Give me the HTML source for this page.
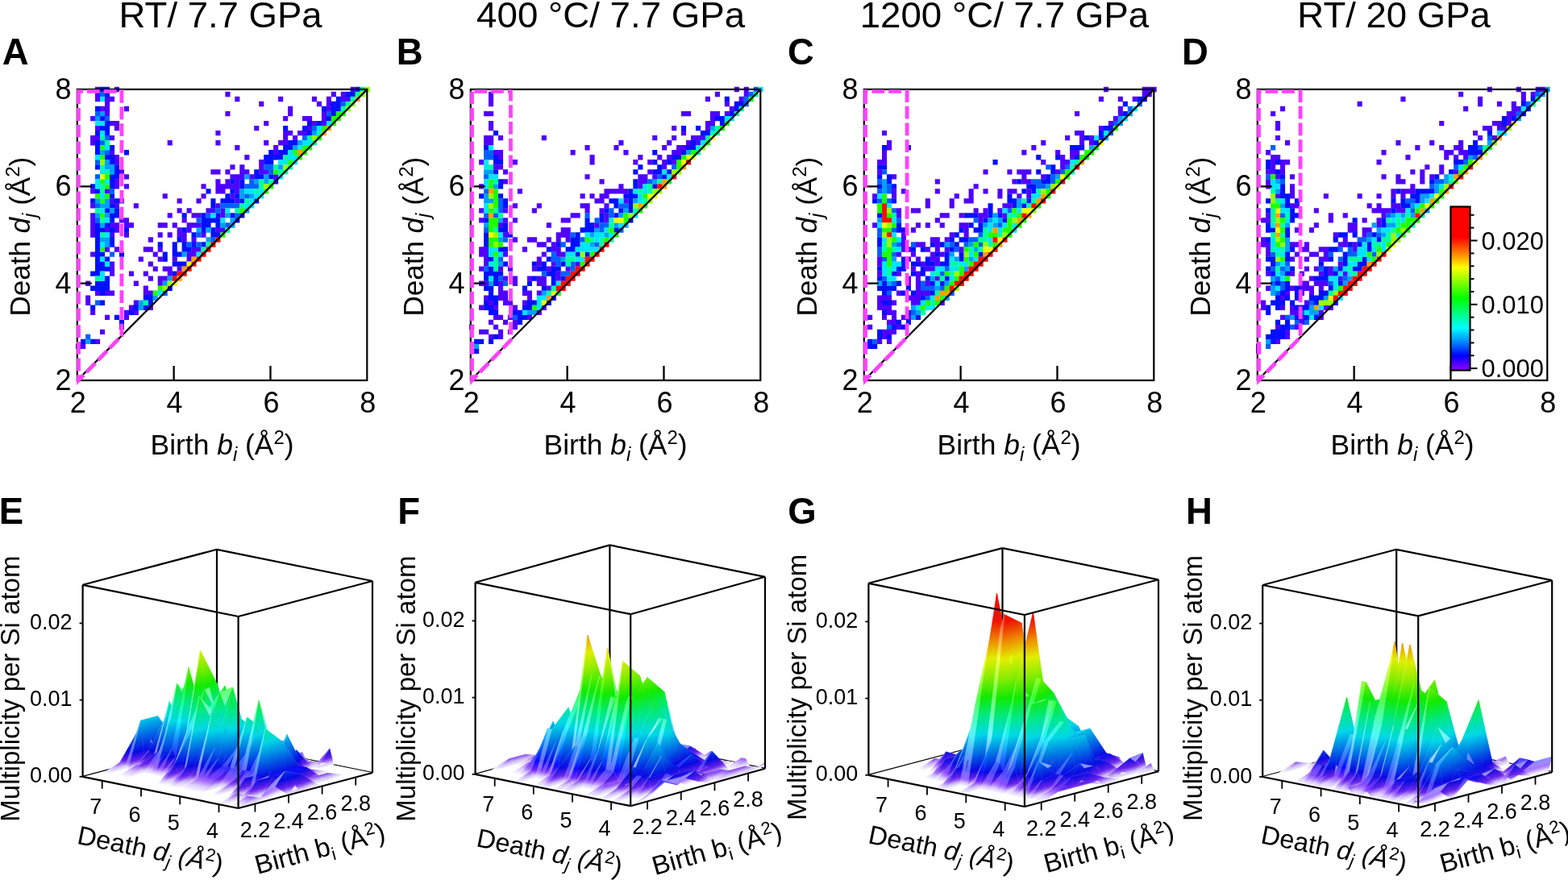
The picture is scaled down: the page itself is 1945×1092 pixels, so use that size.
<!DOCTYPE html>
<html><head><meta charset="utf-8"><style>
html,body{margin:0;padding:0;background:#fff;overflow:hidden}
svg{display:block;font-family:'Liberation Sans', Arial, Helvetica, sans-serif;}
.srf path{stroke-width:.8;stroke-linejoin:round}
.srf path[style]{fill:var(--g);stroke:var(--g)}
.k0{fill:#0a0aff;stroke:#0a0aff}.k1{fill:#a6b9ff;stroke:#a6b9ff}.k2{fill:#8afdda;stroke:#8afdda}.k3{fill:#8b47ff;stroke:#8b47ff}.k4{fill:#0082ff;stroke:#0082ff}.k5{fill:#0721e3;stroke:#0721e3}.k6{fill:#0541ff;stroke:#0541ff}.k7{fill:#10ff1e;stroke:#10ff1e}.k8{fill:#93f8ff;stroke:#93f8ff}.k9{fill:#00d6ff;stroke:#00d6ff}.k10{fill:#b6ff71;stroke:#b6ff71}
</style></head><body>
<svg width="1945" height="1092" viewBox="0 0 1945 1092">
<rect width="100%" height="100%" fill="#fff"/>
<defs><linearGradient id="L0" gradientUnits="userSpaceOnUse"><stop offset="0.000" stop-color="#f9f9f9"/><stop offset="0.008" stop-color="#e3d9f6"/><stop offset="0.016" stop-color="#cdbaf3"/><stop offset="0.028" stop-color="#945fef"/><stop offset="0.040" stop-color="#6522ea"/><stop offset="0.060" stop-color="#3515e3"/><stop offset="0.080" stop-color="#0909e2"/><stop offset="0.120" stop-color="#043ae3"/><stop offset="0.160" stop-color="#006be4"/><stop offset="0.200" stop-color="#009ae5"/><stop offset="0.252" stop-color="#00d8e6"/><stop offset="0.300" stop-color="#00e1b3"/><stop offset="0.340" stop-color="#00e888"/><stop offset="0.392" stop-color="#09e942"/><stop offset="0.440" stop-color="#12ea00"/><stop offset="0.492" stop-color="#51eb00"/><stop offset="0.540" stop-color="#8bec00"/><stop offset="0.588" stop-color="#b7ed00"/><stop offset="0.632" stop-color="#e0ee00"/><stop offset="0.680" stop-color="#e8b900"/><stop offset="0.720" stop-color="#ee8c00"/><stop offset="0.772" stop-color="#ee4d00"/><stop offset="0.820" stop-color="#ee1300"/><stop offset="1.000" stop-color="#ee0a00"/></linearGradient><linearGradient id="L1" gradientUnits="userSpaceOnUse"><stop offset="0.000" stop-color="#ffffff"/><stop offset="0.008" stop-color="#ebe1ff"/><stop offset="0.016" stop-color="#d7c3ff"/><stop offset="0.028" stop-color="#9e66ff"/><stop offset="0.040" stop-color="#6e25ff"/><stop offset="0.060" stop-color="#3c18ff"/><stop offset="0.080" stop-color="#0a0aff"/><stop offset="0.120" stop-color="#0541ff"/><stop offset="0.160" stop-color="#0078ff"/><stop offset="0.200" stop-color="#00acff"/><stop offset="0.252" stop-color="#00f0ff"/><stop offset="0.300" stop-color="#00f8c6"/><stop offset="0.340" stop-color="#00ff96"/><stop offset="0.392" stop-color="#0aff48"/><stop offset="0.440" stop-color="#14ff00"/><stop offset="0.492" stop-color="#58ff00"/><stop offset="0.540" stop-color="#96ff00"/><stop offset="0.588" stop-color="#c5ff00"/><stop offset="0.632" stop-color="#f0ff00"/><stop offset="0.680" stop-color="#f8c600"/><stop offset="0.720" stop-color="#ff9600"/><stop offset="0.772" stop-color="#ff5200"/><stop offset="0.820" stop-color="#ff1400"/><stop offset="1.000" stop-color="#ff0b00"/></linearGradient><linearGradient id="L2" gradientUnits="userSpaceOnUse"><stop offset="0.000" stop-color="#ffffff"/><stop offset="0.008" stop-color="#ece2ff"/><stop offset="0.016" stop-color="#d9c6ff"/><stop offset="0.028" stop-color="#a470ff"/><stop offset="0.040" stop-color="#7a37ff"/><stop offset="0.060" stop-color="#5131ff"/><stop offset="0.080" stop-color="#2626ff"/><stop offset="0.120" stop-color="#2056ff"/><stop offset="0.160" stop-color="#1b86ff"/><stop offset="0.200" stop-color="#1ab5ff"/><stop offset="0.252" stop-color="#19f1ff"/><stop offset="0.300" stop-color="#18f9cb"/><stop offset="0.340" stop-color="#17ffa0"/><stop offset="0.392" stop-color="#20ff58"/><stop offset="0.440" stop-color="#27ff15"/><stop offset="0.492" stop-color="#65ff14"/><stop offset="0.540" stop-color="#9eff13"/><stop offset="0.588" stop-color="#c9ff12"/><stop offset="0.632" stop-color="#f1ff11"/><stop offset="0.680" stop-color="#f9ca11"/><stop offset="0.720" stop-color="#ff9d11"/><stop offset="0.772" stop-color="#ff5e11"/><stop offset="0.820" stop-color="#ff2411"/><stop offset="1.000" stop-color="#ff1b11"/></linearGradient><linearGradient id="L3" gradientUnits="userSpaceOnUse"><stop offset="0.000" stop-color="#ffffff"/><stop offset="0.008" stop-color="#ece3ff"/><stop offset="0.016" stop-color="#dbc9ff"/><stop offset="0.028" stop-color="#ab7bff"/><stop offset="0.040" stop-color="#874aff"/><stop offset="0.060" stop-color="#684cff"/><stop offset="0.080" stop-color="#4444ff"/><stop offset="0.120" stop-color="#3e6cff"/><stop offset="0.160" stop-color="#3996ff"/><stop offset="0.200" stop-color="#37beff"/><stop offset="0.252" stop-color="#34f3ff"/><stop offset="0.300" stop-color="#32fad1"/><stop offset="0.340" stop-color="#31ffaa"/><stop offset="0.392" stop-color="#37ff69"/><stop offset="0.440" stop-color="#3dff2c"/><stop offset="0.492" stop-color="#73ff2a"/><stop offset="0.540" stop-color="#a6ff28"/><stop offset="0.588" stop-color="#cdff25"/><stop offset="0.632" stop-color="#f2ff23"/><stop offset="0.680" stop-color="#f9ce23"/><stop offset="0.720" stop-color="#ffa423"/><stop offset="0.772" stop-color="#ff6a23"/><stop offset="0.820" stop-color="#ff3423"/><stop offset="1.000" stop-color="#ff2c23"/></linearGradient><linearGradient id="L4" gradientUnits="userSpaceOnUse"><stop offset="0.000" stop-color="#ffffff"/><stop offset="0.008" stop-color="#ede5ff"/><stop offset="0.016" stop-color="#ddccff"/><stop offset="0.028" stop-color="#b387ff"/><stop offset="0.040" stop-color="#9561ff"/><stop offset="0.060" stop-color="#836cff"/><stop offset="0.080" stop-color="#6666ff"/><stop offset="0.120" stop-color="#6187ff"/><stop offset="0.160" stop-color="#5ba8ff"/><stop offset="0.200" stop-color="#58c9ff"/><stop offset="0.252" stop-color="#54f5ff"/><stop offset="0.300" stop-color="#50fad8"/><stop offset="0.340" stop-color="#4effb6"/><stop offset="0.392" stop-color="#51ff7d"/><stop offset="0.440" stop-color="#55ff46"/><stop offset="0.492" stop-color="#83ff43"/><stop offset="0.540" stop-color="#b0ff3f"/><stop offset="0.588" stop-color="#d3ff3c"/><stop offset="0.632" stop-color="#f3ff39"/><stop offset="0.680" stop-color="#fad238"/><stop offset="0.720" stop-color="#ffad38"/><stop offset="0.772" stop-color="#ff7838"/><stop offset="0.820" stop-color="#ff4838"/><stop offset="1.000" stop-color="#ff4038"/></linearGradient><linearGradient id="L5" gradientUnits="userSpaceOnUse"><stop offset="0.000" stop-color="#ffffff"/><stop offset="0.008" stop-color="#eee6ff"/><stop offset="0.016" stop-color="#e0d0ff"/><stop offset="0.028" stop-color="#bb93ff"/><stop offset="0.040" stop-color="#a477ff"/><stop offset="0.060" stop-color="#9e8bff"/><stop offset="0.080" stop-color="#8989ff"/><stop offset="0.120" stop-color="#83a1ff"/><stop offset="0.160" stop-color="#7cbaff"/><stop offset="0.200" stop-color="#79d3ff"/><stop offset="0.252" stop-color="#73f7ff"/><stop offset="0.300" stop-color="#6ffbdf"/><stop offset="0.340" stop-color="#6bffc2"/><stop offset="0.392" stop-color="#6cff91"/><stop offset="0.440" stop-color="#6dff61"/><stop offset="0.492" stop-color="#94ff5c"/><stop offset="0.540" stop-color="#baff57"/><stop offset="0.588" stop-color="#d8ff52"/><stop offset="0.632" stop-color="#f5ff4e"/><stop offset="0.680" stop-color="#fad74d"/><stop offset="0.720" stop-color="#ffb64d"/><stop offset="0.772" stop-color="#ff874d"/><stop offset="0.820" stop-color="#ff5b4d"/><stop offset="1.000" stop-color="#ff544d"/></linearGradient><linearGradient id="L6" gradientUnits="userSpaceOnUse"><stop offset="0.000" stop-color="#ffffff"/><stop offset="0.008" stop-color="#efe7ff"/><stop offset="0.016" stop-color="#e2d4ff"/><stop offset="0.028" stop-color="#c3a0ff"/><stop offset="0.040" stop-color="#b38dff"/><stop offset="0.060" stop-color="#b8abff"/><stop offset="0.080" stop-color="#acacff"/><stop offset="0.120" stop-color="#a5bbff"/><stop offset="0.160" stop-color="#9eccff"/><stop offset="0.200" stop-color="#99deff"/><stop offset="0.252" stop-color="#93f9ff"/><stop offset="0.300" stop-color="#8dfce5"/><stop offset="0.340" stop-color="#88ffce"/><stop offset="0.392" stop-color="#86ffa5"/><stop offset="0.440" stop-color="#86ff7b"/><stop offset="0.492" stop-color="#a4ff75"/><stop offset="0.540" stop-color="#c4ff6f"/><stop offset="0.588" stop-color="#ddff69"/><stop offset="0.632" stop-color="#f6ff63"/><stop offset="0.680" stop-color="#fbdc62"/><stop offset="0.720" stop-color="#ffbe62"/><stop offset="0.772" stop-color="#ff9562"/><stop offset="0.820" stop-color="#ff6e62"/><stop offset="1.000" stop-color="#ff6962"/></linearGradient><linearGradient id="q0" href="#L0" x1="540.5" y1="1840.1" x2="514.8" y2="1966.7"/><linearGradient id="q1" href="#L0" x1="550.1" y1="1842.1" x2="524.4" y2="1968.6"/><linearGradient id="q2" href="#L4" x1="524" y1="1848" x2="441" y2="1535"/><linearGradient id="q3" href="#L0" x1="533.3" y1="1838.7" x2="507.6" y2="1965.2"/><linearGradient id="q4" href="#L0" x1="545" y1="1854" x2="315" y2="1288"/><linearGradient id="q5" href="#L4" x1="500" y1="1854" x2="418" y2="1541"/><linearGradient id="q6" href="#L2" x1="504" y1="1872" x2="715" y2="831"/><linearGradient id="q7" href="#L4" x1="482" y1="1859" x2="400" y2="1546"/><linearGradient id="q8" href="#L0" x1="608" y1="1853.8" x2="582.3" y2="1980.4"/><linearGradient id="q9" href="#L0" x1="520" y1="1863" x2="367" y2="1286"/><linearGradient id="qa" href="#L0" x1="494" y1="1865" x2="342" y2="1288"/><linearGradient id="qb" href="#L0" x1="617.7" y1="1855.8" x2="592" y2="1982.4"/><linearGradient id="qc" href="#L0" x1="527.8" y1="1857" x2="502.1" y2="1983.6"/><linearGradient id="qd" href="#L2" x1="499" y1="1870" x2="710" y2="830"/><linearGradient id="qe" href="#L4" x1="592" y1="1862" x2="509" y2="1548"/><linearGradient id="qf" href="#L0" x1="625.9" y1="1857.4" x2="671.3" y2="1633.8"/><linearGradient id="qg" href="#L0" x1="445" y1="1860" x2="506" y2="1558"/><linearGradient id="qh" href="#L4" x1="511" y1="1865" x2="429" y2="1552"/><linearGradient id="qi" href="#L0" x1="600.9" y1="1852.4" x2="575.2" y2="1978.9"/><linearGradient id="qj" href="#L4" x1="639" y1="1862" x2="586" y2="1498"/><linearGradient id="qk" href="#L0" x1="545.7" y1="1860.6" x2="591.1" y2="1636.9"/><linearGradient id="ql" href="#L4" x1="459" y1="1864" x2="407" y2="1500"/><linearGradient id="qm" href="#L0" x1="523" y1="1869" x2="293" y2="1303"/><linearGradient id="qn" href="#L4" x1="613" y1="1864" x2="536" y2="1484"/><linearGradient id="qo" href="#L5" x1="435" y1="1866" x2="342" y2="1459"/><linearGradient id="qp" href="#L0" x1="661" y1="1867" x2="257" y2="1423"/><linearGradient id="qq" href="#L0" x1="556.8" y1="1862.9" x2="531.1" y2="1989.4"/><linearGradient id="qr" href="#L0" x1="482" y1="1869" x2="78" y2="1425"/><linearGradient id="qs" href="#L5" x1="533" y1="1868" x2="429" y2="1476"/><linearGradient id="qt" href="#L0" x1="617.2" y1="1855.7" x2="662.6" y2="1632"/><linearGradient id="qu" href="#L0" x1="467" y1="1860" x2="61" y2="1556"/><linearGradient id="qv" href="#L0" x1="656.3" y1="1863.6" x2="630.6" y2="1990.2"/><linearGradient id="qw" href="#L4" x1="568" y1="1867" x2="516" y2="1503"/><linearGradient id="qx" href="#L0" x1="475.1" y1="1865.7" x2="520.5" y2="1642.1"/><linearGradient id="qy" href="#L0" x1="549" y1="1872" x2="281" y2="1393"/><linearGradient id="qz" href="#L0" x1="628.4" y1="1845" x2="642.2" y2="1777"/><linearGradient id="q10" href="#L0" x1="448.7" y1="1847.4" x2="462.5" y2="1779.4"/><linearGradient id="q11" href="#L0" x1="665.9" y1="1865.6" x2="640.2" y2="1992.2"/><linearGradient id="q12" href="#L0" x1="575.2" y1="1853.6" x2="589" y2="1785.6"/><linearGradient id="q13" href="#L3" x1="488" y1="1870" x2="456" y2="1483"/><linearGradient id="q14" href="#L4" x1="552" y1="1871" x2="475" y2="1491"/><linearGradient id="q15" href="#L0" x1="649" y1="1873" x2="381" y2="1394"/><linearGradient id="q16" href="#L0" x1="456.8" y1="1862" x2="502.2" y2="1638.4"/><linearGradient id="q17" href="#L4" x1="590" y1="1868" x2="540" y2="1465"/><linearGradient id="q18" href="#L5" x1="415" y1="1870" x2="294" y2="1490"/><linearGradient id="q19" href="#L0" x1="477" y1="1854" x2="634" y2="1572"/><linearGradient id="q1a" href="#L0" x1="557.8" y1="1850.1" x2="571.7" y2="1782.1"/><linearGradient id="q1b" href="#L0" x1="649.1" y1="1862.2" x2="623.4" y2="1988.7"/><linearGradient id="q1c" href="#L3" x1="472" y1="1872" x2="426" y2="1478"/><linearGradient id="q1d" href="#L0" x1="589.7" y1="1851.9" x2="639.4" y2="1607"/><linearGradient id="q1e" href="#L0" x1="467" y1="1825" x2="111" y2="1730"/><linearGradient id="q1f" href="#L4" x1="511" y1="1874" x2="458" y2="1443"/><linearGradient id="q1g" href="#L5" x1="577" y1="1872" x2="489" y2="1460"/><linearGradient id="q1h" href="#L0" x1="661" y1="1878" x2="431" y2="1312"/><linearGradient id="q1i" href="#L5" x1="494" y1="1873" x2="398" y2="1439"/><linearGradient id="q1j" href="#L0" x1="410" y1="1877" x2="181" y2="1441"/><linearGradient id="q1k" href="#L5" x1="700" y1="1873" x2="596" y2="1481"/><linearGradient id="q1l" href="#L0" x1="537" y1="1880" x2="253" y2="1414"/><linearGradient id="q1m" href="#L0" x1="571.1" y1="1848.1" x2="620.9" y2="1603.2"/><linearGradient id="q1n" href="#L0" x1="535.2" y1="1810.7" x2="279.6" y2="1718.9"/><linearGradient id="q1o" href="#L5" x1="416" y1="1873" x2="295" y2="1464"/><linearGradient id="q1p" href="#L0" x1="710" y1="1880" x2="557" y2="1390"/><linearGradient id="q1q" href="#L0" x1="628" y1="1883" x2="419" y2="1370"/><linearGradient id="q1r" href="#L0" x1="426" y1="1865" x2="494" y2="1531"/><linearGradient id="q1s" href="#L5" x1="531" y1="1875" x2="436" y2="1518"/><linearGradient id="q1t" href="#L0" x1="608" y1="1881" x2="419" y2="1415"/><linearGradient id="q1u" href="#L5" x1="680" y1="1879" x2="577" y2="1486"/><linearGradient id="q1v" href="#L0" x1="528" y1="1877" x2="319" y2="1442"/><linearGradient id="q1w" href="#L0" x1="431" y1="1880" x2="252" y2="1438"/><linearGradient id="q1x" href="#L0" x1="712.7" y1="1875.1" x2="758.1" y2="1651.4"/><linearGradient id="q1y" href="#L0" x1="623.4" y1="1863.4" x2="637.2" y2="1795.4"/><linearGradient id="q1z" href="#L2" x1="445" y1="1876" x2="440" y2="1453"/><linearGradient id="q20" href="#L0" x1="528.8" y1="1858.9" x2="578.5" y2="1614.1"/><linearGradient id="q21" href="#L0" x1="696" y1="1886" x2="555" y2="1354"/><linearGradient id="q22" href="#L0" x1="534" y1="1883" x2="194" y2="1432"/><linearGradient id="q23" href="#L5" x1="432" y1="1879" x2="322" y2="1462"/><linearGradient id="q24" href="#L0" x1="722.4" y1="1877" x2="767.8" y2="1653.4"/><linearGradient id="q25" href="#L0" x1="655" y1="1867" x2="232" y2="1742"/><linearGradient id="q26" href="#L0" x1="390" y1="1887" x2="201" y2="1421"/><linearGradient id="q27" href="#L5" x1="483" y1="1870" x2="327" y2="1487"/><linearGradient id="q28" href="#L5" x1="558" y1="1875" x2="453" y2="1478"/><linearGradient id="q29" href="#L0" x1="606.1" y1="1859.9" x2="619.9" y2="1791.9"/><linearGradient id="q2a" href="#L4" x1="700" y1="1881" x2="623" y2="1502"/><linearGradient id="q2b" href="#L5" x1="529" y1="1879" x2="424" y2="1482"/><linearGradient id="q2c" href="#L4" x1="439" y1="1879" x2="383" y2="1447"/><linearGradient id="q2d" href="#L5" x1="734.3" y1="1883.3" x2="632.4" y2="1632.2"/><linearGradient id="q2e" href="#L5" x1="394" y1="1880" x2="284" y2="1463"/><linearGradient id="q2f" href="#L0" x1="642.2" y1="1880.2" x2="687.6" y2="1656.5"/><linearGradient id="q2g" href="#L0" x1="553" y1="1858" x2="278" y2="1479"/><linearGradient id="q2h" href="#L0" x1="539" y1="1857" x2="607" y2="1523"/><linearGradient id="q2i" href="#L4" x1="621" y1="1880" x2="560" y2="1503"/><linearGradient id="q2j" href="#L0" x1="704.1" y1="1873.3" x2="749.5" y2="1649.7"/><linearGradient id="q2k" href="#L5" x1="366" y1="1865" x2="243" y2="1562"/><linearGradient id="q2l" href="#L0" x1="519.9" y1="1857.1" x2="569.6" y2="1612.3"/><linearGradient id="q2m" href="#L0" x1="470" y1="1883" x2="294" y2="1449"/><linearGradient id="q2n" href="#L0" x1="748" y1="1890" x2="518" y2="1323"/><linearGradient id="q2o" href="#L0" x1="396" y1="1893" x2="285" y2="1415"/><linearGradient id="q2p" href="#L5" x1="658" y1="1885" x2="533" y2="1517"/><linearGradient id="q2q" href="#L0" x1="499" y1="1891" x2="350" y2="1417"/><linearGradient id="q2r" href="#L0" x1="610.8" y1="1795.2" x2="396.9" y2="1745.5"/><linearGradient id="q2s" href="#L0" x1="653" y1="1879" x2="247" y2="1574"/><linearGradient id="q2t" href="#L4" x1="367" y1="1883" x2="304" y2="1470"/><linearGradient id="q2u" href="#L0" x1="721" y1="1889" x2="530" y2="1417"/><linearGradient id="q2v" href="#L5" x1="561" y1="1878" x2="450" y2="1461"/><linearGradient id="q2w" href="#L5" x1="488" y1="1873" x2="345" y2="1465"/><linearGradient id="q2x" href="#L0" x1="752.8" y1="1883.2" x2="727.1" y2="2009.8"/><linearGradient id="q2y" href="#L0" x1="676" y1="1893" x2="468" y2="1379"/><linearGradient id="q2z" href="#L5" x1="413" y1="1881" x2="261" y2="1506"/><linearGradient id="q30" href="#L0" x1="448.3" y1="1845.5" x2="616" y2="1600.4"/><linearGradient id="q31" href="#L0" x1="564" y1="1874" x2="632" y2="1539"/><linearGradient id="q32" href="#L0" x1="646" y1="1892" x2="378" y2="1413"/><linearGradient id="q33" href="#L5" x1="728" y1="1885.9" x2="626.1" y2="1634.8"/><linearGradient id="q34" href="#L0" x1="387" y1="1894" x2="264" y2="1428"/><linearGradient id="q35" href="#L4" x1="565" y1="1880" x2="503" y2="1447"/><linearGradient id="q36" href="#L0" x1="500" y1="1884" x2="340" y2="1445"/><linearGradient id="q37" href="#L6" x1="424.9" y1="1816.5" x2="311.2" y2="1751.1"/><linearGradient id="q38" href="#L4" x1="677" y1="1886" x2="627" y2="1482"/><linearGradient id="q39" href="#L2" x1="497" y1="1888" x2="479" y2="1440"/><linearGradient id="q3a" href="#L0" x1="567" y1="1880" x2="648" y2="1478"/><linearGradient id="q3b" href="#L5" x1="653" y1="1883" x2="530" y2="1579"/><linearGradient id="q3c" href="#L5" x1="384" y1="1886" x2="261" y2="1583"/><linearGradient id="q3d" href="#L0" x1="736" y1="1879.8" x2="710.3" y2="2006.4"/><linearGradient id="q3e" href="#L0" x1="612" y1="1872" x2="383" y2="1492"/><linearGradient id="q3f" href="#L5" x1="491" y1="1886" x2="385" y2="1453"/><linearGradient id="q3g" href="#L0" x1="432" y1="1897" x2="318" y2="1428"/><linearGradient id="q3h" href="#L5" x1="333.2" y1="1858" x2="233.4" y2="1772"/><linearGradient id="q3i" href="#L0" x1="487" y1="1866" x2="555" y2="1532"/><linearGradient id="q3j" href="#L5" x1="601.2" y1="1871.3" x2="483.3" y2="1714.3"/><linearGradient id="q3k" href="#L5" x1="663" y1="1890" x2="576" y2="1478"/><linearGradient id="q3l" href="#L0" x1="748" y1="1896" x2="518" y2="1329"/><linearGradient id="q3m" href="#L0" x1="390" y1="1905" x2="355" y2="1378"/><linearGradient id="q3n" href="#L4" x1="586" y1="1888" x2="502" y2="1448"/><linearGradient id="q3o" href="#L3" x1="484" y1="1889" x2="458" y2="1440"/><linearGradient id="q3p" href="#L5" x1="456" y1="1881" x2="291" y2="1497"/><linearGradient id="q3q" href="#L0" x1="702" y1="1897" x2="510" y2="1425"/><linearGradient id="q3r" href="#L5" x1="544" y1="1880" x2="410" y2="1483"/><linearGradient id="q3s" href="#L0" x1="567.1" y1="1850.2" x2="734.8" y2="1605.1"/><linearGradient id="q3t" href="#L0" x1="686" y1="1897" x2="497" y2="1431"/><linearGradient id="q3u" href="#L5" x1="347" y1="1868" x2="685" y2="1625"/><linearGradient id="q3v" href="#L0" x1="604" y1="1890" x2="440" y2="1463"/><linearGradient id="q3w" href="#L5" x1="297.1" y1="1876" x2="462" y2="1924.6"/><linearGradient id="q3x" href="#L0" x1="561" y1="1869" x2="336" y2="1486"/><linearGradient id="q3y" href="#L0" x1="791.4" y1="1891.1" x2="765.7" y2="2017.6"/><linearGradient id="q3z" href="#L0" x1="456" y1="1900" x2="348" y2="1433"/><linearGradient id="q40" href="#L4" x1="703" y1="1895" x2="620" y2="1582"/><linearGradient id="q41" href="#L0" x1="352" y1="1903" x2="236" y2="1434"/><linearGradient id="q42" href="#L4" x1="545" y1="1884" x2="494" y2="1445"/><linearGradient id="q43" href="#L0" x1="646" y1="1885" x2="275" y2="1566"/><linearGradient id="q44" href="#L2" x1="387" y1="1945" x2="575" y2="1021"/><linearGradient id="q45" href="#L0" x1="316" y1="1909" x2="299" y2="1363"/><linearGradient id="q46" href="#L5" x1="608" y1="1892" x2="484" y2="1464"/><linearGradient id="q47" href="#L0" x1="553" y1="1889" x2="310" y2="1468"/><linearGradient id="q48" href="#L5" x1="805" y1="1896" x2="664" y2="1550"/><linearGradient id="q49" href="#L0" x1="710.3" y1="1881.1" x2="724.1" y2="1813.1"/><linearGradient id="q4a" href="#L5" x1="481" y1="1884" x2="336" y2="1482"/><linearGradient id="q4b" href="#L5" x1="356.6" y1="1896.9" x2="219.2" y2="1651"/><linearGradient id="q4c" href="#L0" x1="594" y1="1889" x2="418" y2="1453"/><linearGradient id="q4d" href="#L4" x1="626" y1="1895" x2="575" y2="1491"/><linearGradient id="q4e" href="#L0" x1="694" y1="1902" x2="426" y2="1422"/><linearGradient id="q4f" href="#L4" x1="775" y1="1899" x2="692" y2="1586"/><linearGradient id="q4g" href="#L4" x1="395" y1="1912" x2="499" y2="1400"/><linearGradient id="q4h" href="#L0" x1="638" y1="1888" x2="443" y2="1479"/><linearGradient id="q4i" href="#L4" x1="316" y1="1911" x2="426" y2="1374"/><linearGradient id="q4j" href="#L5" x1="553" y1="1885" x2="429" y2="1458"/><linearGradient id="q4k" href="#L0" x1="368" y1="1910" x2="227" y2="1377"/><linearGradient id="q4l" href="#L0" x1="814" y1="1902" x2="682" y2="1404"/><linearGradient id="q4m" href="#L0" x1="725" y1="1905" x2="496" y2="1338"/><linearGradient id="q4n" href="#L5" x1="584" y1="1882" x2="451" y2="1477"/><linearGradient id="q4o" href="#L5" x1="646" y1="1890" x2="504" y2="1539"/><linearGradient id="q4p" href="#L5" x1="698" y1="1898" x2="604" y2="1541"/><linearGradient id="q4q" href="#L5" x1="446" y1="1895" x2="312" y2="1498"/><linearGradient id="q4r" href="#L0" x1="786" y1="1903" x2="556" y2="1337"/><linearGradient id="q4s" href="#L0" x1="596" y1="1886" x2="661" y2="1566"/><linearGradient id="q4t" href="#L2" x1="332" y1="1914" x2="544" y2="874"/><linearGradient id="q4u" href="#L0" x1="600" y1="1886" x2="424" y2="1452"/><linearGradient id="q4v" href="#L0" x1="729" y1="1897.8" x2="774.4" y2="1674.2"/><linearGradient id="q4w" href="#L0" x1="485" y1="1910" x2="406" y2="1429"/><linearGradient id="q4x" href="#L5" x1="377" y1="1901" x2="254" y2="1597"/><linearGradient id="q4y" href="#L5" x1="282.1" y1="1908.2" x2="180.2" y2="1657.1"/><linearGradient id="q4z" href="#L0" x1="591" y1="1896" x2="434" y2="1463"/><linearGradient id="q50" href="#L0" x1="667" y1="1904" x2="478" y2="1438"/><linearGradient id="q51" href="#L0" x1="713" y1="1907" x2="505" y2="1394"/><linearGradient id="q52" href="#L3" x1="790" y1="1910" x2="930" y2="1220"/><linearGradient id="q53" href="#L0" x1="451" y1="1914" x2="385" y2="1418"/><linearGradient id="q54" href="#L5" x1="346.7" y1="1895.5" x2="276.8" y2="1818.7"/><linearGradient id="q55" href="#L0" x1="634" y1="1906" x2="445" y2="1440"/><linearGradient id="q56" href="#L0" x1="605" y1="1883" x2="355" y2="1484"/><linearGradient id="q57" href="#L0" x1="478" y1="1915" x2="435" y2="1411"/><linearGradient id="q58" href="#L0" x1="738.7" y1="1899.8" x2="784.1" y2="1676.1"/><linearGradient id="q59" href="#L3" x1="373" y1="1923" x2="513" y2="1232"/><linearGradient id="q5a" href="#L5" x1="591" y1="1896" x2="455" y2="1477"/><linearGradient id="q5b" href="#L0" x1="292" y1="1914" x2="140" y2="1337"/><linearGradient id="q5c" href="#L0" x1="641" y1="1889" x2="709" y2="1555"/><linearGradient id="q5d" href="#L4" x1="716" y1="1904" x2="639" y2="1525"/><linearGradient id="q5e" href="#L2" x1="436" y1="1919" x2="468" y2="1411"/><linearGradient id="q5f" href="#L5" x1="643" y1="1892" x2="501" y2="1540"/><linearGradient id="q5g" href="#L3" x1="487" y1="1969" x2="618" y2="1325"/><linearGradient id="q5h" href="#L6" x1="537" y1="1880" x2="361" y2="1502"/><linearGradient id="q5i" href="#L5" x1="750.6" y1="1906.1" x2="648.7" y2="1655"/><linearGradient id="q5j" href="#L3" x1="383" y1="1925" x2="523" y2="1234"/><linearGradient id="q5k" href="#L0" x1="628" y1="1895" x2="454" y2="1466"/><linearGradient id="q5l" href="#L0" x1="673" y1="1912" x2="465" y2="1398"/><linearGradient id="q5m" href="#L0" x1="720.4" y1="1896.1" x2="765.8" y2="1672.4"/><linearGradient id="q5n" href="#L2" x1="271" y1="1922" x2="483" y2="881"/><linearGradient id="q5o" href="#L0" x1="458" y1="1917" x2="421" y2="1411"/><linearGradient id="q5p" href="#L0" x1="366" y1="1918" x2="285" y2="1349"/><linearGradient id="q5q" href="#L4" x1="643" y1="1901" x2="580" y2="1488"/><linearGradient id="q5r" href="#L0" x1="601" y1="1853" x2="303" y2="1681"/><linearGradient id="q5s" href="#L0" x1="781" y1="1893" x2="357" y2="1768"/><linearGradient id="q5t" href="#L0" x1="526" y1="1915" x2="440" y2="1436"/><linearGradient id="q5u" href="#L6" x1="418" y1="1901" x2="242" y2="1563"/><linearGradient id="q5v" href="#L5" x1="675" y1="1903" x2="552" y2="1600"/><linearGradient id="q5w" href="#L0" x1="738" y1="1911" x2="546" y2="1440"/><linearGradient id="q5x" href="#L6" x1="485" y1="1893" x2="299" y2="1605"/><linearGradient id="q5y" href="#L0" x1="666" y1="1908" x2="487" y2="1466"/><linearGradient id="q5z" href="#L3" x1="369" y1="1922" x2="510" y2="1231"/><linearGradient id="q60" href="#L5" x1="608" y1="1880" x2="453" y2="1498"/><linearGradient id="q61" href="#L0" x1="529" y1="1923" x2="437" y2="1426"/><linearGradient id="q62" href="#L0" x1="419" y1="1919" x2="335" y2="1426"/><linearGradient id="q63" href="#L0" x1="628" y1="1906" x2="385" y2="1485"/><linearGradient id="q64" href="#L5" x1="320.7" y1="1916" x2="218.8" y2="1664.9"/><linearGradient id="q65" href="#L0" x1="706.2" y1="1861" x2="468.9" y2="1843.8"/><linearGradient id="q66" href="#L5" x1="748" y1="1910" x2="630" y2="1509"/><linearGradient id="q67" href="#L6" x1="433.7" y1="1765.8" x2="553.6" y2="1756.8"/><linearGradient id="q68" href="#L3" x1="379" y1="1924" x2="519" y2="1233"/><linearGradient id="q69" href="#L0" x1="606" y1="1904" x2="432" y2="1475"/><linearGradient id="q6a" href="#L0" x1="662" y1="1916" x2="454" y2="1403"/><linearGradient id="q6b" href="#L0" x1="778.7" y1="1907.9" x2="753" y2="2034.5"/><linearGradient id="q6c" href="#L4" x1="483" y1="1932" x2="591" y2="1397"/><linearGradient id="q6d" href="#L0" x1="423" y1="1924" x2="360" y2="1378"/><linearGradient id="q6e" href="#L2" x1="325" y1="1932" x2="536" y2="892"/><linearGradient id="q6f" href="#L3" x1="606" y1="1909" x2="572" y2="1467"/><linearGradient id="q6g" href="#L4" x1="693" y1="1909" x2="643" y2="1505"/><linearGradient id="q6h" href="#L0" x1="759" y1="1914" x2="576" y2="1464"/><linearGradient id="q6i" href="#L3" x1="449" y1="1943" x2="562" y2="1386"/><linearGradient id="q6j" href="#L4" x1="384" y1="1925" x2="493" y2="1387"/><linearGradient id="q6k" href="#L5" x1="676" y1="1910" x2="554" y2="1493"/><linearGradient id="q6l" href="#L5" x1="591" y1="1899" x2="491" y2="1520"/><linearGradient id="q6m" href="#L0" x1="607" y1="1889" x2="333" y2="1509"/><linearGradient id="q6n" href="#L0" x1="788.4" y1="1909.9" x2="762.7" y2="2036.5"/><linearGradient id="q6o" href="#L0" x1="432" y1="1922" x2="301" y2="1424"/><linearGradient id="q6p" href="#L4" x1="623" y1="1904" x2="561" y2="1491"/><linearGradient id="q6q" href="#L0" x1="340" y1="1923" x2="188" y2="1347"/><linearGradient id="q6r" href="#L0" x1="692.8" y1="1892.3" x2="742.6" y2="1647.4"/><linearGradient id="q6s" href="#L4" x1="762" y1="1916" x2="679" y2="1603"/><linearGradient id="q6t" href="#L2" x1="310" y1="1929" x2="521" y2="889"/><linearGradient id="q6u" href="#L0" x1="513" y1="1922" x2="412" y2="1441"/><linearGradient id="q6v" href="#L0" x1="720" y1="1883" x2="382" y2="1657"/><linearGradient id="q6w" href="#L3" x1="397" y1="1928" x2="521" y2="1315"/><linearGradient id="q6x" href="#L4" x1="602" y1="1911" x2="518" y2="1471"/><linearGradient id="q6y" href="#L6" x1="575" y1="1890" x2="404" y2="1530"/><linearGradient id="q6z" href="#L0" x1="798" y1="1911.9" x2="772.3" y2="2038.4"/><linearGradient id="q70" href="#L5" x1="444" y1="1919" x2="296" y2="1552"/><linearGradient id="q71" href="#L0" x1="643" y1="1918" x2="488" y2="1460"/><linearGradient id="q72" href="#L0" x1="714" y1="1920" x2="561" y2="1430"/><linearGradient id="q73" href="#L0" x1="771.6" y1="1906.5" x2="745.9" y2="2033.1"/><linearGradient id="q74" href="#L2" x1="320" y1="1931" x2="531" y2="891"/><linearGradient id="q75" href="#L5" x1="541" y1="1904" x2="396" y2="1496"/><linearGradient id="q76" href="#L3" x1="408" y1="1930" x2="548" y2="1239"/><linearGradient id="q77" href="#L0" x1="674.3" y1="1888.5" x2="724" y2="1643.6"/><linearGradient id="q78" href="#L0" x1="680" y1="1873" x2="388" y2="1557"/><linearGradient id="q79" href="#L0" x1="565" y1="1921" x2="451" y2="1456"/><linearGradient id="q7a" href="#L6" x1="470" y1="1901" x2="283" y2="1632"/><linearGradient id="q7b" href="#L0" x1="641" y1="1925" x2="433" y2="1411"/><linearGradient id="q7c" href="#L5" x1="724" y1="1917" x2="575" y2="1550"/><linearGradient id="q7d" href="#L0" x1="781.2" y1="1908.5" x2="755.5" y2="2035"/><linearGradient id="q7e" href="#L0" x1="555" y1="1915" x2="395" y2="1475"/><linearGradient id="q7f" href="#L0" x1="706" y1="1921" x2="546" y2="1461"/><linearGradient id="q7g" href="#L0" x1="638" y1="1919" x2="484" y2="1461"/><linearGradient id="q7h" href="#L4" x1="563" y1="1911" x2="500" y2="1498"/><linearGradient id="q7i" href="#L3" x1="436" y1="1946" x2="554" y2="1366"/><linearGradient id="q7j" href="#L5" x1="656" y1="1916" x2="560" y2="1482"/><linearGradient id="q7k" href="#L0" x1="738" y1="1923" x2="576" y2="1459"/><linearGradient id="q7l" href="#L0" x1="793" y1="1924" x2="563" y2="1358"/><linearGradient id="q7m" href="#L0" x1="522" y1="1937" x2="518" y2="1419"/><linearGradient id="q7n" href="#L3" x1="426" y1="1934" x2="550" y2="1321"/><linearGradient id="q7o" href="#L0" x1="703" y1="1925" x2="473" y2="1359"/><linearGradient id="q7p" href="#L0" x1="631" y1="1925" x2="442" y2="1459"/><linearGradient id="q7q" href="#L6" x1="604" y1="1896" x2="433" y2="1536"/><linearGradient id="q7r" href="#L0" x1="480" y1="1929" x2="369" y2="1451"/><linearGradient id="q7s" href="#L0" x1="673" y1="1933" x2="538" y2="1422"/><linearGradient id="q7t" href="#L1" x1="736" y1="1920" x2="742" y2="1502"/><linearGradient id="q7u" href="#L5" x1="555" y1="1917" x2="433" y2="1500"/><linearGradient id="q7v" href="#L6" x1="456.1" y1="1893.1" x2="307.3" y2="1771.8"/><linearGradient id="q7w" href="#L5" x1="721" y1="1915" x2="562" y2="1607"/><linearGradient id="q7x" href="#L5" x1="635" y1="1921" x2="530" y2="1489"/><linearGradient id="q7y" href="#L0" x1="836.6" y1="1919.7" x2="810.9" y2="2046.3"/><linearGradient id="q7z" href="#L0" x1="583" y1="1937" x2="525" y2="1437"/><linearGradient id="q80" href="#L5" x1="506" y1="1915" x2="334" y2="1535"/><linearGradient id="q81" href="#L0" x1="650.3" y1="1869.7" x2="683.9" y2="1704.4"/><linearGradient id="q82" href="#L0" x1="745.9" y1="1907.7" x2="759.7" y2="1839.7"/><linearGradient id="q83" href="#L0" x1="577" y1="1927" x2="423" y2="1468"/><linearGradient id="q84" href="#L5" x1="729" y1="1924" x2="638" y2="1494"/><linearGradient id="q85" href="#L0" x1="667" y1="1925" x2="513" y2="1467"/><linearGradient id="q86" href="#L0" x1="454" y1="1938" x2="419" y2="1410"/><linearGradient id="q87" href="#L0" x1="596" y1="1933" x2="495" y2="1452"/><linearGradient id="q88" href="#L0" x1="511" y1="1931" x2="403" y2="1463"/><linearGradient id="q89" href="#L0" x1="725" y1="1882" x2="442" y2="1642"/><linearGradient id="q8a" href="#L2" x1="752" y1="1941" x2="963" y2="900"/><linearGradient id="q8b" href="#L4" x1="820" y1="1927" x2="737" y2="1614"/><linearGradient id="q8c" href="#L0" x1="551" y1="1943" x2="547" y2="1424"/><linearGradient id="q8d" href="#L0" x1="463" y1="1937" x2="381" y2="1369"/><linearGradient id="q8e" href="#L0" x1="752" y1="1924" x2="553" y2="1500"/><linearGradient id="q8f" href="#L5" x1="659" y1="1913" x2="558" y2="1534"/><linearGradient id="q8g" href="#L0" x1="600" y1="1935" x2="470" y2="1443"/><linearGradient id="q8h" href="#L0" x1="503" y1="1941" x2="437" y2="1407"/><linearGradient id="q8i" href="#L0" x1="691" y1="1931" x2="287" y2="1487"/><linearGradient id="q8j" href="#L0" x1="781" y1="1930" x2="377" y2="1486"/><linearGradient id="q8k" href="#L0" x1="831" y1="1932" x2="602" y2="1366"/><linearGradient id="q8l" href="#L0" x1="561" y1="1944" x2="554" y2="1416"/><linearGradient id="q8m" href="#L5" x1="425.4" y1="1875.4" x2="690.2" y2="1762.6"/><linearGradient id="q8n" href="#L0" x1="745" y1="1933" x2="580" y2="1447"/><linearGradient id="q8o" href="#L5" x1="676" y1="1921" x2="577" y2="1490"/><linearGradient id="q8p" href="#L6" x1="533" y1="1917" x2="349" y2="1576"/><linearGradient id="q8q" href="#L5" x1="621" y1="1921" x2="464" y2="1534"/><linearGradient id="q8r" href="#L5" x1="420" y1="1935" x2="280" y2="1589"/><linearGradient id="q8s" href="#L4" x1="691" y1="1930" x2="639" y2="1499"/><linearGradient id="q8t" href="#L0" x1="774.3" y1="1926.5" x2="819.7" y2="1702.8"/><linearGradient id="q8u" href="#L3" x1="554" y1="1958" x2="690" y2="1288"/><linearGradient id="q8v" href="#L0" x1="485" y1="1943" x2="419" y2="1410"/><linearGradient id="q8w" href="#L5" x1="753" y1="1931" x2="635" y2="1554"/><linearGradient id="q8x" href="#L0" x1="691" y1="1925" x2="511" y2="1509"/><linearGradient id="q8y" href="#L0" x1="624" y1="1939" x2="524" y2="1457"/><linearGradient id="q8z" href="#L0" x1="531" y1="1940" x2="442" y2="1456"/><linearGradient id="q90" href="#L0" x1="430" y1="1942" x2="322" y2="1407"/><linearGradient id="q91" href="#L5" x1="715" y1="1923" x2="563" y2="1548"/><linearGradient id="q92" href="#L0" x1="783.9" y1="1928.4" x2="829.3" y2="1704.8"/><linearGradient id="q93" href="#L0" x1="491" y1="1944" x2="445" y2="1386"/><linearGradient id="q94" href="#L0" x1="756" y1="1922.8" x2="801.4" y2="1699.1"/><linearGradient id="q95" href="#L5" x1="678" y1="1933" x2="586" y2="1503"/><linearGradient id="q96" href="#L6" x1="640.2" y1="1893.4" x2="483.1" y2="1705.9"/><linearGradient id="q97" href="#L0" x1="532" y1="1947" x2="466" y2="1413"/><linearGradient id="q98" href="#L0" x1="437" y1="1943" x2="285" y2="1366"/><linearGradient id="q99" href="#L0" x1="721" y1="1938" x2="596" y2="1465"/><linearGradient id="q9a" href="#L4" x1="797" y1="1934" x2="714" y2="1621"/><linearGradient id="q9b" href="#L4" x1="571" y1="1950" x2="680" y2="1415"/><linearGradient id="q9c" href="#L3" x1="405" y1="1949" x2="545" y2="1258"/><linearGradient id="q9d" href="#L0" x1="765.6" y1="1924.7" x2="811" y2="1701.1"/><linearGradient id="q9e" href="#L0" x1="702" y1="1935" x2="522" y2="1493"/><linearGradient id="q9f" href="#L5" x1="469" y1="1938" x2="717" y2="1493"/><linearGradient id="q9g" href="#L6" x1="672" y1="1903" x2="479" y2="1584"/><linearGradient id="q9h" href="#L0" x1="542" y1="1948" x2="452" y2="1399"/><linearGradient id="q9i" href="#L5" x1="449" y1="1940" x2="309" y2="1595"/><linearGradient id="q9j" href="#L0" x1="748" y1="1918" x2="430" y2="1659"/><linearGradient id="q9k" href="#L0" x1="806" y1="1940" x2="654" y2="1363"/><linearGradient id="q9l" href="#L2" x1="416" y1="1951" x2="627" y2="910"/><linearGradient id="q9m" href="#L3" x1="583" y1="1964" x2="719" y2="1294"/><linearGradient id="q9n" href="#L0" x1="788" y1="1940" x2="520" y2="1461"/><linearGradient id="q9o" href="#L3" x1="499" y1="1953" x2="620" y2="1358"/><linearGradient id="q9p" href="#L3" x1="672" y1="1955" x2="790" y2="1375"/><linearGradient id="q9q" href="#L0" x1="658" y1="1940" x2="537" y2="1483"/><linearGradient id="q9r" href="#L2" x1="534" y1="1968" x2="705" y2="1122"/><linearGradient id="q9s" href="#L0" x1="459" y1="1948" x2="351" y2="1412"/><linearGradient id="q9t" href="#L4" x1="730" y1="1938" x2="677" y2="1507"/><linearGradient id="q9u" href="#L3" x1="592" y1="1958" x2="710" y2="1378"/><linearGradient id="q9v" href="#L0" x1="791" y1="1944" x2="638" y2="1368"/><linearGradient id="q9w" href="#L3" x1="509" y1="1958" x2="645" y2="1288"/><linearGradient id="q9x" href="#L5" x1="712" y1="1936" x2="602" y2="1518"/><linearGradient id="q9y" href="#L5" x1="664" y1="1932" x2="512" y2="1557"/><linearGradient id="q9z" href="#L2" x1="543" y1="1970" x2="715" y2="1124"/><linearGradient id="qa0" href="#L0" x1="466" y1="1949" x2="313" y2="1372"/><linearGradient id="qa1" href="#L3" x1="434" y1="1955" x2="574" y2="1264"/><linearGradient id="qa2" href="#L4" x1="597" y1="1953" x2="701" y2="1441"/><linearGradient id="qa3" href="#L2" x1="519" y1="1965" x2="691" y2="1119"/><linearGradient id="qa4" href="#L0" x1="695" y1="1930" x2="772" y2="1553"/><linearGradient id="qa5" href="#L0" x1="670" y1="1947" x2="545" y2="1474"/><linearGradient id="qa6" href="#L3" x1="556" y1="1960" x2="697" y2="1269"/><linearGradient id="qa7" href="#L5" x1="475.1" y1="1947.4" x2="373.2" y2="1696.3"/><linearGradient id="qa8" href="#L2" x1="445" y1="1957" x2="656" y2="916"/><linearGradient id="qa9" href="#L2" x1="529" y1="1967" x2="701" y2="1121"/><linearGradient id="qaa" href="#L0" x1="740" y1="1943" x2="561" y2="1501"/><linearGradient id="qab" href="#L3" x1="566" y1="1962" x2="706" y2="1271"/><linearGradient id="qac" href="#L0" x1="767" y1="1951" x2="558" y2="1437"/><linearGradient id="qad" href="#L2" x1="479" y1="1964" x2="691" y2="923"/><linearGradient id="qae" href="#L3" x1="621" y1="1964" x2="739" y2="1384"/><linearGradient id="qaf" href="#L0" x1="550" y1="1955" x2="468" y2="1386"/><linearGradient id="qag" href="#L5" x1="693" y1="1938" x2="541" y2="1563"/><linearGradient id="qah" href="#L3" x1="576" y1="1964" x2="716" y2="1273"/><linearGradient id="qai" href="#L0" x1="764" y1="1951" x2="612" y2="1374"/><linearGradient id="qaj" href="#L2" x1="489" y1="1966" x2="700" y2="925"/><linearGradient id="qak" href="#L2" x1="464" y1="1961" x2="676" y2="920"/><linearGradient id="qal" href="#L3" x1="553" y1="1959" x2="693" y2="1269"/><linearGradient id="qam" href="#L0" x1="669.6" y1="1892.9" x2="719.4" y2="1648"/><linearGradient id="qan" href="#L2" x1="582" y1="1978" x2="754" y2="1132"/><linearGradient id="qao" href="#L0" x1="771.3" y1="1945.3" x2="816.7" y2="1721.7"/><linearGradient id="qap" href="#L2" x1="498" y1="1968" x2="710" y2="927"/><linearGradient id="qaq" href="#L2" x1="474" y1="1963" x2="685" y2="922"/><linearGradient id="qar" href="#L3" x1="562" y1="1961" x2="703" y2="1271"/><linearGradient id="qas" href="#L0" x1="752" y1="1953" x2="587" y2="1468"/><linearGradient id="qat" href="#L0" x1="709" y1="1955" x2="584" y2="1482"/><linearGradient id="qau" href="#L3" x1="595" y1="1968" x2="735" y2="1277"/><linearGradient id="qav" href="#L2" x1="508" y1="1970" x2="719" y2="929"/><linearGradient id="qaw" href="#L2" x1="484" y1="1965" x2="695" y2="924"/><linearGradient id="qax" href="#L5" x1="695" y1="1941" x2="555" y2="1536"/><linearGradient id="qay" href="#L5" x1="578.3" y1="1942.6" x2="508.4" y2="1865.8"/><linearGradient id="qaz" href="#L5" x1="758" y1="1953" x2="654" y2="1561"/><linearGradient id="qb0" href="#L3" x1="605" y1="1970" x2="745" y2="1279"/><linearGradient id="qb1" href="#L0" x1="524" y1="1961" x2="371" y2="1384"/><linearGradient id="qb2" href="#L2" x1="493" y1="1967" x2="705" y2="926"/><linearGradient id="qb3" href="#L0" x1="705" y1="1953" x2="565" y2="1500"/><linearGradient id="qb4" href="#L0" x1="588" y1="1963" x2="507" y2="1394"/><linearGradient id="qb5" href="#L0" x1="770" y1="1957" x2="579" y2="1485"/><linearGradient id="qb6" href="#L2" x1="701" y1="1983" x2="872" y2="1137"/><linearGradient id="qb7" href="#L3" x1="614" y1="1972" x2="755" y2="1281"/><linearGradient id="qb8" href="#L2" x1="503" y1="1969" x2="714" y2="928"/><linearGradient id="qb9" href="#L3" x1="591" y1="1967" x2="732" y2="1276"/><linearGradient id="qba" href="#L0" x1="725" y1="1962" x2="593" y2="1464"/><linearGradient id="qbb" href="#L0" x1="703" y1="1966" x2="563" y2="1433"/><linearGradient id="qbc" href="#L3" x1="601" y1="1969" x2="741" y2="1278"/><linearGradient id="qbd" href="#L5" x1="737" y1="1958" x2="649" y2="1552"/><linearGradient id="qbe" href="#L6" x1="664" y1="1950" x2="491" y2="1583"/><linearGradient id="qbf" href="#L5" x1="552.3" y1="1963.1" x2="450.4" y2="1711.9"/><linearGradient id="qbg" href="#L0" x1="707" y1="1968" x2="625" y2="1399"/><linearGradient id="qbh" href="#L5" x1="622" y1="1958" x2="482" y2="1613"/><linearGradient id="qbi" href="#L0" x1="744" y1="1966" x2="612" y2="1468"/><linearGradient id="qbj" href="#L0" x1="665" y1="1965" x2="557" y2="1497"/><linearGradient id="qbk" href="#L0" x1="562" y1="1968" x2="410" y2="1392"/><linearGradient id="qbl" href="#L5" x1="718" y1="1963" x2="610" y2="1554"/><linearGradient id="qbm" href="#L0" x1="631" y1="1968" x2="499" y2="1471"/><linearGradient id="qbn" href="#L2" x1="541" y1="1976" x2="753" y2="936"/><linearGradient id="qbo" href="#L0" x1="733" y1="1968" x2="589" y2="1495"/><linearGradient id="qbp" href="#L4" x1="622" y1="1973" x2="727" y2="1458"/><linearGradient id="qbq" href="#L0" x1="674" y1="1972" x2="566" y2="1437"/><linearGradient id="qbr" href="#L5" x1="651" y1="1964" x2="510" y2="1619"/><linearGradient id="qbs" href="#L0" x1="681" y1="1973" x2="529" y2="1396"/><linearGradient id="qbt" href="#L5" x1="594" y1="1970" x2="453" y2="1624"/><linearGradient id="qbu" href="#L0" x1="660" y1="1974" x2="528" y2="1477"/><linearGradient id="qbv" href="#L5" x1="695" y1="1970" x2="546" y2="1603"/><linearGradient id="qbw" href="#L0" x1="603" y1="1976" x2="471" y2="1478"/><linearGradient id="qbx" href="#L2" x1="660" y1="1981" x2="872" y2="940"/><linearGradient id="qby" href="#L0" x1="710" y1="1975" x2="547" y2="1512"/><linearGradient id="qbz" href="#L0" x1="609.3" y1="1970.8" x2="583.6" y2="2097.4"/><linearGradient id="qc0" href="#L3" x1="579" y1="1984" x2="719" y2="1293"/><linearGradient id="qc1" href="#L5" x1="622" y1="1976" x2="482" y2="1630"/><linearGradient id="qc2" href="#L4" x1="593" y1="1978" x2="510" y2="1665"/><linearGradient id="qc3" href="#L5" x1="692" y1="1968" x2="534" y2="1660"/><linearGradient id="qc4" href="#L0" x1="632" y1="1982" x2="500" y2="1484"/><linearGradient id="qc5" href="#L0" x1="604" y1="1983" x2="374" y2="1417"/><linearGradient id="qc6" href="#L0" x1="638.3" y1="1976.7" x2="612.6" y2="2103.2"/><linearGradient id="qc7" href="#L3" x1="608" y1="1990" x2="748" y2="1299"/><linearGradient id="qc8" href="#L0" x1="647.9" y1="1978.6" x2="622.2" y2="2105.2"/><linearGradient id="qc9" href="#L4" x1="622" y1="1984" x2="539" y2="1671"/><linearGradient id="qca" href="#L5" x1="661" y1="1984" x2="521" y2="1638"/><linearGradient id="qcb" href="#L5" x1="568.6" y1="1985.8" x2="466.7" y2="1734.7"/><linearGradient id="qcc" href="#L0" x1="631.1" y1="1975.2" x2="605.4" y2="2101.8"/><linearGradient id="qcd" href="#L0" x1="579" y1="1991" x2="426" y2="1415"/><linearGradient id="qce" href="#L0" x1="643" y1="1991" x2="413" y2="1425"/><linearGradient id="qcf" href="#L2" x1="558" y1="1999" x2="769" y2="958"/><linearGradient id="qcg" href="#L5" x1="597.5" y1="1991.7" x2="495.6" y2="1740.6"/><linearGradient id="qch" href="#L2" x1="602" y1="2008" x2="813" y2="967"/><linearGradient id="qci" href="#L0" x1="617" y1="1999" x2="465" y2="1422"/><linearGradient id="qcj" href="#L2" x1="587" y1="2005" x2="798" y2="964"/><linearGradient id="qck" href="#L2" x1="596" y1="2007" x2="808" y2="966"/><linearGradient id="qcl" href="#L5" x1="1593.1" y1="1849.2" x2="1490.1" y2="1605.7"/><linearGradient id="qcm" href="#L0" x1="1603" y1="1855" x2="1443" y2="1278"/><linearGradient id="qcn" href="#L2" x1="1582" y1="1863" x2="1799" y2="802"/><linearGradient id="qco" href="#L0" x1="1460.8" y1="1858.4" x2="1430.7" y2="2005.3"/><linearGradient id="qcp" href="#L4" x1="1444" y1="1866" x2="1359" y2="1559"/><linearGradient id="qcq" href="#L0" x1="1569.9" y1="1860.6" x2="1539.8" y2="2007.5"/><linearGradient id="qcr" href="#L0" x1="1456" y1="1871" x2="1217" y2="1307"/><linearGradient id="qcs" href="#L0" x1="1489.7" y1="1864.3" x2="1459.6" y2="2011.3"/><linearGradient id="qct" href="#L4" x1="1553" y1="1869" x2="1468" y2="1562"/><linearGradient id="qcu" href="#L5" x1="1679.8" y1="1867" x2="1576.7" y2="1623.5"/><linearGradient id="qcv" href="#L0" x1="1589.1" y1="1864.5" x2="1559.1" y2="2011.5"/><linearGradient id="qcw" href="#L0" x1="1407.9" y1="1867.7" x2="1452" y2="1652.4"/><linearGradient id="qcx" href="#L0" x1="1499.3" y1="1866.3" x2="1469.2" y2="2013.2"/><linearGradient id="qcy" href="#L0" x1="1565" y1="1873" x2="1326" y2="1309"/><linearGradient id="qcz" href="#L4" x1="1473" y1="1872" x2="1388" y2="1565"/><linearGradient id="qd0" href="#L0" x1="1690" y1="1872" x2="1530" y2="1296"/><linearGradient id="qd1" href="#L5" x1="1419.8" y1="1874.2" x2="1316.8" y2="1630.7"/><linearGradient id="qd2" href="#L0" x1="1507.4" y1="1868" x2="1551.5" y2="1652.6"/><linearGradient id="qd3" href="#L4" x1="1573" y1="1873" x2="1487" y2="1566"/><linearGradient id="qd4" href="#L0" x1="1482.5" y1="1862.9" x2="1452.4" y2="2009.8"/><linearGradient id="qd5" href="#L5" x1="1395" y1="1876" x2="1287" y2="1488"/><linearGradient id="qd6" href="#L0" x1="1430" y1="1880" x2="1270" y2="1303"/><linearGradient id="qd7" href="#L0" x1="1518.5" y1="1870.2" x2="1488.5" y2="2017.2"/><linearGradient id="qd8" href="#L0" x1="1584" y1="1877" x2="1345" y2="1313"/><linearGradient id="qd9" href="#L2" x1="1669" y1="1881" x2="1886" y2="820"/><linearGradient id="qda" href="#L4" x1="1494" y1="1874" x2="1414" y2="1499"/><linearGradient id="qdb" href="#L0" x1="1407" y1="1880" x2="1209" y2="1412"/><linearGradient id="qdc" href="#L5" x1="1708.6" y1="1872.9" x2="1605.6" y2="1629.4"/><linearGradient id="qdd" href="#L0" x1="1348.5" y1="1875.7" x2="1318.4" y2="2022.6"/><linearGradient id="qde" href="#L5" x1="1528.9" y1="1876.4" x2="1425.9" y2="1632.9"/><linearGradient id="qdf" href="#L0" x1="1324" y1="1885" x2="1085" y2="1321"/><linearGradient id="qdg" href="#L0" x1="1511" y1="1880" x2="1236" y2="1406"/><linearGradient id="qdh" href="#L2" x1="1409" y1="1888" x2="1626" y2="827"/><linearGradient id="qdi" href="#L0" x1="1719" y1="1878" x2="1558" y2="1302"/><linearGradient id="qdj" href="#L0" x1="1358.1" y1="1877.7" x2="1328" y2="2024.6"/><linearGradient id="qdk" href="#L0" x1="1626.2" y1="1872.1" x2="1670.2" y2="1656.8"/><linearGradient id="qdl" href="#L4" x1="1449" y1="1879" x2="1364" y2="1572"/><linearGradient id="qdm" href="#L0" x1="1539" y1="1882" x2="1379" y2="1305"/><linearGradient id="qdn" href="#L4" x1="1332" y1="1884" x2="1247" y2="1577"/><linearGradient id="qdo" href="#L0" x1="1513" y1="1883" x2="1275" y2="1319"/><linearGradient id="qdp" href="#L0" x1="1635.8" y1="1874.1" x2="1679.8" y2="1658.7"/><linearGradient id="qdq" href="#L5" x1="1371" y1="1883" x2="1228" y2="1543"/><linearGradient id="qdr" href="#L0" x1="1456.7" y1="1864.3" x2="1467.8" y2="1810"/><linearGradient id="qds" href="#L4" x1="1549" y1="1878" x2="1494" y2="1519"/><linearGradient id="qdt" href="#L5" x1="1613" y1="1880" x2="1505" y2="1492"/><linearGradient id="qdu" href="#L2" x1="1698" y1="1887" x2="1915" y2="826"/><linearGradient id="qdv" href="#L0" x1="1341.3" y1="1874.2" x2="1311.3" y2="2021.2"/><linearGradient id="qdw" href="#L2" x1="1518" y1="1890" x2="1735" y2="830"/><linearGradient id="qdx" href="#L4" x1="1431" y1="1884" x2="1346" y2="1577"/><linearGradient id="qdy" href="#L0" x1="1383" y1="1889" x2="1223" y2="1401"/><linearGradient id="qdz" href="#L0" x1="1646.9" y1="1876.4" x2="1616.9" y2="2023.3"/><linearGradient id="qe0" href="#L0" x1="1735.3" y1="1874.3" x2="1779.3" y2="1659"/><linearGradient id="qe1" href="#L5" x1="1473" y1="1879" x2="1375" y2="1527"/><linearGradient id="qe2" href="#L0" x1="1572" y1="1883" x2="1163" y2="1447"/><linearGradient id="qe3" href="#L0" x1="1617.5" y1="1870.3" x2="1661.6" y2="1655"/><linearGradient id="qe4" href="#L0" x1="1353" y1="1890" x2="1114" y2="1327"/><linearGradient id="qe5" href="#L5" x1="1533" y1="1884" x2="1425" y2="1496"/><linearGradient id="qe6" href="#L5" x1="1445" y1="1882" x2="1347" y2="1530"/><linearGradient id="qe7" href="#L5" x1="1747.2" y1="1880.8" x2="1644.1" y2="1637.2"/><linearGradient id="qe8" href="#L0" x1="1387" y1="1883.6" x2="1356.9" y2="2030.5"/><linearGradient id="qe9" href="#L0" x1="1299" y1="1893" x2="1138" y2="1316"/><linearGradient id="qea" href="#L0" x1="1484" y1="1891" x2="1336" y2="1359"/><linearGradient id="qeb" href="#L0" x1="1640" y1="1886" x2="1365" y2="1412"/><linearGradient id="qec" href="#L5" x1="1722" y1="1882" x2="1614" y2="1494"/><linearGradient id="qed" href="#L5" x1="1362.4" y1="1876.3" x2="1296.4" y2="1805.9"/><linearGradient id="qee" href="#L0" x1="1538.9" y1="1861" x2="1550" y2="1806.6"/><linearGradient id="qef" href="#L0" x1="1449.1" y1="1862.7" x2="1460.2" y2="1808.4"/><linearGradient id="qeg" href="#L0" x1="1757" y1="1886" x2="1597" y2="1310"/><linearGradient id="qeh" href="#L0" x1="1390" y1="1884" x2="1467" y2="1511"/><linearGradient id="qei" href="#L0" x1="1666.2" y1="1880.3" x2="1636.1" y2="2027.2"/><linearGradient id="qej" href="#L5" x1="1307.5" y1="1891.5" x2="1204.5" y2="1648"/><linearGradient id="qek" href="#L0" x1="1501" y1="1889" x2="1092" y2="1453"/><linearGradient id="qel" href="#L0" x1="1574.8" y1="1881.7" x2="1618.9" y2="1666.4"/><linearGradient id="qem" href="#L0" x1="1642" y1="1889" x2="1403" y2="1325"/><linearGradient id="qen" href="#L0" x1="1734" y1="1886" x2="1536" y2="1418"/><linearGradient id="qeo" href="#L0" x1="1370.2" y1="1880.2" x2="1340.1" y2="2027.1"/><linearGradient id="qep" href="#L0" x1="1555" y1="1890" x2="1357" y2="1422"/><linearGradient id="qeq" href="#L0" x1="1283" y1="1897" x2="1123" y2="1321"/><linearGradient id="qer" href="#L0" x1="1469" y1="1895" x2="1321" y2="1364"/><linearGradient id="qes" href="#L3" x1="1408" y1="1890" x2="1373" y2="1506"/><linearGradient id="qet" href="#L0" x1="1674.3" y1="1882" x2="1718.4" y2="1666.6"/><linearGradient id="qeu" href="#L2" x1="1311" y1="1908" x2="1528" y2="848"/><linearGradient id="qev" href="#L0" x1="1490" y1="1885" x2="1566" y2="1511"/><linearGradient id="qew" href="#L5" x1="1592" y1="1886" x2="1500" y2="1483"/><linearGradient id="qex" href="#L4" x1="1650" y1="1888" x2="1564" y2="1581"/><linearGradient id="qey" href="#L5" x1="1389" y1="1891" x2="1278" y2="1466"/><linearGradient id="qez" href="#L2" x1="1736" y1="1895" x2="1953" y2="834"/><linearGradient id="qf0" href="#L5" x1="1562" y1="1890" x2="1454" y2="1502"/><linearGradient id="qf1" href="#L5" x1="1474" y1="1888" x2="1376" y2="1536"/><linearGradient id="qf2" href="#L0" x1="1683.9" y1="1883.9" x2="1728" y2="1668.6"/><linearGradient id="qf3" href="#L4" x1="1421" y1="1889" x2="1345" y2="1509"/><linearGradient id="qf4" href="#L0" x1="1327" y1="1899" x2="1167" y2="1322"/><linearGradient id="qf5" href="#L3" x1="1510" y1="1889" x2="1475" y2="1451"/><linearGradient id="qf6" href="#L4" x1="1661" y1="1888" x2="1581" y2="1513"/><linearGradient id="qf7" href="#L0" x1="1420" y1="1884" x2="1156" y2="1519"/><linearGradient id="qf8" href="#L3" x1="1572" y1="1888" x2="1523" y2="1498"/><linearGradient id="qf9" href="#L2" x1="1297" y1="1905" x2="1514" y2="845"/><linearGradient id="qfa" href="#L5" x1="1489" y1="1891" x2="1392" y2="1464"/><linearGradient id="qfb" href="#L3" x1="1418" y1="1910" x2="1560" y2="1212"/><linearGradient id="qfc" href="#L4" x1="1337" y1="1896" x2="1252" y2="1589"/><linearGradient id="qfd" href="#L5" x1="1700" y1="1889" x2="1571" y2="1526"/><linearGradient id="qfe" href="#L0" x1="1509.7" y1="1870.3" x2="1558.3" y2="1633"/><linearGradient id="qff" href="#L0" x1="1627" y1="1893" x2="1336" y2="1433"/><linearGradient id="qfg" href="#L0" x1="1665.7" y1="1880.2" x2="1709.7" y2="1664.8"/><linearGradient id="qfh" href="#L0" x1="1394" y1="1877.7" x2="1442.6" y2="1640.4"/><linearGradient id="qfi" href="#L2" x1="1306" y1="1907" x2="1523" y2="847"/><linearGradient id="qfj" href="#L3" x1="1496" y1="1891" x2="1454" y2="1452"/><linearGradient id="qfk" href="#L0" x1="1720" y1="1892" x2="1485" y2="1453"/><linearGradient id="qfl" href="#L0" x1="1419.7" y1="1841.9" x2="1524.6" y2="1769.9"/><linearGradient id="qfm" href="#L0" x1="1257" y1="1905" x2="1096" y2="1328"/><linearGradient id="qfn" href="#L0" x1="1513" y1="1823.7" x2="1583.2" y2="1795.4"/><linearGradient id="qfo" href="#L0" x1="1596" y1="1873" x2="1754" y2="1598"/><linearGradient id="qfp" href="#L0" x1="1688" y1="1896" x2="1413" y2="1422"/><linearGradient id="qfq" href="#L0" x1="1418" y1="1901" x2="1268" y2="1431"/><linearGradient id="qfr" href="#L4" x1="1319" y1="1901" x2="1234" y2="1594"/><linearGradient id="qfs" href="#L0" x1="1540" y1="1885" x2="1318" y2="1485"/><linearGradient id="qft" href="#L0" x1="1804.2" y1="1888.4" x2="1774.1" y2="2035.3"/><linearGradient id="qfu" href="#L4" x1="1449" y1="1895" x2="1396" y2="1494"/><linearGradient id="qfv" href="#L5" x1="1372" y1="1894" x2="1223" y2="1503"/><linearGradient id="qfw" href="#L2" x1="1537" y1="1895" x2="1520" y2="1449"/><linearGradient id="qfx" href="#L2" x1="1625" y1="1894" x2="1609" y2="1492"/><linearGradient id="qfy" href="#L5" x1="1697" y1="1890" x2="1568" y2="1519"/><linearGradient id="qfz" href="#L2" x1="1236" y1="1913" x2="1453" y2="852"/><linearGradient id="qg0" href="#L5" x1="1435" y1="1896" x2="1305" y2="1475"/><linearGradient id="qg1" href="#L5" x1="1613" y1="1893" x2="1512" y2="1461"/><linearGradient id="qg2" href="#L5" x1="1531" y1="1892" x2="1426" y2="1459"/><linearGradient id="qg3" href="#L5" x1="1475" y1="1893" x2="1360" y2="1479"/><linearGradient id="qg4" href="#L0" x1="1722.5" y1="1891.8" x2="1766.5" y2="1676.5"/><linearGradient id="qg5" href="#L0" x1="1385" y1="1906" x2="1252" y2="1426"/><linearGradient id="qg6" href="#L1" x1="1541" y1="1893" x2="1554" y2="1460"/><linearGradient id="qg7" href="#L5" x1="1640" y1="1892" x2="1514" y2="1595"/><linearGradient id="qg8" href="#L0" x1="1704" y1="1899" x2="1516" y2="1452"/><linearGradient id="qg9" href="#L0" x1="1469" y1="1887" x2="1227" y2="1516"/><linearGradient id="qga" href="#L4" x1="1788" y1="1896" x2="1702" y2="1589"/><linearGradient id="qgb" href="#L5" x1="1342" y1="1901" x2="1244" y2="1549"/><linearGradient id="qgc" href="#L0" x1="1649" y1="1881" x2="1393" y2="1533"/><linearGradient id="qgd" href="#L0" x1="1494" y1="1885" x2="1578" y2="1474"/><linearGradient id="qge" href="#L5" x1="1824.2" y1="1896.5" x2="1721.2" y2="1653"/><linearGradient id="qgf" href="#L0" x1="1733.6" y1="1894.1" x2="1703.5" y2="2041"/><linearGradient id="qgg" href="#L4" x1="1488" y1="1888" x2="1413" y2="1467"/><linearGradient id="qgh" href="#L0" x1="1536" y1="1886" x2="1616" y2="1493"/><linearGradient id="qgi" href="#L5" x1="1709" y1="1900" x2="1601" y2="1512"/><linearGradient id="qgj" href="#L0" x1="1799" y1="1901" x2="1560" y2="1337"/><linearGradient id="qgk" href="#L4" x1="1448" y1="1897" x2="1381" y2="1487"/><linearGradient id="qgl" href="#L0" x1="1631" y1="1901" x2="1444" y2="1460"/><linearGradient id="qgm" href="#L5" x1="1330.1" y1="1835.9" x2="1448.2" y2="1867.5"/><linearGradient id="qgn" href="#L0" x1="1502" y1="1882" x2="1584" y2="1482"/><linearGradient id="qgo" href="#L0" x1="1542" y1="1883" x2="1315" y2="1489"/><linearGradient id="qgp" href="#L0" x1="1413" y1="1898" x2="1161" y2="1520"/><linearGradient id="qgq" href="#L2" x1="1828" y1="1913" x2="2045" y2="853"/><linearGradient id="qgr" href="#L0" x1="1549" y1="1885" x2="1623" y2="1524"/><linearGradient id="qgs" href="#L5" x1="1294.7" y1="1909" x2="1191.7" y2="1665.5"/><linearGradient id="qgt" href="#L0" x1="1680.6" y1="1852.1" x2="1440.4" y2="1833"/><linearGradient id="qgu" href="#L0" x1="1726" y1="1904" x2="1451" y2="1430"/><linearGradient id="qgv" href="#L5" x1="1481" y1="1892" x2="1364" y2="1474"/><linearGradient id="qgw" href="#L0" x1="1511" y1="1881" x2="1591" y2="1488"/><linearGradient id="qgx" href="#L5" x1="1634" y1="1894" x2="1509" y2="1597"/><linearGradient id="qgy" href="#L0" x1="1844" y1="1904" x2="1684" y2="1327"/><linearGradient id="qgz" href="#L0" x1="1751.3" y1="1897.7" x2="1795.4" y2="1682.4"/><linearGradient id="qh0" href="#L4" x1="1517" y1="1898" x2="1439" y2="1450"/><linearGradient id="qh1" href="#L5" x1="1417" y1="1901" x2="1287" y2="1481"/><linearGradient id="qh2" href="#L2" x1="1299" y1="1926" x2="1516" y2="865"/><linearGradient id="qh3" href="#L5" x1="1603" y1="1890" x2="1443" y2="1512"/><linearGradient id="qh4" href="#L5" x1="1672" y1="1899" x2="1581" y2="1491"/><linearGradient id="qh5" href="#L0" x1="1728" y1="1907" x2="1490" y2="1343"/><linearGradient id="qh6" href="#L2" x1="1813" y1="1910" x2="2030" y2="850"/><linearGradient id="qh7" href="#L0" x1="1435.4" y1="1829.1" x2="1489.3" y2="1565.4"/><linearGradient id="qh8" href="#L5" x1="1384" y1="1901" x2="1272" y2="1498"/><linearGradient id="qh9" href="#L5" x1="1651" y1="1899" x2="1536" y2="1486"/><linearGradient id="qha" href="#L0" x1="1632" y1="1836" x2="1333" y2="1617"/><linearGradient id="qhb" href="#L0" x1="1468.1" y1="1815.6" x2="1522.1" y2="1552"/><linearGradient id="qhc" href="#L5" x1="1763.2" y1="1904.2" x2="1660.2" y2="1660.7"/><linearGradient id="qhd" href="#L0" x1="1431" y1="1912" x2="1301" y2="1442"/><linearGradient id="qhe" href="#L0" x1="1651" y1="1885" x2="1424" y2="1491"/><linearGradient id="qhf" href="#L5" x1="1318.1" y1="1906.5" x2="1179.8" y2="1668.2"/><linearGradient id="qhg" href="#L0" x1="1716.8" y1="1841.9" x2="1469.8" y2="1735.2"/><linearGradient id="qhh" href="#L5" x1="1738" y1="1906" x2="1630" y2="1518"/><linearGradient id="qhi" href="#L2" x1="1823" y1="1912" x2="2040" y2="852"/><linearGradient id="qhj" href="#L2" x1="1284" y1="1923" x2="1501" y2="862"/><linearGradient id="qhk" href="#L4" x1="1505" y1="1900" x2="1416" y2="1454"/><linearGradient id="qhl" href="#L0" x1="1694" y1="1873" x2="1357" y2="1652"/><linearGradient id="qhm" href="#L0" x1="1364" y1="1899" x2="1441" y2="1525"/><linearGradient id="qhn" href="#L0" x1="1590" y1="1903" x2="1408" y2="1473"/><linearGradient id="qho" href="#L4" x1="1466" y1="1933" x2="1575" y2="1400"/><linearGradient id="qhp" href="#L0" x1="1773" y1="1910" x2="1613" y2="1333"/><linearGradient id="qhq" href="#L5" x1="1440" y1="1878" x2="1283" y2="1619"/><linearGradient id="qhr" href="#L0" x1="1651" y1="1862" x2="1368" y2="1628"/><linearGradient id="qhs" href="#L5" x1="1325.6" y1="1887.9" x2="1279.1" y2="1853.9"/><linearGradient id="qht" href="#L5" x1="1688" y1="1906" x2="1580" y2="1518"/><linearGradient id="qhu" href="#L0" x1="1750" y1="1910" x2="1552" y2="1442"/><linearGradient id="qhv" href="#L2" x1="1293" y1="1925" x2="1510" y2="864"/><linearGradient id="qhw" href="#L0" x1="1593" y1="1872" x2="1381" y2="1474"/><linearGradient id="qhx" href="#L0" x1="1406" y1="1927" x2="1322" y2="1409"/><linearGradient id="qhy" href="#L5" x1="1681" y1="1901" x2="1571" y2="1471"/><linearGradient id="qhz" href="#L5" x1="1608" y1="1893" x2="1460" y2="1489"/><linearGradient id="qi0" href="#L0" x1="1871.6" y1="1902.2" x2="1841.5" y2="2049.1"/><linearGradient id="qi1" href="#L0" x1="1487.4" y1="1819.6" x2="1541.3" y2="1555.9"/><linearGradient id="qi2" href="#L0" x1="1781.7" y1="1903.9" x2="1751.7" y2="2050.9"/><linearGradient id="qi3" href="#L5" x1="1469" y1="1888" x2="1310" y2="1512"/><linearGradient id="qi4" href="#L3" x1="1322" y1="1931" x2="1448" y2="1313"/><linearGradient id="qi5" href="#L2" x1="1603" y1="1908" x2="1595" y2="1477"/><linearGradient id="qi6" href="#L0" x1="1719.1" y1="1859.9" x2="1478.9" y2="1840.8"/><linearGradient id="qi7" href="#L2" x1="1752" y1="1918" x2="1969" y2="857"/><linearGradient id="qi8" href="#L3" x1="1302" y1="1927" x2="1444" y2="1228"/><linearGradient id="qi9" href="#L0" x1="1537" y1="1906" x2="1397" y2="1460"/><linearGradient id="qia" href="#L0" x1="1418" y1="1927" x2="1270" y2="1396"/><linearGradient id="qib" href="#L0" x1="1697" y1="1902" x2="1506" y2="1497"/><linearGradient id="qic" href="#L0" x1="1549" y1="1883" x2="1627" y2="1503"/><linearGradient id="qid" href="#L0" x1="1596" y1="1910" x2="1403" y2="1455"/><linearGradient id="qie" href="#L3" x1="1391" y1="1949" x2="1505" y2="1390"/><linearGradient id="qif" href="#L5" x1="1882" y1="1908.3" x2="1779" y2="1664.8"/><linearGradient id="qig" href="#L0" x1="1789" y1="1905" x2="1849" y2="1609"/><linearGradient id="qih" href="#L6" x1="1365" y1="1898" x2="1184" y2="1604"/><linearGradient id="qii" href="#L4" x1="1628" y1="1908" x2="1569" y2="1461"/><linearGradient id="qij" href="#L0" x1="1723" y1="1896" x2="1300" y2="1772"/><linearGradient id="qik" href="#L4" x1="1765" y1="1912" x2="1680" y2="1605"/><linearGradient id="qil" href="#L3" x1="1310" y1="1928" x2="1436" y2="1310"/><linearGradient id="qim" href="#L5" x1="1550" y1="1892" x2="1400" y2="1489"/><linearGradient id="qin" href="#L4" x1="1855" y1="1910" x2="1770" y2="1603"/><linearGradient id="qio" href="#L5" x1="1434" y1="1898" x2="1283" y2="1540"/><linearGradient id="qip" href="#L5" x1="1689" y1="1907" x2="1574" y2="1494"/><linearGradient id="qiq" href="#L0" x1="1635.5" y1="1806.3" x2="1437.6" y2="1761.7"/><linearGradient id="qir" href="#L0" x1="1631" y1="1832" x2="1362" y2="1594"/><linearGradient id="qis" href="#L6" x1="1529" y1="1849" x2="1320" y2="1546"/><linearGradient id="qit" href="#L4" x1="1334" y1="1933" x2="1445" y2="1393"/><linearGradient id="qiu" href="#L0" x1="1686.7" y1="1800.8" x2="1446.3" y2="1753.8"/><linearGradient id="qiv" href="#L4" x1="1717" y1="1911" x2="1642" y2="1495"/><linearGradient id="qiw" href="#L5" x1="1779" y1="1912" x2="1682" y2="1508"/><linearGradient id="qix" href="#L5" x1="1316.3" y1="1897.9" x2="1481.1" y2="1946.4"/><linearGradient id="qiy" href="#L0" x1="1866" y1="1915" x2="1628" y2="1351"/><linearGradient id="qiz" href="#L0" x1="1592" y1="1911" x2="1399" y2="1457"/><linearGradient id="qj0" href="#L3" x1="1381" y1="1947" x2="1495" y2="1388"/><linearGradient id="qj1" href="#L0" x1="1715" y1="1907" x2="1471" y2="1511"/><linearGradient id="qj2" href="#L4" x1="1618" y1="1910" x2="1541" y2="1465"/><linearGradient id="qj3" href="#L0" x1="1810.6" y1="1909.9" x2="1780.6" y2="2056.8"/><linearGradient id="qj4" href="#L5" x1="1579" y1="1906" x2="1460" y2="1479"/><linearGradient id="qj5" href="#L0" x1="1482" y1="1927" x2="1415" y2="1444"/><linearGradient id="qj6" href="#L0" x1="1368" y1="1931" x2="1318" y2="1414"/><linearGradient id="qj7" href="#L5" x1="1669" y1="1905" x2="1565" y2="1470"/><linearGradient id="qj8" href="#L0" x1="1726" y1="1919" x2="1567" y2="1431"/><linearGradient id="qj9" href="#L0" x1="1791" y1="1917" x2="1602" y2="1470"/><linearGradient id="qja" href="#L1" x1="1334" y1="1932" x2="1338" y2="1396"/><linearGradient id="qjb" href="#L5" x1="1563" y1="1903" x2="1459" y2="1469"/><linearGradient id="qjc" href="#L3" x1="1698" y1="1913" x2="1656" y2="1503"/><linearGradient id="qjd" href="#L0" x1="1721" y1="1830" x2="1421" y2="1587"/><linearGradient id="qje" href="#L0" x1="1442" y1="1930" x2="1371" y2="1434"/><linearGradient id="qjf" href="#L0" x1="1820.3" y1="1911.8" x2="1790.2" y2="2058.8"/><linearGradient id="qjg" href="#L0" x1="1497" y1="1919" x2="1370" y2="1465"/><linearGradient id="qjh" href="#L0" x1="1376" y1="1933" x2="1322" y2="1401"/><linearGradient id="qji" href="#L0" x1="1676" y1="1914" x2="1529" y2="1472"/><linearGradient id="qjj" href="#L0" x1="1728.9" y1="1913.3" x2="1773" y2="1697.9"/><linearGradient id="qjk" href="#L4" x1="1794" y1="1918" x2="1709" y2="1611"/><linearGradient id="qjl" href="#L4" x1="1335" y1="1933" x2="1446" y2="1393"/><linearGradient id="qjm" href="#L0" x1="1624" y1="1863" x2="1376" y2="1541"/><linearGradient id="qjn" href="#L5" x1="1366" y1="1913" x2="1567" y2="1478"/><linearGradient id="qjo" href="#L0" x1="1719" y1="1920" x2="1553" y2="1464"/><linearGradient id="qjp" href="#L3" x1="1630" y1="1911" x2="1585" y2="1469"/><linearGradient id="qjq" href="#L4" x1="1831" y1="1917" x2="1746" y2="1610"/><linearGradient id="qjr" href="#L0" x1="1634" y1="1918" x2="1442" y2="1463"/><linearGradient id="qjs" href="#L5" x1="1518" y1="1904" x2="1362" y2="1505"/><linearGradient id="qjt" href="#L6" x1="1402" y1="1904" x2="1214" y2="1643"/><linearGradient id="qju" href="#L4" x1="1668" y1="1915" x2="1593" y2="1476"/><linearGradient id="qjv" href="#L3" x1="1741" y1="1918" x2="1707" y2="1534"/><linearGradient id="qjw" href="#L0" x1="1803.5" y1="1908.4" x2="1773.4" y2="2055.3"/><linearGradient id="qjx" href="#L3" x1="1347" y1="1936" x2="1464" y2="1364"/><linearGradient id="qjy" href="#L4" x1="1414" y1="1939" x2="1518" y2="1427"/><linearGradient id="qjz" href="#L4" x1="1716" y1="1920" x2="1636" y2="1545"/><linearGradient id="qk0" href="#L0" x1="1679" y1="1914" x2="1536" y2="1466"/><linearGradient id="qk1" href="#L0" x1="1506" y1="1939" x2="1440" y2="1439"/><linearGradient id="qk2" href="#L5" x1="1618" y1="1907" x2="1519" y2="1474"/><linearGradient id="qk3" href="#L0" x1="1841" y1="1923" x2="1680" y2="1347"/><linearGradient id="qk4" href="#L3" x1="1371" y1="1944" x2="1484" y2="1390"/><linearGradient id="qk5" href="#L0" x1="1714" y1="1908" x2="1470" y2="1512"/><linearGradient id="qk6" href="#L5" x1="1301.2" y1="1930.4" x2="1198.2" y2="1686.9"/><linearGradient id="qk7" href="#L5" x1="1758" y1="1916" x2="1612" y2="1571"/><linearGradient id="qk8" href="#L0" x1="1813.1" y1="1910.4" x2="1783" y2="2057.3"/><linearGradient id="qk9" href="#L3" x1="1358" y1="1938" x2="1485" y2="1320"/><linearGradient id="qka" href="#L5" x1="1473" y1="1911" x2="1369" y2="1537"/><linearGradient id="qkb" href="#L3" x1="1726" y1="1920" x2="1677" y2="1529"/><linearGradient id="qkc" href="#L4" x1="1654" y1="1918" x2="1566" y2="1480"/><linearGradient id="qkd" href="#L0" x1="1640" y1="1934" x2="1506" y2="1449"/><linearGradient id="qke" href="#L6" x1="1575" y1="1850" x2="1363" y2="1575"/><linearGradient id="qkf" href="#L0" x1="1410" y1="1935" x2="1320" y2="1442"/><linearGradient id="qkg" href="#L3" x1="1675" y1="1916" x2="1644" y2="1498"/><linearGradient id="qkh" href="#L0" x1="1766" y1="1926" x2="1620" y2="1454"/><linearGradient id="qki" href="#L0" x1="1311" y1="1936" x2="1151" y2="1359"/><linearGradient id="qkj" href="#L0" x1="1826" y1="1928" x2="1665" y2="1351"/><linearGradient id="qkk" href="#L5" x1="1343" y1="1925" x2="1687" y2="1551"/><linearGradient id="qkl" href="#L5" x1="1597" y1="1911" x2="1499" y2="1479"/><linearGradient id="qkm" href="#L4" x1="1428" y1="1948" x2="1535" y2="1424"/><linearGradient id="qkn" href="#L0" x1="1744" y1="1927" x2="1549" y2="1465"/><linearGradient id="qko" href="#L0" x1="1725" y1="1902" x2="1470" y2="1509"/><linearGradient id="qkp" href="#L5" x1="1657" y1="1876" x2="1507" y2="1523"/><linearGradient id="qkq" href="#L0" x1="1530" y1="1934" x2="1451" y2="1457"/><linearGradient id="qkr" href="#L5" x1="1426.3" y1="1903.7" x2="1287.1" y2="1683.7"/><linearGradient id="qks" href="#L0" x1="1724" y1="1908" x2="1464" y2="1557"/><linearGradient id="qkt" href="#L4" x1="1770" y1="1924" x2="1685" y2="1618"/><linearGradient id="qku" href="#L0" x1="1642" y1="1919" x2="1488" y2="1469"/><linearGradient id="qkv" href="#L1" x1="1382" y1="1942" x2="1386" y2="1406"/><linearGradient id="qkw" href="#L3" x1="1733" y1="1942" x2="1872" y2="1265"/><linearGradient id="qkx" href="#L0" x1="1633" y1="1902" x2="1707" y2="1542"/><linearGradient id="qky" href="#L0" x1="1491" y1="1940" x2="1420" y2="1444"/><linearGradient id="qkz" href="#L2" x1="1290" y1="1944" x2="1507" y2="884"/><linearGradient id="ql0" href="#L0" x1="1640" y1="1927" x2="1513" y2="1470"/><linearGradient id="ql1" href="#L4" x1="1472" y1="1955" x2="1581" y2="1421"/><linearGradient id="ql2" href="#L3" x1="1406" y1="1948" x2="1523" y2="1376"/><linearGradient id="ql3" href="#L5" x1="1695" y1="1924" x2="1597" y2="1572"/><linearGradient id="ql4" href="#L5" x1="1403" y1="1927" x2="1242" y2="1625"/><linearGradient id="ql5" href="#L0" x1="1752.1" y1="1918" x2="1722.1" y2="2065"/><linearGradient id="ql6" href="#L2" x1="1469" y1="1943" x2="1514" y2="1444"/><linearGradient id="ql7" href="#L0" x1="1643" y1="1894" x2="1711" y2="1564"/><linearGradient id="ql8" href="#L5" x1="1655" y1="1906" x2="1496" y2="1530"/><linearGradient id="ql9" href="#L4" x1="1484" y1="1952" x2="1591" y2="1430"/><linearGradient id="qla" href="#L5" x1="1708.9" y1="1915.1" x2="1592.3" y2="1639.5"/><linearGradient id="qlb" href="#L2" x1="1783" y1="1945" x2="2000" y2="884"/><linearGradient id="qlc" href="#L0" x1="1409" y1="1943" x2="1318" y2="1437"/><linearGradient id="qld" href="#L0" x1="1623" y1="1936" x2="1516" y2="1462"/><linearGradient id="qle" href="#L0" x1="1699" y1="1926" x2="1507" y2="1512"/><linearGradient id="qlf" href="#L0" x1="1632" y1="1944" x2="1579" y2="1444"/><linearGradient id="qlg" href="#L6" x1="1605.1" y1="1833.1" x2="1398.5" y2="1641.4"/><linearGradient id="qlh" href="#L3" x1="1419" y1="1954" x2="1533" y2="1400"/><linearGradient id="qli" href="#L0" x1="1721" y1="1936" x2="1554" y2="1457"/><linearGradient id="qlj" href="#L5" x1="1349.3" y1="1940.3" x2="1246.3" y2="1696.8"/><linearGradient id="qlk" href="#L0" x1="1799" y1="1935" x2="1639" y2="1358"/><linearGradient id="qll" href="#L3" x1="1405" y1="1948" x2="1522" y2="1376"/><linearGradient id="qlm" href="#L0" x1="1774" y1="1937" x2="1614" y2="1361"/><linearGradient id="qln" href="#L0" x1="1503" y1="1951" x2="1496" y2="1431"/><linearGradient id="qlo" href="#L3" x1="1587" y1="1998" x2="1726" y2="1321"/><linearGradient id="qlp" href="#L0" x1="1563" y1="1944" x2="1495" y2="1461"/><linearGradient id="qlq" href="#L0" x1="1458" y1="1945" x2="1368" y2="1452"/><linearGradient id="qlr" href="#L2" x1="1713" y1="1950" x2="1930" y2="890"/><linearGradient id="qls" href="#L0" x1="1360" y1="1946" x2="1199" y2="1369"/><linearGradient id="qlt" href="#L5" x1="1391" y1="1935" x2="1735" y2="1561"/><linearGradient id="qlu" href="#L0" x1="1621" y1="1943" x2="1538" y2="1457"/><linearGradient id="qlv" href="#L1" x1="1508" y1="1951" x2="1522" y2="1433"/><linearGradient id="qlw" href="#L2" x1="1778" y1="1943" x2="1995" y2="883"/><linearGradient id="qlx" href="#L2" x1="1673" y1="1982" x2="1865" y2="1042"/><linearGradient id="qly" href="#L4" x1="1611" y1="1956" x2="1721" y2="1419"/><linearGradient id="qlz" href="#L4" x1="1515" y1="1955" x2="1620" y2="1441"/><linearGradient id="qm0" href="#L2" x1="1722" y1="1952" x2="1939" y2="891"/><linearGradient id="qm1" href="#L0" x1="1465" y1="1951" x2="1369" y2="1400"/><linearGradient id="qm2" href="#L5" x1="1371" y1="1943" x2="1228" y2="1603"/><linearGradient id="qm3" href="#L6" x1="1649" y1="1911" x2="1467" y2="1584"/><linearGradient id="qm4" href="#L1" x1="1430" y1="1951" x2="1434" y2="1416"/><linearGradient id="qm5" href="#L4" x1="1494" y1="1949" x2="1595" y2="1456"/><linearGradient id="qm6" href="#L0" x1="1707" y1="1941" x2="1535" y2="1459"/><linearGradient id="qm7" href="#L2" x1="1338" y1="1954" x2="1555" y2="893"/><linearGradient id="qm8" href="#L0" x1="1667" y1="1941" x2="1539" y2="1481"/><linearGradient id="qm9" href="#L0" x1="1577" y1="1946" x2="1489" y2="1466"/><linearGradient id="qma" href="#L0" x1="1736" y1="1921.4" x2="1747.1" y2="1867.1"/><linearGradient id="qmb" href="#L6" x1="1481" y1="1930" x2="1306" y2="1664"/><linearGradient id="qmc" href="#L0" x1="1381" y1="1949" x2="1243" y2="1453"/><linearGradient id="qmd" href="#L5" x1="1431.9" y1="1921.6" x2="1596.6" y2="1970.1"/><linearGradient id="qme" href="#L0" x1="1642" y1="1945" x2="1536" y2="1466"/><linearGradient id="qmf" href="#L4" x1="1510" y1="1954" x2="1615" y2="1440"/><linearGradient id="qmg" href="#L2" x1="1707" y1="1949" x2="1924" y2="888"/><linearGradient id="qmh" href="#L0" x1="1647" y1="1926" x2="1715" y2="1597"/><linearGradient id="qmi" href="#L3" x1="1548" y1="1960" x2="1661" y2="1406"/><linearGradient id="qmj" href="#L0" x1="1761" y1="1942" x2="1352" y2="1506"/><linearGradient id="qmk" href="#L0" x1="1482" y1="1954" x2="1428" y2="1422"/><linearGradient id="qml" href="#L0" x1="1453" y1="1954" x2="1365" y2="1383"/><linearGradient id="qmm" href="#L4" x1="1612" y1="1956" x2="1722" y2="1419"/><linearGradient id="qmn" href="#L1" x1="1538" y1="1955" x2="1549" y2="1442"/><linearGradient id="qmo" href="#L5" x1="1724" y1="1941" x2="1602" y2="1569"/><linearGradient id="qmp" href="#L3" x1="1356" y1="1958" x2="1499" y2="1259"/><linearGradient id="qmq" href="#L0" x1="1660.6" y1="1921.3" x2="1709.2" y2="1684"/><linearGradient id="qmr" href="#L0" x1="1589" y1="1949" x2="1473" y2="1473"/><linearGradient id="qms" href="#L0" x1="1491" y1="1956" x2="1422" y2="1409"/><linearGradient id="qmt" href="#L0" x1="1756.1" y1="1939" x2="1726.1" y2="2085.9"/><linearGradient id="qmu" href="#L5" x1="1397.5" y1="1950.1" x2="1294.5" y2="1706.6"/><linearGradient id="qmv" href="#L3" x1="1453" y1="1957" x2="1570" y2="1386"/><linearGradient id="qmw" href="#L5" x1="1654" y1="1940" x2="1539" y2="1527"/><linearGradient id="qmx" href="#L3" x1="1538" y1="1958" x2="1651" y2="1405"/><linearGradient id="qmy" href="#L0" x1="1728.3" y1="1919.9" x2="1739.5" y2="1865.5"/><linearGradient id="qmz" href="#L0" x1="1686" y1="1949" x2="1488" y2="1481"/><linearGradient id="qn0" href="#L5" x1="1605" y1="1936" x2="1435" y2="1588"/><linearGradient id="qn1" href="#L3" x1="1488" y1="1965" x2="1631" y2="1266"/><linearGradient id="qn2" href="#L0" x1="1408" y1="1956" x2="1247" y2="1379"/><linearGradient id="qn3" href="#L3" x1="1464" y1="1960" x2="1590" y2="1342"/><linearGradient id="qn4" href="#L0" x1="1699" y1="1933" x2="1384" y2="1568"/><linearGradient id="qn5" href="#L3" x1="1548" y1="1960" x2="1661" y2="1406"/><linearGradient id="qn6" href="#L0" x1="1749" y1="1949" x2="1474" y2="1475"/><linearGradient id="qn7" href="#L0" x1="1684" y1="1944.3" x2="1728.1" y2="1729"/><linearGradient id="qn8" href="#L0" x1="1616" y1="1951" x2="1472" y2="1487"/><linearGradient id="qn9" href="#L3" x1="1498" y1="1967" x2="1641" y2="1268"/><linearGradient id="qna" href="#L5" x1="1416.7" y1="1954.1" x2="1313.7" y2="1710.6"/><linearGradient id="qnb" href="#L3" x1="1475" y1="1962" x2="1618" y2="1264"/><linearGradient id="qnc" href="#L0" x1="1680" y1="1951" x2="1484" y2="1489"/><linearGradient id="qnd" href="#L2" x1="1560" y1="1973" x2="1736" y2="1113"/><linearGradient id="qne" href="#L2" x1="1387" y1="1964" x2="1604" y2="903"/><linearGradient id="qnf" href="#L5" x1="1701" y1="1949" x2="1593" y2="1561"/><linearGradient id="qng" href="#L0" x1="1522" y1="1959" x2="1374" y2="1428"/><linearGradient id="qnh" href="#L0" x1="1427" y1="1960" x2="1267" y2="1383"/><linearGradient id="qni" href="#L3" x1="1485" y1="1964" x2="1627" y2="1266"/><linearGradient id="qnj" href="#L0" x1="1665.7" y1="1940.6" x2="1709.8" y2="1725.3"/><linearGradient id="qnk" href="#L6" x1="1601.1" y1="1923.5" x2="1422.6" y2="1703.5"/><linearGradient id="qnl" href="#L2" x1="1693" y1="1980" x2="1869" y2="1120"/><linearGradient id="qnm" href="#L5" x1="1635" y1="1943" x2="1479" y2="1573"/><linearGradient id="qnn" href="#L5" x1="1500.5" y1="1944.8" x2="1434.5" y2="1874.4"/><linearGradient id="qno" href="#L0" x1="1675.4" y1="1942.6" x2="1719.4" y2="1727.2"/><linearGradient id="qnp" href="#L0" x1="1609" y1="1963" x2="1384" y2="1432"/><linearGradient id="qnq" href="#L2" x1="1406" y1="1968" x2="1623" y2="907"/><linearGradient id="qnr" href="#L0" x1="1728" y1="1959" x2="1512" y2="1449"/><linearGradient id="qns" href="#L0" x1="1633" y1="1965" x2="1571" y2="1448"/><linearGradient id="qnt" href="#L2" x1="1530" y1="1973" x2="1747" y2="912"/><linearGradient id="qnu" href="#L0" x1="1697" y1="1962" x2="1549" y2="1430"/><linearGradient id="qnv" href="#L0" x1="1649" y1="1963" x2="1512" y2="1472"/><linearGradient id="qnw" href="#L2" x1="1539" y1="1975" x2="1756" y2="914"/><linearGradient id="qnx" href="#L0" x1="1521" y1="1966" x2="1360" y2="1389"/><linearGradient id="qny" href="#L5" x1="1705" y1="1949" x2="1579" y2="1652"/><linearGradient id="qnz" href="#L0" x1="1612" y1="1968" x2="1572" y2="1439"/><linearGradient id="qo0" href="#L3" x1="1636" y1="1975" x2="1779" y2="1276"/><linearGradient id="qo1" href="#L5" x1="1563" y1="1957" x2="1416" y2="1611"/><linearGradient id="qo2" href="#L2" x1="1525" y1="1972" x2="1742" y2="911"/><linearGradient id="qo3" href="#L5" x1="1625.8" y1="1927.3" x2="1529.3" y2="1846.4"/><linearGradient id="qo4" href="#L2" x1="1642" y1="1989" x2="1818" y2="1130"/><linearGradient id="qo5" href="#L0" x1="1568" y1="1971" x2="1499" y2="1424"/><linearGradient id="qo6" href="#L5" x1="1474.5" y1="1965.9" x2="1371.5" y2="1722.4"/><linearGradient id="qo7" href="#L5" x1="1538.7" y1="1962.9" x2="1435.7" y2="1719.4"/><linearGradient id="qo8" href="#L0" x1="1634" y1="1967" x2="1496" y2="1471"/><linearGradient id="qo9" href="#L0" x1="1677" y1="1969" x2="1461" y2="1459"/><linearGradient id="qoa" href="#L3" x1="1565" y1="1980" x2="1708" y2="1282"/><linearGradient id="qob" href="#L2" x1="1478" y1="1983" x2="1695" y2="922"/><linearGradient id="qoc" href="#L0" x1="1549" y1="1974" x2="1498" y2="1414"/><linearGradient id="qod" href="#L5" x1="1638.5" y1="1952.9" x2="1572.5" y2="1882.5"/><linearGradient id="qoe" href="#L5" x1="1679" y1="1961" x2="1581" y2="1609"/><linearGradient id="qof" href="#L0" x1="1590" y1="1973" x2="1442" y2="1442"/><linearGradient id="qog" href="#L0" x1="1494" y1="1973" x2="1334" y2="1397"/><linearGradient id="qoh" href="#L3" x1="1552" y1="1978" x2="1695" y2="1279"/><linearGradient id="qoi" href="#L5" x1="1654" y1="1959" x2="1528" y2="1662"/><linearGradient id="qoj" href="#L2" x1="1464" y1="1980" x2="1681" y2="919"/><linearGradient id="qok" href="#L5" x1="1597.3" y1="1963.7" x2="1459.1" y2="1725.3"/><linearGradient id="qol" href="#L5" x1="1567.9" y1="1958.6" x2="1501.9" y2="1888.2"/><linearGradient id="qom" href="#L0" x1="1654.6" y1="1945" x2="1665.7" y2="1890.7"/><linearGradient id="qon" href="#L2" x1="1473" y1="1982" x2="1690" y2="921"/><linearGradient id="qoo" href="#L0" x1="1605" y1="1975" x2="1468" y2="1479"/><linearGradient id="qop" href="#L5" x1="1513" y1="1973.8" x2="1410" y2="1730.3"/><linearGradient id="qoq" href="#L0" x1="1578" y1="1978" x2="1418" y2="1401"/><linearGradient id="qor" href="#L5" x1="1612.5" y1="1974" x2="1509.5" y2="1730.5"/><linearGradient id="qos" href="#L0" x1="1523" y1="1979" x2="1363" y2="1403"/><linearGradient id="qot" href="#L3" x1="1581" y1="1984" x2="1724" y2="1285"/><linearGradient id="qou" href="#L5" x1="1626.2" y1="1969.6" x2="1487.9" y2="1731.3"/><linearGradient id="qov" href="#L2" x1="1502" y1="1988" x2="1719" y2="927"/><linearGradient id="qow" href="#L2" x1="1619" y1="2005" x2="1795" y2="1146"/><linearGradient id="qox" href="#L5" x1="1541.9" y1="1979.7" x2="1438.9" y2="1736.2"/><linearGradient id="qoy" href="#L2" x1="1602" y1="1988" x2="1819" y2="927"/><linearGradient id="qoz" href="#L0" x1="1552" y1="1985" x2="1392" y2="1409"/><linearGradient id="qp0" href="#L5" x1="1616" y1="1968.5" x2="1550" y2="1898.1"/><linearGradient id="qp1" href="#L2" x1="1531" y1="1994" x2="1748" y2="933"/><linearGradient id="qp2" href="#L5" x1="1590.1" y1="1989.5" x2="1487.1" y2="1746"/><linearGradient id="qp3" href="#L5" x1="2541" y1="1849" x2="2401" y2="1503"/><linearGradient id="qp4" href="#L0" x1="2551" y1="1855" x2="2420" y2="1358"/><linearGradient id="qp5" href="#L3" x1="2527" y1="1864" x2="2666" y2="1174"/><linearGradient id="qp6" href="#L0" x1="2625" y1="1864.2" x2="2600" y2="1987.4"/><linearGradient id="qp7" href="#L4" x1="2609" y1="1872" x2="2526" y2="1558"/><linearGradient id="qp8" href="#L0" x1="2620" y1="1876" x2="2390" y2="1310"/><linearGradient id="qp9" href="#L5" x1="2584.3" y1="1879.1" x2="2482.6" y2="1627.8"/><linearGradient id="qpa" href="#L0" x1="2403.7" y1="1877.3" x2="2378.7" y2="2000.6"/><linearGradient id="qpb" href="#L0" x1="2595" y1="1885" x2="2443" y2="1308"/><linearGradient id="qpc" href="#L0" x1="2413.3" y1="1879.3" x2="2388.4" y2="2002.5"/><linearGradient id="qpd" href="#L4" x1="2387" y1="1885" x2="2305" y2="1571"/><linearGradient id="qpe" href="#L0" x1="2512.9" y1="1880.1" x2="2488" y2="2003.4"/><linearGradient id="qpf" href="#L2" x1="2574" y1="1892" x2="2784" y2="855"/><linearGradient id="qpg" href="#L0" x1="2396.5" y1="1875.9" x2="2371.6" y2="1999.1"/><linearGradient id="qph" href="#L0" x1="2700.9" y1="1879.5" x2="2746.5" y2="1654.5"/><linearGradient id="qpi" href="#L0" x1="2342.8" y1="1884.3" x2="2317.8" y2="2007.6"/><linearGradient id="qpj" href="#L4" x1="2496" y1="1888" x2="2414" y2="1574"/><linearGradient id="qpk" href="#L0" x1="2408" y1="1892" x2="2179" y2="1325"/><linearGradient id="qpl" href="#L0" x1="2622.2" y1="1882.9" x2="2597.2" y2="2006.2"/><linearGradient id="qpm" href="#L0" x1="2712.1" y1="1881.8" x2="2687.1" y2="2005"/><linearGradient id="qpn" href="#L0" x1="2530.8" y1="1883.7" x2="2576.4" y2="1658.7"/><linearGradient id="qpo" href="#L4" x1="2326" y1="1892" x2="2244" y2="1578"/><linearGradient id="qpp" href="#L5" x1="2688" y1="1887" x2="2585" y2="1494"/><linearGradient id="qpq" href="#L0" x1="2508" y1="1892" x2="2278" y2="1326"/><linearGradient id="qpr" href="#L0" x1="2721.7" y1="1883.8" x2="2696.8" y2="2007"/><linearGradient id="qps" href="#L0" x1="2631.8" y1="1884.9" x2="2606.9" y2="2008.1"/><linearGradient id="qpt" href="#L5" x1="2363" y1="1892.3" x2="2261.3" y2="1640.9"/><linearGradient id="qpu" href="#L0" x1="2541.9" y1="1886" x2="2517" y2="2009.2"/><linearGradient id="qpv" href="#L4" x1="2606" y1="1891" x2="2523" y2="1577"/><linearGradient id="qpw" href="#L0" x1="2705" y1="1891" x2="2437" y2="1412"/><linearGradient id="qpx" href="#L0" x1="2338" y1="1897" x2="2108" y2="1330"/><linearGradient id="qpy" href="#L5" x1="2518" y1="1891" x2="2414" y2="1499"/><linearGradient id="qpz" href="#L0" x1="2731.4" y1="1885.7" x2="2706.5" y2="2008.9"/><linearGradient id="qq0" href="#L0" x1="2370.9" y1="1877.1" x2="2385.1" y2="1806.9"/><linearGradient id="qq1" href="#L0" x1="2639" y1="1886" x2="2700" y2="1584"/><linearGradient id="qq2" href="#L0" x1="2551.6" y1="1888" x2="2526.7" y2="2011.2"/><linearGradient id="qq3" href="#L0" x1="2615" y1="1881.5" x2="2590.1" y2="2004.7"/><linearGradient id="qq4" href="#L0" x1="2704.9" y1="1880.4" x2="2680" y2="2003.6"/><linearGradient id="qq5" href="#L0" x1="2535" y1="1896" x2="2267" y2="1416"/><linearGradient id="qq6" href="#L4" x1="2743" y1="1891" x2="2660" y2="1577"/><linearGradient id="qq7" href="#L0" x1="2386" y1="1901" x2="2157" y2="1334"/><linearGradient id="qq8" href="#L0" x1="2649.7" y1="1888.5" x2="2695.3" y2="1663.5"/><linearGradient id="qq9" href="#L4" x1="2473" y1="1893" x2="2421" y2="1529"/><linearGradient id="qqa" href="#L0" x1="2559.8" y1="1889.6" x2="2605.4" y2="1664.6"/><linearGradient id="qqb" href="#L5" x1="2629" y1="1893" x2="2536" y2="1485"/><linearGradient id="qqc" href="#L5" x1="2359" y1="1896" x2="2242" y2="1519"/><linearGradient id="qqd" href="#L0" x1="2714.6" y1="1882.3" x2="2689.7" y2="2005.5"/><linearGradient id="qqe" href="#L0" x1="2534.8" y1="1884.6" x2="2509.9" y2="2007.8"/><linearGradient id="qqf" href="#L0" x1="2752" y1="1897" x2="2600" y2="1320"/><linearGradient id="qqg" href="#L5" x1="2666" y1="1893" x2="2563" y2="1500"/><linearGradient id="qqh" href="#L0" x1="2391.2" y1="1894.1" x2="2366.2" y2="2017.4"/><linearGradient id="qqi" href="#L5" x1="2302.1" y1="1899.3" x2="2200.4" y2="1648"/><linearGradient id="qqj" href="#L0" x1="2496" y1="1898" x2="2091" y2="1455"/><linearGradient id="qqk" href="#L0" x1="2661" y1="1887" x2="2254" y2="1584"/><linearGradient id="qql" href="#L0" x1="2724.3" y1="1884.3" x2="2699.3" y2="2007.5"/><linearGradient id="qqm" href="#L0" x1="2374" y1="1903" x2="2166" y2="1389"/><linearGradient id="qqn" href="#L4" x1="2547" y1="1896" x2="2471" y2="1516"/><linearGradient id="qqo" href="#L5" x1="2457" y1="1898" x2="2354" y2="1506"/><linearGradient id="qqp" href="#L0" x1="2400.8" y1="1896.1" x2="2375.9" y2="2019.3"/><linearGradient id="qqq" href="#L0" x1="2312" y1="1905" x2="2161" y2="1328"/><linearGradient id="qqr" href="#L4" x1="2762" y1="1894" x2="2710" y2="1530"/><linearGradient id="qqs" href="#L0" x1="2674" y1="1901" x2="2567" y2="1366"/><linearGradient id="qqt" href="#L5" x1="2496" y1="1897" x2="2409" y2="1490"/><linearGradient id="qqu" href="#L3" x1="2582" y1="1896" x2="2550" y2="1508"/><linearGradient id="qqv" href="#L0" x1="2641.1" y1="1886.8" x2="2686.7" y2="1661.7"/><linearGradient id="qqw" href="#L0" x1="2374.4" y1="1890.7" x2="2349.4" y2="2014"/><linearGradient id="qqx" href="#L0" x1="2737" y1="1901" x2="2585" y2="1324"/><linearGradient id="qqy" href="#L0" x1="2559" y1="1901" x2="2368" y2="1429"/><linearGradient id="qqz" href="#L0" x1="2462.8" y1="1876.4" x2="2477.1" y2="1806.2"/><linearGradient id="qr0" href="#L0" x1="2785" y1="1899" x2="2380" y2="1455"/><linearGradient id="qr1" href="#L0" x1="2673" y1="1890" x2="2746" y2="1526"/><linearGradient id="qr2" href="#L0" x1="2409" y1="1897.8" x2="2454.6" y2="1672.7"/><linearGradient id="qr3" href="#L0" x1="2522" y1="1903" x2="2238" y2="1436"/><linearGradient id="qr4" href="#L0" x1="2580" y1="1892" x2="2659" y2="1499"/><linearGradient id="qr5" href="#L0" x1="2660" y1="1903" x2="2529" y2="1405"/><linearGradient id="qr6" href="#L5" x1="2746" y1="1899" x2="2643" y2="1506"/><linearGradient id="qr7" href="#L0" x1="2384" y1="1892.7" x2="2359.1" y2="2015.9"/><linearGradient id="qr8" href="#L2" x1="2291" y1="1913" x2="2502" y2="875"/><linearGradient id="qr9" href="#L5" x1="2568" y1="1901" x2="2460" y2="1491"/><linearGradient id="qra" href="#L3" x1="2476" y1="1899" x2="2431" y2="1505"/><linearGradient id="qrb" href="#L0" x1="2778.3" y1="1895.2" x2="2823.9" y2="1670.2"/><linearGradient id="qrc" href="#L0" x1="2417" y1="1899" x2="2479" y2="1597"/><linearGradient id="qrd" href="#L0" x1="2686.6" y1="1888.9" x2="2736.4" y2="1642.8"/><linearGradient id="qre" href="#L5" x1="2334" y1="1904" x2="2194" y2="1558"/><linearGradient id="qrf" href="#L2" x1="2505" y1="1917" x2="2716" y2="880"/><linearGradient id="qrg" href="#L4" x1="2608" y1="1898" x2="2542" y2="1472"/><linearGradient id="qrh" href="#L5" x1="2673" y1="1899" x2="2555" y2="1476"/><linearGradient id="qri" href="#L0" x1="2751.9" y1="1877" x2="2766.1" y2="1806.7"/><linearGradient id="qrj" href="#L4" x1="2396" y1="1904" x2="2320" y2="1524"/><linearGradient id="qrk" href="#L5" x1="2588" y1="1899" x2="2493" y2="1464"/><linearGradient id="qrl" href="#L5" x1="2433" y1="1905" x2="2293" y2="1559"/><linearGradient id="qrm" href="#L0" x1="2692" y1="1894" x2="2766" y2="1530"/><linearGradient id="qrn" href="#L0" x1="2344" y1="1912" x2="2236" y2="1376"/><linearGradient id="qro" href="#L4" x1="2525" y1="1900" x2="2453" y2="1516"/><linearGradient id="qrp" href="#L0" x1="2574.8" y1="1858.9" x2="2742.4" y2="1611.4"/><linearGradient id="qrq" href="#L0" x1="2703" y1="1897" x2="2464" y2="1494"/><linearGradient id="qrr" href="#L3" x1="2406" y1="1904" x2="2361" y2="1510"/><linearGradient id="qrs" href="#L0" x1="2760" y1="1891.5" x2="2805.6" y2="1666.5"/><linearGradient id="qrt" href="#L0" x1="2641" y1="1847" x2="2343" y2="1678"/><linearGradient id="qru" href="#L0" x1="2501" y1="1908" x2="2335" y2="1446"/><linearGradient id="qrv" href="#L5" x1="2800" y1="1903.4" x2="2698.3" y2="1652.1"/><linearGradient id="qrw" href="#L0" x1="2714" y1="1909" x2="2485" y2="1342"/><linearGradient id="qrx" href="#L0" x1="2433.8" y1="1885.2" x2="2483.7" y2="1639"/><linearGradient id="qry" href="#L2" x1="2345" y1="1923" x2="2555" y2="886"/><linearGradient id="qrz" href="#L0" x1="2562" y1="1887" x2="2244" y2="1629"/><linearGradient id="qs0" href="#L4" x1="2693" y1="1902" x2="2611" y2="1475"/><linearGradient id="qs1" href="#L0" x1="2777" y1="1907" x2="2586" y2="1435"/><linearGradient id="qs2" href="#L0" x1="2420" y1="1910" x2="2237" y2="1459"/><linearGradient id="qs3" href="#L5" x1="2616" y1="1899" x2="2525" y2="1463"/><linearGradient id="qs4" href="#L3" x1="2319" y1="1918" x2="2459" y2="1229"/><linearGradient id="qs5" href="#L5" x1="2508" y1="1906" x2="2390" y2="1505"/><linearGradient id="qs6" href="#L4" x1="2456" y1="1900" x2="2395" y2="1522"/><linearGradient id="qs7" href="#L2" x1="2804" y1="1920" x2="3014" y2="882"/><linearGradient id="qs8" href="#L5" x1="2722" y1="1905" x2="2582" y2="1559"/><linearGradient id="qs9" href="#L3" x1="2545" y1="1906" x2="2518" y2="1453"/><linearGradient id="qsa" href="#L0" x1="2662" y1="1887" x2="2344" y2="1630"/><linearGradient id="qsb" href="#L0" x1="2709" y1="1906" x2="2534" y2="1472"/><linearGradient id="qsc" href="#L5" x1="2433" y1="1907" x2="2303" y2="1503"/><linearGradient id="qsd" href="#L2" x1="2330" y1="1920" x2="2540" y2="883"/><linearGradient id="qse" href="#L5" x1="2526" y1="1904" x2="2431" y2="1486"/><linearGradient id="qsf" href="#L0" x1="2639" y1="1899" x2="2459" y2="1480"/><linearGradient id="qsg" href="#L5" x1="2823.4" y1="1901.2" x2="2686" y2="1655.3"/><linearGradient id="qsh" href="#L0" x1="2719" y1="1892" x2="2787" y2="1557"/><linearGradient id="qsi" href="#L0" x1="2456.7" y1="1859.1" x2="2470.9" y2="1788.8"/><linearGradient id="qsj" href="#L5" x1="2375" y1="1908" x2="2281" y2="1550"/><linearGradient id="qsk" href="#L5" x1="2575" y1="1902" x2="2482" y2="1466"/><linearGradient id="qsl" href="#L5" x1="2657" y1="1905" x2="2573" y2="1461"/><linearGradient id="qsm" href="#L0" x1="2704" y1="1913" x2="2475" y2="1346"/><linearGradient id="qsn" href="#L2" x1="2789" y1="1917" x2="2999" y2="879"/><linearGradient id="qso" href="#L0" x1="2425" y1="1883.4" x2="2474.8" y2="1637.2"/><linearGradient id="qsp" href="#L5" x1="2344.2" y1="1911.6" x2="2242.5" y2="1660.3"/><linearGradient id="qsq" href="#L5" x1="2625" y1="1905" x2="2530" y2="1487"/><linearGradient id="qsr" href="#L5" x1="2543" y1="1907" x2="2458" y2="1460"/><linearGradient id="qss" href="#L0" x1="2838" y1="1912" x2="2647" y2="1439"/><linearGradient id="qst" href="#L0" x1="2512.8" y1="1849.7" x2="2265.8" y2="1743.3"/><linearGradient id="qsu" href="#L5" x1="2387.5" y1="1892.6" x2="2269.8" y2="1736.3"/><linearGradient id="qsv" href="#L0" x1="2476.3" y1="1772" x2="2659.1" y2="1615.4"/><linearGradient id="qsw" href="#L0" x1="2674" y1="1914" x2="2525" y2="1440"/><linearGradient id="qsx" href="#L5" x1="2724" y1="1908" x2="2598" y2="1491"/><linearGradient id="qsy" href="#L2" x1="2799" y1="1919" x2="3009" y2="881"/><linearGradient id="qsz" href="#L0" x1="2439.4" y1="1855.6" x2="2453.6" y2="1785.3"/><linearGradient id="qt0" href="#L4" x1="2637" y1="1908" x2="2566" y2="1462"/><linearGradient id="qt1" href="#L5" x1="2356" y1="1913" x2="2262" y2="1555"/><linearGradient id="qt2" href="#L0" x1="2590.7" y1="1756.8" x2="2423.1" y2="1731.6"/><linearGradient id="qt3" href="#L5" x1="2838.7" y1="1911.3" x2="2737" y2="1660"/><linearGradient id="qt4" href="#L3" x1="2485" y1="1913" x2="2444" y2="1465"/><linearGradient id="qt5" href="#L0" x1="2753" y1="1915" x2="2601" y2="1425"/><linearGradient id="qt6" href="#L0" x1="2399" y1="1918" x2="2237" y2="1454"/><linearGradient id="qt7" href="#L5" x1="2604" y1="1901" x2="2512" y2="1466"/><linearGradient id="qt8" href="#L4" x1="2676" y1="1905" x2="2595" y2="1478"/><linearGradient id="qt9" href="#L0" x1="2744" y1="1911" x2="2565" y2="1469"/><linearGradient id="qta" href="#L5" x1="2818" y1="1908" x2="2678" y2="1562"/><linearGradient id="qtb" href="#L5" x1="2476" y1="1909" x2="2371" y2="1476"/><linearGradient id="qtc" href="#L0" x1="2370" y1="1924" x2="2230" y2="1391"/><linearGradient id="qtd" href="#L0" x1="2674" y1="1907" x2="2516" y2="1467"/><linearGradient id="qte" href="#L5" x1="2594" y1="1900" x2="2490" y2="1460"/><linearGradient id="qtf" href="#L0" x1="2849" y1="1917" x2="2697" y2="1340"/><linearGradient id="qtg" href="#L2" x1="2490" y1="1913" x2="2484" y2="1456"/><linearGradient id="qth" href="#L5" x1="2409" y1="1915" x2="2288" y2="1504"/><linearGradient id="qti" href="#L0" x1="2633" y1="1903" x2="2460" y2="1477"/><linearGradient id="qtj" href="#L0" x1="2686" y1="1915" x2="2542" y2="1460"/><linearGradient id="qtk" href="#L0" x1="2740" y1="1921" x2="2599" y2="1388"/><linearGradient id="qtl" href="#L0" x1="2826" y1="1917" x2="2635" y2="1444"/><linearGradient id="qtm" href="#L0" x1="2437" y1="1904" x2="2521" y2="1491"/><linearGradient id="qtn" href="#L5" x1="2381.8" y1="1903.1" x2="2242.9" y2="1675.6"/><linearGradient id="qto" href="#L5" x1="2661" y1="1909" x2="2562" y2="1483"/><linearGradient id="qtp" href="#L0" x1="2673" y1="1852" x2="2435" y2="1508"/><linearGradient id="qtq" href="#L4" x1="2534" y1="1910" x2="2470" y2="1455"/><linearGradient id="qtr" href="#L3" x1="2389" y1="1950" x2="2524" y2="1282"/><linearGradient id="qts" href="#L0" x1="2765.8" y1="1912" x2="2811.4" y2="1687"/><linearGradient id="qtt" href="#L5" x1="2318.6" y1="1921.9" x2="2217" y2="1670.6"/><linearGradient id="qtu" href="#L2" x1="2587" y1="1914" x2="2587" y2="1455"/><linearGradient id="qtv" href="#L0" x1="2680.9" y1="1886.5" x2="2624.1" y2="1911.3"/><linearGradient id="qtw" href="#L0" x1="2743" y1="1921" x2="2513" y2="1354"/><linearGradient id="qtx" href="#L5" x1="2508" y1="1911" x2="2423" y2="1462"/><linearGradient id="qty" href="#L2" x1="2828" y1="1925" x2="3038" y2="887"/><linearGradient id="qtz" href="#L3" x1="2384" y1="1919" x2="2338" y2="1525"/><linearGradient id="qu0" href="#L0" x1="2683" y1="1916" x2="2539" y2="1461"/><linearGradient id="qu1" href="#L0" x1="2645" y1="1915" x2="2459" y2="1455"/><linearGradient id="qu2" href="#L0" x1="2637.7" y1="1688.9" x2="2411.3" y2="1620.2"/><linearGradient id="qu3" href="#L2" x1="2391" y1="1981" x2="2562" y2="1137"/><linearGradient id="qu4" href="#L5" x1="2332.3" y1="1917.7" x2="2195" y2="1671.9"/><linearGradient id="qu5" href="#L5" x1="2633" y1="1907" x2="2541" y2="1472"/><linearGradient id="qu6" href="#L5" x1="2704" y1="1914" x2="2592" y2="1487"/><linearGradient id="qu7" href="#L5" x1="2753" y1="1919" x2="2649" y2="1527"/><linearGradient id="qu8" href="#L3" x1="2498" y1="1914" x2="2471" y2="1455"/><linearGradient id="qu9" href="#L0" x1="2401" y1="1935" x2="2313" y2="1386"/><linearGradient id="qua" href="#L4" x1="2665" y1="1915" x2="2615" y2="1511"/><linearGradient id="qub" href="#L5" x1="2612" y1="1912" x2="2522" y2="1462"/><linearGradient id="quc" href="#L5" x1="2791" y1="1919" x2="2666" y2="1550"/><linearGradient id="qud" href="#L5" x1="2591" y1="1900" x2="2484" y2="1462"/><linearGradient id="que" href="#L5" x1="2466" y1="1907" x2="2321" y2="1505"/><linearGradient id="quf" href="#L0" x1="2341" y1="1930" x2="2233" y2="1395"/><linearGradient id="qug" href="#L0" x1="2680" y1="1899" x2="2482" y2="1493"/><linearGradient id="quh" href="#L0" x1="2729" y1="1918" x2="2550" y2="1475"/><linearGradient id="qui" href="#L0" x1="2765" y1="1924" x2="2574" y2="1451"/><linearGradient id="quj" href="#L2" x1="2308" y1="1935" x2="2518" y2="898"/><linearGradient id="quk" href="#L0" x1="2696" y1="1774" x2="2424" y2="1500"/><linearGradient id="qul" href="#L3" x1="2675" y1="1919" x2="2638" y2="1489"/><linearGradient id="qum" href="#L0" x1="2700" y1="1865" x2="2477" y2="1503"/><linearGradient id="qun" href="#L5" x1="2414.5" y1="1888.9" x2="2296.8" y2="1732.6"/><linearGradient id="quo" href="#L0" x1="2800" y1="1925" x2="2669" y2="1427"/><linearGradient id="qup" href="#L0" x1="2616" y1="1912" x2="2477" y2="1461"/><linearGradient id="quq" href="#L4" x1="2403" y1="1943" x2="2508" y2="1424"/><linearGradient id="qur" href="#L5" x1="2351.7" y1="1921.6" x2="2214.3" y2="1675.8"/><linearGradient id="qus" href="#L5" x1="2643" y1="1914" x2="2556" y2="1481"/><linearGradient id="qut" href="#L0" x1="2719" y1="1928" x2="2511" y2="1414"/><linearGradient id="quu" href="#L4" x1="2770" y1="1924" x2="2688" y2="1610"/><linearGradient id="quv" href="#L3" x1="2316" y1="1937" x2="2456" y2="1248"/><linearGradient id="quw" href="#L2" x1="2500" y1="1909" x2="2499" y2="1462"/><linearGradient id="qux" href="#L5" x1="2431" y1="1916" x2="2308" y2="1523"/><linearGradient id="quy" href="#L0" x1="2562.8" y1="1828.3" x2="2617.7" y2="1556.9"/><linearGradient id="quz" href="#L0" x1="2594" y1="1935" x2="2466" y2="1448"/><linearGradient id="qv0" href="#L5" x1="2533" y1="1887" x2="2373" y2="1492"/><linearGradient id="qv1" href="#L5" x1="2359.5" y1="1902.9" x2="2310.7" y2="1866.6"/><linearGradient id="qv2" href="#L0" x1="2685" y1="1908" x2="2478" y2="1504"/><linearGradient id="qv3" href="#L0" x1="2704" y1="1899.3" x2="2838.7" y2="1745.9"/><linearGradient id="qv4" href="#L0" x1="2782" y1="1931" x2="2701" y2="1362"/><linearGradient id="qv5" href="#L2" x1="2327" y1="1939" x2="2537" y2="901"/><linearGradient id="qv6" href="#L0" x1="2612" y1="1916" x2="2477" y2="1460"/><linearGradient id="qv7" href="#L0" x1="2436" y1="1937" x2="2371" y2="1441"/><linearGradient id="qv8" href="#L0" x1="2712" y1="1924" x2="2534" y2="1482"/><linearGradient id="qv9" href="#L0" x1="2694.8" y1="1794.1" x2="2435.9" y2="1685.6"/><linearGradient id="qva" href="#L6" x1="2574.2" y1="1660.1" x2="2410.7" y2="1561.1"/><linearGradient id="qvb" href="#L5" x1="2635" y1="1892" x2="2486" y2="1483"/><linearGradient id="qvc" href="#L0" x1="2370" y1="1939" x2="2307" y2="1393"/><linearGradient id="qvd" href="#L2" x1="2636" y1="1921" x2="2633" y2="1487"/><linearGradient id="qve" href="#L5" x1="2731" y1="1925" x2="2644" y2="1518"/><linearGradient id="qvf" href="#L3" x1="2335" y1="1941" x2="2475" y2="1251"/><linearGradient id="qvg" href="#L0" x1="2596" y1="1921" x2="2448" y2="1468"/><linearGradient id="qvh" href="#L5" x1="2480" y1="1907" x2="2321" y2="1515"/><linearGradient id="qvi" href="#L5" x1="2710" y1="1925" x2="2612" y2="1499"/><linearGradient id="qvj" href="#L0" x1="2587.6" y1="1852.7" x2="2642.6" y2="1581.2"/><linearGradient id="qvk" href="#L0" x1="2603" y1="1931" x2="2515" y2="1460"/><linearGradient id="qvl" href="#L0" x1="2475" y1="1943" x2="2459" y2="1454"/><linearGradient id="qvm" href="#L5" x1="2378.8" y1="1906.8" x2="2330.1" y2="1870.5"/><linearGradient id="qvn" href="#L3" x1="2654" y1="1921" x2="2622" y2="1489"/><linearGradient id="qvo" href="#L0" x1="2745" y1="1931" x2="2554" y2="1459"/><linearGradient id="qvp" href="#L3" x1="2344" y1="1943" x2="2468" y2="1331"/><linearGradient id="qvq" href="#L5" x1="2577" y1="1902" x2="2471" y2="1499"/><linearGradient id="qvr" href="#L4" x1="2383" y1="1953" x2="2486" y2="1446"/><linearGradient id="qvs" href="#L0" x1="2739" y1="1920" x2="2479" y2="1548"/><linearGradient id="qvt" href="#L0" x1="2593" y1="1908" x2="2673" y2="1513"/><linearGradient id="qvu" href="#L3" x1="2515" y1="1969" x2="2626" y2="1419"/><linearGradient id="qvv" href="#L5" x1="2342" y1="1894" x2="2562" y2="1489"/><linearGradient id="qvw" href="#L6" x1="2408" y1="1916" x2="2229" y2="1615"/><linearGradient id="qvx" href="#L0" x1="2641.9" y1="1874.6" x2="2691.8" y2="1628.5"/><linearGradient id="qvy" href="#L5" x1="2745.9" y1="1931.2" x2="2644.3" y2="1679.9"/><linearGradient id="qvz" href="#L0" x1="2580" y1="1937" x2="2503" y2="1461"/><linearGradient id="qw0" href="#L3" x1="2355" y1="1945" x2="2494" y2="1255"/><linearGradient id="qw1" href="#L0" x1="2738" y1="1940" x2="2522" y2="1405"/><linearGradient id="qw2" href="#L0" x1="2602" y1="1905" x2="2680" y2="1521"/><linearGradient id="qw3" href="#L0" x1="2480" y1="1938" x2="2415" y2="1462"/><linearGradient id="qw4" href="#L0" x1="2611" y1="1947" x2="2524" y2="1449"/><linearGradient id="qw5" href="#L0" x1="2522" y1="1942" x2="2457" y2="1461"/><linearGradient id="qw6" href="#L0" x1="2411" y1="1942" x2="2300" y2="1454"/><linearGradient id="qw7" href="#L0" x1="2710" y1="1922" x2="2493" y2="1515"/><linearGradient id="qw8" href="#L0" x1="2756" y1="1937" x2="2604" y2="1360"/><linearGradient id="qw9" href="#L5" x1="2359.6" y1="1914.5" x2="2529" y2="1963.1"/><linearGradient id="qwa" href="#L6" x1="2588" y1="1791.4" x2="2476.1" y2="1727.8"/><linearGradient id="qwb" href="#L0" x1="2733" y1="1936" x2="2542" y2="1464"/><linearGradient id="qwc" href="#L5" x1="2370" y1="1896" x2="2624" y2="1547"/><linearGradient id="qwd" href="#L0" x1="2719" y1="1913" x2="2469" y2="1513"/><linearGradient id="qwe" href="#L0" x1="2521" y1="1944" x2="2452" y2="1461"/><linearGradient id="qwf" href="#L6" x1="2437" y1="1922" x2="2258" y2="1556"/><linearGradient id="qwg" href="#L5" x1="2694" y1="1928" x2="2584" y2="1511"/><linearGradient id="qwh" href="#L0" x1="2764.5" y1="1931.1" x2="2739.5" y2="2054.3"/><linearGradient id="qwi" href="#L5" x1="2358" y1="1887.2" x2="2531.2" y2="1898.2"/><linearGradient id="qwj" href="#L3" x1="2515" y1="1969" x2="2626" y2="1419"/><linearGradient id="qwk" href="#L2" x1="2735" y1="1944" x2="2945" y2="907"/><linearGradient id="qwl" href="#L5" x1="2379" y1="1916" x2="2590" y2="1501"/><linearGradient id="qwm" href="#L0" x1="2633.1" y1="1872.8" x2="2682.9" y2="1626.7"/><linearGradient id="qwn" href="#L4" x1="2560" y1="1955" x2="2666" y2="1436"/><linearGradient id="qwo" href="#L4" x1="2386" y1="1951" x2="2487" y2="1450"/><linearGradient id="qwp" href="#L0" x1="2710" y1="1940" x2="2561" y2="1466"/><linearGradient id="qwq" href="#L0" x1="2395" y1="1947" x2="2287" y2="1444"/><linearGradient id="qwr" href="#L5" x1="2623" y1="1897" x2="2478" y2="1539"/><linearGradient id="qws" href="#L4" x1="2748" y1="1939" x2="2666" y2="1625"/><linearGradient id="qwt" href="#L0" x1="2486" y1="1951" x2="2459" y2="1454"/><linearGradient id="qwu" href="#L0" x1="2722" y1="1902" x2="2415" y2="1616"/><linearGradient id="qwv" href="#L3" x1="2564" y1="1972" x2="2676" y2="1416"/><linearGradient id="qww" href="#L0" x1="2541" y1="1943" x2="2442" y2="1474"/><linearGradient id="qwx" href="#L0" x1="2442" y1="1944" x2="2332" y2="1481"/><linearGradient id="qwy" href="#L0" x1="2707" y1="1949" x2="2562" y2="1399"/><linearGradient id="qwz" href="#L4" x1="2383" y1="1950" x2="2485" y2="1449"/><linearGradient id="qx0" href="#L0" x1="2616" y1="1939" x2="2495" y2="1480"/><linearGradient id="qx1" href="#L4" x1="2464" y1="1955" x2="2569" y2="1436"/><linearGradient id="qx2" href="#L0" x1="2759" y1="1943" x2="2530" y2="1377"/><linearGradient id="qx3" href="#L0" x1="2695" y1="1951" x2="2561" y2="1440"/><linearGradient id="qx4" href="#L0" x1="2643" y1="1952" x2="2552" y2="1456"/><linearGradient id="qx5" href="#L6" x1="2558.8" y1="1879.3" x2="2391.4" y2="1723.6"/><linearGradient id="qx6" href="#L0" x1="2719" y1="1942" x2="2490" y2="1497"/><linearGradient id="qx7" href="#L6" x1="2448" y1="1931" x2="2274" y2="1658"/><linearGradient id="qx8" href="#L5" x1="2344.8" y1="1946.6" x2="2243.2" y2="1695.3"/><linearGradient id="qx9" href="#L6" x1="2634.1" y1="1869.9" x2="2449.8" y2="1692"/><linearGradient id="qxa" href="#L4" x1="2393" y1="1952" x2="2494" y2="1451"/><linearGradient id="qxb" href="#L2" x1="2489" y1="1955" x2="2521" y2="1448"/><linearGradient id="qxc" href="#L0" x1="2696" y1="1946" x2="2537" y2="1464"/><linearGradient id="qxd" href="#L3" x1="2584" y1="2003" x2="2719" y2="1335"/><linearGradient id="qxe" href="#L3" x1="2505" y1="1967" x2="2616" y2="1417"/><linearGradient id="qxf" href="#L0" x1="2713.3" y1="1940.1" x2="2688.3" y2="2063.3"/><linearGradient id="qxg" href="#L6" x1="2457.7" y1="1890.8" x2="2357.8" y2="1824.6"/><linearGradient id="qxh" href="#L5" x1="2358.5" y1="1942.3" x2="2221.2" y2="1696.5"/><linearGradient id="qxi" href="#L3" x1="2413" y1="1957" x2="2553" y2="1267"/><linearGradient id="qxj" href="#L3" x1="2563" y1="1972" x2="2676" y2="1416"/><linearGradient id="qxk" href="#L3" x1="2491" y1="1963" x2="2609" y2="1384"/><linearGradient id="qxl" href="#L5" x1="2695" y1="1935" x2="2605" y2="1595"/><linearGradient id="qxm" href="#L0" x1="2650" y1="1956" x2="2572" y2="1452"/><linearGradient id="qxn" href="#L6" x1="2587.7" y1="1847.5" x2="2431.4" y2="1731.3"/><linearGradient id="qxo" href="#L4" x1="2725" y1="1944" x2="2673" y2="1580"/><linearGradient id="qxp" href="#L0" x1="2463" y1="1954" x2="2379" y2="1460"/><linearGradient id="qxq" href="#L0" x1="2367" y1="1953" x2="2236" y2="1456"/><linearGradient id="qxr" href="#L5" x1="2399" y1="1933" x2="2805" y2="1756"/><linearGradient id="qxs" href="#L3" x1="2571" y1="2001" x2="2706" y2="1333"/><linearGradient id="qxt" href="#L5" x1="2454" y1="1915" x2="2815" y2="1652"/><linearGradient id="qxu" href="#L0" x1="2707" y1="1948" x2="2492" y2="1500"/><linearGradient id="qxv" href="#L2" x1="2334" y1="1960" x2="2544" y2="922"/><linearGradient id="qxw" href="#L0" x1="2655" y1="1958" x2="2577" y2="1440"/><linearGradient id="qxx" href="#L0" x1="2573" y1="1950" x2="2465" y2="1486"/><linearGradient id="qxy" href="#L3" x1="2453" y1="1965" x2="2577" y2="1353"/><linearGradient id="qxz" href="#L0" x1="2737" y1="1952" x2="2508" y2="1386"/><linearGradient id="qy0" href="#L1" x1="2435" y1="1960" x2="2442" y2="1427"/><linearGradient id="qy1" href="#L0" x1="2637" y1="1956" x2="2543" y2="1464"/><linearGradient id="qy2" href="#L3" x1="2505" y1="1967" x2="2616" y2="1417"/><linearGradient id="qy3" href="#L3" x1="2342" y1="1962" x2="2482" y2="1272"/><linearGradient id="qy4" href="#L4" x1="2708" y1="1948" x2="2632" y2="1568"/><linearGradient id="qy5" href="#L0" x1="2666" y1="1955" x2="2537" y2="1462"/><linearGradient id="qy6" href="#L6" x1="2585" y1="1932" x2="2406" y2="1631"/><linearGradient id="qy7" href="#L0" x1="2477" y1="1960" x2="2414" y2="1415"/><linearGradient id="qy8" href="#L3" x1="2441" y1="1962" x2="2565" y2="1350"/><linearGradient id="qy9" href="#L0" x1="2632" y1="1964" x2="2589" y2="1423"/><linearGradient id="qya" href="#L0" x1="2541" y1="1961" x2="2512" y2="1458"/><linearGradient id="qyb" href="#L0" x1="2725" y1="1955" x2="2517" y2="1441"/><linearGradient id="qyc" href="#L5" x1="2672" y1="1937" x2="2558" y2="1655"/><linearGradient id="qyd" href="#L3" x1="2551" y1="1975" x2="2668" y2="1396"/><linearGradient id="qye" href="#L3" x1="2475" y1="1969" x2="2614" y2="1280"/><linearGradient id="qyf" href="#L3" x1="2450" y1="1964" x2="2574" y2="1352"/><linearGradient id="qyg" href="#L3" x1="2620" y1="1977" x2="2756" y2="1309"/><linearGradient id="qyh" href="#L3" x1="2537" y1="1969" x2="2672" y2="1301"/><linearGradient id="qyi" href="#L0" x1="2679" y1="1958" x2="2550" y2="1465"/><linearGradient id="qyj" href="#L3" x1="2563" y1="1971" x2="2675" y2="1421"/><linearGradient id="qyk" href="#L5" x1="2494.9" y1="1930.3" x2="2446.2" y2="1894"/><linearGradient id="qyl" href="#L5" x1="2402.9" y1="1958.3" x2="2301.2" y2="1707"/><linearGradient id="qym" href="#L3" x1="2461" y1="1966" x2="2601" y2="1277"/><linearGradient id="qyn" href="#L5" x1="2535" y1="1903.7" x2="2708.2" y2="1914.7"/><linearGradient id="qyo" href="#L5" x1="2687" y1="1952" x2="2593" y2="1594"/><linearGradient id="qyp" href="#L0" x1="2607" y1="1962" x2="2496" y2="1474"/><linearGradient id="qyq" href="#L3" x1="2491" y1="1972" x2="2615" y2="1360"/><linearGradient id="qyr" href="#L0" x1="2413" y1="1964" x2="2261" y2="1387"/><linearGradient id="qys" href="#L3" x1="2471" y1="1968" x2="2611" y2="1279"/><linearGradient id="qyt" href="#L0" x1="2662" y1="1965" x2="2562" y2="1429"/><linearGradient id="qyu" href="#L0" x1="2568" y1="1967" x2="2534" y2="1440"/><linearGradient id="qyv" href="#L0" x1="2698" y1="1964" x2="2557" y2="1431"/><linearGradient id="qyw" href="#L0" x1="2643" y1="1959" x2="2303" y2="1508"/><linearGradient id="qyx" href="#L0" x1="2517" y1="1965" x2="2404" y2="1467"/><linearGradient id="qyy" href="#L3" x1="2479" y1="1970" x2="2603" y2="1358"/><linearGradient id="qyz" href="#L5" x1="2669" y1="1957" x2="2575" y2="1599"/><linearGradient id="qz0" href="#L5" x1="2554.3" y1="1907.6" x2="2727.6" y2="1918.6"/><linearGradient id="qz1" href="#L2" x1="2392" y1="1972" x2="2602" y2="934"/><linearGradient id="qz2" href="#L2" x1="2516" y1="1977" x2="2726" y2="940"/><linearGradient id="qz3" href="#L3" x1="2489" y1="1972" x2="2613" y2="1360"/><linearGradient id="qz4" href="#L0" x1="2683" y1="1968" x2="2543" y2="1435"/><linearGradient id="qz5" href="#L5" x1="2599" y1="1954" x2="2478" y2="1573"/><linearGradient id="qz6" href="#L3" x1="2613" y1="1978" x2="2753" y2="1288"/><linearGradient id="qz7" href="#L5" x1="2535.5" y1="1958.9" x2="2398.2" y2="1713.1"/><linearGradient id="qz8" href="#L2" x1="2501" y1="1974" x2="2712" y2="937"/><linearGradient id="qz9" href="#L0" x1="2614" y1="1966" x2="2425" y2="1500"/><linearGradient id="qza" href="#L0" x1="2637" y1="1971" x2="2496" y2="1438"/><linearGradient id="qzb" href="#L0" x1="2544" y1="1972" x2="2437" y2="1436"/><linearGradient id="qzc" href="#L2" x1="2511" y1="1976" x2="2721" y2="939"/><linearGradient id="qzd" href="#L0" x1="2610" y1="1970" x2="2479" y2="1473"/><linearGradient id="qze" href="#L5" x1="2646" y1="1962" x2="2523" y2="1658"/><linearGradient id="qzf" href="#L5" x1="2554.9" y1="1962.8" x2="2417.5" y2="1717"/><linearGradient id="qzg" href="#L3" x1="2519" y1="1978" x2="2659" y2="1289"/><linearGradient id="qzh" href="#L5" x1="2615.5" y1="1956.3" x2="2546.4" y2="1880.6"/><linearGradient id="qzi" href="#L0" x1="2656" y1="1975" x2="2516" y2="1442"/><linearGradient id="qzj" href="#L6" x1="2574" y1="1957" x2="2400" y2="1683"/><linearGradient id="qzk" href="#L2" x1="2530" y1="1980" x2="2741" y2="943"/><linearGradient id="qzl" href="#L0" x1="2577" y1="1977" x2="2485" y2="1476"/><linearGradient id="qzm" href="#L3" x1="2539" y1="1982" x2="2678" y2="1293"/><linearGradient id="qzn" href="#L2" x1="2624" y1="1993" x2="2795" y2="1149"/><linearGradient id="qzo" href="#L0" x1="2582" y1="1978" x2="2451" y2="1480"/><linearGradient id="qzp" href="#L3" x1="2546" y1="1983" x2="2661" y2="1416"/><linearGradient id="qzq" href="#L5" x1="2589.5" y1="1976.8" x2="2487.9" y2="1725.5"/><linearGradient id="qzr" href="#L3" x1="2558" y1="1986" x2="2698" y2="1297"/><linearGradient id="qzs" href="#L2" x1="2594" y1="1993" x2="2804" y2="955"/><linearGradient id="qzt" href="#L2" x1="2603" y1="1995" x2="2814" y2="957"/><linearGradient id="qzu" href="#L2" x1="2579" y1="1990" x2="2789" y2="952"/><linearGradient id="qzv" href="#L2" x1="2588" y1="1992" x2="2799" y2="954"/><linearGradient id="qzw" href="#L0" x1="3422.5" y1="1869.9" x2="3398.1" y2="1992.4"/><linearGradient id="qzx" href="#L4" x1="3406" y1="1878" x2="3323" y2="1564"/><linearGradient id="qzy" href="#L0" x1="3619.9" y1="1870.5" x2="3664.8" y2="1644.8"/><linearGradient id="qzz" href="#L0" x1="3531.6" y1="1872.3" x2="3507.2" y2="1994.8"/><linearGradient id="q100" href="#L0" x1="3417" y1="1882" x2="3187" y2="1317"/><linearGradient id="q101" href="#L0" x1="3631" y1="1872.7" x2="3606.6" y2="1995.2"/><linearGradient id="q102" href="#L4" x1="3515" y1="1880" x2="3432" y2="1566"/><linearGradient id="q103" href="#L5" x1="3607" y1="1878" x2="3502" y2="1486"/><linearGradient id="q104" href="#L0" x1="3550.9" y1="1876.1" x2="3526.5" y2="1998.6"/><linearGradient id="q105" href="#L0" x1="3461.1" y1="1877.6" x2="3436.7" y2="2000.1"/><linearGradient id="q106" href="#L0" x1="3526" y1="1885" x2="3296" y2="1319"/><linearGradient id="q107" href="#L0" x1="3624" y1="1882" x2="3355" y2="1404"/><linearGradient id="q108" href="#L0" x1="3648.8" y1="1876.3" x2="3693.7" y2="1650.6"/><linearGradient id="q109" href="#L0" x1="3560.5" y1="1878" x2="3536.1" y2="2000.5"/><linearGradient id="q10a" href="#L5" x1="3381.8" y1="1884.9" x2="3279.4" y2="1633.4"/><linearGradient id="q10b" href="#L4" x1="3534" y1="1884" x2="3451" y2="1570"/><linearGradient id="q10c" href="#L0" x1="3626" y1="1885" x2="3396" y2="1320"/><linearGradient id="q10d" href="#L4" x1="3445" y1="1885" x2="3361" y2="1572"/><linearGradient id="q10e" href="#L0" x1="3300.9" y1="1884.3" x2="3276.5" y2="2006.8"/><linearGradient id="q10f" href="#L0" x1="3570.2" y1="1879.9" x2="3545.8" y2="2002.4"/><linearGradient id="q10g" href="#L0" x1="3392" y1="1890" x2="3239" y2="1315"/><linearGradient id="q10h" href="#L0" x1="3543.7" y1="1874.7" x2="3519.3" y2="1997.2"/><linearGradient id="q10i" href="#L5" x1="3636" y1="1884" x2="3531" y2="1492"/><linearGradient id="q10j" href="#L0" x1="3456" y1="1890" x2="3226" y2="1325"/><linearGradient id="q10k" href="#L0" x1="3310.6" y1="1886.2" x2="3286.2" y2="2008.7"/><linearGradient id="q10l" href="#L5" x1="3583" y1="1885" x2="3443" y2="1539"/><linearGradient id="q10m" href="#L5" x1="3490.9" y1="1887.3" x2="3388.5" y2="1635.8"/><linearGradient id="q10n" href="#L0" x1="3553.4" y1="1876.6" x2="3529" y2="1999.1"/><linearGradient id="q10o" href="#L4" x1="3284" y1="1892" x2="3201" y2="1579"/><linearGradient id="q10p" href="#L0" x1="3648" y1="1888" x2="3456" y2="1417"/><linearGradient id="q10q" href="#L2" x1="3371" y1="1898" x2="3578" y2="860"/><linearGradient id="q10r" href="#L0" x1="3679.2" y1="1882.3" x2="3654.8" y2="2004.8"/><linearGradient id="q10s" href="#L0" x1="3596" y1="1893" x2="3454" y2="1361"/><linearGradient id="q10t" href="#L0" x1="3501" y1="1893" x2="3348" y2="1317"/><linearGradient id="q10u" href="#L0" x1="3565" y1="1892" x2="3335" y2="1327"/><linearGradient id="q10v" href="#L0" x1="3293.8" y1="1882.9" x2="3269.4" y2="2005.4"/><linearGradient id="q10w" href="#L0" x1="3329.9" y1="1890.1" x2="3305.5" y2="2012.6"/><linearGradient id="q10x" href="#L0" x1="3614" y1="1891" x2="3210" y2="1448"/><linearGradient id="q10y" href="#L4" x1="3421" y1="1892" x2="3338" y2="1578"/><linearGradient id="q10z" href="#L5" x1="3510.2" y1="1891.1" x2="3407.8" y2="1639.7"/><linearGradient id="q110" href="#L5" x1="3574.8" y1="1878.3" x2="3504.6" y2="1801.4"/><linearGradient id="q111" href="#L0" x1="3305" y1="1899" x2="3075" y2="1333"/><linearGradient id="q112" href="#L4" x1="3663" y1="1890" x2="3579" y2="1577"/><linearGradient id="q113" href="#L2" x1="3480" y1="1901" x2="3687" y2="862"/><linearGradient id="q114" href="#L5" x1="3614" y1="1890" x2="3510" y2="1497"/><linearGradient id="q115" href="#L0" x1="3434" y1="1899" x2="3204" y2="1334"/><linearGradient id="q116" href="#L2" x1="3514" y1="1907" x2="3721" y2="869"/><linearGradient id="q117" href="#L5" x1="3586" y1="1889" x2="3491" y2="1532"/><linearGradient id="q118" href="#L0" x1="3674" y1="1895" x2="3444" y2="1330"/><linearGradient id="q119" href="#L4" x1="3313" y1="1898" x2="3230" y2="1584"/><linearGradient id="q11a" href="#L4" x1="3403" y1="1896" x2="3320" y2="1583"/><linearGradient id="q11b" href="#L0" x1="3708.2" y1="1888.1" x2="3683.8" y2="2010.6"/><linearGradient id="q11c" href="#L0" x1="3628" y1="1896" x2="3437" y2="1425"/><linearGradient id="q11d" href="#L5" x1="3260.2" y1="1899.3" x2="3157.8" y2="1647.8"/><linearGradient id="q11e" href="#L0" x1="3438.9" y1="1892.4" x2="3414.5" y2="2014.9"/><linearGradient id="q11f" href="#L0" x1="3527.7" y1="1877.9" x2="3541.8" y2="1807"/><linearGradient id="q11g" href="#L0" x1="3589.1" y1="1883.7" x2="3634" y2="1658"/><linearGradient id="q11h" href="#L0" x1="3325" y1="1902" x2="3095" y2="1337"/><linearGradient id="q11i" href="#L2" x1="3499" y1="1905" x2="3706" y2="866"/><linearGradient id="q11j" href="#L0" x1="3235" y1="1904" x2="3005" y2="1339"/><linearGradient id="q11k" href="#L5" x1="3718.6" y1="1894" x2="3616.2" y2="1642.5"/><linearGradient id="q11l" href="#L2" x1="3264" y1="1916" x2="3471" y2="877"/><linearGradient id="q11m" href="#L0" x1="3447.1" y1="1894.1" x2="3492" y2="1668.4"/><linearGradient id="q11n" href="#L0" x1="3553" y1="1898" x2="3149" y2="1455"/><linearGradient id="q11o" href="#L4" x1="3692" y1="1896" x2="3608" y2="1582"/><linearGradient id="q11p" href="#L5" x1="3516" y1="1897" x2="3397" y2="1520"/><linearGradient id="q11q" href="#L0" x1="3422.1" y1="1889.1" x2="3397.7" y2="2011.6"/><linearGradient id="q11r" href="#L0" x1="3732" y1="1900" x2="3502" y2="1335"/><linearGradient id="q11s" href="#L5" x1="3638.5" y1="1897.4" x2="3536.1" y2="1645.9"/><linearGradient id="q11t" href="#L0" x1="3368.5" y1="1897.7" x2="3344.1" y2="2020.2"/><linearGradient id="q11u" href="#L0" x1="3280" y1="1907" x2="3127" y2="1331"/><linearGradient id="q11v" href="#L0" x1="3456" y1="1896" x2="3516" y2="1593"/><linearGradient id="q11w" href="#L4" x1="3550" y1="1897" x2="3497" y2="1533"/><linearGradient id="q11x" href="#L0" x1="3616" y1="1901" x2="3424" y2="1430"/><linearGradient id="q11y" href="#L0" x1="3703" y1="1900" x2="3473" y2="1335"/><linearGradient id="q11z" href="#L0" x1="3520.1" y1="1876.4" x2="3534.2" y2="1805.5"/><linearGradient id="q120" href="#L2" x1="3250" y1="1913" x2="3456" y2="874"/><linearGradient id="q121" href="#L4" x1="3434" y1="1900" x2="3357" y2="1521"/><linearGradient id="q122" href="#L4" x1="3380" y1="1902" x2="3327" y2="1538"/><linearGradient id="q123" href="#L5" x1="3289.2" y1="1905.1" x2="3186.8" y2="1653.6"/><linearGradient id="q124" href="#L0" x1="3649" y1="1903" x2="3496" y2="1327"/><linearGradient id="q125" href="#L0" x1="3466.4" y1="1897.9" x2="3511.3" y2="1672.2"/><linearGradient id="q126" href="#L3" x1="3561" y1="1897" x2="3532" y2="1477"/><linearGradient id="q127" href="#L4" x1="3352" y1="1905" x2="3269" y2="1592"/><linearGradient id="q128" href="#L5" x1="3712.3" y1="1896.6" x2="3609.9" y2="1645.1"/><linearGradient id="q129" href="#L0" x1="3528.3" y1="1890.9" x2="3573.2" y2="1665.2"/><linearGradient id="q12a" href="#L2" x1="3259" y1="1915" x2="3466" y2="876"/><linearGradient id="q12b" href="#L3" x1="3444" y1="1900" x2="3397" y2="1506"/><linearGradient id="q12c" href="#L2" x1="3383" y1="1920" x2="3590" y2="882"/><linearGradient id="q12d" href="#L0" x1="3299" y1="1910" x2="3146" y2="1335"/><linearGradient id="q12e" href="#L0" x1="3210" y1="1912" x2="3056" y2="1336"/><linearGradient id="q12f" href="#L0" x1="3476.1" y1="1899.8" x2="3521" y2="1674.1"/><linearGradient id="q12g" href="#L0" x1="3555" y1="1890" x2="3631" y2="1509"/><linearGradient id="q12h" href="#L2" x1="3628" y1="1911" x2="3834" y2="872"/><linearGradient id="q12i" href="#L0" x1="3722" y1="1904" x2="3492" y2="1339"/><linearGradient id="q12j" href="#L4" x1="3364" y1="1905" x2="3286" y2="1526"/><linearGradient id="q12k" href="#L5" x1="3552" y1="1900" x2="3452" y2="1475"/><linearGradient id="q12l" href="#L0" x1="3478" y1="1896" x2="3072" y2="1593"/><linearGradient id="q12m" href="#L0" x1="3396.5" y1="1890.4" x2="3410.6" y2="1819.5"/><linearGradient id="q12n" href="#L4" x1="3668" y1="1902" x2="3585" y2="1589"/><linearGradient id="q12o" href="#L0" x1="3305" y1="1904" x2="3365" y2="1601"/><linearGradient id="q12p" href="#L5" x1="3492" y1="1904" x2="3388" y2="1512"/><linearGradient id="q12q" href="#L0" x1="3568" y1="1889" x2="3635" y2="1553"/><linearGradient id="q12r" href="#L2" x1="3189" y1="1920" x2="3395" y2="882"/><linearGradient id="q12s" href="#L0" x1="3377" y1="1911" x2="3211" y2="1427"/><linearGradient id="q12t" href="#L4" x1="3562" y1="1899" x2="3505" y2="1467"/><linearGradient id="q12u" href="#L2" x1="3278" y1="1918" x2="3485" y2="880"/><linearGradient id="q12v" href="#L0" x1="3457.8" y1="1896.2" x2="3502.7" y2="1670.5"/><linearGradient id="q12w" href="#L5" x1="3766.9" y1="1903.6" x2="3664.5" y2="1652.1"/><linearGradient id="q12x" href="#L5" x1="3413" y1="1904" x2="3289" y2="1600"/><linearGradient id="q12y" href="#L0" x1="3691" y1="1906" x2="3287" y2="1464"/><linearGradient id="q12z" href="#L0" x1="3488" y1="1892" x2="3555" y2="1556"/><linearGradient id="q130" href="#L0" x1="3609" y1="1902" x2="3333" y2="1512"/><linearGradient id="q131" href="#L4" x1="3650" y1="1907" x2="3567" y2="1593"/><linearGradient id="q132" href="#L5" x1="3385" y1="1909" x2="3266" y2="1532"/><linearGradient id="q133" href="#L5" x1="3295" y1="1912" x2="3186" y2="1502"/><linearGradient id="q134" href="#L0" x1="3624" y1="1870" x2="3317" y2="1584"/><linearGradient id="q135" href="#L0" x1="3467.5" y1="1898.1" x2="3512.4" y2="1672.4"/><linearGradient id="q136" href="#L0" x1="3777" y1="1909" x2="3624" y2="1333"/><linearGradient id="q137" href="#L5" x1="3686.8" y1="1907" x2="3584.4" y2="1655.5"/><linearGradient id="q138" href="#L4" x1="3424" y1="1902" x2="3362" y2="1524"/><linearGradient id="q139" href="#L4" x1="3328" y1="1912" x2="3245" y2="1598"/><linearGradient id="q13a" href="#L0" x1="3500.8" y1="1887.2" x2="3549.9" y2="1640.4"/><linearGradient id="q13b" href="#L0" x1="3594.8" y1="1904.1" x2="3639.7" y2="1678.4"/><linearGradient id="q13c" href="#L5" x1="3664" y1="1905" x2="3568" y2="1548"/><linearGradient id="q13d" href="#L0" x1="3400" y1="1917" x2="3191" y2="1404"/><linearGradient id="q13e" href="#L0" x1="3619" y1="1895" x2="3308" y2="1524"/><linearGradient id="q13f" href="#L0" x1="3307" y1="1915" x2="3124" y2="1465"/><linearGradient id="q13g" href="#L5" x1="3494" y1="1906" x2="3383" y2="1489"/><linearGradient id="q13h" href="#L0" x1="3477" y1="1861" x2="3123" y2="1767"/><linearGradient id="q13i" href="#L5" x1="3342" y1="1909" x2="3219" y2="1605"/><linearGradient id="q13j" href="#L5" x1="3786.2" y1="1907.4" x2="3683.8" y2="1656"/><linearGradient id="q13k" href="#L0" x1="3700" y1="1913" x2="3470" y2="1348"/><linearGradient id="q13l" href="#L5" x1="3536" y1="1903" x2="3425" y2="1487"/><linearGradient id="q13m" href="#L0" x1="3604.4" y1="1906.1" x2="3649.3" y2="1680.3"/><linearGradient id="q13n" href="#L0" x1="3674" y1="1912" x2="3482" y2="1441"/><linearGradient id="q13o" href="#L5" x1="3411" y1="1910" x2="3287" y2="1508"/><linearGradient id="q13p" href="#L2" x1="3756" y1="1917" x2="3963" y2="879"/><linearGradient id="q13q" href="#L4" x1="3311" y1="1916" x2="3227" y2="1603"/><linearGradient id="q13r" href="#L0" x1="3539" y1="1899" x2="3227" y2="1528"/><linearGradient id="q13s" href="#L0" x1="3600" y1="1908" x2="3343" y2="1504"/><linearGradient id="q13t" href="#L0" x1="3794.1" y1="1892.3" x2="3808.2" y2="1821.4"/><linearGradient id="q13u" href="#L0" x1="3430.4" y1="1892.5" x2="3479.5" y2="1645.7"/><linearGradient id="q13v" href="#L0" x1="3352" y1="1920" x2="3198" y2="1430"/><linearGradient id="q13w" href="#L6" x1="3565.5" y1="1860.3" x2="3386.8" y2="1633.4"/><linearGradient id="q13x" href="#L0" x1="3611" y1="1907" x2="3680" y2="1560"/><linearGradient id="q13y" href="#L5" x1="3680.5" y1="1909.5" x2="3578.1" y2="1658.1"/><linearGradient id="q13z" href="#L4" x1="3423" y1="1906" x2="3344" y2="1505"/><linearGradient id="q140" href="#L0" x1="3586.2" y1="1902.4" x2="3631.1" y2="1676.7"/><linearGradient id="q141" href="#L4" x1="3509" y1="1907" x2="3446" y2="1494"/><linearGradient id="q142" href="#L0" x1="3803.7" y1="1894.2" x2="3817.8" y2="1823.3"/><linearGradient id="q143" href="#L2" x1="3435" y1="1943" x2="3603" y2="1098"/><linearGradient id="q144" href="#L0" x1="3713.5" y1="1908.5" x2="3758.4" y2="1682.7"/><linearGradient id="q145" href="#L5" x1="3360" y1="1917" x2="3235" y2="1549"/><linearGradient id="q146" href="#L0" x1="3624" y1="1886" x2="3350" y2="1508"/><linearGradient id="q147" href="#L5" x1="3272" y1="1918" x2="3123" y2="1552"/><linearGradient id="q148" href="#L2" x1="3626" y1="1912" x2="3612" y2="1507"/><linearGradient id="q149" href="#L0" x1="3690" y1="1917" x2="3460" y2="1352"/><linearGradient id="q14a" href="#L5" x1="3782" y1="1911" x2="3664" y2="1534"/><linearGradient id="q14b" href="#L0" x1="3469" y1="1904" x2="3157" y2="1533"/><linearGradient id="q14c" href="#L4" x1="3605" y1="1913" x2="3527" y2="1494"/><linearGradient id="q14d" href="#L2" x1="3321" y1="1940" x2="3489" y2="1095"/><linearGradient id="q14e" href="#L0" x1="3533" y1="1920" x2="3405" y2="1438"/><linearGradient id="q14f" href="#L0" x1="3829" y1="1914" x2="3425" y2="1472"/><linearGradient id="q14g" href="#L5" x1="3474" y1="1912" x2="3383" y2="1481"/><linearGradient id="q14h" href="#L0" x1="3724.6" y1="1910.7" x2="3700.2" y2="2033.2"/><linearGradient id="q14i" href="#L0" x1="3334.1" y1="1881.3" x2="3510" y2="1639.6"/><linearGradient id="q14j" href="#L0" x1="3620" y1="1895" x2="3308" y2="1524"/><linearGradient id="q14k" href="#L0" x1="3283" y1="1924" x2="3142" y2="1450"/><linearGradient id="q14l" href="#L4" x1="3639" y1="1912" x2="3588" y2="1508"/><linearGradient id="q14m" href="#L5" x1="3700" y1="1916" x2="3596" y2="1524"/><linearGradient id="q14n" href="#L0" x1="3786.4" y1="1890.8" x2="3800.6" y2="1819.8"/><linearGradient id="q14o" href="#L0" x1="3443" y1="1921" x2="3283" y2="1462"/><linearGradient id="q14p" href="#L0" x1="3339.1" y1="1911.2" x2="3314.7" y2="2033.7"/><linearGradient id="q14q" href="#L0" x1="3600" y1="1905" x2="3669" y2="1558"/><linearGradient id="q14r" href="#L5" x1="3559" y1="1902" x2="3416" y2="1494"/><linearGradient id="q14s" href="#L0" x1="3529.6" y1="1805.4" x2="3292" y2="1760.7"/><linearGradient id="q14t" href="#L5" x1="3388" y1="1918" x2="3295" y2="1492"/><linearGradient id="q14u" href="#L5" x1="3286.3" y1="1923.8" x2="3183.9" y2="1672.3"/><linearGradient id="q14v" href="#L0" x1="3601.7" y1="1826.7" x2="3389.5" y2="1778.2"/><linearGradient id="q14w" href="#L0" x1="3654" y1="1920" x2="3463" y2="1449"/><linearGradient id="q14x" href="#L0" x1="3717" y1="1920" x2="3449" y2="1442"/><linearGradient id="q14y" href="#L5" x1="3250.1" y1="1900.8" x2="3416.4" y2="1949.2"/><linearGradient id="q14z" href="#L0" x1="3796.1" y1="1892.7" x2="3810.2" y2="1821.8"/><linearGradient id="q150" href="#L5" x1="3455" y1="1917" x2="3334" y2="1492"/><linearGradient id="q151" href="#L5" x1="3370" y1="1918" x2="3249" y2="1487"/><linearGradient id="q152" href="#L0" x1="3610" y1="1903" x2="3674" y2="1581"/><linearGradient id="q153" href="#L0" x1="3609" y1="1898" x2="3359" y2="1499"/><linearGradient id="q154" href="#L1" x1="3473" y1="1915" x2="3476" y2="1468"/><linearGradient id="q155" href="#L5" x1="3406" y1="1906" x2="3305" y2="1527"/><linearGradient id="q156" href="#L5" x1="3839" y1="1915" x2="3735" y2="1523"/><linearGradient id="q157" href="#L0" x1="3294.2" y1="1908.7" x2="3308.3" y2="1837.7"/><linearGradient id="q158" href="#L0" x1="3552" y1="1909" x2="3628" y2="1528"/><linearGradient id="q159" href="#L4" x1="3656" y1="1918" x2="3603" y2="1554"/><linearGradient id="q15a" href="#L0" x1="3719" y1="1923" x2="3489" y2="1358"/><linearGradient id="q15b" href="#L0" x1="3271" y1="1930" x2="3040" y2="1365"/><linearGradient id="q15c" href="#L4" x1="3473" y1="1909" x2="3394" y2="1486"/><linearGradient id="q15d" href="#L0" x1="3812" y1="1920" x2="3620" y2="1449"/><linearGradient id="q15e" href="#L0" x1="3414" y1="1899" x2="3169" y2="1548"/><linearGradient id="q15f" href="#L0" x1="3648" y1="1922" x2="3458" y2="1457"/><linearGradient id="q15g" href="#L4" x1="3556" y1="1912" x2="3494" y2="1478"/><linearGradient id="q15h" href="#L0" x1="3440.5" y1="1777.9" x2="3562.2" y2="1719.7"/><linearGradient id="q15i" href="#L5" x1="3758" y1="1919" x2="3632" y2="1551"/><linearGradient id="q15j" href="#L0" x1="3469" y1="1903" x2="3157" y2="1532"/><linearGradient id="q15k" href="#L0" x1="3303.8" y1="1910.6" x2="3317.9" y2="1839.7"/><linearGradient id="q15l" href="#L3" x1="3582" y1="1918" x2="3546" y2="1476"/><linearGradient id="q15m" href="#L0" x1="3685" y1="1906" x2="3263" y2="1784"/><linearGradient id="q15n" href="#L5" x1="3282" y1="1927" x2="3164" y2="1551"/><linearGradient id="q15o" href="#L5" x1="3819" y1="1920" x2="3715" y2="1528"/><linearGradient id="q15p" href="#L4" x1="3486" y1="1917" x2="3414" y2="1470"/><linearGradient id="q15q" href="#L0" x1="3360.5" y1="1864.8" x2="3393.9" y2="1697.1"/><linearGradient id="q15r" href="#L0" x1="3634.4" y1="1912" x2="3679.3" y2="1686.3"/><linearGradient id="q15s" href="#L0" x1="3622" y1="1834" x2="3348" y2="1698"/><linearGradient id="q15t" href="#L3" x1="3756" y1="1936" x2="3893" y2="1246"/><linearGradient id="q15u" href="#L5" x1="3530" y1="1916" x2="3428" y2="1477"/><linearGradient id="q15v" href="#L0" x1="3458" y1="1837" x2="3232.4" y2="1750.6"/><linearGradient id="q15w" href="#L0" x1="3560" y1="1907" x2="3641" y2="1502"/><linearGradient id="q15x" href="#L4" x1="3679" y1="1921" x2="3607" y2="1502"/><linearGradient id="q15y" href="#L4" x1="3737" y1="1924" x2="3654" y2="1611"/><linearGradient id="q15z" href="#L0" x1="3286.5" y1="1907.2" x2="3300.7" y2="1836.2"/><linearGradient id="q160" href="#L2" x1="3478" y1="1917" x2="3457" y2="1466"/><linearGradient id="q161" href="#L4" x1="3651" y1="1920" x2="3589" y2="1542"/><linearGradient id="q162" href="#L3" x1="3569" y1="1920" x2="3525" y2="1477"/><linearGradient id="q163" href="#L5" x1="3405" y1="1911" x2="3299" y2="1514"/><linearGradient id="q164" href="#L3" x1="3765" y1="1938" x2="3903" y2="1248"/><linearGradient id="q165" href="#L0" x1="3585.6" y1="1712.1" x2="3416.5" y2="1685.9"/><linearGradient id="q166" href="#L5" x1="3440" y1="1923" x2="3350" y2="1479"/><linearGradient id="q167" href="#L5" x1="3352" y1="1921" x2="3203" y2="1514"/><linearGradient id="q168" href="#L0" x1="3578" y1="1899" x2="3645" y2="1563"/><linearGradient id="q169" href="#L0" x1="3696" y1="1930" x2="3487" y2="1418"/><linearGradient id="q16a" href="#L5" x1="3235.1" y1="1933" x2="3132.7" y2="1681.5"/><linearGradient id="q16b" href="#L0" x1="3749" y1="1931" x2="3666" y2="1363"/><linearGradient id="q16c" href="#L0" x1="3307" y1="1937" x2="3098" y2="1424"/><linearGradient id="q16d" href="#L0" x1="3596" y1="1806" x2="3332" y2="1609"/><linearGradient id="q16e" href="#L5" x1="3416" y1="1921" x2="3329" y2="1482"/><linearGradient id="q16f" href="#L3" x1="3660" y1="1923" x2="3621" y2="1510"/><linearGradient id="q16g" href="#L3" x1="3582" y1="1919" x2="3540" y2="1475"/><linearGradient id="q16h" href="#L0" x1="3792" y1="1928" x2="3601" y2="1457"/><linearGradient id="q16i" href="#L4" x1="3537" y1="1916" x2="3484" y2="1477"/><linearGradient id="q16j" href="#L5" x1="3465" y1="1906" x2="3357" y2="1503"/><linearGradient id="q16k" href="#L0" x1="3353" y1="1937" x2="3269" y2="1456"/><linearGradient id="q16l" href="#L0" x1="3642" y1="1923" x2="3398" y2="1502"/><linearGradient id="q16m" href="#L0" x1="3670" y1="1910" x2="3817" y2="1565"/><linearGradient id="q16n" href="#L0" x1="3245" y1="1938" x2="3092" y2="1363"/><linearGradient id="q16o" href="#L3" x1="3752" y1="1935" x2="3889" y2="1245"/><linearGradient id="q16p" href="#L5" x1="3313" y1="1932" x2="3208" y2="1535"/><linearGradient id="q16q" href="#L5" x1="3539" y1="1911" x2="3444" y2="1476"/><linearGradient id="q16r" href="#L0" x1="3367" y1="1915" x2="3450" y2="1496"/><linearGradient id="q16s" href="#L0" x1="3686" y1="1930" x2="3497" y2="1465"/><linearGradient id="q16t" href="#L0" x1="3651" y1="1901" x2="3427" y2="1519"/><linearGradient id="q16u" href="#L6" x1="3514" y1="1879" x2="3335" y2="1530"/><linearGradient id="q16v" href="#L0" x1="3604.9" y1="1715.9" x2="3435.8" y2="1689.7"/><linearGradient id="q16w" href="#L5" x1="3797" y1="1926" x2="3671" y2="1559"/><linearGradient id="q16x" href="#L3" x1="3325" y1="1950" x2="3435" y2="1399"/><linearGradient id="q16y" href="#L0" x1="3597" y1="1919" x2="3677" y2="1516"/><linearGradient id="q16z" href="#L5" x1="3257" y1="1936" x2="3116" y2="1590"/><linearGradient id="q170" href="#L0" x1="3700.9" y1="1925.3" x2="3745.8" y2="1699.5"/><linearGradient id="q171" href="#L5" x1="3773" y1="1925" x2="3632" y2="1579"/><linearGradient id="q172" href="#L0" x1="3322" y1="1944" x2="3292" y2="1441"/><linearGradient id="q173" href="#L0" x1="3589.5" y1="1687.1" x2="3420.4" y2="1660.9"/><linearGradient id="q174" href="#L0" x1="3515" y1="1900" x2="3256" y2="1514"/><linearGradient id="q175" href="#L2" x1="3224" y1="1946" x2="3431" y2="908"/><linearGradient id="q176" href="#L5" x1="3695" y1="1926" x2="3585" y2="1490"/><linearGradient id="q177" href="#L0" x1="3644" y1="1921" x2="3401" y2="1501"/><linearGradient id="q178" href="#L4" x1="3564" y1="1916" x2="3488" y2="1490"/><linearGradient id="q179" href="#L6" x1="3361.2" y1="1855.1" x2="3315.2" y2="1838.7"/><linearGradient id="q17a" href="#L3" x1="3627" y1="1925" x2="3593" y2="1520"/><linearGradient id="q17b" href="#L4" x1="3714" y1="1930" x2="3661" y2="1565"/><linearGradient id="q17c" href="#L3" x1="3256" y1="1953" x2="3393" y2="1263"/><linearGradient id="q17d" href="#L0" x1="3785" y1="1934" x2="3517" y2="1455"/><linearGradient id="q17e" href="#L3" x1="3315" y1="1948" x2="3425" y2="1397"/><linearGradient id="q17f" href="#L4" x1="3536" y1="1916" x2="3484" y2="1477"/><linearGradient id="q17g" href="#L0" x1="3466" y1="1943" x2="3336" y2="1457"/><linearGradient id="q17h" href="#L0" x1="3716" y1="1924" x2="3530" y2="1514"/><linearGradient id="q17i" href="#L4" x1="3616" y1="1928" x2="3531" y2="1488"/><linearGradient id="q17j" href="#L5" x1="3608" y1="1885" x2="3462" y2="1527"/><linearGradient id="q17k" href="#L0" x1="3497" y1="1942" x2="3411" y2="1463"/><linearGradient id="q17l" href="#L6" x1="3421.1" y1="1868.3" x2="3211.5" y2="1654"/><linearGradient id="q17m" href="#L5" x1="3648" y1="1914" x2="3525" y2="1610"/><linearGradient id="q17n" href="#L0" x1="3726" y1="1938" x2="3496" y2="1373"/><linearGradient id="q17o" href="#L0" x1="3277" y1="1945" x2="3168" y2="1410"/><linearGradient id="q17p" href="#L0" x1="3640" y1="1878" x2="3400" y2="1521"/><linearGradient id="q17q" href="#L1" x1="3335" y1="1948" x2="3340" y2="1415"/><linearGradient id="q17r" href="#L0" x1="3692.3" y1="1923.6" x2="3737.2" y2="1697.8"/><linearGradient id="q17s" href="#L0" x1="3661" y1="1915" x2="3432" y2="1536"/><linearGradient id="q17t" href="#L4" x1="3382" y1="1960" x2="3485" y2="1440"/><linearGradient id="q17u" href="#L3" x1="3242" y1="1950" x2="3380" y2="1260"/><linearGradient id="q17v" href="#L0" x1="3589" y1="1939" x2="3484" y2="1467"/><linearGradient id="q17w" href="#L6" x1="3565" y1="1826" x2="3355" y2="1586"/><linearGradient id="q17x" href="#L4" x1="3335" y1="1952" x2="3434" y2="1452"/><linearGradient id="q17y" href="#L0" x1="3668" y1="1938" x2="3478" y2="1472"/><linearGradient id="q17z" href="#L0" x1="3729.9" y1="1931" x2="3774.8" y2="1705.3"/><linearGradient id="q180" href="#L5" x1="3290" y1="1937" x2="3133" y2="1612"/><linearGradient id="q181" href="#L4" x1="3334" y1="1949" x2="3437" y2="1433"/><linearGradient id="q182" href="#L0" x1="3609" y1="1934" x2="3423" y2="1475"/><linearGradient id="q183" href="#L0" x1="3714" y1="1941" x2="3506" y2="1428"/><linearGradient id="q184" href="#L4" x1="3390" y1="1956" x2="3490" y2="1452"/><linearGradient id="q185" href="#L3" x1="3252" y1="1952" x2="3389" y2="1262"/><linearGradient id="q186" href="#L0" x1="3644" y1="1937" x2="3459" y2="1484"/><linearGradient id="q187" href="#L0" x1="3616" y1="1939" x2="3427" y2="1474"/><linearGradient id="q188" href="#L0" x1="3473" y1="1953" x2="3470" y2="1458"/><linearGradient id="q189" href="#L0" x1="3387" y1="1952" x2="3369" y2="1454"/><linearGradient id="q18a" href="#L5" x1="3685" y1="1926" x2="3546" y2="1512"/><linearGradient id="q18b" href="#L5" x1="3744" y1="1936" x2="3604" y2="1591"/><linearGradient id="q18c" href="#L0" x1="3298" y1="1948" x2="3183" y2="1451"/><linearGradient id="q18d" href="#L5" x1="3297" y1="1904" x2="3588" y2="1641"/><linearGradient id="q18e" href="#L0" x1="3574" y1="1943" x2="3472" y2="1468"/><linearGradient id="q18f" href="#L4" x1="3717" y1="1937" x2="3640" y2="1558"/><linearGradient id="q18g" href="#L0" x1="3464" y1="1955" x2="3411" y2="1451"/><linearGradient id="q18h" href="#L5" x1="3643" y1="1916" x2="3519" y2="1612"/><linearGradient id="q18i" href="#L2" x1="3263" y1="1954" x2="3470" y2="916"/><linearGradient id="q18j" href="#L5" x1="3607" y1="1928" x2="3514" y2="1494"/><linearGradient id="q18k" href="#L0" x1="3405" y1="1954" x2="3355" y2="1454"/><linearGradient id="q18l" href="#L0" x1="3687" y1="1938" x2="3560" y2="1484"/><linearGradient id="q18m" href="#L2" x1="3297" y1="1961" x2="3504" y2="923"/><linearGradient id="q18n" href="#L0" x1="3754" y1="1944" x2="3645" y2="1409"/><linearGradient id="q18o" href="#L0" x1="3365" y1="1953" x2="3363" y2="1453"/><linearGradient id="q18p" href="#L5" x1="3586" y1="1909" x2="3443" y2="1558"/><linearGradient id="q18q" href="#L0" x1="3729" y1="1943" x2="3537" y2="1472"/><linearGradient id="q18r" href="#L0" x1="3466" y1="1952" x2="3433" y2="1461"/><linearGradient id="q18s" href="#L3" x1="3270" y1="1955" x2="3392" y2="1343"/><linearGradient id="q18t" href="#L4" x1="3644" y1="1934" x2="3581" y2="1521"/><linearGradient id="q18u" href="#L0" x1="3610" y1="1945" x2="3501" y2="1473"/><linearGradient id="q18v" href="#L0" x1="3526" y1="1951" x2="3454" y2="1469"/><linearGradient id="q18w" href="#L4" x1="3378" y1="1960" x2="3482" y2="1437"/><linearGradient id="q18x" href="#L0" x1="3313" y1="1952" x2="3160" y2="1376"/><linearGradient id="q18y" href="#L5" x1="3329.9" y1="1890.3" x2="3596.4" y2="1774.7"/><linearGradient id="q18z" href="#L5" x1="3588" y1="1932" x2="3492" y2="1498"/><linearGradient id="q190" href="#L6" x1="3536" y1="1880" x2="3324" y2="1607"/><linearGradient id="q191" href="#L3" x1="3730" y1="1950" x2="3867" y2="1260"/><linearGradient id="q192" href="#L0" x1="3661" y1="1951" x2="3594" y2="1455"/><linearGradient id="q193" href="#L2" x1="3282" y1="1958" x2="3489" y2="920"/><linearGradient id="q194" href="#L0" x1="3644" y1="1932" x2="3404" y2="1530"/><linearGradient id="q195" href="#L0" x1="3525" y1="1959" x2="3462" y2="1459"/><linearGradient id="q196" href="#L0" x1="3693" y1="1949" x2="3484" y2="1436"/><linearGradient id="q197" href="#L4" x1="3387" y1="1962" x2="3491" y2="1439"/><linearGradient id="q198" href="#L0" x1="3613" y1="1940" x2="3479" y2="1490"/><linearGradient id="q199" href="#L0" x1="3385" y1="1959" x2="3377" y2="1439"/><linearGradient id="q19a" href="#L0" x1="3479" y1="1961" x2="3466" y2="1461"/><linearGradient id="q19b" href="#L2" x1="3292" y1="1960" x2="3499" y2="922"/><linearGradient id="q19c" href="#L4" x1="3610" y1="1936" x2="3549" y2="1541"/><linearGradient id="q19d" href="#L0" x1="3558" y1="1945" x2="3411" y2="1490"/><linearGradient id="q19e" href="#L5" x1="3695" y1="1940" x2="3572" y2="1637"/><linearGradient id="q19f" href="#L0" x1="3434" y1="1959" x2="3367" y2="1455"/><linearGradient id="q19g" href="#L5" x1="3334" y1="1951" x2="3194" y2="1606"/><linearGradient id="q19h" href="#L4" x1="3380" y1="1960" x2="3484" y2="1438"/><linearGradient id="q19i" href="#L5" x1="3604" y1="1934" x2="3476" y2="1531"/><linearGradient id="q19j" href="#L4" x1="3449" y1="1968" x2="3553" y2="1446"/><linearGradient id="q19k" href="#L0" x1="3683" y1="1955" x2="3466" y2="1422"/><linearGradient id="q19l" href="#L5" x1="3636" y1="1916" x2="3481" y2="1649"/><linearGradient id="q19m" href="#L6" x1="3559.7" y1="1897.8" x2="3381" y2="1670.8"/><linearGradient id="q19n" href="#L0" x1="3709" y1="1950" x2="3518" y2="1479"/><linearGradient id="q19o" href="#L0" x1="3446" y1="1955" x2="3321" y2="1482"/><linearGradient id="q19p" href="#L0" x1="3344" y1="1957" x2="3211" y2="1460"/><linearGradient id="q19q" href="#L5" x1="3354" y1="1923" x2="3693" y2="1677"/><linearGradient id="q19r" href="#L0" x1="3646" y1="1927" x2="3362" y2="1567"/><linearGradient id="q19s" href="#L6" x1="3551" y1="1880" x2="3373" y2="1635"/><linearGradient id="q19t" href="#L0" x1="3683" y1="1954" x2="3474" y2="1441"/><linearGradient id="q19u" href="#L0" x1="3635" y1="1956" x2="3523" y2="1469"/><linearGradient id="q19v" href="#L6" x1="3593" y1="1894" x2="3386" y2="1619"/><linearGradient id="q19w" href="#L6" x1="3463" y1="1942" x2="3289" y2="1576"/><linearGradient id="q19x" href="#L0" x1="3709.1" y1="1946.2" x2="3684.7" y2="2068.7"/><linearGradient id="q19y" href="#L5" x1="3354" y1="1955" x2="3213" y2="1609"/><linearGradient id="q19z" href="#L3" x1="3398" y1="1972" x2="3513" y2="1392"/><linearGradient id="q1a0" href="#L0" x1="3620" y1="1954" x2="3462" y2="1485"/><linearGradient id="q1a1" href="#L0" x1="3535" y1="1952" x2="3390" y2="1497"/><linearGradient id="q1a2" href="#L3" x1="3319" y1="1965" x2="3457" y2="1275"/><linearGradient id="q1a3" href="#L5" x1="3690" y1="1943" x2="3566" y2="1639"/><linearGradient id="q1a4" href="#L0" x1="3619.6" y1="1927" x2="3677.7" y2="1635"/><linearGradient id="q1a5" href="#L0" x1="3567" y1="1954" x2="3456" y2="1492"/><linearGradient id="q1a6" href="#L0" x1="3463" y1="1965" x2="3396" y2="1461"/><linearGradient id="q1a7" href="#L0" x1="3364" y1="1963" x2="3255" y2="1428"/><linearGradient id="q1a8" href="#L0" x1="3430" y1="1961" x2="3297" y2="1464"/><linearGradient id="q1a9" href="#L0" x1="3608" y1="1966" x2="3564" y2="1426"/><linearGradient id="q1aa" href="#L0" x1="3514" y1="1968" x2="3505" y2="1440"/><linearGradient id="q1ab" href="#L0" x1="3702" y1="1956" x2="3434" y2="1477"/><linearGradient id="q1ac" href="#L0" x1="3662" y1="1964" x2="3444" y2="1430"/><linearGradient id="q1ad" href="#L5" x1="3583" y1="1935" x2="3415" y2="1580"/><linearGradient id="q1ae" href="#L3" x1="3441" y1="1973" x2="3550" y2="1422"/><linearGradient id="q1af" href="#L6" x1="3425.6" y1="1897.4" x2="3475.1" y2="1905.1"/><linearGradient id="q1ag" href="#L5" x1="3629" y1="1949" x2="3508" y2="1541"/><linearGradient id="q1ah" href="#L4" x1="3499" y1="1966" x2="3599" y2="1466"/><linearGradient id="q1ai" href="#L3" x1="3339" y1="1969" x2="3476" y2="1279"/><linearGradient id="q1aj" href="#L0" x1="3661" y1="1962" x2="3453" y2="1449"/><linearGradient id="q1ak" href="#L0" x1="3572" y1="1967" x2="3505" y2="1464"/><linearGradient id="q1al" href="#L6" x1="3490.6" y1="1882.6" x2="3377.4" y2="1817.9"/><linearGradient id="q1am" href="#L5" x1="3383.9" y1="1955.6" x2="3246" y2="1709.6"/><linearGradient id="q1an" href="#L0" x1="3446" y1="1970" x2="3410" y2="1442"/><linearGradient id="q1ao" href="#L0" x1="3650" y1="1957" x2="3466" y2="1504"/><linearGradient id="q1ap" href="#L5" x1="3546.1" y1="1923.3" x2="3427.8" y2="1766.2"/><linearGradient id="q1aq" href="#L5" x1="3354.3" y1="1960.5" x2="3251.9" y2="1709"/><linearGradient id="q1ar" href="#L5" x1="3664" y1="1954" x2="3569" y2="1597"/><linearGradient id="q1as" href="#L0" x1="3594" y1="1963" x2="3444" y2="1490"/><linearGradient id="q1at" href="#L0" x1="3495" y1="1964" x2="3389" y2="1491"/><linearGradient id="q1au" href="#L3" x1="3381" y1="1977" x2="3518" y2="1287"/><linearGradient id="q1av" href="#L3" x1="3441" y1="1973" x2="3550" y2="1422"/><linearGradient id="q1aw" href="#L0" x1="3651" y1="1968" x2="3434" y2="1435"/><linearGradient id="q1ax" href="#L0" x1="3543" y1="1973" x2="3534" y2="1446"/><linearGradient id="q1ay" href="#L0" x1="3365" y1="1969" x2="3212" y2="1394"/><linearGradient id="q1az" href="#L0" x1="3681" y1="1966" x2="3472" y2="1453"/><linearGradient id="q1b0" href="#L0" x1="3601" y1="1971" x2="3383" y2="1438"/><linearGradient id="q1b1" href="#L0" x1="3502" y1="1973" x2="3355" y2="1424"/><linearGradient id="q1b2" href="#L0" x1="3402" y1="1969" x2="3269" y2="1472"/><linearGradient id="q1b3" href="#L4" x1="3448" y1="1974" x2="3552" y2="1451"/><linearGradient id="q1b4" href="#L0" x1="3639.7" y1="1938.8" x2="3653.9" y2="1867.9"/><linearGradient id="q1b5" href="#L6" x1="3578" y1="1937" x2="3409" y2="1644"/><linearGradient id="q1b6" href="#L3" x1="3368" y1="1975" x2="3505" y2="1285"/><linearGradient id="q1b7" href="#L5" x1="3608" y1="1955" x2="3480" y2="1552"/><linearGradient id="q1b8" href="#L3" x1="3490" y1="1980" x2="3627" y2="1290"/><linearGradient id="q1b9" href="#L5" x1="3412" y1="1966" x2="3287" y2="1598"/><linearGradient id="q1ba" href="#L5" x1="3481.6" y1="1950.4" x2="3342.2" y2="1722.7"/><linearGradient id="q1bb" href="#L0" x1="3589" y1="1973" x2="3380" y2="1460"/><linearGradient id="q1bc" href="#L3" x1="3377" y1="1977" x2="3515" y2="1287"/><linearGradient id="q1bd" href="#L0" x1="3623" y1="1968" x2="3473" y2="1496"/><linearGradient id="q1be" href="#L5" x1="3518" y1="1952" x2="3403" y2="1670"/><linearGradient id="q1bf" href="#L0" x1="3424" y1="1975" x2="3283" y2="1443"/><linearGradient id="q1bg" href="#L0" x1="3488" y1="1973" x2="3355" y2="1476"/><linearGradient id="q1bh" href="#L4" x1="3579" y1="1959" x2="3506" y2="1575"/><linearGradient id="q1bi" href="#L4" x1="3392" y1="1971" x2="3308" y2="1658"/><linearGradient id="q1bj" href="#L0" x1="3611" y1="1975" x2="3546" y2="1431"/><linearGradient id="q1bk" href="#L0" x1="3524" y1="1978" x2="3433" y2="1429"/><linearGradient id="q1bl" href="#L2" x1="3423" y1="1986" x2="3629" y2="948"/><linearGradient id="q1bm" href="#L5" x1="3498" y1="1966" x2="3357" y2="1621"/><linearGradient id="q1bn" href="#L3" x1="3552" y1="2023" x2="3701" y2="1275"/><linearGradient id="q1bo" href="#L2" x1="3392" y1="1993" x2="3560" y2="1148"/><linearGradient id="q1bp" href="#L6" x1="3541" y1="1957" x2="3367" y2="1684"/><linearGradient id="q1bq" href="#L2" x1="3432" y1="1988" x2="3639" y2="949"/><linearGradient id="q1br" href="#L0" x1="3508" y1="1980" x2="3406" y2="1445"/><linearGradient id="q1bs" href="#L0" x1="3603" y1="1973" x2="3464" y2="1510"/><linearGradient id="q1bt" href="#L0" x1="3413" y1="1979" x2="3260" y2="1403"/><linearGradient id="q1bu" href="#L3" x1="3619" y1="1986" x2="3756" y2="1296"/><linearGradient id="q1bv" href="#L0" x1="3541" y1="1981" x2="3490" y2="1451"/><linearGradient id="q1bw" href="#L5" x1="3451.5" y1="1969" x2="3313.6" y2="1723"/><linearGradient id="q1bx" href="#L0" x1="3512" y1="1981" x2="3430" y2="1413"/><linearGradient id="q1by" href="#L5" x1="3607" y1="1969" x2="3466" y2="1623"/><linearGradient id="q1bz" href="#L2" x1="3417" y1="1985" x2="3624" y2="946"/><linearGradient id="q1c0" href="#L5" x1="3556.4" y1="1936.4" x2="3456.6" y2="1850.8"/><linearGradient id="q1c1" href="#L0" x1="3460" y1="1980" x2="3327" y2="1483"/><linearGradient id="q1c2" href="#L3" x1="3513" y1="1984" x2="3626" y2="1416"/><linearGradient id="q1c3" href="#L0" x1="3616" y1="1979" x2="3484" y2="1482"/><linearGradient id="q1c4" href="#L2" x1="3427" y1="1987" x2="3634" y2="948"/><linearGradient id="q1c5" href="#L3" x1="3543" y1="1990" x2="3656" y2="1422"/><linearGradient id="q1c6" href="#L5" x1="3469" y1="1978" x2="3329" y2="1632"/><linearGradient id="q1c7" href="#L5" x1="3520.3" y1="1954.5" x2="3686.6" y2="2003"/><linearGradient id="q1c8" href="#L3" x1="3435" y1="1988" x2="3573" y2="1298"/><linearGradient id="q1c9" href="#L0" x1="3572" y1="1982" x2="3447" y2="1512"/><linearGradient id="q1ca" href="#L0" x1="3479" y1="1986" x2="3370" y2="1451"/><linearGradient id="q1cb" href="#L0" x1="3540" y1="1988" x2="3521" y2="1442"/><linearGradient id="q1cc" href="#L5" x1="3578" y1="1980" x2="3438" y2="1635"/><linearGradient id="q1cd" href="#L0" x1="3487" y1="1986" x2="3333" y2="1411"/><linearGradient id="q1ce" href="#L3" x1="3542" y1="1990" x2="3655" y2="1422"/><linearGradient id="q1cf" href="#L3" x1="3455" y1="1992" x2="3592" y2="1302"/><linearGradient id="q1cg" href="#L0" x1="3595" y1="1985" x2="3403" y2="1514"/><linearGradient id="q1ch" href="#L2" x1="3466" y1="1994" x2="3672" y2="956"/><linearGradient id="q1ci" href="#L5" x1="3505.3" y1="1986.7" x2="3402.9" y2="1735.2"/><linearGradient id="q1cj" href="#L5" x1="3575" y1="1982" x2="3434" y2="1636"/><linearGradient id="q1ck" href="#L0" x1="3516" y1="1992" x2="3362" y2="1417"/><linearGradient id="q1cl" href="#L2" x1="3495" y1="2000" x2="3701" y2="962"/><linearGradient id="q1cm" href="#L0" x1="3533.5" y1="1988.5" x2="3509.1" y2="2111"/><linearGradient id="q1cn" href="#L5" x1="3548" y1="1993" x2="3422" y2="1625"/><linearGradient id="q1co" href="#L4" x1="3517" y1="1996" x2="3434" y2="1683"/><linearGradient id="q1cp" href="#L0" x1="3526.3" y1="1987.1" x2="3501.9" y2="2109.6"/></defs>
<text x="273.6" y="34" font-size="44" text-anchor="middle" textLength="252" lengthAdjust="spacingAndGlyphs">RT/ 7.7 GPa</text>
<text x="2.8" y="79.8" font-size="45.5" font-weight="bold">A</text>
<g fill="none" stroke-width="6.35"><path stroke="#5000ff" d="M94.1 429.9h12.1M118 423.9h6.1M124 411.8h6.1M147.9 405.8h6.1M130 393.8h6.1M153.9 393.8h6.1M112.1 387.8h6.1M153.9 387.8h6.1M165.8 387.8h6.1M159.9 381.7h6.1M183.8 381.7h6.1M106.1 375.7h6.1M165.8 375.7h6.1M106.1 369.7h6.1M118 363.7h6.1M130 363.7h12.1M177.8 363.7h12.1M177.8 357.7h6.1M106.1 351.7h6.1M165.8 351.7h6.1M195.7 351.7h6.1M183.8 345.6h6.1M195.7 345.6h12.1M136 339.6h6.1M159.9 339.6h6.1M177.8 339.6h6.1M207.7 339.6h6.1M136 333.6h6.1M189.7 333.6h6.1M201.7 333.6h12.1M219.6 333.6h6.1M136 327.6h6.1M183.8 327.6h6.1M171.8 321.6h6.1M195.7 321.6h6.1M213.7 321.6h6.1M231.6 321.6h6.1M112.1 315.6h6.1M189.7 315.6h6.1M231.6 315.6h12.1M130 309.5h6.1M141.9 309.5h6.1M177.8 309.5h12.1M195.7 309.5h6.1M237.5 309.5h12.1M183.8 297.5h6.1M225.6 297.5h6.1M237.5 297.5h6.1M112.1 291.5h6.1M136 291.5h6.1M153.9 291.5h6.1M195.7 291.5h6.1M207.7 291.5h6.1M219.6 291.5h12.1M249.5 291.5h6.1M112.1 285.5h6.1M130 285.5h6.1M141.9 285.5h6.1M219.6 285.5h6.1M231.6 285.5h6.1M267.4 285.5h12.1M112.1 279.5h6.1M136 279.5h12.1M153.9 279.5h12.1M195.7 279.5h12.1M213.7 279.5h6.1M231.6 279.5h18M112.1 273.4h6.1M147.9 273.4h12.1M225.6 273.4h6.1M112.1 267.4h6.1M207.7 267.4h6.1M237.5 267.4h12.1M273.4 267.4h6.1M219.6 261.4h6.1M231.6 261.4h6.1M255.5 261.4h12.1M273.4 261.4h6.1M112.1 255.4h6.1M141.9 255.4h6.1M165.8 255.4h6.1M267.4 255.4h6.1M136 249.4h6.1M219.6 249.4h6.1M243.5 249.4h6.1M291.3 249.4h6.1M201.7 243.4h6.1M249.5 243.4h6.1M285.4 243.4h6.1M112.1 237.3h6.1M130 237.3h6.1M267.4 237.3h12.1M291.3 237.3h6.1M141.9 231.3h6.1M153.9 231.3h6.1M249.5 231.3h6.1M267.4 231.3h30M141.9 225.3h6.1M267.4 225.3h6.1M279.4 225.3h6.1M291.3 225.3h6.1M153.9 219.3h6.1M285.4 219.3h18M309.2 219.3h6.1M339.1 219.3h6.1M147.9 213.3h6.1M261.4 213.3h12.1M279.4 213.3h6.1M297.3 213.3h12.1M321.2 213.3h12.1M285.4 207.3h6.1M297.3 207.3h6.1M321.2 207.3h6.1M141.9 201.2h6.1M321.2 201.2h6.1M141.9 195.2h6.1M303.3 195.2h6.1M136 189.2h6.1M339.1 189.2h6.1M291.3 183.2h6.1M339.1 183.2h6.1M112.1 177.2h6.1M207.7 177.2h6.1M267.4 177.2h6.1M327.2 177.2h6.1M345.1 177.2h12.1M112.1 171.1h12.1M136 171.1h6.1M351.1 171.1h6.1M363 171.1h6.1M267.4 165.1h6.1M351.1 165.1h12.1M369 165.1h12.1M118 159.1h6.1M141.9 159.1h6.1M315.2 159.1h6.1M380.9 159.1h6.1M136 153.1h12.1M327.2 153.1h6.1M386.9 153.1h6.1M398.9 153.1h6.1M112.1 147.1h6.1M351.1 147.1h6.1M375 147.1h12.1M398.9 147.1h6.1M130 141.1h6.1M279.4 141.1h6.1M357.1 141.1h6.1M398.9 141.1h6.1M124 135h12.1M153.9 135h6.1M357.1 135h6.1M404.9 135h6.1M130 129h6.1M321.2 129h6.1M392.9 129h6.1M404.9 129h6.1M118 123h6.1M130 123h12.1M291.3 123h6.1M345.1 123h6.1M386.9 123h6.1M404.9 123h6.1M422.8 123h12.1M118 117h6.1M279.4 117h6.1M410.8 117h6.1M422.8 117h6.1M118 111h6.1M141.9 111h6.1M434.7 111h6.1"/><path stroke="#0010ff" d="M100.1 423.9h6.1M112.1 423.9h6.1M147.9 399.8h6.1M141.9 393.8h6.1M159.9 387.8h6.1M112.1 381.7h6.1M165.8 381.7h6.1M177.8 381.7h6.1M124 375.7h6.1M183.8 375.7h6.1M177.8 369.7h12.1M124 363.7h6.1M112.1 357.7h24M207.7 357.7h6.1M118 351.7h18M130 345.6h6.1M112.1 339.6h12.1M213.7 339.6h6.1M118 333.6h18M118 327.6h12.1M213.7 327.6h18M118 321.6h6.1M130 321.6h6.1M201.7 321.6h6.1M118 315.6h12.1M147.9 315.6h6.1M201.7 315.6h6.1M213.7 315.6h12.1M118 309.5h6.1M213.7 309.5h6.1M225.6 309.5h12.1M118 303.5h6.1M136 303.5h6.1M195.7 303.5h6.1M213.7 303.5h6.1M225.6 303.5h6.1M237.5 303.5h6.1M249.5 303.5h6.1M118 297.5h6.1M136 297.5h6.1M219.6 297.5h6.1M118 291.5h6.1M237.5 291.5h6.1M261.4 291.5h12.1M118 285.5h12.1M136 285.5h6.1M153.9 285.5h6.1M225.6 285.5h6.1M249.5 285.5h6.1M261.4 285.5h6.1M118 279.5h6.1M130 279.5h6.1M249.5 279.5h12.1M267.4 279.5h6.1M136 273.4h6.1M249.5 273.4h24M291.3 273.4h6.1M136 267.4h12.1M225.6 267.4h6.1M249.5 267.4h6.1M267.4 267.4h6.1M285.4 267.4h6.1M297.3 267.4h6.1M130 261.4h6.1M141.9 261.4h6.1M136 255.4h6.1M261.4 255.4h6.1M112.1 249.4h6.1M141.9 249.4h12.1M261.4 249.4h6.1M273.4 249.4h18M297.3 249.4h6.1M315.2 249.4h6.1M136 243.4h6.1M279.4 243.4h6.1M291.3 243.4h6.1M118 237.3h6.1M255.5 237.3h6.1M285.4 237.3h6.1M112.1 231.3h6.1M136 231.3h6.1M297.3 231.3h6.1M136 225.3h6.1M285.4 225.3h6.1M297.3 225.3h6.1M339.1 225.3h6.1M136 219.3h12.1M315.2 219.3h12.1M333.2 219.3h6.1M141.9 213.3h6.1M315.2 213.3h6.1M118 207.3h6.1M141.9 207.3h6.1M136 201.2h6.1M327.2 201.2h12.1M130 195.2h12.1M327.2 195.2h24M118 189.2h6.1M153.9 189.2h6.1M333.2 189.2h6.1M345.1 189.2h12.1M118 183.2h6.1M136 183.2h6.1M351.1 183.2h12.1M118 177.2h6.1M357.1 177.2h12.1M118 165.1h6.1M130 165.1h6.1M380.9 165.1h6.1M124 159.1h12.1M351.1 159.1h6.1M375 159.1h6.1M130 153.1h6.1M380.9 153.1h6.1M392.9 153.1h6.1M124 147.1h6.1M404.9 147.1h6.1M410.8 141.1h6.1M118 135h6.1M398.9 135h6.1M410.8 135h12.1M410.8 129h12.1M416.8 123h6.1M130 117h6.1M428.8 117h12.1M124 111h12.1M440.7 111h6.1"/><path stroke="#00a0ff" d="M106.1 423.9h6.1M171.8 381.7h6.1M171.8 375.7h6.1M189.7 369.7h6.1M201.7 351.7h6.1M207.7 345.6h6.1M225.6 315.6h6.1M130 303.5h6.1M124 297.5h12.1M255.5 297.5h6.1M243.5 285.5h6.1M255.5 285.5h6.1M124 279.5h6.1M273.4 279.5h6.1M285.4 279.5h6.1M285.4 273.4h6.1M118 267.4h6.1M130 267.4h6.1M279.4 267.4h6.1M136 261.4h6.1M303.3 261.4h6.1M124 255.4h12.1M118 249.4h6.1M130 249.4h6.1M297.3 243.4h6.1M309.2 243.4h6.1M297.3 237.3h6.1M315.2 225.3h6.1M327.2 225.3h6.1M303.3 219.3h6.1M327.2 219.3h6.1M136 213.3h6.1M130 207.3h12.1M345.1 207.3h6.1M130 201.2h6.1M124 189.2h6.1M363 183.2h6.1M369 177.2h6.1M386.9 165.1h6.1M118 147.1h6.1M124 141.1h6.1"/><path stroke="#0060ff" d="M106.1 417.8h6.1M118 375.7h6.1M201.7 363.7h6.1M136 315.6h6.1M231.6 303.5h6.1M243.5 303.5h6.1M261.4 297.5h6.1M243.5 291.5h6.1M279.4 279.5h6.1M118 273.4h6.1M243.5 273.4h6.1M255.5 267.4h6.1M291.3 267.4h6.1M267.4 261.4h6.1M118 255.4h6.1M273.4 255.4h24M303.3 243.4h6.1M136 237.3h6.1M303.3 231.3h18M309.2 225.3h6.1M118 219.3h6.1M333.2 213.3h6.1M327.2 207.3h12.1M118 201.2h6.1M130 189.2h6.1M124 177.2h6.1M130 171.1h6.1M375 171.1h6.1M386.9 159.1h6.1M130 147.1h6.1M118 141.1h6.1M404.9 141.1h6.1M422.8 129h6.1M124 117h6.1"/><path stroke="#00ffa0" d="M177.8 375.7h6.1M118 345.6h6.1M249.5 309.5h6.1M255.5 303.5h6.1M124 291.5h6.1M279.4 285.5h6.1M124 273.4h6.1M118 261.4h6.1M291.3 261.4h6.1M297.3 255.4h6.1M303.3 249.4h6.1M124 237.3h6.1M315.2 237.3h6.1M124 231.3h6.1M321.2 231.3h6.1M321.2 225.3h6.1M333.2 225.3h6.1M130 213.3h6.1M345.1 213.3h12.1M124 207.3h6.1M339.1 207.3h6.1M357.1 207.3h6.1M351.1 195.2h6.1M130 177.2h6.1M386.9 177.2h6.1M124 171.1h6.1M380.9 171.1h6.1M392.9 165.1h6.1M422.8 135h6.1M428.8 129h6.1M434.7 123h6.1M440.7 117h6.1M446.7 111h6.1"/><path stroke="#20ff00" d="M189.7 363.7h6.1M195.7 357.7h6.1M124 309.5h6.1M273.4 291.5h6.1M124 267.4h6.1M297.3 261.4h6.1M124 249.4h6.1M118 243.4h6.1M130 243.4h6.1M327.2 237.3h6.1M130 231.3h6.1M333.2 231.3h6.1M124 225.3h6.1M130 219.3h6.1M339.1 213.3h6.1M357.1 201.2h6.1M124 195.2h6.1M369 195.2h6.1M363 189.2h6.1M375 189.2h6.1M124 183.2h6.1M375 183.2h12.1M392.9 171.1h6.1M398.9 159.1h6.1M410.8 153.1h6.1M410.8 147.1h12.1M416.8 141.1h12.1"/><path stroke="#00e6ff" d="M195.7 363.7h6.1M124 345.6h6.1M124 339.6h6.1M130 327.6h6.1M124 321.6h6.1M243.5 315.6h6.1M124 303.5h6.1M130 291.5h6.1M130 273.4h6.1M273.4 273.4h6.1M261.4 267.4h6.1M124 261.4h6.1M279.4 261.4h6.1M303.3 255.4h12.1M309.2 249.4h6.1M124 243.4h6.1M315.2 243.4h12.1M303.3 237.3h12.1M321.2 237.3h6.1M118 231.3h6.1M118 225.3h6.1M130 225.3h6.1M345.1 219.3h6.1M124 213.3h6.1M345.1 201.2h12.1M363 201.2h6.1M118 195.2h6.1M357.1 195.2h12.1M357.1 189.2h6.1M130 183.2h6.1M369 183.2h6.1M375 177.2h12.1M124 165.1h6.1M392.9 159.1h6.1M118 153.1h12.1M404.9 153.1h6.1M124 123h6.1"/><path stroke="#96ff00" d="M201.7 357.7h6.1M207.7 351.7h6.1M327.2 231.3h6.1M351.1 207.3h6.1M124 201.2h6.1M386.9 171.1h6.1M428.8 135h6.1M434.7 129h6.1M446.7 117h6.1M452.7 111h6.1"/><path stroke="#f0ff00" d="M213.7 351.7h6.1M231.6 327.6h6.1M124 219.3h6.1"/><path stroke="#ff1000" d="M213.7 345.6h6.1M219.6 339.6h12.1M231.6 333.6h6.1M237.5 327.6h6.1M243.5 321.6h6.1M249.5 315.6h6.1M255.5 309.5h6.1M261.4 303.5h6.1M267.4 297.5h6.1"/><path stroke="#ffa000" d="M219.6 345.6h6.1M225.6 333.6h6.1M237.5 321.6h6.1M369 189.2h6.1M398.9 165.1h6.1M404.9 159.1h6.1M440.7 123h6.1"/></g>
<line x1="95.8" y1="472.0" x2="455.32" y2="110.92000000000002" stroke="#000" stroke-width="2.2"/>
<rect x="95.8" y="110.9" width="359.5" height="361.1" fill="none" stroke="#000" stroke-width="2.2"/>
<line x1="215.64" y1="472" x2="215.64" y2="454" stroke="#000" stroke-width="2.3"/>
<line x1="95.8" y1="351.64" x2="113.8" y2="351.6" stroke="#000" stroke-width="2.3"/>
<line x1="335.48" y1="472" x2="335.48" y2="454" stroke="#000" stroke-width="2.3"/>
<line x1="95.8" y1="231.28" x2="113.8" y2="231.3" stroke="#000" stroke-width="2.3"/>
<text x="96.8" y="511.5" font-size="36" text-anchor="middle">2</text>
<text x="216.6" y="511.5" font-size="36" text-anchor="middle">4</text>
<text x="336.5" y="511.5" font-size="36" text-anchor="middle">6</text>
<text x="456.3" y="511.5" font-size="36" text-anchor="middle">8</text>
<text x="88.5" y="484.0" font-size="36" text-anchor="end">2</text>
<text x="88.5" y="363.6" font-size="36" text-anchor="end">4</text>
<text x="88.5" y="243.3" font-size="36" text-anchor="end">6</text>
<text x="88.5" y="122.9" font-size="36" text-anchor="end">8</text>
<path d="M97.5,113.4L97.5,472L150.9,416.6L150.9,113.4Z" fill="none" stroke="#ff40ff" stroke-width="4.8" stroke-dasharray="15.8,4.9"/>
<text x="186.6" y="564.3" font-size="35.4">Birth <tspan font-style="italic">b</tspan><tspan font-style="italic" font-size="24" dy="8">i</tspan><tspan dy="-8"> (Å</tspan><tspan font-size="24" dy="-13">2</tspan><tspan dy="13">)</tspan></text>
<text transform="translate(36.8,392.5) rotate(-90)" font-size="35">Death <tspan font-style="italic">d</tspan><tspan font-style="italic" font-size="24" dy="8">j</tspan><tspan dy="-8"> (Å</tspan><tspan font-size="24" dy="-13">2</tspan><tspan dy="13">)</tspan></text>
<text x="757.6" y="34" font-size="44" text-anchor="middle" textLength="333" lengthAdjust="spacingAndGlyphs">400 °C/ 7.7 GPa</text>
<text x="491.8" y="79.8" font-size="45.5" font-weight="bold">B</text>
<g fill="none" stroke-width="6.35"><path stroke="#0010ff" d="M588.1 435.9h6.1M588.1 423.9h12.1M606 423.9h6.1M612 417.8h6.1M641.9 399.8h6.1M641.9 393.8h12.1M606 387.8h12.1M635.9 387.8h12.1M600.1 381.7h12.1M647.9 381.7h12.1M600.1 375.7h6.1M612 375.7h6.1M653.9 375.7h12.1M677.8 375.7h6.1M606 369.7h12.1M683.7 369.7h6.1M606 363.7h6.1M600.1 357.7h12.1M647.9 357.7h6.1M671.8 357.7h6.1M612 351.7h6.1M653.9 351.7h6.1M683.7 351.7h6.1M600.1 345.6h6.1M612 345.6h6.1M659.8 345.6h6.1M683.7 345.6h6.1M695.7 345.6h6.1M600.1 339.6h24M677.8 339.6h12.1M606 333.6h6.1M665.8 333.6h12.1M683.7 333.6h12.1M624 327.6h6.1M659.8 327.6h6.1M671.8 327.6h6.1M695.7 327.6h6.1M606 321.6h6.1M677.8 321.6h6.1M713.6 315.6h6.1M725.5 315.6h6.1M618 309.5h12.1M677.8 309.5h6.1M701.6 309.5h12.1M600.1 303.5h6.1M689.7 303.5h6.1M707.6 303.5h12.1M600.1 297.5h6.1M707.6 297.5h12.1M600.1 291.5h6.1M629.9 291.5h6.1M713.6 291.5h6.1M618 285.5h12.1M719.6 285.5h18M761.4 285.5h6.1M624 279.5h6.1M725.5 279.5h12.1M600.1 273.4h6.1M725.5 273.4h6.1M743.5 273.4h6.1M779.3 273.4h6.1M743.5 267.4h6.1M761.4 267.4h6.1M749.4 261.4h6.1M767.4 261.4h6.1M779.3 261.4h6.1M624 255.4h6.1M761.4 255.4h6.1M779.3 255.4h6.1M624 249.4h6.1M755.4 249.4h12.1M779.3 249.4h6.1M594.1 243.4h6.1M618 243.4h6.1M773.4 243.4h18M779.3 237.3h6.1M618 231.3h6.1M785.3 231.3h6.1M809.2 231.3h6.1M618 225.3h6.1M785.3 225.3h6.1M821.1 219.3h6.1M612 213.3h6.1M785.3 213.3h6.1M809.2 213.3h12.1M827.1 213.3h6.1M791.3 207.3h6.1M815.2 207.3h6.1M612 201.2h12.1M809.2 201.2h6.1M827.1 201.2h6.1M612 195.2h6.1M833.1 195.2h12.1M809.2 189.2h6.1M845 189.2h6.1M600.1 183.2h6.1M851 183.2h12.1M857 177.2h6.1M612 165.1h6.1M868.9 165.1h12.1M845 159.1h6.1M863 159.1h6.1M892.9 153.1h6.1M886.9 147.1h12.1M904.8 141.1h6.1M910.8 135h6.1M910.8 129h12.1M898.8 123h6.1"/><path stroke="#00a0ff" d="M588.1 429.9h6.1M653.9 387.8h12.1M671.8 363.7h6.1M606 351.7h6.1M618 327.6h6.1M695.7 321.6h6.1M731.5 303.5h6.1M618 297.5h6.1M731.5 291.5h6.1M749.4 291.5h6.1M737.5 285.5h6.1M600.1 279.5h6.1M761.4 279.5h6.1M773.4 279.5h6.1M618 273.4h6.1M767.4 267.4h6.1M773.4 261.4h6.1M600.1 249.4h12.1M785.3 249.4h6.1M600.1 243.4h6.1M612 231.3h6.1M809.2 225.3h6.1M600.1 213.3h12.1M851 189.2h6.1M880.9 159.1h6.1"/><path stroke="#5000ff" d="M606 417.8h6.1M618 417.8h6.1M594.1 411.8h12.1M618 411.8h6.1M629.9 411.8h6.1M582.1 405.8h6.1M612 405.8h6.1M635.9 405.8h6.1M606 399.8h6.1M624 399.8h6.1M635.9 399.8h6.1M612 393.8h12.1M629.9 393.8h6.1M653.9 393.8h6.1M665.8 387.8h6.1M594.1 381.7h6.1M612 381.7h6.1M635.9 381.7h6.1M671.8 381.7h6.1M606 375.7h6.1M624 375.7h12.1M647.9 375.7h6.1M600.1 369.7h6.1M618 369.7h12.1M653.9 369.7h6.1M618 363.7h12.1M647.9 363.7h12.1M665.8 363.7h6.1M618 357.7h6.1M677.8 357.7h6.1M594.1 351.7h12.1M618 351.7h6.1M635.9 351.7h6.1M665.8 351.7h12.1M624 345.6h6.1M635.9 345.6h6.1M653.9 345.6h6.1M665.8 345.6h12.1M689.7 345.6h6.1M689.7 339.6h6.1M594.1 333.6h6.1M618 333.6h6.1M629.9 333.6h6.1M659.8 333.6h6.1M677.8 333.6h6.1M701.6 333.6h6.1M600.1 327.6h6.1M665.8 327.6h6.1M683.7 327.6h6.1M713.6 327.6h6.1M600.1 321.6h6.1M665.8 321.6h6.1M594.1 315.6h12.1M624 315.6h6.1M671.8 315.6h6.1M689.7 315.6h12.1M594.1 309.5h12.1M647.9 309.5h6.1M683.7 309.5h12.1M665.8 303.5h12.1M683.7 303.5h6.1M635.9 297.5h6.1M653.9 297.5h12.1M677.8 297.5h6.1M689.7 297.5h6.1M701.6 297.5h6.1M624 291.5h6.1M689.7 291.5h18M695.7 285.5h12.1M618 279.5h6.1M677.8 279.5h6.1M737.5 279.5h6.1M594.1 273.4h6.1M624 273.4h6.1M635.9 273.4h6.1M695.7 273.4h12.1M749.4 273.4h6.1M707.6 267.4h12.1M749.4 267.4h6.1M594.1 261.4h6.1M624 261.4h6.1M659.8 261.4h6.1M725.5 261.4h6.1M743.5 261.4h6.1M635.9 255.4h6.1M665.8 255.4h6.1M719.6 255.4h12.1M749.4 255.4h6.1M737.5 249.4h12.1M773.4 249.4h6.1M719.6 243.4h6.1M731.5 243.4h6.1M743.5 243.4h12.1M641.9 237.3h6.1M749.4 237.3h30M594.1 231.3h6.1M767.4 231.3h6.1M791.3 231.3h6.1M624 225.3h6.1M743.5 225.3h6.1M791.3 225.3h12.1M725.5 219.3h6.1M791.3 219.3h12.1M809.2 219.3h6.1M624 213.3h6.1M803.2 213.3h6.1M612 207.3h12.1M821.1 207.3h6.1M594.1 201.2h6.1M635.9 201.2h6.1M731.5 201.2h6.1M785.3 201.2h6.1M803.2 201.2h6.1M821.1 201.2h6.1M833.1 201.2h6.1M618 195.2h6.1M731.5 195.2h6.1M791.3 195.2h6.1M815.2 195.2h6.1M827.1 195.2h6.1M612 189.2h12.1M707.6 189.2h6.1M773.4 189.2h6.1M833.1 189.2h12.1M725.5 183.2h6.1M761.4 183.2h6.1M821.1 183.2h6.1M839.1 183.2h12.1M600.1 177.2h12.1M767.4 177.2h6.1M827.1 177.2h6.1M851 177.2h6.1M863 177.2h6.1M600.1 171.1h12.1M618 171.1h6.1M671.8 171.1h6.1M809.2 171.1h6.1M833.1 171.1h6.1M857 171.1h18M845 165.1h6.1M606 159.1h6.1M833.1 159.1h6.1M874.9 159.1h6.1M606 153.1h6.1M874.9 153.1h12.1M880.9 147.1h6.1M600.1 141.1h12.1M845 141.1h12.1M880.9 141.1h12.1M898.8 141.1h6.1M904.8 135h6.1M606 129h6.1M898.8 129h6.1M606 123h6.1M874.9 123h6.1M916.7 123h6.1M606 117h6.1M886.9 117h6.1M922.7 117h6.1M910.8 111h6.1M922.7 111h6.1"/><path stroke="#0060ff" d="M635.9 393.8h6.1M624 351.7h6.1M618 345.6h6.1M671.8 339.6h6.1M695.7 339.6h12.1M600.1 333.6h6.1M707.6 333.6h6.1M689.7 327.6h6.1M707.6 327.6h6.1M618 321.6h6.1M683.7 321.6h12.1M683.7 315.6h6.1M695.7 303.5h6.1M737.5 303.5h6.1M624 297.5h6.1M719.6 297.5h6.1M707.6 291.5h6.1M600.1 285.5h6.1M743.5 285.5h6.1M767.4 285.5h6.1M743.5 279.5h12.1M737.5 273.4h6.1M600.1 267.4h6.1M612 267.4h6.1M725.5 267.4h6.1M755.4 267.4h6.1M618 261.4h6.1M755.4 261.4h6.1M618 255.4h6.1M767.4 255.4h12.1M618 249.4h6.1M600.1 237.3h6.1M803.2 225.3h6.1M600.1 219.3h6.1M815.2 219.3h6.1M833.1 207.3h6.1M600.1 195.2h12.1M600.1 189.2h12.1M922.7 129h6.1M922.7 123h6.1M928.7 117h6.1M934.7 111h6.1"/><path stroke="#00e6ff" d="M647.9 387.8h6.1M665.8 381.7h6.1M665.8 375.7h6.1M665.8 369.7h12.1M689.7 351.7h6.1M606 345.6h6.1M606 327.6h6.1M713.6 321.6h12.1M606 315.6h6.1M618 315.6h6.1M701.6 315.6h12.1M606 309.5h12.1M713.6 309.5h30M719.6 303.5h12.1M737.5 297.5h6.1M618 291.5h6.1M725.5 291.5h6.1M737.5 291.5h12.1M755.4 291.5h6.1M749.4 285.5h6.1M767.4 279.5h6.1M755.4 273.4h6.1M785.3 267.4h6.1M600.1 261.4h6.1M600.1 255.4h6.1M767.4 249.4h6.1M791.3 249.4h6.1M791.3 243.4h6.1M785.3 237.3h6.1M797.2 237.3h6.1M600.1 231.3h6.1M797.2 231.3h6.1M600.1 225.3h6.1M606 219.3h12.1M827.1 219.3h6.1M821.1 213.3h6.1M600.1 207.3h6.1M600.1 201.2h6.1M606 183.2h6.1M863 183.2h6.1M868.9 177.2h6.1M898.8 147.1h12.1M940.6 111h6.1"/><path stroke="#20ff00" d="M659.8 381.7h6.1M689.7 363.7h6.1M719.6 327.6h6.1M612 315.6h6.1M731.5 315.6h6.1M606 303.5h6.1M618 303.5h6.1M606 297.5h12.1M725.5 297.5h6.1M749.4 297.5h6.1M761.4 291.5h6.1M606 285.5h6.1M755.4 285.5h6.1M606 279.5h12.1M606 273.4h12.1M773.4 273.4h6.1M773.4 267.4h6.1M606 261.4h6.1M791.3 261.4h6.1M612 255.4h6.1M797.2 255.4h6.1M612 249.4h6.1M612 243.4h6.1M797.2 243.4h6.1M612 237.3h6.1M606 231.3h6.1M606 225.3h6.1M827.1 225.3h6.1M839.1 207.3h6.1M839.1 201.2h6.1M845 195.2h6.1M857 189.2h6.1M874.9 177.2h6.1M892.9 159.1h6.1M898.8 153.1h6.1M928.7 123h6.1"/><path stroke="#f0ff00" d="M671.8 375.7h6.1M683.7 363.7h6.1M606 291.5h6.1M761.4 273.4h12.1M803.2 243.4h12.1M845 201.2h6.1M851 195.2h12.1M880.9 171.1h6.1"/><path stroke="#ffa000" d="M677.8 369.7h6.1M606 267.4h6.1M791.3 255.4h6.1M606 237.3h6.1M821.1 231.3h6.1M821.1 225.3h6.1M845 207.3h6.1"/><path stroke="#00ffa0" d="M677.8 363.7h6.1M683.7 357.7h6.1M612 333.6h6.1M612 327.6h6.1M701.6 327.6h6.1M612 321.6h6.1M701.6 321.6h12.1M743.5 303.5h6.1M731.5 297.5h6.1M743.5 297.5h6.1M755.4 297.5h6.1M612 285.5h6.1M755.4 279.5h6.1M618 267.4h6.1M612 261.4h6.1M785.3 261.4h6.1M797.2 249.4h6.1M791.3 237.3h6.1M803.2 237.3h6.1M803.2 231.3h6.1M612 225.3h6.1M815.2 225.3h6.1M606 207.3h6.1M863 189.2h6.1M874.9 171.1h6.1M880.9 165.1h12.1M886.9 159.1h6.1M910.8 141.1h6.1M916.7 135h6.1M934.7 117h6.1"/><path stroke="#ff1000" d="M689.7 357.7h12.1M695.7 351.7h12.1M701.6 345.6h12.1M707.6 339.6h12.1M713.6 333.6h12.1M725.5 327.6h6.1M725.5 321.6h12.1M737.5 315.6h6.1M743.5 309.5h6.1M749.4 303.5h6.1M815.2 231.3h6.1M833.1 219.3h6.1M851 201.2h6.1"/><path stroke="#96ff00" d="M719.6 315.6h6.1M612 303.5h6.1M612 291.5h6.1M779.3 267.4h6.1M606 255.4h6.1M785.3 255.4h6.1M803.2 249.4h6.1M606 243.4h6.1M809.2 237.3h12.1M833.1 213.3h12.1M868.9 183.2h6.1"/></g>
<line x1="583.8" y1="472.0" x2="943.3199999999999" y2="110.92000000000002" stroke="#000" stroke-width="2.2"/>
<rect x="583.8" y="110.9" width="359.5" height="361.1" fill="none" stroke="#000" stroke-width="2.2"/>
<line x1="703.64" y1="472" x2="703.64" y2="454" stroke="#000" stroke-width="2.3"/>
<line x1="583.8" y1="351.64" x2="601.8" y2="351.6" stroke="#000" stroke-width="2.3"/>
<line x1="823.48" y1="472" x2="823.48" y2="454" stroke="#000" stroke-width="2.3"/>
<line x1="583.8" y1="231.28" x2="601.8" y2="231.3" stroke="#000" stroke-width="2.3"/>
<text x="584.8" y="511.5" font-size="36" text-anchor="middle">2</text>
<text x="704.6" y="511.5" font-size="36" text-anchor="middle">4</text>
<text x="824.5" y="511.5" font-size="36" text-anchor="middle">6</text>
<text x="944.3" y="511.5" font-size="36" text-anchor="middle">8</text>
<text x="576.5" y="484.0" font-size="36" text-anchor="end">2</text>
<text x="576.5" y="363.6" font-size="36" text-anchor="end">4</text>
<text x="576.5" y="243.3" font-size="36" text-anchor="end">6</text>
<text x="576.5" y="122.9" font-size="36" text-anchor="end">8</text>
<path d="M585.5,113.4L585.5,472L633.5,422.1L633.5,113.4Z" fill="none" stroke="#ff40ff" stroke-width="4.8" stroke-dasharray="15.8,4.9"/>
<text x="674.6" y="564.3" font-size="35.4">Birth <tspan font-style="italic">b</tspan><tspan font-style="italic" font-size="24" dy="8">i</tspan><tspan dy="-8"> (Å</tspan><tspan font-size="24" dy="-13">2</tspan><tspan dy="13">)</tspan></text>
<text transform="translate(524.8,392.5) rotate(-90)" font-size="35">Death <tspan font-style="italic">d</tspan><tspan font-style="italic" font-size="24" dy="8">j</tspan><tspan dy="-8"> (Å</tspan><tspan font-size="24" dy="-13">2</tspan><tspan dy="13">)</tspan></text>
<text x="1245.9" y="34" font-size="44" text-anchor="middle" textLength="358.5" lengthAdjust="spacingAndGlyphs">1200 °C/ 7.7 GPa</text>
<text x="977.0" y="79.8" font-size="45.5" font-weight="bold">C</text>
<g fill="none" stroke-width="6.35"><path stroke="#0010ff" d="M1076.1 429.9h12.1M1076.1 423.9h6.1M1088.1 417.8h6.1M1100 417.8h6.1M1088.1 411.8h6.1M1106 405.8h6.1M1117.9 405.8h6.1M1112 399.8h6.1M1123.9 399.8h6.1M1135.9 393.8h6.1M1094 387.8h6.1M1123.9 387.8h6.1M1094 375.7h12.1M1141.8 369.7h6.1M1094 363.7h6.1M1117.9 363.7h6.1M1129.9 363.7h6.1M1153.8 363.7h6.1M1088.1 357.7h24M1123.9 357.7h6.1M1094 351.7h6.1M1112 351.7h6.1M1153.8 351.7h6.1M1165.7 351.7h6.1M1088.1 345.6h6.1M1147.8 345.6h6.1M1171.7 345.6h6.1M1106 339.6h6.1M1129.9 339.6h6.1M1141.8 339.6h6.1M1088.1 333.6h6.1M1112 333.6h12.1M1141.8 333.6h6.1M1117.9 327.6h6.1M1129.9 327.6h12.1M1147.8 327.6h12.1M1165.7 327.6h12.1M1117.9 321.6h6.1M1147.8 321.6h6.1M1171.7 321.6h6.1M1189.6 321.6h6.1M1159.8 315.6h6.1M1171.7 315.6h6.1M1189.6 315.6h6.1M1213.5 315.6h6.1M1129.9 309.5h6.1M1141.8 309.5h6.1M1177.7 309.5h6.1M1088.1 303.5h6.1M1153.8 303.5h6.1M1165.7 303.5h6.1M1183.7 303.5h6.1M1088.1 297.5h6.1M1177.7 297.5h6.1M1189.6 297.5h12.1M1183.7 291.5h6.1M1112 285.5h12.1M1189.6 285.5h6.1M1207.6 285.5h12.1M1112 279.5h6.1M1201.6 279.5h6.1M1213.5 279.5h6.1M1219.5 273.4h6.1M1243.4 273.4h6.1M1088.1 267.4h6.1M1195.6 267.4h18M1225.5 267.4h6.1M1237.4 267.4h6.1M1225.5 261.4h6.1M1225.5 255.4h6.1M1255.4 255.4h6.1M1267.3 255.4h6.1M1082.1 249.4h6.1M1106 249.4h6.1M1249.4 249.4h12.1M1273.3 249.4h6.1M1249.4 243.4h6.1M1267.3 237.3h6.1M1279.3 237.3h6.1M1088.1 231.3h6.1M1106 231.3h6.1M1273.3 231.3h12.1M1100 225.3h6.1M1261.3 225.3h6.1M1291.2 225.3h12.1M1088.1 219.3h6.1M1100 219.3h6.1M1297.2 219.3h6.1M1285.2 213.3h6.1M1303.2 213.3h6.1M1088.1 207.3h12.1M1303.2 207.3h6.1M1231.5 201.2h6.1M1285.2 195.2h6.1M1309.1 195.2h6.1M1333 195.2h6.1M1094 183.2h6.1M1123.9 183.2h6.1M1327.1 183.2h18M1356.9 177.2h6.1M1345 171.1h6.1M1362.9 171.1h6.1M1362.9 165.1h6.1M1368.9 159.1h12.1M1392.8 141.1h6.1M1392.8 129h6.1M1410.7 123h12.1"/><path stroke="#0060ff" d="M1082.1 423.9h6.1M1100 405.8h6.1M1129.9 387.8h6.1M1147.8 369.7h6.1M1100 363.7h6.1M1177.7 363.7h6.1M1141.8 357.7h18M1165.7 357.7h6.1M1106 351.7h6.1M1141.8 351.7h6.1M1094 345.6h6.1M1165.7 339.6h6.1M1171.7 333.6h6.1M1094 321.6h6.1M1088.1 315.6h6.1M1106 315.6h6.1M1088.1 309.5h6.1M1183.7 309.5h6.1M1112 303.5h6.1M1129.9 303.5h6.1M1177.7 303.5h6.1M1195.6 303.5h6.1M1213.5 303.5h6.1M1201.6 297.5h12.1M1088.1 291.5h6.1M1213.5 291.5h6.1M1088.1 285.5h6.1M1106 285.5h6.1M1237.4 279.5h6.1M1112 273.4h6.1M1207.6 273.4h6.1M1106 261.4h6.1M1249.4 261.4h6.1M1088.1 249.4h6.1M1100 249.4h6.1M1088.1 237.3h6.1M1100 237.3h6.1M1100 231.3h6.1M1285.2 231.3h12.1M1088.1 225.3h6.1M1279.3 225.3h12.1M1303.2 225.3h6.1M1303.2 219.3h6.1M1094 213.3h6.1M1315.1 213.3h6.1M1297.2 207.3h6.1M1321.1 207.3h6.1M1374.9 165.1h6.1M1380.8 153.1h6.1M1398.8 135h6.1M1410.7 129h6.1"/><path stroke="#5000ff" d="M1088.1 423.9h6.1M1100 423.9h6.1M1094 417.8h6.1M1094 411.8h18M1076.1 405.8h6.1M1112 405.8h6.1M1100 399.8h12.1M1076.1 393.8h6.1M1094 393.8h6.1M1106 393.8h6.1M1117.9 393.8h12.1M1100 387.8h12.1M1088.1 381.7h18M1088.1 375.7h6.1M1106 375.7h6.1M1129.9 375.7h12.1M1165.7 375.7h6.1M1088.1 369.7h18M1123.9 369.7h18M1112 363.7h6.1M1135.9 363.7h18M1135.9 357.7h6.1M1123.9 351.7h6.1M1135.9 351.7h6.1M1147.8 351.7h6.1M1123.9 345.6h6.1M1135.9 345.6h6.1M1159.8 345.6h6.1M1088.1 339.6h6.1M1112 339.6h6.1M1135.9 339.6h6.1M1129.9 333.6h6.1M1147.8 333.6h12.1M1088.1 327.6h6.1M1141.8 327.6h6.1M1159.8 327.6h6.1M1088.1 321.6h6.1M1123.9 321.6h6.1M1135.9 321.6h6.1M1153.8 321.6h12.1M1112 315.6h6.1M1129.9 315.6h6.1M1153.8 315.6h6.1M1165.7 315.6h6.1M1117.9 309.5h12.1M1147.8 309.5h6.1M1159.8 309.5h6.1M1171.7 309.5h6.1M1189.6 309.5h6.1M1117.9 303.5h6.1M1135.9 303.5h12.1M1159.8 303.5h6.1M1117.9 297.5h6.1M1153.8 297.5h12.1M1171.7 297.5h6.1M1117.9 291.5h6.1M1177.7 291.5h6.1M1195.6 291.5h6.1M1129.9 285.5h6.1M1195.6 285.5h6.1M1082.1 279.5h6.1M1135.9 279.5h6.1M1147.8 279.5h6.1M1165.7 279.5h6.1M1189.6 279.5h12.1M1159.8 273.4h6.1M1213.5 273.4h6.1M1112 267.4h6.1M1165.7 267.4h12.1M1189.6 267.4h6.1M1213.5 267.4h12.1M1243.4 267.4h6.1M1112 261.4h6.1M1129.9 261.4h12.1M1207.6 261.4h6.1M1219.5 261.4h6.1M1237.4 261.4h6.1M1147.8 255.4h6.1M1177.7 255.4h6.1M1243.4 255.4h12.1M1147.8 249.4h6.1M1177.7 249.4h6.1M1195.6 249.4h12.1M1082.1 243.4h6.1M1106 243.4h6.1M1183.7 243.4h6.1M1201.6 243.4h6.1M1237.4 243.4h6.1M1261.3 243.4h6.1M1273.3 243.4h6.1M1106 237.3h6.1M1117.9 237.3h6.1M1159.8 237.3h6.1M1201.6 237.3h6.1M1219.5 237.3h6.1M1237.4 237.3h6.1M1249.4 237.3h12.1M1273.3 237.3h6.1M1207.6 231.3h6.1M1159.8 225.3h6.1M1255.4 225.3h6.1M1267.3 225.3h12.1M1106 219.3h6.1M1267.3 219.3h6.1M1291.2 219.3h6.1M1088.1 213.3h6.1M1219.5 213.3h6.1M1249.4 213.3h6.1M1261.3 213.3h18M1309.1 213.3h6.1M1315.1 207.3h6.1M1088.1 201.2h12.1M1291.2 201.2h6.1M1315.1 201.2h12.1M1094 195.2h6.1M1315.1 195.2h6.1M1327.1 195.2h6.1M1094 189.2h6.1M1267.3 189.2h6.1M1309.1 189.2h6.1M1327.1 189.2h12.1M1100 183.2h6.1M1279.3 183.2h6.1M1100 177.2h6.1M1291.2 177.2h6.1M1339 177.2h6.1M1351 177.2h6.1M1321.1 171.1h6.1M1339 171.1h6.1M1351 171.1h6.1M1094 165.1h6.1M1333 165.1h12.1M1362.9 159.1h6.1M1374.9 153.1h6.1M1380.8 147.1h6.1M1333 141.1h6.1M1386.8 141.1h6.1M1386.8 135h6.1M1362.9 123h6.1M1386.8 123h6.1M1404.7 123h6.1M1416.7 117h12.1M1368.9 111h6.1M1416.7 111h18"/><path stroke="#00a0ff" d="M1129.9 393.8h6.1M1135.9 387.8h6.1M1129.9 381.7h6.1M1171.7 369.7h6.1M1159.8 357.7h6.1M1088.1 351.7h6.1M1100 351.7h6.1M1171.7 351.7h6.1M1153.8 345.6h6.1M1195.6 333.6h6.1M1106 321.6h6.1M1183.7 321.6h6.1M1201.6 321.6h6.1M1177.7 315.6h6.1M1207.6 309.5h6.1M1106 303.5h6.1M1171.7 303.5h6.1M1201.6 303.5h6.1M1219.5 279.5h6.1M1231.5 279.5h6.1M1088.1 273.4h6.1M1225.5 273.4h6.1M1237.4 273.4h6.1M1231.5 267.4h6.1M1261.3 255.4h6.1M1261.3 249.4h6.1M1094 237.3h6.1M1094 231.3h6.1M1297.2 231.3h6.1M1094 225.3h6.1M1309.1 219.3h6.1M1351 183.2h6.1M1368.9 171.1h6.1M1386.8 153.1h6.1M1386.8 147.1h6.1M1398.8 141.1h6.1"/><path stroke="#00ffa0" d="M1141.8 387.8h6.1M1153.8 375.7h6.1M1159.8 363.7h6.1M1165.7 345.6h6.1M1100 339.6h6.1M1159.8 339.6h6.1M1177.7 339.6h6.1M1100 333.6h6.1M1177.7 327.6h12.1M1094 309.5h6.1M1106 309.5h6.1M1201.6 309.5h6.1M1213.5 309.5h6.1M1094 303.5h6.1M1225.5 303.5h6.1M1213.5 297.5h12.1M1219.5 291.5h6.1M1237.4 291.5h6.1M1219.5 285.5h6.1M1106 267.4h6.1M1249.4 267.4h12.1M1273.3 255.4h6.1M1267.3 249.4h6.1M1279.3 249.4h6.1M1285.2 237.3h6.1M1327.1 213.3h6.1M1327.1 207.3h6.1M1333 201.2h6.1"/><path stroke="#00e6ff" d="M1135.9 381.7h6.1M1147.8 381.7h12.1M1141.8 375.7h6.1M1153.8 369.7h6.1M1159.8 351.7h6.1M1100 345.6h12.1M1177.7 345.6h6.1M1094 339.6h6.1M1153.8 339.6h6.1M1094 333.6h6.1M1106 333.6h6.1M1159.8 333.6h12.1M1177.7 333.6h12.1M1094 327.6h6.1M1106 327.6h12.1M1189.6 327.6h12.1M1177.7 321.6h6.1M1207.6 321.6h6.1M1201.6 315.6h6.1M1112 309.5h6.1M1094 297.5h6.1M1112 297.5h6.1M1225.5 297.5h6.1M1106 291.5h6.1M1225.5 285.5h6.1M1237.4 285.5h6.1M1255.4 285.5h6.1M1088.1 279.5h6.1M1225.5 279.5h6.1M1243.4 279.5h6.1M1255.4 279.5h6.1M1106 273.4h6.1M1231.5 273.4h6.1M1243.4 261.4h6.1M1261.3 261.4h6.1M1100 255.4h6.1M1088.1 243.4h6.1M1279.3 243.4h12.1M1327.1 201.2h6.1M1356.9 171.1h6.1M1368.9 165.1h6.1M1392.8 147.1h6.1M1404.7 135h6.1"/><path stroke="#20ff00" d="M1141.8 381.7h6.1M1147.8 375.7h6.1M1159.8 375.7h6.1M1165.7 369.7h6.1M1171.7 357.7h6.1M1177.7 351.7h6.1M1183.7 345.6h6.1M1171.7 339.6h6.1M1189.6 339.6h6.1M1189.6 333.6h6.1M1100 327.6h6.1M1201.6 327.6h6.1M1100 321.6h6.1M1195.6 321.6h6.1M1094 315.6h12.1M1207.6 315.6h6.1M1100 309.5h6.1M1195.6 309.5h6.1M1207.6 303.5h6.1M1231.5 303.5h6.1M1106 297.5h6.1M1225.5 291.5h12.1M1249.4 291.5h6.1M1094 285.5h12.1M1243.4 285.5h12.1M1106 279.5h6.1M1249.4 279.5h6.1M1261.3 279.5h6.1M1249.4 273.4h6.1M1267.3 273.4h6.1M1100 267.4h6.1M1261.3 267.4h6.1M1088.1 261.4h6.1M1255.4 261.4h6.1M1088.1 255.4h6.1M1285.2 255.4h6.1M1094 249.4h6.1M1094 243.4h6.1M1297.2 243.4h6.1M1297.2 237.3h6.1M1309.1 225.3h6.1M1321.1 219.3h6.1M1321.1 213.3h6.1M1339 195.2h12.1M1345 189.2h12.1M1356.9 183.2h6.1M1380.8 159.1h6.1"/><path stroke="#ffa000" d="M1159.8 369.7h6.1M1165.7 363.7h12.1M1219.5 315.6h6.1M1237.4 303.5h6.1M1231.5 285.5h6.1M1261.3 273.4h6.1M1273.3 267.4h6.1M1285.2 249.4h6.1M1291.2 243.4h6.1M1339 201.2h6.1"/><path stroke="#ff1000" d="M1177.7 357.7h6.1M1183.7 351.7h12.1M1189.6 345.6h12.1M1195.6 339.6h12.1M1201.6 333.6h12.1M1207.6 327.6h12.1M1213.5 321.6h12.1M1225.5 315.6h6.1M1231.5 309.5h6.1M1231.5 297.5h6.1M1243.4 297.5h6.1M1100 291.5h6.1M1094 273.4h12.1M1094 267.4h6.1M1267.3 267.4h6.1M1094 261.4h6.1M1094 255.4h6.1M1279.3 255.4h6.1M1291.2 249.4h6.1M1303.2 237.3h6.1M1315.1 225.3h6.1M1333 207.3h6.1"/><path stroke="#96ff00" d="M1183.7 357.7h6.1M1183.7 339.6h6.1M1195.6 315.6h6.1M1100 303.5h6.1M1219.5 303.5h6.1M1100 297.5h6.1M1094 291.5h6.1M1243.4 291.5h6.1M1100 279.5h6.1M1255.4 273.4h6.1M1100 261.4h6.1M1279.3 261.4h6.1M1291.2 237.3h6.1M1303.2 231.3h6.1"/><path stroke="#f0ff00" d="M1219.5 309.5h12.1M1237.4 297.5h6.1M1094 279.5h6.1M1267.3 261.4h12.1M1309.1 231.3h6.1M1315.1 219.3h6.1M1362.9 177.2h6.1"/></g>
<line x1="1071.8" y1="472.0" x2="1431.32" y2="110.92000000000002" stroke="#000" stroke-width="2.2"/>
<rect x="1071.8" y="110.9" width="359.5" height="361.1" fill="none" stroke="#000" stroke-width="2.2"/>
<line x1="1191.6399999999999" y1="472" x2="1191.6399999999999" y2="454" stroke="#000" stroke-width="2.3"/>
<line x1="1071.8" y1="351.64" x2="1089.8" y2="351.6" stroke="#000" stroke-width="2.3"/>
<line x1="1311.48" y1="472" x2="1311.48" y2="454" stroke="#000" stroke-width="2.3"/>
<line x1="1071.8" y1="231.28" x2="1089.8" y2="231.3" stroke="#000" stroke-width="2.3"/>
<text x="1072.8" y="511.5" font-size="36" text-anchor="middle">2</text>
<text x="1192.6" y="511.5" font-size="36" text-anchor="middle">4</text>
<text x="1312.5" y="511.5" font-size="36" text-anchor="middle">6</text>
<text x="1432.3" y="511.5" font-size="36" text-anchor="middle">8</text>
<text x="1064.5" y="484.0" font-size="36" text-anchor="end">2</text>
<text x="1064.5" y="363.6" font-size="36" text-anchor="end">4</text>
<text x="1064.5" y="243.3" font-size="36" text-anchor="end">6</text>
<text x="1064.5" y="122.9" font-size="36" text-anchor="end">8</text>
<path d="M1073.5,113.4L1073.5,472L1125.1,418.4L1125.1,113.4Z" fill="none" stroke="#ff40ff" stroke-width="4.8" stroke-dasharray="15.8,4.9"/>
<text x="1162.6" y="564.3" font-size="35.4">Birth <tspan font-style="italic">b</tspan><tspan font-style="italic" font-size="24" dy="8">i</tspan><tspan dy="-8"> (Å</tspan><tspan font-size="24" dy="-13">2</tspan><tspan dy="13">)</tspan></text>
<text transform="translate(1012.8,392.5) rotate(-90)" font-size="35">Death <tspan font-style="italic">d</tspan><tspan font-style="italic" font-size="24" dy="8">j</tspan><tspan dy="-8"> (Å</tspan><tspan font-size="24" dy="-13">2</tspan><tspan dy="13">)</tspan></text>
<text x="1729.1" y="34" font-size="44" text-anchor="middle" textLength="239.5" lengthAdjust="spacingAndGlyphs">RT/ 20 GPa</text>
<text x="1466.0" y="79.8" font-size="45.5" font-weight="bold">D</text>
<g fill="none" stroke-width="6.35"><path stroke="#5000ff" d="M1558.1 435.9h6.1M1558.1 429.9h6.1M1582 423.9h6.1M1594 417.8h6.1M1594 411.8h6.1M1582 405.8h6.1M1605.9 405.8h6.1M1611.9 399.8h6.1M1588 393.8h6.1M1611.9 393.8h6.1M1635.8 393.8h6.1M1600 387.8h12.1M1635.8 387.8h6.1M1564.1 381.7h6.1M1588 381.7h6.1M1600 381.7h6.1M1641.8 381.7h12.1M1564.1 375.7h6.1M1617.9 375.7h6.1M1588 369.7h6.1M1594 363.7h6.1M1611.9 363.7h6.1M1623.9 363.7h6.1M1570.1 357.7h6.1M1600 357.7h6.1M1611.9 357.7h18M1635.8 357.7h6.1M1611.9 351.7h12.1M1629.8 351.7h18M1623.9 345.6h6.1M1659.7 345.6h6.1M1570.1 339.6h6.1M1600 339.6h6.1M1611.9 339.6h6.1M1635.8 339.6h6.1M1647.8 339.6h6.1M1665.7 339.6h6.1M1617.9 333.6h6.1M1629.8 333.6h6.1M1647.8 333.6h6.1M1659.7 327.6h6.1M1600 321.6h6.1M1617.9 321.6h6.1M1635.8 321.6h12.1M1570.1 315.6h6.1M1605.9 315.6h6.1M1623.9 315.6h12.1M1641.8 315.6h6.1M1570.1 309.5h6.1M1611.9 309.5h12.1M1635.8 309.5h12.1M1677.6 309.5h6.1M1564.1 303.5h12.1M1600 303.5h12.1M1617.9 303.5h6.1M1659.7 303.5h12.1M1677.6 303.5h6.1M1564.1 297.5h6.1M1665.7 297.5h6.1M1653.7 291.5h6.1M1689.6 291.5h6.1M1605.9 285.5h6.1M1623.9 285.5h6.1M1671.7 285.5h12.1M1689.6 285.5h12.1M1629.8 279.5h6.1M1671.7 279.5h12.1M1707.5 279.5h6.1M1564.1 273.4h12.1M1647.8 273.4h6.1M1689.6 273.4h6.1M1707.5 273.4h6.1M1570.1 267.4h6.1M1647.8 267.4h6.1M1665.7 267.4h6.1M1713.5 267.4h6.1M1629.8 261.4h6.1M1701.5 261.4h24M1731.4 261.4h12.1M1600 255.4h12.1M1695.6 255.4h6.1M1707.5 255.4h6.1M1725.4 255.4h12.1M1582 243.4h6.1M1600 243.4h6.1M1641.8 243.4h6.1M1683.6 243.4h6.1M1707.5 243.4h6.1M1725.4 243.4h6.1M1737.4 243.4h6.1M1600 237.3h6.1M1725.4 237.3h6.1M1737.4 237.3h18M1570.1 231.3h6.1M1600 231.3h6.1M1749.3 231.3h6.1M1570.1 225.3h6.1M1731.4 225.3h12.1M1761.3 225.3h6.1M1582 219.3h6.1M1600 219.3h6.1M1713.5 219.3h6.1M1731.4 219.3h6.1M1761.3 219.3h6.1M1773.2 219.3h6.1M1570.1 213.3h12.1M1588 213.3h6.1M1749.3 213.3h6.1M1761.3 213.3h6.1M1785.2 213.3h6.1M1803.1 213.3h6.1M1576.1 207.3h6.1M1588 207.3h6.1M1767.3 207.3h6.1M1785.2 207.3h6.1M1576.1 201.2h6.1M1588 201.2h12.1M1707.5 201.2h6.1M1576.1 195.2h12.1M1743.4 195.2h6.1M1791.2 195.2h6.1M1803.1 195.2h6.1M1815.1 195.2h6.1M1570.1 189.2h6.1M1713.5 189.2h6.1M1791.2 189.2h12.1M1809.1 189.2h12.1M1755.3 183.2h6.1M1785.2 183.2h6.1M1803.1 183.2h12.1M1594 177.2h6.1M1731.4 177.2h6.1M1773.2 177.2h6.1M1809.1 177.2h6.1M1582 171.1h6.1M1833 171.1h6.1M1850.9 171.1h6.1M1827 165.1h6.1M1582 159.1h6.1M1839 159.1h12.1M1856.9 159.1h12.1M1582 153.1h6.1M1785.2 153.1h6.1M1850.9 153.1h12.1M1868.8 153.1h6.1M1868.8 147.1h6.1M1576.1 141.1h6.1M1868.8 141.1h12.1M1588 135h6.1M1815.1 135h6.1M1874.8 135h12.1M1683.6 129h6.1M1833 129h6.1M1856.9 129h6.1M1874.8 129h6.1M1737.4 123h6.1M1833 123h6.1M1886.8 123h6.1M1809.1 117h6.1M1886.8 117h6.1M1898.7 117h6.1M1844.9 111h6.1M1880.8 111h6.1M1904.7 111h12.1"/><path stroke="#0060ff" d="M1570.1 429.9h6.1M1600 405.8h6.1M1605.9 399.8h6.1M1617.9 399.8h6.1M1594 393.8h6.1M1611.9 387.8h6.1M1623.9 375.7h6.1M1582 363.7h6.1M1588 357.7h6.1M1576.1 351.7h6.1M1588 351.7h6.1M1647.8 351.7h6.1M1582 345.6h6.1M1665.7 345.6h6.1M1576.1 333.6h6.1M1588 333.6h6.1M1635.8 333.6h6.1M1594 327.6h6.1M1659.7 321.6h6.1M1576.1 315.6h6.1M1647.8 315.6h6.1M1671.7 315.6h12.1M1701.5 315.6h6.1M1659.7 309.5h6.1M1671.7 309.5h6.1M1683.6 297.5h12.1M1695.6 291.5h6.1M1707.5 291.5h6.1M1588 267.4h6.1M1719.5 267.4h6.1M1749.3 261.4h6.1M1743.4 249.4h12.1M1773.2 231.3h6.1M1588 225.3h6.1M1779.2 225.3h12.1M1570.1 219.3h6.1M1803.1 207.3h6.1M1815.1 201.2h6.1M1827 195.2h6.1M1576.1 183.2h6.1M1833 183.2h6.1M1844.9 171.1h6.1M1880.8 141.1h6.1M1892.7 129h6.1M1904.7 117h6.1"/><path stroke="#00a0ff" d="M1570.1 423.9h6.1M1600 393.8h6.1M1623.9 387.8h12.1M1623.9 381.7h6.1M1641.8 369.7h6.1M1576.1 363.7h6.1M1576.1 357.7h6.1M1665.7 351.7h6.1M1576.1 345.6h6.1M1671.7 345.6h6.1M1588 339.6h6.1M1594 333.6h6.1M1653.7 333.6h6.1M1582 327.6h6.1M1594 309.5h6.1M1594 303.5h6.1M1594 297.5h6.1M1695.6 297.5h6.1M1713.5 291.5h6.1M1707.5 285.5h6.1M1594 279.5h6.1M1701.5 279.5h6.1M1719.5 279.5h12.1M1725.4 267.4h6.1M1737.4 267.4h6.1M1749.3 267.4h6.1M1767.3 261.4h6.1M1588 255.4h6.1M1749.3 255.4h6.1M1761.3 249.4h6.1M1761.3 243.4h12.1M1582 237.3h6.1M1779.2 237.3h6.1M1779.2 231.3h6.1M1582 225.3h6.1M1791.2 225.3h6.1M1791.2 219.3h6.1M1821 195.2h6.1M1844.9 177.2h6.1M1880.8 147.1h6.1M1910.7 117h6.1M1916.6 111h6.1"/><path stroke="#0010ff" d="M1576.1 423.9h6.1M1570.1 417.8h24M1576.1 411.8h18M1588 405.8h12.1M1582 399.8h6.1M1594 399.8h6.1M1605.9 393.8h6.1M1617.9 393.8h6.1M1629.8 393.8h6.1M1570.1 387.8h6.1M1570.1 381.7h6.1M1582 381.7h6.1M1605.9 381.7h18M1576.1 375.7h18M1600 375.7h6.1M1629.8 375.7h6.1M1653.7 375.7h6.1M1582 369.7h6.1M1594 369.7h6.1M1605.9 369.7h6.1M1623.9 369.7h18M1588 363.7h6.1M1605.9 363.7h6.1M1635.8 363.7h12.1M1594 357.7h6.1M1605.9 357.7h6.1M1647.8 357.7h6.1M1582 351.7h6.1M1594 351.7h6.1M1659.7 351.7h6.1M1629.8 345.6h18M1576.1 339.6h6.1M1594 339.6h6.1M1641.8 339.6h6.1M1653.7 339.6h6.1M1570.1 333.6h6.1M1600 333.6h6.1M1641.8 333.6h6.1M1659.7 333.6h6.1M1677.6 333.6h12.1M1576.1 327.6h6.1M1635.8 327.6h6.1M1665.7 327.6h6.1M1683.6 327.6h12.1M1570.1 321.6h12.1M1594 321.6h6.1M1647.8 321.6h6.1M1665.7 321.6h6.1M1689.6 321.6h6.1M1594 315.6h6.1M1665.7 315.6h6.1M1600 309.5h6.1M1647.8 309.5h12.1M1695.6 309.5h6.1M1671.7 303.5h6.1M1683.6 303.5h6.1M1695.6 303.5h6.1M1570.1 297.5h6.1M1653.7 297.5h6.1M1707.5 297.5h6.1M1594 291.5h6.1M1659.7 291.5h12.1M1677.6 291.5h6.1M1701.5 291.5h6.1M1570.1 285.5h12.1M1594 285.5h6.1M1570.1 279.5h6.1M1713.5 279.5h6.1M1600 273.4h6.1M1677.6 273.4h6.1M1713.5 273.4h6.1M1600 267.4h12.1M1570.1 261.4h6.1M1600 261.4h6.1M1725.4 261.4h6.1M1594 255.4h6.1M1737.4 255.4h12.1M1570.1 249.4h6.1M1594 249.4h6.1M1605.9 249.4h6.1M1725.4 249.4h6.1M1737.4 249.4h6.1M1755.3 249.4h6.1M1588 243.4h12.1M1749.3 243.4h12.1M1588 237.3h6.1M1731.4 237.3h6.1M1755.3 237.3h24M1588 231.3h6.1M1773.2 225.3h6.1M1588 219.3h6.1M1779.2 219.3h6.1M1582 213.3h6.1M1797.1 213.3h6.1M1570.1 207.3h6.1M1570.1 201.2h6.1M1582 201.2h6.1M1803.1 201.2h12.1M1821 189.2h18M1821 183.2h12.1M1827 177.2h6.1M1844.9 165.1h6.1M1862.9 153.1h6.1M1862.9 147.1h6.1M1874.8 147.1h6.1M1886.8 141.1h6.1M1892.7 135h6.1M1886.8 129h6.1M1898.7 123h6.1"/><path stroke="#00e6ff" d="M1623.9 393.8h6.1M1617.9 387.8h6.1M1635.8 381.7h6.1M1659.7 369.7h6.1M1582 357.7h6.1M1653.7 357.7h6.1M1653.7 351.7h6.1M1588 345.6h6.1M1647.8 345.6h12.1M1582 339.6h6.1M1659.7 339.6h6.1M1671.7 339.6h6.1M1665.7 333.6h6.1M1588 327.6h6.1M1671.7 327.6h12.1M1695.6 321.6h6.1M1588 315.6h6.1M1683.6 315.6h12.1M1582 309.5h6.1M1683.6 309.5h12.1M1701.5 309.5h6.1M1713.5 309.5h6.1M1576.1 303.5h6.1M1689.6 303.5h6.1M1713.5 303.5h6.1M1576.1 297.5h6.1M1701.5 297.5h6.1M1731.4 291.5h6.1M1713.5 285.5h12.1M1576.1 279.5h6.1M1594 273.4h6.1M1725.4 273.4h6.1M1737.4 273.4h6.1M1731.4 267.4h6.1M1588 261.4h12.1M1743.4 261.4h6.1M1755.3 255.4h6.1M1588 249.4h6.1M1767.3 249.4h6.1M1773.2 243.4h6.1M1576.1 231.3h12.1M1785.2 231.3h6.1M1576.1 225.3h6.1M1797.1 219.3h6.1M1809.1 207.3h6.1M1856.9 165.1h12.1M1886.8 135h6.1"/><path stroke="#ffa000" d="M1629.8 381.7h6.1M1695.6 327.6h6.1M1582 291.5h6.1M1582 279.5h6.1M1582 267.4h6.1M1761.3 261.4h6.1M1773.2 249.4h6.1M1791.2 237.3h6.1M1803.1 219.3h6.1M1815.1 213.3h6.1M1833 195.2h6.1M1856.9 171.1h6.1"/><path stroke="#96ff00" d="M1635.8 375.7h18M1653.7 363.7h6.1M1582 321.6h6.1M1707.5 315.6h6.1M1588 303.5h6.1M1582 297.5h6.1M1725.4 297.5h12.1M1725.4 291.5h6.1M1737.4 285.5h6.1M1582 273.4h6.1M1576.1 249.4h6.1M1576.1 243.4h6.1M1791.2 231.3h6.1M1803.1 225.3h6.1M1839 189.2h6.1M1850.9 177.2h6.1M1868.8 159.1h6.1"/><path stroke="#f0ff00" d="M1647.8 369.7h6.1M1719.5 309.5h6.1M1725.4 303.5h6.1M1582 285.5h6.1M1582 261.4h6.1M1767.3 255.4h6.1M1779.2 243.4h6.1M1827 201.2h6.1M1874.8 153.1h6.1"/><path stroke="#ff1000" d="M1653.7 369.7h6.1M1659.7 363.7h12.1M1665.7 357.7h12.1M1671.7 351.7h12.1M1677.6 345.6h12.1M1683.6 339.6h12.1M1689.6 333.6h12.1M1701.5 327.6h6.1M1707.5 321.6h6.1M1713.5 315.6h6.1M1755.3 267.4h6.1M1797.1 231.3h6.1M1809.1 219.3h6.1M1821 207.3h6.1"/><path stroke="#00ffa0" d="M1647.8 363.7h6.1M1677.6 339.6h6.1M1582 333.6h6.1M1671.7 333.6h6.1M1671.7 321.6h18M1582 315.6h6.1M1576.1 309.5h6.1M1588 309.5h6.1M1701.5 303.5h12.1M1713.5 297.5h12.1M1576.1 291.5h6.1M1588 291.5h6.1M1719.5 291.5h6.1M1725.4 285.5h6.1M1588 279.5h6.1M1731.4 279.5h6.1M1749.3 279.5h6.1M1576.1 273.4h6.1M1719.5 273.4h6.1M1731.4 273.4h6.1M1576.1 267.4h6.1M1594 267.4h6.1M1743.4 267.4h6.1M1761.3 267.4h6.1M1576.1 261.4h6.1M1582 249.4h6.1M1576.1 237.3h6.1M1797.1 225.3h6.1M1839 183.2h6.1M1898.7 129h6.1M1904.7 123h6.1"/><path stroke="#20ff00" d="M1659.7 357.7h6.1M1594 345.6h6.1M1588 321.6h6.1M1701.5 321.6h6.1M1695.6 315.6h6.1M1707.5 309.5h6.1M1582 303.5h6.1M1719.5 303.5h6.1M1588 297.5h6.1M1737.4 291.5h6.1M1588 285.5h6.1M1731.4 285.5h6.1M1743.4 285.5h6.1M1737.4 279.5h12.1M1588 273.4h6.1M1743.4 273.4h18M1755.3 261.4h6.1M1576.1 255.4h12.1M1761.3 255.4h6.1M1773.2 255.4h6.1M1779.2 249.4h6.1M1785.2 243.4h6.1M1785.2 237.3h6.1M1576.1 219.3h6.1M1809.1 213.3h6.1M1815.1 207.3h6.1M1821 201.2h6.1M1844.9 183.2h6.1"/></g>
<line x1="1559.8" y1="472.0" x2="1919.32" y2="110.92000000000002" stroke="#000" stroke-width="2.2"/>
<rect x="1559.8" y="110.9" width="359.5" height="361.1" fill="none" stroke="#000" stroke-width="2.2"/>
<line x1="1679.6399999999999" y1="472" x2="1679.6399999999999" y2="454" stroke="#000" stroke-width="2.3"/>
<line x1="1559.8" y1="351.64" x2="1577.8" y2="351.6" stroke="#000" stroke-width="2.3"/>
<line x1="1799.48" y1="472" x2="1799.48" y2="454" stroke="#000" stroke-width="2.3"/>
<line x1="1559.8" y1="231.28" x2="1577.8" y2="231.3" stroke="#000" stroke-width="2.3"/>
<text x="1560.8" y="511.5" font-size="36" text-anchor="middle">2</text>
<text x="1680.6" y="511.5" font-size="36" text-anchor="middle">4</text>
<text x="1800.5" y="511.5" font-size="36" text-anchor="middle">6</text>
<text x="1920.3" y="511.5" font-size="36" text-anchor="middle">8</text>
<text x="1552.5" y="484.0" font-size="36" text-anchor="end">2</text>
<text x="1552.5" y="363.6" font-size="36" text-anchor="end">4</text>
<text x="1552.5" y="243.3" font-size="36" text-anchor="end">6</text>
<text x="1552.5" y="122.9" font-size="36" text-anchor="end">8</text>
<path d="M1561.5,113.4L1561.5,472L1613.1,418.4L1613.1,113.4Z" fill="none" stroke="#ff40ff" stroke-width="4.8" stroke-dasharray="15.8,4.9"/>
<text x="1650.6" y="564.3" font-size="35.4">Birth <tspan font-style="italic">b</tspan><tspan font-style="italic" font-size="24" dy="8">i</tspan><tspan dy="-8"> (Å</tspan><tspan font-size="24" dy="-13">2</tspan><tspan dy="13">)</tspan></text>
<text transform="translate(1500.8,392.5) rotate(-90)" font-size="35">Death <tspan font-style="italic">d</tspan><tspan font-style="italic" font-size="24" dy="8">j</tspan><tspan dy="-8"> (Å</tspan><tspan font-size="24" dy="-13">2</tspan><tspan dy="13">)</tspan></text>
<defs><linearGradient id="cb" x1="0" y1="1" x2="0" y2="0">
<stop offset="0.012" stop-color="#8000ff"/>
<stop offset="0.090" stop-color="#0000ff"/>
<stop offset="0.168" stop-color="#0080ff"/>
<stop offset="0.258" stop-color="#00ffff"/>
<stop offset="0.441" stop-color="#00ff00"/>
<stop offset="0.629" stop-color="#ffff00"/>
<stop offset="0.715" stop-color="#ff8000"/>
<stop offset="0.813" stop-color="#ff0000"/>
</linearGradient></defs>
<rect x="1799.5" y="256.5" width="24" height="203.0" fill="url(#cb)" stroke="#000" stroke-width="2.2"/>
<line x1="1823.5" y1="457.1" x2="1832.5" y2="457.1" stroke="#000" stroke-width="2"/>
<line x1="1823.5" y1="441.2" x2="1828.5" y2="441.2" stroke="#000" stroke-width="2"/>
<line x1="1823.5" y1="425.4" x2="1828.5" y2="425.4" stroke="#000" stroke-width="2"/>
<line x1="1823.5" y1="409.5" x2="1828.5" y2="409.5" stroke="#000" stroke-width="2"/>
<line x1="1823.5" y1="393.7" x2="1828.5" y2="393.7" stroke="#000" stroke-width="2"/>
<line x1="1823.5" y1="377.8" x2="1832.5" y2="377.8" stroke="#000" stroke-width="2"/>
<line x1="1823.5" y1="361.9" x2="1828.5" y2="361.9" stroke="#000" stroke-width="2"/>
<line x1="1823.5" y1="346.1" x2="1828.5" y2="346.1" stroke="#000" stroke-width="2"/>
<line x1="1823.5" y1="330.2" x2="1828.5" y2="330.2" stroke="#000" stroke-width="2"/>
<line x1="1823.5" y1="314.4" x2="1828.5" y2="314.4" stroke="#000" stroke-width="2"/>
<line x1="1823.5" y1="298.5" x2="1832.5" y2="298.5" stroke="#000" stroke-width="2"/>
<line x1="1823.5" y1="282.6" x2="1828.5" y2="282.6" stroke="#000" stroke-width="2"/>
<line x1="1823.5" y1="266.8" x2="1828.5" y2="266.8" stroke="#000" stroke-width="2"/>
<text x="1837.5" y="468.3" font-size="31">0.000</text>
<text x="1837.5" y="389.0" font-size="31">0.010</text>
<text x="1837.5" y="309.7" font-size="31">0.020</text>
<text x="-1.2" y="649.7" font-size="45.5" font-weight="bold">E</text>
<line x1="269.0" y1="919.8" x2="269.0" y2="681.8" stroke="#000" stroke-width="2.2"/>
<line x1="102.6" y1="963.8" x2="269.0" y2="919.8" stroke="#000" stroke-width="2.2"/>
<line x1="269.0" y1="919.8" x2="462.0" y2="959.0" stroke="#000" stroke-width="2.2"/>
<g class="srf" transform="scale(.5)"><path fill="#fff" d="M591 2006l-386-78l333-88l386 78z"/><path style="--g:url(#q0)" d="M516 1839l32 3l9 2z"/><path style="--g:url(#q1)" d="M525 1841l32 3l10 1z"/><path style="--g:url(#q2)" d="M516 1839l-10 14l42-11z"/><path style="--g:url(#q3)" d="M525 1841l-9-2l41 5z"/><path style="--g:url(#q4)" d="M535 1858l-10-17l42 4z"/><path style="--g:url(#q5)" d="M474 1850l32 3l10-14z"/><path style="--g:url(#q6)" d="M484 1867l32-28l9 2z"/><path style="--g:url(#q7)" d="M474 1850l-10 14l42-11z"/><path style="--g:url(#q8)" d="M583 1853l32 2l10 2z"/><path style="--g:url(#q9)" d="M493 1869l32-28l10 17z"/><path style="--g:url(#qa)" d="M484 1867l-10-17l42-11z"/><path style="--g:url(#qb)" d="M593 1855l32 2l10 2z"/><path style="--g:url(#qc)" d="M503 1856l32 2l10 2z"/><path style="--g:url(#qd)" d="M493 1869l-9-2l41-26z"/><path style="--g:url(#qe)" d="M583 1853l-9 13l41-11z"/><path style="--g:url(#qf)" d="M603 1834l32 25l9 2z"/><path style="--g:url(#qg)" d="M423 1817l32 45l9 2z"/><path style="--g:url(#qh)" d="M503 1856l-10 13l42-11z"/><path style="--g:url(#qi)" d="M593 1855l-10-2l42 4z"/><path style="--g:url(#qj)" d="M612 1836l32 25l10-13z"/><path style="--g:url(#qk)" d="M522 1837l32 25l10 2z"/><path style="--g:url(#ql)" d="M432 1838l32 26l10-14z"/><path style="--g:url(#qm)" d="M513 1873l-10-17l42 4z"/><path style="--g:url(#qn)" d="M603 1834l-10 21l42 4z"/><path style="--g:url(#qo)" d="M423 1817l-10 40l42 5z"/><path style="--g:url(#qp)" d="M622 1838l32 10l9 17z"/><path style="--g:url(#qq)" d="M532 1862l32 2l10 2z"/><path style="--g:url(#qr)" d="M442 1840l32 10l10 17z"/><path style="--g:url(#qs)" d="M522 1837l-9 36l41-11z"/><path style="--g:url(#qt)" d="M612 1836l-9-2l41 27z"/><path style="--g:url(#qu)" d="M432 1838l-9-21l41 47z"/><path style="--g:url(#qv)" d="M632 1863l31 2l10 2z"/><path style="--g:url(#qw)" d="M542 1841l32 25l9-13z"/><path style="--g:url(#qx)" d="M452 1842l32 25l9 2z"/><path style="--g:url(#qy)" d="M532 1862l-10-25l42 27z"/><path style="--g:url(#qz)" d="M622 1838l-10-2l42 12z"/><path style="--g:url(#q10)" d="M442 1840l-10-2l42 12z"/><path style="--g:url(#q11)" d="M641 1865l32 2l10 2z"/><path style="--g:url(#q12)" d="M551 1843l32 10l10 2z"/><path style="--g:url(#q13)" d="M461 1825l32 44l10-13z"/><path style="--g:url(#q14)" d="M542 1841l-10 21l42 4z"/><path style="--g:url(#q15)" d="M632 1863l-10-25l41 27z"/><path style="--g:url(#q16)" d="M452 1842l-10-2l42 27z"/><path style="--g:url(#q17)" d="M561 1803l32 52l10-21z"/><path style="--g:url(#q18)" d="M381 1847l32 10l10-40z"/><path style="--g:url(#q19)" d="M471 1732l32 124l10 17z"/><path style="--g:url(#q1a)" d="M551 1843l-9-2l41 12z"/><path style="--g:url(#q1b)" d="M641 1865l-9-2l41 4z"/><path style="--g:url(#q1c)" d="M461 1825l-9 17l41 27z"/><path style="--g:url(#q1d)" d="M571 1805l32 29l9 2z"/><path style="--g:url(#q1e)" d="M391 1777l32 40l9 21z"/><path style="--g:url(#q1f)" d="M481 1776l32 97l9-36z"/><path style="--g:url(#q1g)" d="M561 1803l-10 40l42 12z"/><path style="--g:url(#q1h)" d="M651 1882l-10-17l42 4z"/><path style="--g:url(#q1i)" d="M471 1732l-10 93l42 31z"/><path style="--g:url(#q1j)" d="M381 1847l-9-43l41 53z"/><path style="--g:url(#q1k)" d="M670 1848l32 25l10-36z"/><path class="k0" d="M580 1849l32-13l10 2z"/><path class="k0" d="M401 1851l31-13l10 2z"/><path style="--g:url(#q1l)" d="M490 1831l32 6l10 25z"/><path style="--g:url(#q1m)" d="M571 1805l-10-2l42 31z"/><path style="--g:url(#q1n)" d="M481 1776l-10-44l42 141z"/><path style="--g:url(#q1o)" d="M391 1777l-10 70l42-30z"/><path style="--g:url(#q1p)" d="M680 1873l32-36l9 40z"/><path style="--g:url(#q1q)" d="M590 1851l32-13l10 25z"/><path style="--g:url(#q1r)" d="M410 1781l32 59l10 2z"/><path style="--g:url(#q1s)" d="M500 1852l32 10l10-21z"/><path style="--g:url(#q1t)" d="M580 1849l-9-44l41 31z"/><path style="--g:url(#q1u)" d="M670 1848l-10 36l42-11z"/><path style="--g:url(#q1v)" d="M490 1831l-9-55l41 61z"/><path style="--g:url(#q1w)" d="M401 1851l-10-74l41 61z"/><path style="--g:url(#q1x)" d="M689 1852l32 25l10 2z"/><path style="--g:url(#q1y)" d="M600 1853l32 10l9 2z"/><path style="--g:url(#q1z)" d="M420 1741l32 101l9-17z"/><path style="--g:url(#q20)" d="M510 1812l32 29l9 2z"/><path class="k0" d="M590 1851l-10-2l42-11z"/><path style="--g:url(#q21)" d="M680 1873l-10-25l42-11z"/><path style="--g:url(#q22)" d="M500 1852l-10-21l42 31z"/><path style="--g:url(#q23)" d="M410 1781l-9 70l41-11z"/><path style="--g:url(#q24)" d="M699 1854l32 25l10 2z"/><path style="--g:url(#q25)" d="M609 1836l32 29l10 17z"/><path style="--g:url(#q26)" d="M340 1817l32-13l9 43z"/><path style="--g:url(#q27)" d="M429 1838l32-13l10-93z"/><path style="--g:url(#q28)" d="M519 1814l32 29l10-40z"/><path style="--g:url(#q29)" d="M600 1853l-10-2l42 12z"/><path style="--g:url(#q2a)" d="M689 1852l-9 21l41 4z"/><path style="--g:url(#q2b)" d="M510 1812l-10 40l42-11z"/><path style="--g:url(#q2c)" d="M420 1741l-10 40l42 61z"/><path style="--g:url(#q2d)" d="M709 1894l32-13l9-14z"/><path style="--g:url(#q2e)" d="M349 1788l32 59l10-70z"/><path style="--g:url(#q2f)" d="M619 1857l32 25l9 2z"/><path style="--g:url(#q2g)" d="M439 1697l32 35l10 44z"/><path style="--g:url(#q2h)" d="M529 1744l32 59l10 2z"/><path style="--g:url(#q2i)" d="M609 1836l-9 17l41 12z"/><path style="--g:url(#q2j)" d="M699 1854l-10-2l42 27z"/><path style="--g:url(#q2k)" d="M340 1817l-10 20l42-33z"/><path style="--g:url(#q2l)" d="M519 1814l-9-2l41 31z"/><path style="--g:url(#q2m)" d="M429 1838l-9-97l41 84z"/><path style="--g:url(#q2n)" d="M718 1880l32-13l10 18z"/><path style="--g:url(#q2o)" d="M359 1885l32-108l10 74z"/><path style="--g:url(#q2p)" d="M628 1882l32 2l10-36z"/><path style="--g:url(#q2q)" d="M449 1819l32-43l9 55z"/><path style="--g:url(#q2r)" d="M539 1698l32 107l9 44z"/><path style="--g:url(#q2s)" d="M619 1857l-10-21l42 46z"/><path style="--g:url(#q2t)" d="M349 1788l-9 29l41 30z"/><path style="--g:url(#q2u)" d="M709 1894l-10-40l42 27z"/><path style="--g:url(#q2v)" d="M529 1744l-10 70l42-11z"/><path style="--g:url(#q2w)" d="M439 1697l-10 141l42-106z"/><path style="--g:url(#q2x)" d="M728 1882l32 3l10 2z"/><path style="--g:url(#q2y)" d="M638 1861l32-13l10 25z"/><path style="--g:url(#q2z)" d="M369 1864l32-13l9-70z"/><path style="--g:url(#q30)" d="M458 1701l32 130l10 21z"/><path style="--g:url(#q31)" d="M548 1790l32 59l10 2z"/><path style="--g:url(#q32)" d="M628 1882l-9-25l41 27z"/><path style="--g:url(#q33)" d="M718 1880l-9 14l41-27z"/><path style="--g:url(#q34)" d="M359 1885l-10-97l42-11z"/><path style="--g:url(#q35)" d="M539 1698l-10 46l42 61z"/><path style="--g:url(#q36)" d="M449 1819l-10-122l42 79z"/><path style="--g:url(#q37)" d="M378 1889l32-108l10-40z"/><path style="--g:url(#q38)" d="M648 1821l32 52l9-21z"/><path style="--g:url(#q39)" d="M468 1656l32 196l10-40z"/><path style="--g:url(#q3a)" d="M558 1702l32 149l10 2z"/><path style="--g:url(#q3b)" d="M638 1861l-9 21l41-34z"/><path style="--g:url(#q3c)" d="M369 1864l-10 21l42-34z"/><path style="--g:url(#q3d)" d="M728 1882l-10-2l42 5z"/><path style="--g:url(#q3e)" d="M548 1790l-9-92l41 151z"/><path style="--g:url(#q3f)" d="M458 1701l-9 118l41 12z"/><path class="k0" d="M657 1865l32-13l10 2z"/><path style="--g:url(#q3g)" d="M388 1868l32-127l10 97z"/><path style="--g:url(#q3h)" d="M298 1892l32-55l10-20z"/><path style="--g:url(#q3i)" d="M478 1753l32 59l9 2z"/><path style="--g:url(#q3j)" d="M568 1889l32-36l9-17z"/><path style="--g:url(#q3k)" d="M648 1821l-10 40l42 12z"/><path style="--g:url(#q3l)" d="M738 1900l-10-18l42 5z"/><path style="--g:url(#q3m)" d="M378 1889l-9-25l41-83z"/><path style="--g:url(#q3n)" d="M558 1702l-10 88l42 61z"/><path style="--g:url(#q3o)" d="M468 1656l-10 45l42 151z"/><path style="--g:url(#q3p)" d="M398 1870l32-32l9-141z"/><path style="--g:url(#q3q)" d="M667 1867l32-13l10 40z"/><path class="k1" d="M308 1910l32-93l9-29z"/><path style="--g:url(#q3r)" d="M487 1797l32 17l10-70z"/><path style="--g:url(#q3s)" d="M577 1706l32 130l10 21z"/><path style="--g:url(#q3t)" d="M657 1865l-9-44l41 31z"/><path style="--g:url(#q3u)" d="M388 1868l-10 21l42-148z"/><path style="--g:url(#q3v)" d="M568 1889l-10-187l42 151z"/><path style="--g:url(#q3w)" d="M298 1892l-10 14l42-69z"/><path style="--g:url(#q3x)" d="M478 1753l-10-97l42 156z"/><path style="--g:url(#q3y)" d="M767 1890l32 3l9 1z"/><path style="--g:url(#q3z)" d="M407 1872l32-175l10 122z"/><path style="--g:url(#q40)" d="M677 1891l32 3l9-14z"/><path style="--g:url(#q41)" d="M317 1911l32-123l10 97z"/><path style="--g:url(#q42)" d="M497 1614l32 130l10-46z"/><path style="--g:url(#q43)" d="M587 1828l32 29l9 25z"/><path class="k0" d="M667 1867l-10-2l42-11z"/><path style="--g:url(#q44)" d="M398 1870l-10-2l42-30z"/><path style="--g:url(#q45)" d="M308 1910l-10-18l42-75z"/><path style="--g:url(#q46)" d="M577 1706l-9 183l41-53z"/><path style="--g:url(#q47)" d="M487 1797l-9-44l41 61z"/><path style="--g:url(#q48)" d="M776 1907l32-13l10-36z"/><path style="--g:url(#q49)" d="M686 1871l32 9l10 2z"/><path style="--g:url(#q4a)" d="M417 1802l32 17l9-118z"/><path style="--g:url(#q4b)" d="M327 1913l32-28l10-21z"/><path style="--g:url(#q4c)" d="M507 1711l32-13l9 92z"/><path style="--g:url(#q4d)" d="M597 1830l32 52l9-21z"/><path style="--g:url(#q4e)" d="M677 1891l-10-24l42 27z"/><path style="--g:url(#q4f)" d="M767 1890l-10 14l42-11z"/><path style="--g:url(#q4g)" d="M407 1872l-9-2l41-173z"/><path style="--g:url(#q4h)" d="M587 1828l-10-122l42 151z"/><path style="--g:url(#q4i)" d="M317 1911l-9-1l41-122z"/><path style="--g:url(#q4j)" d="M497 1614l-10 183l42-53z"/><path class="k2" d="M427 1857l31-156l10-45z"/><path style="--g:url(#q4k)" d="M337 1900l32-36l9 25z"/><path style="--g:url(#q4l)" d="M786 1909l32-51l10 40z"/><path style="--g:url(#q4m)" d="M696 1895l32-13l10 18z"/><path style="--g:url(#q4n)" d="M516 1761l32 29l10-88z"/><path style="--g:url(#q4o)" d="M606 1874l32-13l10-40z"/><path style="--g:url(#q4p)" d="M686 1871l-9 20l41-11z"/><path style="--g:url(#q4q)" d="M417 1802l-10 70l42-53z"/><path style="--g:url(#q4r)" d="M776 1907l-9-17l41 4z"/><path style="--g:url(#q4s)" d="M597 1830l-10-2l42 54z"/><path style="--g:url(#q4t)" d="M327 1913l-10-2l42-26z"/><path style="--g:url(#q4u)" d="M507 1711l-10-97l42 84z"/><path style="--g:url(#q4v)" d="M706 1874l32 26l9 2z"/><path style="--g:url(#q4w)" d="M436 1878l32-222l10 97z"/><path style="--g:url(#q4x)" d="M346 1902l32-13l10-21z"/><path style="--g:url(#q4y)" d="M256 1919l32-13l10-14z"/><path style="--g:url(#q4z)" d="M526 1763l32-61l10 187z"/><path style="--g:url(#q50)" d="M616 1834l32-13l9 44z"/><path style="--g:url(#q51)" d="M696 1895l-10-24l42 11z"/><path style="--g:url(#q52)" d="M786 1909l-10-2l42-49z"/><path style="--g:url(#q53)" d="M427 1857l-10-55l41-101z"/><path style="--g:url(#q54)" d="M337 1900l-10 13l42-49z"/><path style="--g:url(#q55)" d="M606 1874l-9-44l41 31z"/><path style="--g:url(#q56)" d="M516 1761l-9-50l41 79z"/><path style="--g:url(#q57)" d="M446 1918l32-165l9 44z"/><path style="--g:url(#q58)" d="M715 1876l32 26l10 2z"/><path style="--g:url(#q59)" d="M356 1919l32-51l10 2z"/><path style="--g:url(#q5a)" d="M536 1806l32 83l9-183z"/><path style="--g:url(#q5b)" d="M266 1921l32-29l10 18z"/><path style="--g:url(#q5c)" d="M626 1805l31 60l10 2z"/><path style="--g:url(#q5d)" d="M706 1874l-10 21l42 5z"/><path style="--g:url(#q5e)" d="M436 1878l-9-21l41-201z"/><path style="--g:url(#q5f)" d="M616 1834l-10 40l42-53z"/><path class="k3" d="M346 1902l-9-2l41-11z"/><path style="--g:url(#q5g)" d="M526 1763l-10-2l42-59z"/><path style="--g:url(#q5h)" d="M455 1863l32-66l10-183z"/><path style="--g:url(#q5i)" d="M725 1916l32-12l10-14z"/><path style="--g:url(#q5j)" d="M366 1921l32-51l9 2z"/><path style="--g:url(#q5k)" d="M545 1719l32-13l10 122z"/><path style="--g:url(#q5l)" d="M635 1880l32-13l10 24z"/><path style="--g:url(#q5m)" d="M715 1876l-9-2l41 28z"/><path style="--g:url(#q5n)" d="M266 1921l-10-2l42-27z"/><path style="--g:url(#q5o)" d="M446 1918l-10-40l42-125z"/><path style="--g:url(#q5p)" d="M356 1919l-10-17l42-34z"/><path style="--g:url(#q5q)" d="M626 1805l-10 29l41 31z"/><path style="--g:url(#q5r)" d="M536 1806l-10-43l42 126z"/><path style="--g:url(#q5s)" d="M735 1861l32 29l9 17z"/><path style="--g:url(#q5t)" d="M465 1812l32-198l10 97z"/><path style="--g:url(#q5u)" d="M375 1923l32-51l10-70z"/><path class="k4" d="M555 1841l32-13l10 2z"/><path style="--g:url(#q5v)" d="M645 1904l32-13l9-20z"/><path style="--g:url(#q5w)" d="M725 1916l-10-40l42 28z"/><path style="--g:url(#q5x)" d="M455 1863l-9 55l41-121z"/><path style="--g:url(#q5y)" d="M635 1880l-9-75l41 62z"/><path style="--g:url(#q5z)" d="M366 1921l-10-2l42-49z"/><path style="--g:url(#q60)" d="M545 1719l-9 87l41-100z"/><path style="--g:url(#q61)" d="M475 1814l32-103l9 50z"/><path style="--g:url(#q62)" d="M385 1925l32-123l10 55z"/><path style="--g:url(#q63)" d="M565 1812l32 18l9 44z"/><path style="--g:url(#q64)" d="M295 1926l32-13l10-13z"/><path style="--g:url(#q65)" d="M654 1811l32 60l10 24z"/><path style="--g:url(#q66)" d="M735 1861l-10 55l42-26z"/><path style="--g:url(#q67)" d="M465 1812l-10 51l42-249z"/><path style="--g:url(#q68)" d="M375 1923l-9-2l41-49z"/><path style="--g:url(#q69)" d="M555 1841l-10-122l42 109z"/><path style="--g:url(#q6a)" d="M645 1904l-10-24l42 11z"/><path style="--g:url(#q6b)" d="M754 1907l32 2l10 2z"/><path style="--g:url(#q6c)" d="M484 1888l32-127l10 2z"/><path style="--g:url(#q6d)" d="M395 1927l32-70l9 21z"/><path style="--g:url(#q6e)" d="M305 1928l32-28l9 2z"/><path style="--g:url(#q6f)" d="M574 1725l32 149l10-40z"/><path style="--g:url(#q6g)" d="M664 1844l32 51l10-21z"/><path style="--g:url(#q6h)" d="M744 1920l-9-59l41 46z"/><path style="--g:url(#q6i)" d="M475 1814l-10-2l42-101z"/><path style="--g:url(#q6j)" d="M385 1925l-10-2l42-121z"/><path style="--g:url(#q6k)" d="M654 1811l-9 93l41-33z"/><path style="--g:url(#q6l)" d="M565 1812l-10 29l42-11z"/><path style="--g:url(#q6m)" d="M494 1728l32 35l10 43z"/><path style="--g:url(#q6n)" d="M764 1909l32 2l9 2z"/><path style="--g:url(#q6o)" d="M404 1929l32-51l10 40z"/><path style="--g:url(#q6p)" d="M584 1774l32 60l10-29z"/><path style="--g:url(#q6q)" d="M314 1930l32-28l10 17z"/><path style="--g:url(#q6r)" d="M674 1846l32 28l9 2z"/><path style="--g:url(#q6s)" d="M754 1907l-10 13l42-11z"/><path style="--g:url(#q6t)" d="M305 1928l-10-2l42-26z"/><path style="--g:url(#q6u)" d="M484 1888l-9-74l41-53z"/><path style="--g:url(#q6v)" d="M664 1844l-10-33l42 84z"/><path style="--g:url(#q6w)" d="M395 1927l-10-2l42-68z"/><path style="--g:url(#q6x)" d="M574 1725l-9 87l41 62z"/><path style="--g:url(#q6y)" d="M504 1850l32-44l9-87z"/><path style="--g:url(#q6z)" d="M773 1911l32 2l10 2z"/><path style="--g:url(#q70)" d="M414 1931l32-13l9-55z"/><path style="--g:url(#q71)" d="M594 1849l32-44l9 75z"/><path style="--g:url(#q72)" d="M683 1912l32-36l10 40z"/><path style="--g:url(#q73)" d="M764 1909l-10-2l42 4z"/><path style="--g:url(#q74)" d="M314 1930l-9-2l41-26z"/><path style="--g:url(#q75)" d="M494 1728l-10 160l42-125z"/><path style="--g:url(#q76)" d="M404 1929l-9-2l41-49z"/><path style="--g:url(#q77)" d="M674 1846l-10-2l42 30z"/><path style="--g:url(#q78)" d="M584 1774l-10-49l42 109z"/><path style="--g:url(#q79)" d="M513 1875l32-156l10 122z"/><path style="--g:url(#q7a)" d="M424 1933l31-70l10-51z"/><path style="--g:url(#q7b)" d="M603 1893l32-13l10 24z"/><path style="--g:url(#q7c)" d="M693 1929l32-13l10-55z"/><path style="--g:url(#q7d)" d="M773 1911l-9-2l41 4z"/><path style="--g:url(#q7e)" d="M504 1850l-10-122l42 78z"/><path style="--g:url(#q7f)" d="M683 1912l-9-66l41 30z"/><path style="--g:url(#q7g)" d="M594 1849l-10-75l42 31z"/><path style="--g:url(#q7h)" d="M523 1781l32 60l10-29z"/><path style="--g:url(#q7i)" d="M433 1897l32-85l10 2z"/><path style="--g:url(#q7j)" d="M613 1780l32 124l9-93z"/><path style="--g:url(#q7k)" d="M703 1893l32-32l9 59z"/><path style="--g:url(#q7l)" d="M783 1928l-10-17l42 4z"/><path style="--g:url(#q7m)" d="M513 1875l-9-25l41-131z"/><path style="--g:url(#q7n)" d="M424 1933l-10-2l41-68z"/><path style="--g:url(#q7o)" d="M693 1929l-10-17l42 4z"/><path style="--g:url(#q7p)" d="M603 1893l-9-44l41 31z"/><path style="--g:url(#q7q)" d="M533 1856l32-44l9-87z"/><path style="--g:url(#q7r)" d="M443 1922l32-108l9 74z"/><path style="--g:url(#q7s)" d="M622 1855l32-44l10 33z"/><path style="--g:url(#q7t)" d="M712 1823l32 97l10-13z"/><path style="--g:url(#q7u)" d="M523 1781l-10 94l42-34z"/><path style="--g:url(#q7v)" d="M433 1897l-9 36l41-121z"/><path style="--g:url(#q7w)" d="M703 1893l-10 36l42-68z"/><path style="--g:url(#q7x)" d="M613 1780l-10 113l42 11z"/><path style="--g:url(#q7y)" d="M812 1919l32 2l9 2z"/><path style="--g:url(#q7z)" d="M542 1881l32-156l10 49z"/><path style="--g:url(#q80)" d="M452 1939l32-51l10-160z"/><path style="--g:url(#q81)" d="M632 1826l32 18l10 2z"/><path style="--g:url(#q82)" d="M722 1897l32 10l10 2z"/><path style="--g:url(#q83)" d="M533 1856l-10-75l42 31z"/><path style="--g:url(#q84)" d="M712 1823l-9 70l41 27z"/><path style="--g:url(#q85)" d="M622 1855l-9-75l41 31z"/><path style="--g:url(#q86)" d="M443 1922l-10-25l42-83z"/><path style="--g:url(#q87)" d="M552 1902l32-128l10 75z"/><path style="--g:url(#q88)" d="M462 1903l32-175l10 122z"/><path style="--g:url(#q89)" d="M642 1739l32 107l9 66z"/><path style="--g:url(#q8a)" d="M732 1937l32-28l9 2z"/><path style="--g:url(#q8b)" d="M812 1919l-10 13l42-11z"/><path style="--g:url(#q8c)" d="M542 1881l-9-25l41-131z"/><path style="--g:url(#q8d)" d="M452 1939l-9-17l41-34z"/><path style="--g:url(#q8e)" d="M722 1897l-10-74l42 84z"/><path style="--g:url(#q8f)" d="M632 1826l-10 29l42-11z"/><path style="--g:url(#q8g)" d="M562 1904l32-55l9 44z"/><path style="--g:url(#q8h)" d="M472 1928l32-78l9 25z"/><path style="--g:url(#q8i)" d="M651 1902l32 10l10 17z"/><path style="--g:url(#q8j)" d="M741 1901l32 10l10 17z"/><path style="--g:url(#q8k)" d="M822 1936l-10-17l41 4z"/><path style="--g:url(#q8l)" d="M552 1902l-10-21l42-107z"/><path style="--g:url(#q8m)" d="M462 1903l-10 36l42-211z"/><path style="--g:url(#q8n)" d="M732 1937l-10-40l42 12z"/><path style="--g:url(#q8o)" d="M642 1739l-10 87l42 20z"/><path style="--g:url(#q8p)" d="M481 1945l32-70l10-94z"/><path style="--g:url(#q8q)" d="M571 1906l32-13l10-113z"/><path style="--g:url(#q8r)" d="M392 1946l32-13l9-36z"/><path style="--g:url(#q8s)" d="M661 1832l32 97l10-36z"/><path style="--g:url(#q8t)" d="M751 1903l32 25l10 2z"/><path style="--g:url(#q8u)" d="M562 1904l-10-2l42-53z"/><path style="--g:url(#q8v)" d="M472 1928l-10-25l42-53z"/><path style="--g:url(#q8w)" d="M741 1901l-9 36l41-26z"/><path style="--g:url(#q8x)" d="M651 1902l-9-163l41 173z"/><path style="--g:url(#q8y)" d="M581 1907l32-127l10 75z"/><path style="--g:url(#q8z)" d="M491 1932l32-151l10 75z"/><path style="--g:url(#q90)" d="M401 1948l32-51l10 25z"/><path style="--g:url(#q91)" d="M671 1906l32-13l9-70z"/><path style="--g:url(#q92)" d="M761 1905l32 25l9 2z"/><path class="k0" d="M571 1906l-9-2l41-11z"/><path style="--g:url(#q93)" d="M481 1945l-9-17l41-53z"/><path style="--g:url(#q94)" d="M751 1903l-10-2l42 27z"/><path style="--g:url(#q95)" d="M661 1832l-10 70l42 27z"/><path style="--g:url(#q96)" d="M591 1909l32-54l9-29z"/><path style="--g:url(#q97)" d="M501 1933l32-77l9 25z"/><path style="--g:url(#q98)" d="M411 1950l32-28l9 17z"/><path style="--g:url(#q99)" d="M680 1908l32-85l10 74z"/><path style="--g:url(#q9a)" d="M770 1930l32 2l10-13z"/><path style="--g:url(#q9b)" d="M581 1907l-10-1l42-126z"/><path style="--g:url(#q9c)" d="M401 1948l-9-2l41-49z"/><path style="--g:url(#q9d)" d="M761 1905l-10-2l42 27z"/><path style="--g:url(#q9e)" d="M671 1906l-10-74l42 61z"/><path style="--g:url(#q9f)" d="M491 1932l-10 13l42-164z"/><path style="--g:url(#q9g)" d="M600 1911l32-85l10-87z"/><path style="--g:url(#q9h)" d="M510 1935l32-54l10 21z"/><path style="--g:url(#q9i)" d="M420 1952l32-13l10-36z"/><path style="--g:url(#q9j)" d="M690 1838l32 59l10 40z"/><path style="--g:url(#q9k)" d="M780 1947l32-28l10 17z"/><path style="--g:url(#q9l)" d="M411 1950l-10-2l42-26z"/><path style="--g:url(#q9m)" d="M591 1909l-10-2l42-52z"/><path style="--g:url(#q9n)" d="M770 1930l-9-25l41 27z"/><path style="--g:url(#q9o)" d="M501 1933l-10-1l42-76z"/><path style="--g:url(#q9p)" d="M680 1908l-9-2l41-83z"/><path style="--g:url(#q9q)" d="M610 1913l32-174l9 163z"/><path style="--g:url(#q9r)" d="M520 1937l32-35l10 2z"/><path style="--g:url(#q9s)" d="M430 1954l32-51l10 25z"/><path style="--g:url(#q9t)" d="M700 1840l32 97l9-36z"/><path style="--g:url(#q9u)" d="M600 1911l-9-2l41-83z"/><path style="--g:url(#q9v)" d="M780 1947l-10-17l42-11z"/><path style="--g:url(#q9w)" d="M510 1935l-9-2l41-52z"/><path style="--g:url(#q9x)" d="M690 1838l-10 70l42-11z"/><path style="--g:url(#q9y)" d="M620 1915l31-13l10-70z"/><path style="--g:url(#q9z)" d="M530 1939l32-35l9 2z"/><path style="--g:url(#qa0)" d="M440 1956l32-28l9 17z"/><path class="k0" d="M709 1914l32-13l10 2z"/><path style="--g:url(#qa1)" d="M430 1954l-9-2l41-49z"/><path style="--g:url(#qa2)" d="M610 1913l-10-2l42-172z"/><path style="--g:url(#qa3)" d="M520 1937l-10-2l42-33z"/><path style="--g:url(#qa4)" d="M700 1840l-10-2l42 99z"/><path style="--g:url(#qa5)" d="M629 1917l32-85l10 74z"/><path style="--g:url(#qa6)" d="M539 1957l32-51l10 1z"/><path style="--g:url(#qa7)" d="M449 1958l32-13l10-13z"/><path class="k0" d="M719 1916l32-13l10 2z"/><path style="--g:url(#qa8)" d="M440 1956l-10-2l42-26z"/><path class="k0" d="M620 1915l-10-2l41-11z"/><path style="--g:url(#qa9)" d="M530 1939l-10-2l42-33z"/><path style="--g:url(#qaa)" d="M709 1914l-9-74l41 61z"/><path class="k0" d="M639 1919l32-13l9 2z"/><path style="--g:url(#qab)" d="M549 1959l32-52l10 2z"/><path style="--g:url(#qac)" d="M729 1918l32-13l9 25z"/><path style="--g:url(#qad)" d="M459 1960l32-28l10 1z"/><path style="--g:url(#qae)" d="M629 1917l-9-2l41-83z"/><path style="--g:url(#qaf)" d="M539 1957l-9-18l41-33z"/><path class="k0" d="M719 1916l-10-2l42-11z"/><path style="--g:url(#qag)" d="M648 1921l32-13l10-70z"/><path style="--g:url(#qah)" d="M559 1960l32-51l9 2z"/><path style="--g:url(#qai)" d="M738 1958l32-28l10 17z"/><path style="--g:url(#qaj)" d="M469 1962l32-29l9 2z"/><path style="--g:url(#qak)" d="M459 1960l-10-2l42-26z"/><path class="k0" d="M639 1919l-10-2l42-11z"/><path style="--g:url(#qal)" d="M549 1959l-10-2l42-50z"/><path class="k0" d="M729 1918l-10-2l42-11z"/><path style="--g:url(#qam)" d="M658 1809l32 29l10 2z"/><path style="--g:url(#qan)" d="M568 1947l32-36l10 2z"/><path style="--g:url(#qao)" d="M748 1922l32 25l10 2z"/><path style="--g:url(#qap)" d="M478 1964l32-29l10 2z"/><path style="--g:url(#qaq)" d="M469 1962l-10-2l42-27z"/><path class="k0" d="M648 1921l-9-2l41-11z"/><path style="--g:url(#qar)" d="M559 1960l-10-1l42-50z"/><path style="--g:url(#qas)" d="M738 1958l-9-40l41 12z"/><path style="--g:url(#qat)" d="M668 1925l32-85l9 74z"/><path style="--g:url(#qau)" d="M578 1964l32-51l10 2z"/><path style="--g:url(#qav)" d="M488 1966l32-29l10 2z"/><path style="--g:url(#qaw)" d="M478 1964l-9-2l41-27z"/><path style="--g:url(#qax)" d="M658 1809l-10 112l42-83z"/><path style="--g:url(#qay)" d="M568 1947l-9 13l41-49z"/><path style="--g:url(#qaz)" d="M748 1922l-10 36l42-11z"/><path class="k0" d="M677 1927l32-13l10 2z"/><path style="--g:url(#qb0)" d="M588 1966l32-51l9 2z"/><path style="--g:url(#qb1)" d="M498 1968l32-29l9 18z"/><path style="--g:url(#qb2)" d="M488 1966l-10-2l42-27z"/><path style="--g:url(#qb3)" d="M668 1925l-10-116l42 31z"/><path style="--g:url(#qb4)" d="M578 1964l-10-17l42-34z"/><path style="--g:url(#qb5)" d="M758 1962l-10-40l42 27z"/><path style="--g:url(#qb6)" d="M687 1952l32-36l10 2z"/><path style="--g:url(#qb7)" d="M597 1968l32-51l10 2z"/><path style="--g:url(#qb8)" d="M498 1968l-10-2l42-27z"/><path class="k0" d="M677 1927l-9-2l41-11z"/><path style="--g:url(#qb9)" d="M588 1966l-10-2l42-49z"/><path style="--g:url(#qba)" d="M697 1969l32-51l9 40z"/><path class="k0" d="M607 1932l32-13l9 2z"/><path style="--g:url(#qbb)" d="M687 1952l-10-25l42-11z"/><path style="--g:url(#qbc)" d="M597 1968l-9-2l41-49z"/><path style="--g:url(#qbd)" d="M706 1914l32 44l10-36z"/><path style="--g:url(#qbe)" d="M617 1972l31-51l10-112z"/><path style="--g:url(#qbf)" d="M527 1973l32-13l9-13z"/><path style="--g:url(#qbg)" d="M697 1969l-10-17l42-34z"/><path style="--g:url(#qbh)" d="M607 1932l-10 36l42-49z"/><path style="--g:url(#qbi)" d="M716 1973l32-51l10 40z"/><path style="--g:url(#qbj)" d="M626 1974l32-165l10 116z"/><path style="--g:url(#qbk)" d="M536 1975l32-28l10 17z"/><path style="--g:url(#qbl)" d="M706 1914l-9 55l41-11z"/><path style="--g:url(#qbm)" d="M617 1972l-10-40l41-11z"/><path class="k0" d="M636 1938l32-13l9 2z"/><path style="--g:url(#qbn)" d="M536 1975l-9-2l41-26z"/><path style="--g:url(#qbo)" d="M716 1973l-10-59l42 8z"/><path style="--g:url(#qbp)" d="M626 1974l-9-2l41-163z"/><path style="--g:url(#qbq)" d="M645 1978l32-51l10 25z"/><path style="--g:url(#qbr)" d="M636 1938l-10 36l42-49z"/><path style="--g:url(#qbs)" d="M655 1980l32-28l10 17z"/><path style="--g:url(#qbt)" d="M565 1981l32-13l10-36z"/><path style="--g:url(#qbu)" d="M645 1978l-9-40l41-11z"/><path style="--g:url(#qbv)" d="M665 1982l32-13l9-55z"/><path style="--g:url(#qbw)" d="M575 1983l32-51l10 40z"/><path style="--g:url(#qbx)" d="M655 1980l-10-2l42-26z"/><path style="--g:url(#qby)" d="M674 1946l32-32l10 59z"/><path style="--g:url(#qbz)" d="M585 1970l32 2l9 2z"/><path style="--g:url(#qc0)" d="M575 1983l-10-2l42-49z"/><path style="--g:url(#qc1)" d="M594 1987l32-13l10-36z"/><path style="--g:url(#qc2)" d="M585 1970l-10 13l42-11z"/><path style="--g:url(#qc3)" d="M674 1946l-9 36l41-68z"/><path style="--g:url(#qc4)" d="M604 1989l32-51l9 40z"/><path style="--g:url(#qc5)" d="M594 1987l-9-17l41 4z"/><path style="--g:url(#qc6)" d="M614 1976l31 2l10 2z"/><path style="--g:url(#qc7)" d="M604 1989l-10-2l42-49z"/><path style="--g:url(#qc8)" d="M623 1978l32 2l10 2z"/><path style="--g:url(#qc9)" d="M614 1976l-10 13l41-11z"/><path style="--g:url(#qca)" d="M633 1995l32-13l9-36z"/><path style="--g:url(#qcb)" d="M543 1996l32-13l10-13z"/><path style="--g:url(#qcc)" d="M623 1978l-9-2l41 4z"/><path style="--g:url(#qcd)" d="M553 1998l32-28l9 17z"/><path style="--g:url(#qce)" d="M633 1995l-10-17l42 4z"/><path style="--g:url(#qcf)" d="M553 1998l-10-2l42-26z"/><path style="--g:url(#qcg)" d="M572 2002l32-13l10-13z"/><path style="--g:url(#qch)" d="M582 2004l32-28l9 2z"/><path style="--g:url(#qci)" d="M591 2006l32-28l10 17z"/><path style="--g:url(#qcj)" d="M582 2004l-10-2l42-26z"/><path style="--g:url(#qck)" d="M591 2006l-9-2l41-26z"/></g>
<line x1="102.6" y1="725.8" x2="269.0" y2="681.8" stroke="#000" stroke-width="2.2"/>
<line x1="269.0" y1="681.8" x2="462.0" y2="721.0" stroke="#000" stroke-width="2.2"/>
<line x1="462.0" y1="721.0" x2="295.6" y2="765.0" stroke="#000" stroke-width="2.2"/>
<line x1="295.6" y1="765.0" x2="102.6" y2="725.8" stroke="#000" stroke-width="2.2"/>
<line x1="102.6" y1="963.8" x2="102.6" y2="725.8" stroke="#000" stroke-width="2.2"/>
<line x1="462.0" y1="959.0" x2="462.0" y2="721.0" stroke="#000" stroke-width="2.2"/>
<line x1="295.6" y1="1003.0" x2="295.6" y2="765.0" stroke="#000" stroke-width="2.2"/>
<line x1="102.6" y1="963.8" x2="295.6" y2="1003.0" stroke="#000" stroke-width="2.2"/>
<line x1="295.6" y1="1003.0" x2="462.0" y2="959.0" stroke="#000" stroke-width="2.2"/>
<line x1="98.6" y1="963.8" x2="102.6" y2="963.8" stroke="#000" stroke-width="1.8"/>
<text x="89.6" y="971.4" font-size="27" text-anchor="end">0.00</text>
<line x1="98.6" y1="868.6" x2="102.6" y2="868.6" stroke="#000" stroke-width="1.8"/>
<text x="89.6" y="876.2" font-size="27" text-anchor="end">0.01</text>
<line x1="98.6" y1="773.4" x2="102.6" y2="773.4" stroke="#000" stroke-width="1.8"/>
<text x="89.6" y="781.0" font-size="27" text-anchor="end">0.02</text>
<text transform="translate(24.4,1019.7) rotate(-90)" font-size="33">Multiplicity per Si atom</text>
<line x1="126.7" y1="968.7" x2="126.7" y2="978.7" stroke="#000" stroke-width="1.8"/>
<text x="118.7" y="1010.2" font-size="27" text-anchor="middle">7</text>
<line x1="175.0" y1="978.5" x2="175.0" y2="988.5" stroke="#000" stroke-width="1.8"/>
<text x="167.0" y="1020.0" font-size="27" text-anchor="middle">6</text>
<line x1="223.2" y1="988.3" x2="223.2" y2="998.3" stroke="#000" stroke-width="1.8"/>
<text x="215.2" y="1029.8" font-size="27" text-anchor="middle">5</text>
<line x1="271.5" y1="998.1" x2="271.5" y2="1008.1" stroke="#000" stroke-width="1.8"/>
<text x="263.5" y="1039.6" font-size="27" text-anchor="middle">4</text>
<line x1="316.4" y1="997.5" x2="316.4" y2="1007.5" stroke="#000" stroke-width="1.8"/>
<text x="316.4" y="1038.5" font-size="27" text-anchor="middle">2.2</text>
<line x1="358.0" y1="986.5" x2="358.0" y2="996.5" stroke="#000" stroke-width="1.8"/>
<text x="358.0" y="1027.5" font-size="27" text-anchor="middle">2.4</text>
<line x1="399.6" y1="975.5" x2="399.6" y2="985.5" stroke="#000" stroke-width="1.8"/>
<text x="399.6" y="1016.5" font-size="27" text-anchor="middle">2.6</text>
<line x1="441.2" y1="964.5" x2="441.2" y2="974.5" stroke="#000" stroke-width="1.8"/>
<text x="441.2" y="1005.5" font-size="27" text-anchor="middle">2.8</text>
<text transform="translate(94.6,1046.8) rotate(11.48)" font-size="32.5">Death <tspan font-style="italic">d</tspan><tspan font-style="italic" font-size="22" dy="7">j</tspan><tspan dy="-7" font-style="italic"> (Å</tspan><tspan font-size="22" dy="-12">2</tspan><tspan dy="12">)</tspan></text>
<text transform="translate(319.6,1085.0) rotate(-14.81)" font-size="33">Birth b<tspan font-size="22" dy="7">i</tspan><tspan dy="-7"> (Å</tspan><tspan font-size="22" dy="-12">2</tspan><tspan dy="12">)</tspan></text>
<text x="493.2" y="649.7" font-size="45.5" font-weight="bold">F</text>
<line x1="756.4" y1="914.4" x2="756.4" y2="676.4" stroke="#000" stroke-width="2.2"/>
<line x1="589.6" y1="960.8" x2="756.4" y2="914.4" stroke="#000" stroke-width="2.2"/>
<line x1="756.4" y1="914.4" x2="949.0" y2="953.8" stroke="#000" stroke-width="2.2"/>
<g class="srf" transform="scale(.5)"><path fill="#fff" d="M1564 2000l-385-78l334-93l385 79z"/><path style="--g:url(#qcl)" d="M1567 1860l32-13l10-14z"/><path style="--g:url(#qcm)" d="M1577 1862l32-29l10 17z"/><path style="--g:url(#qcn)" d="M1577 1862l-10-2l42-27z"/><path style="--g:url(#qco)" d="M1436 1858l32 2l10 2z"/><path style="--g:url(#qcp)" d="M1436 1858l-10 13l42-11z"/><path style="--g:url(#qcq)" d="M1545 1860l32 2l10 2z"/><path style="--g:url(#qcr)" d="M1445 1875l-9-17l42 4z"/><path style="--g:url(#qcs)" d="M1465 1864l32 2l9 2z"/><path style="--g:url(#qct)" d="M1545 1860l-10 14l42-12z"/><path style="--g:url(#qcu)" d="M1654 1878l32-14l10-13z"/><path style="--g:url(#qcv)" d="M1564 1864l32 2l10 2z"/><path style="--g:url(#qcw)" d="M1385 1845l32 25l9 1z"/><path style="--g:url(#qcx)" d="M1474 1866l32 2l10 2z"/><path style="--g:url(#qcy)" d="M1555 1878l-10-18l42 4z"/><path style="--g:url(#qcz)" d="M1465 1864l-10 13l42-11z"/><path style="--g:url(#qd0)" d="M1664 1880l32-29l9 17z"/><path style="--g:url(#qd1)" d="M1394 1885l32-14l10-13z"/><path style="--g:url(#qd2)" d="M1484 1845l32 25l10 2z"/><path style="--g:url(#qd3)" d="M1564 1864l-9 14l41-12z"/><path style="--g:url(#qd4)" d="M1474 1866l-9-2l41 4z"/><path style="--g:url(#qd5)" d="M1385 1845l-10 36l42-11z"/><path style="--g:url(#qd6)" d="M1404 1887l32-29l9 17z"/><path style="--g:url(#qd7)" d="M1494 1870l32 2l9 2z"/><path style="--g:url(#qd8)" d="M1574 1882l-10-18l42 4z"/><path style="--g:url(#qd9)" d="M1664 1880l-10-2l42-27z"/><path style="--g:url(#qda)" d="M1484 1845l-10 21l42 4z"/><path style="--g:url(#qdb)" d="M1394 1885l-9-40l41 26z"/><path style="--g:url(#qdc)" d="M1683 1884l32-14l10-13z"/><path style="--g:url(#qdd)" d="M1324 1876l32 1l9 2z"/><path style="--g:url(#qde)" d="M1503 1887l32-13l10-14z"/><path style="--g:url(#qdf)" d="M1314 1889l-10-17l42 3z"/><path style="--g:url(#qdg)" d="M1494 1870l-10-25l42 27z"/><path style="--g:url(#qdh)" d="M1404 1887l-10-2l42-27z"/><path style="--g:url(#qdi)" d="M1693 1886l32-29l9 17z"/><path style="--g:url(#qdj)" d="M1333 1877l32 2l10 2z"/><path style="--g:url(#qdk)" d="M1603 1849l32 25l9 2z"/><path style="--g:url(#qdl)" d="M1423 1876l32 1l10-13z"/><path style="--g:url(#qdm)" d="M1513 1889l32-29l10 18z"/><path style="--g:url(#qdn)" d="M1324 1876l-10 13l42-12z"/><path style="--g:url(#qdo)" d="M1503 1887l-9-17l41 4z"/><path style="--g:url(#qdp)" d="M1612 1851l32 25l10 2z"/><path style="--g:url(#qdq)" d="M1343 1895l32-14l10-36z"/><path style="--g:url(#qdr)" d="M1433 1855l32 9l9 2z"/><path style="--g:url(#qds)" d="M1523 1853l32 25l9-14z"/><path style="--g:url(#qdt)" d="M1603 1849l-10 36l42-11z"/><path style="--g:url(#qdu)" d="M1693 1886l-10-2l42-27z"/><path style="--g:url(#qdv)" d="M1333 1877l-9-1l41 3z"/><path style="--g:url(#qdw)" d="M1513 1889l-10-2l42-27z"/><path style="--g:url(#qdx)" d="M1423 1876l-10 13l42-12z"/><path style="--g:url(#qdy)" d="M1352 1881l33-36l9 40z"/><path style="--g:url(#qdz)" d="M1622 1876l32 2l10 2z"/><path style="--g:url(#qe0)" d="M1712 1852l32 24l10 2z"/><path style="--g:url(#qe1)" d="M1442 1857l32 9l10-21z"/><path style="--g:url(#qe2)" d="M1532 1855l32 9l10 18z"/><path style="--g:url(#qe3)" d="M1612 1851l-9-2l41 27z"/><path style="--g:url(#qe4)" d="M1343 1895l-10-18l42 4z"/><path style="--g:url(#qe5)" d="M1523 1853l-10 36l42-11z"/><path style="--g:url(#qe6)" d="M1433 1855l-10 21l42-12z"/><path style="--g:url(#qe7)" d="M1721 1892l33-14l9-13z"/><path style="--g:url(#qe8)" d="M1362 1883l32 2l10 2z"/><path style="--g:url(#qe9)" d="M1272 1900l32-28l10 17z"/><path style="--g:url(#qea)" d="M1452 1882l32-37l10 25z"/><path style="--g:url(#qeb)" d="M1622 1876l-10-25l42 27z"/><path style="--g:url(#qec)" d="M1712 1852l-10 36l42-12z"/><path style="--g:url(#qed)" d="M1352 1881l-9 14l42-50z"/><path style="--g:url(#qee)" d="M1532 1855l-9-2l41 11z"/><path style="--g:url(#qef)" d="M1442 1857l-9-2l41 11z"/><path style="--g:url(#qeg)" d="M1731 1894l32-29l10 17z"/><path style="--g:url(#qeh)" d="M1372 1790l32 97l9 2z"/><path style="--g:url(#qei)" d="M1641 1880l32 2l10 2z"/><path style="--g:url(#qej)" d="M1282 1902l32-13l10-13z"/><path style="--g:url(#qek)" d="M1462 1861l32 9l9 17z"/><path style="--g:url(#qel)" d="M1551 1859l32 25l10 1z"/><path style="--g:url(#qem)" d="M1632 1893l-10-17l42 4z"/><path style="--g:url(#qen)" d="M1721 1892l-9-40l42 26z"/><path style="--g:url(#qeo)" d="M1362 1883l-10-2l42 4z"/><path style="--g:url(#qep)" d="M1542 1895l-10-40l42 27z"/><path style="--g:url(#qeq)" d="M1272 1900l-9-17l41-11z"/><path style="--g:url(#qer)" d="M1452 1882l-10-25l42-12z"/><path style="--g:url(#qes)" d="M1381 1845l32 44l10-13z"/><path style="--g:url(#qet)" d="M1651 1859l32 25l10 2z"/><path style="--g:url(#qeu)" d="M1291 1904l33-28l9 1z"/><path style="--g:url(#qev)" d="M1471 1790l32 97l10 2z"/><path style="--g:url(#qew)" d="M1561 1842l32 43l10-36z"/><path style="--g:url(#qex)" d="M1641 1880l-9 13l41-11z"/><path style="--g:url(#qey)" d="M1372 1790l-10 93l42 4z"/><path style="--g:url(#qez)" d="M1731 1894l-10-2l42-27z"/><path style="--g:url(#qf0)" d="M1551 1859l-9 36l41-11z"/><path style="--g:url(#qf1)" d="M1462 1861l-10 21l42-12z"/><path style="--g:url(#qf2)" d="M1661 1861l32 25l9 2z"/><path style="--g:url(#qf3)" d="M1391 1847l32 29l10-21z"/><path style="--g:url(#qf4)" d="M1301 1906l32-29l10 18z"/><path style="--g:url(#qf5)" d="M1481 1750l32 139l10-36z"/><path class="k5" d="M1571 1844l32 5l9 2z"/><path style="--g:url(#qf6)" d="M1651 1859l-10 21l42 4z"/><path style="--g:url(#qf7)" d="M1381 1845l-9-55l41 99z"/><path style="--g:url(#qf8)" d="M1561 1842l-10 17l42 26z"/><path style="--g:url(#qf9)" d="M1291 1904l-9-2l42-26z"/><path style="--g:url(#qfa)" d="M1471 1790l-9 71l41 26z"/><path style="--g:url(#qfb)" d="M1401 1906l32-51l9 2z"/><path style="--g:url(#qfc)" d="M1311 1893l32 2l9-14z"/><path style="--g:url(#qfd)" d="M1670 1886l32 2l10-36z"/><path style="--g:url(#qfe)" d="M1490 1825l33 28l9 2z"/><path style="--g:url(#qff)" d="M1580 1846l32 5l10 25z"/><path style="--g:url(#qfg)" d="M1661 1861l-10-2l42 27z"/><path style="--g:url(#qfh)" d="M1391 1847l-10-2l42 31z"/><path class="k5" d="M1571 1844l-10-2l42 7z"/><path style="--g:url(#qfi)" d="M1301 1906l-10-2l42-27z"/><path style="--g:url(#qfj)" d="M1481 1750l-10 40l42 99z"/><path style="--g:url(#qfk)" d="M1680 1846l32 6l9 40z"/><path style="--g:url(#qfl)" d="M1410 1756l32 101l10 25z"/><path class="k3" d="M1320 1895l32-14l10 2z"/><path style="--g:url(#qfm)" d="M1231 1912l32-29l9 17z"/><path style="--g:url(#qfn)" d="M1500 1707l32 148l10 40z"/><path style="--g:url(#qfo)" d="M1590 1753l32 123l10 17z"/><path style="--g:url(#qfp)" d="M1670 1886l-9-25l41 27z"/><path style="--g:url(#qfq)" d="M1401 1906l-10-59l42 8z"/><path style="--g:url(#qfr)" d="M1311 1893l-10 13l42-11z"/><path class="k5" d="M1580 1846l-9-2l41 7z"/><path style="--g:url(#qfs)" d="M1490 1825l-9-75l42 103z"/><path style="--g:url(#qft)" d="M1779 1888l32 2l10 2z"/><path style="--g:url(#qfu)" d="M1420 1830l32 52l10-21z"/><path style="--g:url(#qfv)" d="M1330 1874l32 9l10-93z"/><path style="--g:url(#qfw)" d="M1510 1709l32 186l9-36z"/><path style="--g:url(#qfx)" d="M1600 1827l32 66l9-13z"/><path style="--g:url(#qfy)" d="M1680 1846l-10 40l42-34z"/><path style="--g:url(#qfz)" d="M1231 1912l-10-2l42-27z"/><path style="--g:url(#qg0)" d="M1410 1756l-9 150l41-49z"/><path style="--g:url(#qg1)" d="M1590 1753l-10 93l42 30z"/><path class="k3" d="M1320 1895l-9-2l41-12z"/><path style="--g:url(#qg2)" d="M1500 1707l-10 118l42 30z"/><path style="--g:url(#qg3)" d="M1429 1802l33 59l9-71z"/><path style="--g:url(#qg4)" d="M1699 1869l32 25l10 2z"/><path style="--g:url(#qg5)" d="M1340 1857l32-67l9 55z"/><path style="--g:url(#qg6)" d="M1519 1711l32 148l10-17z"/><path style="--g:url(#qg7)" d="M1609 1894l32-14l10-21z"/><path style="--g:url(#qg8)" d="M1689 1905l-9-59l41 46z"/><path style="--g:url(#qg9)" d="M1420 1830l-10-74l42 126z"/><path style="--g:url(#qga)" d="M1779 1888l-9 13l41-11z"/><path style="--g:url(#qgb)" d="M1330 1874l-10 21l42-12z"/><path style="--g:url(#qgc)" d="M1600 1827l-10-74l42 140z"/><path style="--g:url(#qgd)" d="M1510 1709l-10-2l42 188z"/><path style="--g:url(#qge)" d="M1799 1907l32-13l9-13z"/><path style="--g:url(#qgf)" d="M1709 1894l32 2l9 2z"/><path style="--g:url(#qgg)" d="M1439 1714l32 76l10-40z"/><path class="k6" d="M1349 1859l32-14l10 2z"/><path style="--g:url(#qgh)" d="M1529 1713l32 129l10 2z"/><path class="k0" d="M1619 1873l32-14l10 2z"/><path style="--g:url(#qgi)" d="M1699 1869l-10 36l42-11z"/><path style="--g:url(#qgj)" d="M1789 1905l-10-17l42 4z"/><path style="--g:url(#qgk)" d="M1429 1802l-9 28l42 31z"/><path style="--g:url(#qgl)" d="M1609 1894l-9-67l41 53z"/><path style="--g:url(#qgm)" d="M1340 1857l-10 17l42-84z"/><path style="--g:url(#qgn)" d="M1519 1711l-9-2l41 150z"/><path style="--g:url(#qgo)" d="M1449 1716l32 34l9 75z"/><path style="--g:url(#qgp)" d="M1359 1808l32 39l10 59z"/><path style="--g:url(#qgq)" d="M1808 1909l32-28l10 2z"/><path style="--g:url(#qgr)" d="M1539 1762l32 82l9 2z"/><path style="--g:url(#qgs)" d="M1269 1920l32-14l10-13z"/><path style="--g:url(#qgt)" d="M1628 1802l33 59l9 25z"/><path style="--g:url(#qgu)" d="M1709 1894l-10-25l42 27z"/><path style="--g:url(#qgv)" d="M1439 1714l-10 88l42-12z"/><path class="k6" d="M1349 1859l-9-2l41-12z"/><path style="--g:url(#qgw)" d="M1529 1713l-10-2l42 131z"/><path style="--g:url(#qgx)" d="M1619 1873l-10 21l42-35z"/><path style="--g:url(#qgy)" d="M1818 1911l32-28l9 17z"/><path style="--g:url(#qgz)" d="M1728 1875l32 24l10 2z"/><path style="--g:url(#qh0)" d="M1458 1576l32 249l10-118z"/><path style="--g:url(#qh1)" d="M1369 1810l32 96l9-150z"/><path style="--g:url(#qh2)" d="M1279 1922l32-29l9 2z"/><path style="--g:url(#qh3)" d="M1548 1859l32-13l10-93z"/><path style="--g:url(#qh4)" d="M1638 1835l32 51l10-40z"/><path style="--g:url(#qh5)" d="M1718 1911l-9-17l41 4z"/><path style="--g:url(#qh6)" d="M1808 1909l-9-2l41-26z"/><path style="--g:url(#qh7)" d="M1449 1716l-10-2l42 36z"/><path style="--g:url(#qh8)" d="M1359 1808l-10 51l42-12z"/><path style="--g:url(#qh9)" d="M1628 1802l-9 71l42-12z"/><path style="--g:url(#qha)" d="M1539 1762l-10-49l42 131z"/><path style="--g:url(#qhb)" d="M1468 1673l32 34l10 2z"/><path style="--g:url(#qhc)" d="M1738 1915l32-14l9-13z"/><path style="--g:url(#qhd)" d="M1378 1842l32-86l10 74z"/><path style="--g:url(#qhe)" d="M1558 1719l32 34l10 74z"/><path style="--g:url(#qhf)" d="M1288 1924l32-29l10-21z"/><path style="--g:url(#qhg)" d="M1648 1717l32 129l9 59z"/><path style="--g:url(#qhh)" d="M1728 1875l-10 36l42-12z"/><path style="--g:url(#qhi)" d="M1818 1911l-10-2l42-26z"/><path style="--g:url(#qhj)" d="M1279 1922l-10-2l42-27z"/><path style="--g:url(#qhk)" d="M1458 1576l-9 140l41 109z"/><path style="--g:url(#qhl)" d="M1638 1835l-10-33l42 84z"/><path style="--g:url(#qhm)" d="M1369 1810l-10-2l42 98z"/><path style="--g:url(#qhn)" d="M1548 1859l-9-97l41 84z"/><path style="--g:url(#qho)" d="M1478 1842l32-133l9 2z"/><path style="--g:url(#qhp)" d="M1747 1917l32-29l10 17z"/><path style="--g:url(#qhq)" d="M1388 1867l32-37l9-28z"/><path style="--g:url(#qhr)" d="M1567 1721l33 106l9 67z"/><path style="--g:url(#qhs)" d="M1298 1926l32-52l10-17z"/><path style="--g:url(#qht)" d="M1657 1881l32 24l10-36z"/><path style="--g:url(#qhu)" d="M1738 1915l-10-40l42 26z"/><path style="--g:url(#qhv)" d="M1288 1924l-9-2l41-27z"/><path style="--g:url(#qhw)" d="M1468 1673l-10-97l42 131z"/><path style="--g:url(#qhx)" d="M1378 1842l-9-32l41-54z"/><path style="--g:url(#qhy)" d="M1648 1717l-10 118l42 11z"/><path style="--g:url(#qhz)" d="M1558 1719l-10 140l42-106z"/><path style="--g:url(#qi0)" d="M1847 1902l32 2l9 2z"/><path style="--g:url(#qi1)" d="M1487 1677l32 34l10 2z"/><path style="--g:url(#qi2)" d="M1757 1904l32 1l10 2z"/><path style="--g:url(#qi3)" d="M1397 1816l32-14l10-88z"/><path style="--g:url(#qi4)" d="M1308 1928l32-71l9 2z"/><path style="--g:url(#qi5)" d="M1577 1770l32 124l10-21z"/><path style="--g:url(#qi6)" d="M1667 1810l32 59l10 25z"/><path style="--g:url(#qi7)" d="M1747 1917l-9-2l41-27z"/><path style="--g:url(#qi8)" d="M1298 1926l-10-2l42-50z"/><path style="--g:url(#qi9)" d="M1478 1842l-10-169l42 36z"/><path style="--g:url(#qia)" d="M1388 1867l-10-25l42-12z"/><path style="--g:url(#qib)" d="M1657 1881l-9-164l41 188z"/><path style="--g:url(#qic)" d="M1567 1721l-9-2l42 108z"/><path style="--g:url(#qid)" d="M1497 1726l32-13l10 49z"/><path style="--g:url(#qie)" d="M1407 1818l32-104l10 2z"/><path style="--g:url(#qif)" d="M1856 1919l32-13l10-14z"/><path style="--g:url(#qig)" d="M1766 1864l33 43l9 2z"/><path style="--g:url(#qih)" d="M1317 1914l32-55l10-51z"/><path style="--g:url(#qii)" d="M1587 1677l32 196l9-71z"/><path style="--g:url(#qij)" d="M1677 1866l32 28l9 17z"/><path style="--g:url(#qik)" d="M1757 1904l-10 13l42-12z"/><path style="--g:url(#qil)" d="M1308 1928l-10-2l42-69z"/><path style="--g:url(#qim)" d="M1487 1677l-9 165l41-131z"/><path style="--g:url(#qin)" d="M1847 1902l-10 13l42-11z"/><path style="--g:url(#qio)" d="M1397 1816l-9 51l41-65z"/><path style="--g:url(#qip)" d="M1667 1810l-10 71l42-12z"/><path style="--g:url(#qiq)" d="M1577 1770l-10-49l42 173z"/><path style="--g:url(#qir)" d="M1507 1608l32 154l9 97z"/><path style="--g:url(#qis)" d="M1417 1873l32-157l9-140z"/><path style="--g:url(#qit)" d="M1327 1932l32-124l10 2z"/><path style="--g:url(#qiu)" d="M1596 1726l32 76l10 33z"/><path style="--g:url(#qiv)" d="M1686 1845l32 66l10-36z"/><path style="--g:url(#qiw)" d="M1766 1864l-9 40l42 3z"/><path style="--g:url(#qix)" d="M1317 1914l-9 14l41-69z"/><path style="--g:url(#qiy)" d="M1856 1919l-9-17l41 4z"/><path style="--g:url(#qiz)" d="M1497 1726l-10-49l42 36z"/><path style="--g:url(#qj0)" d="M1407 1818l-10-2l42-102z"/><path style="--g:url(#qj1)" d="M1677 1866l-10-56l42 84z"/><path style="--g:url(#qj2)" d="M1587 1677l-10 93l42 103z"/><path style="--g:url(#qj3)" d="M1786 1910l32 1l9 2z"/><path style="--g:url(#qj4)" d="M1516 1730l32 129l10-140z"/><path style="--g:url(#qj5)" d="M1426 1852l32-276l10 97z"/><path style="--g:url(#qj6)" d="M1336 1934l33-124l9 32z"/><path style="--g:url(#qj7)" d="M1606 1681l32 154l10-118z"/><path style="--g:url(#qj8)" d="M1696 1911l32-36l10 40z"/><path style="--g:url(#qj9)" d="M1776 1923l-10-59l42 45z"/><path style="--g:url(#qja)" d="M1327 1932l-10-18l42-106z"/><path style="--g:url(#qjb)" d="M1507 1608l-10 118l42 36z"/><path style="--g:url(#qjc)" d="M1686 1845l-9 21l41 45z"/><path style="--g:url(#qjd)" d="M1596 1726l-9-49l41 125z"/><path style="--g:url(#qje)" d="M1417 1873l-10-55l42-102z"/><path style="--g:url(#qjf)" d="M1795 1912l32 1l10 2z"/><path class="k7" d="M1526 1732l32-13l9 2z"/><path style="--g:url(#qjg)" d="M1436 1854l32-181l10 169z"/><path style="--g:url(#qjh)" d="M1346 1936l32-94l10 25z"/><path style="--g:url(#qji)" d="M1616 1820l32-103l9 164z"/><path style="--g:url(#qjj)" d="M1705 1891l33 24l9 2z"/><path style="--g:url(#qjk)" d="M1786 1910l-10 13l42-12z"/><path style="--g:url(#qjl)" d="M1336 1934l-9-2l42-122z"/><path style="--g:url(#qjm)" d="M1516 1730l-9-122l41 251z"/><path style="--g:url(#qjn)" d="M1426 1852l-9 21l41-297z"/><path style="--g:url(#qjo)" d="M1696 1911l-10-66l42 30z"/><path style="--g:url(#qjp)" d="M1606 1681l-10 45l42 109z"/><path style="--g:url(#qjq)" d="M1805 1914l32 1l10-13z"/><path style="--g:url(#qjr)" d="M1535 1734l32-13l10 49z"/><path style="--g:url(#qjs)" d="M1446 1825l32 17l9-165z"/><path style="--g:url(#qjt)" d="M1356 1938l32-71l9-51z"/><path style="--g:url(#qju)" d="M1625 1732l32 149l10-71z"/><path style="--g:url(#qjv)" d="M1715 1873l32 44l10-13z"/><path style="--g:url(#qjw)" d="M1795 1912l-9-2l41 3z"/><path style="--g:url(#qjx)" d="M1346 1936l-10-2l42-92z"/><path class="k7" d="M1526 1732l-10-2l42-11z"/><path style="--g:url(#qjy)" d="M1436 1854l-10-2l42-179z"/><path style="--g:url(#qjz)" d="M1705 1891l-9 20l42 4z"/><path style="--g:url(#qk0)" d="M1616 1820l-10-139l42 36z"/><path style="--g:url(#qk1)" d="M1455 1827l32-150l10 49z"/><path style="--g:url(#qk2)" d="M1545 1641l32 129l10-93z"/><path style="--g:url(#qk3)" d="M1815 1931l32-29l9 17z"/><path style="--g:url(#qk4)" d="M1365 1924l32-108l10 2z"/><path style="--g:url(#qk5)" d="M1635 1782l32 28l10 56z"/><path style="--g:url(#qk6)" d="M1276 1941l32-13l9-14z"/><path style="--g:url(#qk7)" d="M1725 1917l32-13l9-40z"/><path style="--g:url(#qk8)" d="M1805 1914l-10-2l42 3z"/><path style="--g:url(#qk9)" d="M1356 1938l-10-2l42-69z"/><path class="k7" d="M1535 1734l-9-2l41-11z"/><path style="--g:url(#qka)" d="M1446 1825l-10 29l42-12z"/><path style="--g:url(#qkb)" d="M1715 1873l-10 18l42 26z"/><path style="--g:url(#qkc)" d="M1625 1732l-9 88l41 61z"/><path style="--g:url(#qkd)" d="M1555 1738l32-61l9 49z"/><path style="--g:url(#qke)" d="M1465 1883l32-157l10-118z"/><path style="--g:url(#qkf)" d="M1375 1942l32-124l10 55z"/><path style="--g:url(#qkg)" d="M1645 1784l32 82l9-21z"/><path style="--g:url(#qkh)" d="M1734 1919l32-55l10 59z"/><path style="--g:url(#qki)" d="M1285 1943l32-29l10 18z"/><path style="--g:url(#qkj)" d="M1815 1931l-10-17l42-12z"/><path style="--g:url(#qkk)" d="M1365 1924l-9 14l41-122z"/><path style="--g:url(#qkl)" d="M1545 1641l-10 93l42 36z"/><path style="--g:url(#qkm)" d="M1455 1827l-9-2l41-148z"/><path style="--g:url(#qkn)" d="M1725 1917l-10-44l42 31z"/><path style="--g:url(#qko)" d="M1635 1782l-10-50l42 78z"/><path style="--g:url(#qkp)" d="M1564 1740l32-14l10-45z"/><path style="--g:url(#qkq)" d="M1474 1904l33-296l9 122z"/><path style="--g:url(#qkr)" d="M1385 1905l32-32l9-21z"/><path style="--g:url(#qks)" d="M1654 1786l32 59l10 66z"/><path style="--g:url(#qkt)" d="M1744 1921l32 2l10-13z"/><path style="--g:url(#qku)" d="M1555 1738l-10-97l42 36z"/><path style="--g:url(#qkv)" d="M1375 1942l-10-18l42-106z"/><path style="--g:url(#qkw)" d="M1734 1919l-9-2l41-53z"/><path style="--g:url(#qkx)" d="M1645 1784l-10-2l42 84z"/><path style="--g:url(#qky)" d="M1465 1883l-10-56l42-101z"/><path style="--g:url(#qkz)" d="M1285 1943l-9-2l41-27z"/><path style="--g:url(#ql0)" d="M1574 1832l32-151l10 139z"/><path style="--g:url(#ql1)" d="M1484 1864l32-134l10 2z"/><path style="--g:url(#ql2)" d="M1394 1945l32-93l10 2z"/><path style="--g:url(#ql3)" d="M1664 1902l32 9l9-20z"/><path class="k3" d="M1754 1923l32-13l9 2z"/><path style="--g:url(#ql4)" d="M1385 1905l-10 37l42-69z"/><path class="k7" d="M1564 1740l-9-2l41-12z"/><path style="--g:url(#ql5)" d="M1744 1921l-10-2l42 4z"/><path style="--g:url(#ql6)" d="M1474 1904l-9-21l42-275z"/><path style="--g:url(#ql7)" d="M1654 1786l-9-2l41 61z"/><path style="--g:url(#ql8)" d="M1584 1833l32-13l9-88z"/><path style="--g:url(#ql9)" d="M1494 1889l32-157l9 2z"/><path class="k1" d="M1404 1947l32-93l10-29z"/><path style="--g:url(#qla)" d="M1673 1904l32-13l10-18z"/><path style="--g:url(#qlb)" d="M1763 1940l32-28l10 2z"/><path style="--g:url(#qlc)" d="M1394 1945l-9-40l41-53z"/><path style="--g:url(#qld)" d="M1574 1832l-10-92l42-59z"/><path class="k3" d="M1754 1923l-10-2l42-11z"/><path class="k8" d="M1484 1864l-10 40l42-174z"/><path style="--g:url(#qle)" d="M1664 1902l-10-116l42 125z"/><path style="--g:url(#qlf)" d="M1593 1908l32-176l10 50z"/><path style="--g:url(#qlg)" d="M1503 1910l32-176l10-93z"/><path style="--g:url(#qlh)" d="M1414 1934l32-109l9 2z"/><path style="--g:url(#qli)" d="M1683 1906l32-33l10 44z"/><path style="--g:url(#qlj)" d="M1324 1951l32-13l9-14z"/><path style="--g:url(#qlk)" d="M1773 1942l32-28l10 17z"/><path style="--g:url(#qll)" d="M1404 1947l-10-2l42-91z"/><path class="k9" d="M1584 1833l-10-1l42-12z"/><path style="--g:url(#qlm)" d="M1763 1940l-9-17l41-11z"/><path style="--g:url(#qln)" d="M1494 1889l-10-25l42-132z"/><path class="k0" d="M1673 1904l-9-2l41-11z"/><path style="--g:url(#qlo)" d="M1603 1837l32-55l10 2z"/><path style="--g:url(#qlp)" d="M1513 1912l32-271l10 97z"/><path style="--g:url(#qlq)" d="M1423 1951l32-124l10 56z"/><path style="--g:url(#qlr)" d="M1693 1946l32-29l9 2z"/><path style="--g:url(#qls)" d="M1333 1953l32-29l10 18z"/><path style="--g:url(#qlt)" d="M1414 1934l-10 13l42-122z"/><path style="--g:url(#qlu)" d="M1593 1908l-9-75l41-101z"/><path style="--g:url(#qlv)" d="M1503 1910l-9-21l41-155z"/><path style="--g:url(#qlw)" d="M1773 1942l-10-2l42-26z"/><path style="--g:url(#qlx)" d="M1683 1906l-10-2l42-31z"/><path style="--g:url(#qly)" d="M1612 1912l33-128l9 2z"/><path style="--g:url(#qlz)" d="M1523 1914l32-176l9 2z"/><path style="--g:url(#qm0)" d="M1702 1948l32-29l10 2z"/><path style="--g:url(#qm1)" d="M1433 1938l32-55l9 21z"/><path style="--g:url(#qm2)" d="M1343 1955l32-13l10-37z"/><path style="--g:url(#qm3)" d="M1603 1837l-10 71l42-126z"/><path style="--g:url(#qm4)" d="M1423 1951l-9-17l41-107z"/><path style="--g:url(#qm5)" d="M1513 1912l-10-2l42-269z"/><path style="--g:url(#qm6)" d="M1693 1946l-10-40l42 11z"/><path style="--g:url(#qm7)" d="M1333 1953l-9-2l41-27z"/><path style="--g:url(#qm8)" d="M1622 1914l32-128l10 116z"/><path style="--g:url(#qm9)" d="M1532 1938l32-198l10 92z"/><path style="--g:url(#qma)" d="M1712 1912l32 9l10 2z"/><path style="--g:url(#qmb)" d="M1442 1955l32-51l10-40z"/><path style="--g:url(#qmc)" d="M1353 1957l32-52l9 40z"/><path style="--g:url(#qmd)" d="M1433 1938l-10 13l42-68z"/><path style="--g:url(#qme)" d="M1612 1912l-9-75l42-53z"/><path style="--g:url(#qmf)" d="M1523 1914l-10-2l42-174z"/><path style="--g:url(#qmg)" d="M1702 1948l-9-2l41-27z"/><path style="--g:url(#qmh)" d="M1632 1843l32 59l9 2z"/><path style="--g:url(#qmi)" d="M1542 1940l32-108l10 1z"/><path style="--g:url(#qmj)" d="M1722 1914l32 9l9 17z"/><path style="--g:url(#qmk)" d="M1452 1957l32-93l10 25z"/><path style="--g:url(#qml)" d="M1442 1955l-9-17l41-34z"/><path style="--g:url(#qmm)" d="M1622 1914l-10-2l42-126z"/><path style="--g:url(#qmn)" d="M1532 1938l-9-24l41-174z"/><path style="--g:url(#qmo)" d="M1712 1912l-10 36l42-27z"/><path style="--g:url(#qmp)" d="M1353 1957l-10-2l42-50z"/><path style="--g:url(#qmq)" d="M1641 1876l32 28l10 2z"/><path style="--g:url(#qmr)" d="M1552 1942l32-109l9 75z"/><path style="--g:url(#qms)" d="M1462 1959l32-70l9 21z"/><path style="--g:url(#qmt)" d="M1731 1939l32 1l10 2z"/><path style="--g:url(#qmu)" d="M1372 1961l32-14l10-13z"/><path style="--g:url(#qmv)" d="M1452 1957l-10-2l42-91z"/><path style="--g:url(#qmw)" d="M1632 1843l-10 71l42-12z"/><path style="--g:url(#qmx)" d="M1542 1940l-10-2l42-106z"/><path style="--g:url(#qmy)" d="M1722 1914l-10-2l42 11z"/><path style="--g:url(#qmz)" d="M1651 1920l32-14l10 40z"/><path style="--g:url(#qn0)" d="M1561 1944l32-36l10-71z"/><path style="--g:url(#qn1)" d="M1471 1961l32-51l10 2z"/><path style="--g:url(#qn2)" d="M1381 1963l33-29l9 17z"/><path style="--g:url(#qn3)" d="M1462 1959l-10-2l42-68z"/><path style="--g:url(#qn4)" d="M1641 1876l-9-33l41 61z"/><path style="--g:url(#qn5)" d="M1552 1942l-10-2l42-107z"/><path style="--g:url(#qn6)" d="M1731 1939l-9-25l41 26z"/><path style="--g:url(#qn7)" d="M1661 1922l32 24l9 2z"/><path style="--g:url(#qn8)" d="M1571 1904l32-67l9 75z"/><path style="--g:url(#qn9)" d="M1481 1963l32-51l10 2z"/><path style="--g:url(#qna)" d="M1391 1965l32-14l10-13z"/><path style="--g:url(#qnb)" d="M1471 1961l-9-2l41-49z"/><path style="--g:url(#qnc)" d="M1651 1920l-10-44l42 30z"/><path style="--g:url(#qnd)" d="M1561 1944l-9-2l41-34z"/><path style="--g:url(#qne)" d="M1381 1963l-9-2l42-27z"/><path style="--g:url(#qnf)" d="M1670 1924l32 24l10-36z"/><path class="k0" d="M1580 1925l32-13l10 2z"/><path style="--g:url(#qng)" d="M1491 1950l32-36l9 24z"/><path style="--g:url(#qnh)" d="M1401 1967l32-29l9 17z"/><path style="--g:url(#qni)" d="M1481 1963l-10-2l42-49z"/><path style="--g:url(#qnj)" d="M1661 1922l-10-2l42 26z"/><path style="--g:url(#qnk)" d="M1571 1904l-10 40l42-107z"/><path style="--g:url(#qnl)" d="M1680 1948l32-36l10 2z"/><path style="--g:url(#qnm)" d="M1590 1927l32-13l10-71z"/><path class="k3" d="M1500 1952l32-14l10 2z"/><path style="--g:url(#qnn)" d="M1491 1950l-10 13l42-49z"/><path style="--g:url(#qno)" d="M1670 1924l-9-2l41 26z"/><path style="--g:url(#qnp)" d="M1580 1925l-9-21l41 8z"/><path style="--g:url(#qnq)" d="M1401 1967l-10-2l42-27z"/><path style="--g:url(#qnr)" d="M1690 1928l32-14l9 25z"/><path style="--g:url(#qns)" d="M1600 1952l32-109l9 33z"/><path style="--g:url(#qnt)" d="M1510 1969l32-29l10 2z"/><path class="k3" d="M1500 1952l-9-2l41-12z"/><path style="--g:url(#qnu)" d="M1680 1948l-10-24l42-12z"/><path class="k0" d="M1590 1927l-10-2l42-11z"/><path style="--g:url(#qnv)" d="M1609 1931l32-55l10 44z"/><path style="--g:url(#qnw)" d="M1519 1971l33-29l9 2z"/><path style="--g:url(#qnx)" d="M1510 1969l-10-17l42-12z"/><path style="--g:url(#qny)" d="M1690 1928l-10 20l42-34z"/><path style="--g:url(#qnz)" d="M1600 1952l-10-25l42-84z"/><path style="--g:url(#qo0)" d="M1619 1971l32-51l10 2z"/><path style="--g:url(#qo1)" d="M1529 1958l32-14l10-40z"/><path style="--g:url(#qo2)" d="M1519 1971l-9-2l42-27z"/><path style="--g:url(#qo3)" d="M1609 1931l-9 21l41-76z"/><path style="--g:url(#qo4)" d="M1629 1958l32-36l9 2z"/><path style="--g:url(#qo5)" d="M1539 1975l32-71l9 21z"/><path style="--g:url(#qo6)" d="M1449 1977l32-14l10-13z"/><path style="--g:url(#qo7)" d="M1529 1958l-10 13l42-27z"/><path style="--g:url(#qo8)" d="M1619 1971l-10-40l42-11z"/><path style="--g:url(#qo9)" d="M1638 1937l32-13l10 24z"/><path style="--g:url(#qoa)" d="M1548 1977l32-52l10 2z"/><path style="--g:url(#qob)" d="M1458 1979l33-29l9 2z"/><path style="--g:url(#qoc)" d="M1539 1975l-10-17l42-54z"/><path style="--g:url(#qod)" d="M1629 1958l-10 13l42-49z"/><path style="--g:url(#qoe)" d="M1648 1939l32 9l10-20z"/><path style="--g:url(#qof)" d="M1558 1964l32-37l10 25z"/><path style="--g:url(#qog)" d="M1468 1981l32-29l10 17z"/><path style="--g:url(#qoh)" d="M1548 1977l-9-2l41-50z"/><path style="--g:url(#qoi)" d="M1638 1937l-9 21l41-34z"/><path style="--g:url(#qoj)" d="M1458 1979l-9-2l42-27z"/><path style="--g:url(#qok)" d="M1568 1981l32-29l9-21z"/><path style="--g:url(#qol)" d="M1558 1964l-10 13l42-50z"/><path style="--g:url(#qom)" d="M1648 1939l-10-2l42 11z"/><path style="--g:url(#qon)" d="M1468 1981l-10-2l42-27z"/><path style="--g:url(#qoo)" d="M1577 1983l32-52l10 40z"/><path style="--g:url(#qop)" d="M1487 1985l32-14l10-13z"/><path style="--g:url(#qoq)" d="M1568 1981l-10-17l42-12z"/><path style="--g:url(#qor)" d="M1587 1985l32-14l10-13z"/><path style="--g:url(#qos)" d="M1497 1987l32-29l10 17z"/><path style="--g:url(#qot)" d="M1577 1983l-9-2l41-50z"/><path style="--g:url(#qou)" d="M1596 1987l33-29l9-21z"/><path style="--g:url(#qov)" d="M1497 1987l-10-2l42-27z"/><path style="--g:url(#qow)" d="M1606 1974l32-37l10 2z"/><path style="--g:url(#qox)" d="M1516 1991l32-14l10-13z"/><path style="--g:url(#qoy)" d="M1596 1987l-9-2l42-27z"/><path style="--g:url(#qoz)" d="M1526 1993l32-29l10 17z"/><path style="--g:url(#qp0)" d="M1606 1974l-10 13l42-50z"/><path style="--g:url(#qp1)" d="M1526 1993l-10-2l42-27z"/><path style="--g:url(#qp2)" d="M1564 2000l32-13l10-13z"/></g>
<line x1="589.6" y1="722.8" x2="756.4" y2="676.4" stroke="#000" stroke-width="2.2"/>
<line x1="756.4" y1="676.4" x2="949.0" y2="715.8" stroke="#000" stroke-width="2.2"/>
<line x1="949.0" y1="715.8" x2="782.2" y2="762.2" stroke="#000" stroke-width="2.2"/>
<line x1="782.2" y1="762.2" x2="589.6" y2="722.8" stroke="#000" stroke-width="2.2"/>
<line x1="589.6" y1="960.8" x2="589.6" y2="722.8" stroke="#000" stroke-width="2.2"/>
<line x1="949.0" y1="953.8" x2="949.0" y2="715.8" stroke="#000" stroke-width="2.2"/>
<line x1="782.2" y1="1000.2" x2="782.2" y2="762.2" stroke="#000" stroke-width="2.2"/>
<line x1="589.6" y1="960.8" x2="782.2" y2="1000.2" stroke="#000" stroke-width="2.2"/>
<line x1="782.2" y1="1000.2" x2="949.0" y2="953.8" stroke="#000" stroke-width="2.2"/>
<line x1="585.6" y1="960.8" x2="589.6" y2="960.8" stroke="#000" stroke-width="1.8"/>
<text x="576.6" y="968.4" font-size="27" text-anchor="end">0.00</text>
<line x1="585.6" y1="865.6" x2="589.6" y2="865.6" stroke="#000" stroke-width="1.8"/>
<text x="576.6" y="873.2" font-size="27" text-anchor="end">0.01</text>
<line x1="585.6" y1="770.4" x2="589.6" y2="770.4" stroke="#000" stroke-width="1.8"/>
<text x="576.6" y="778.0" font-size="27" text-anchor="end">0.02</text>
<text transform="translate(514.8,1019.7) rotate(-90)" font-size="33">Multiplicity per Si atom</text>
<line x1="613.7" y1="965.7" x2="613.7" y2="975.7" stroke="#000" stroke-width="1.8"/>
<text x="605.7" y="1007.2" font-size="27" text-anchor="middle">7</text>
<line x1="661.8" y1="975.6" x2="661.8" y2="985.6" stroke="#000" stroke-width="1.8"/>
<text x="653.8" y="1017.1" font-size="27" text-anchor="middle">6</text>
<line x1="710.0" y1="985.4" x2="710.0" y2="995.4" stroke="#000" stroke-width="1.8"/>
<text x="702.0" y="1026.9" font-size="27" text-anchor="middle">5</text>
<line x1="758.1" y1="995.3" x2="758.1" y2="1005.3" stroke="#000" stroke-width="1.8"/>
<text x="750.1" y="1036.8" font-size="27" text-anchor="middle">4</text>
<line x1="803.1" y1="994.4" x2="803.1" y2="1004.4" stroke="#000" stroke-width="1.8"/>
<text x="803.1" y="1035.4" font-size="27" text-anchor="middle">2.2</text>
<line x1="844.8" y1="982.8" x2="844.8" y2="992.8" stroke="#000" stroke-width="1.8"/>
<text x="844.8" y="1023.8" font-size="27" text-anchor="middle">2.4</text>
<line x1="886.5" y1="971.2" x2="886.5" y2="981.2" stroke="#000" stroke-width="1.8"/>
<text x="886.5" y="1012.2" font-size="27" text-anchor="middle">2.6</text>
<line x1="928.1" y1="959.6" x2="928.1" y2="969.6" stroke="#000" stroke-width="1.8"/>
<text x="928.1" y="1000.6" font-size="27" text-anchor="middle">2.8</text>
<text transform="translate(589.8,1050.0) rotate(11.56)" font-size="32.5">Death <tspan font-style="italic">d</tspan><tspan font-style="italic" font-size="22" dy="7">j</tspan><tspan dy="-7" font-style="italic"> (Å</tspan><tspan font-size="22" dy="-12">2</tspan><tspan dy="12">)</tspan></text>
<text transform="translate(812.4,1086.3) rotate(-15.55)" font-size="33">Birth b<tspan font-size="22" dy="7">i</tspan><tspan dy="-7"> (Å</tspan><tspan font-size="22" dy="-12">2</tspan><tspan dy="12">)</tspan></text>
<text x="977.3" y="649.7" font-size="45.5" font-weight="bold">G</text>
<line x1="1243.5" y1="918.1" x2="1243.5" y2="680.1" stroke="#000" stroke-width="2.2"/>
<line x1="1077.4" y1="961.8" x2="1243.5" y2="918.1" stroke="#000" stroke-width="2.2"/>
<line x1="1243.5" y1="918.1" x2="1437.0" y2="957.3" stroke="#000" stroke-width="2.2"/>
<g class="srf" transform="scale(.5)"><path fill="#fff" d="M2542 2002l-387-78l332-88l387 79z"/><path style="--g:url(#qp3)" d="M2513 1861l32-13l10-36z"/><path style="--g:url(#qp4)" d="M2523 1863l32-51l9 40z"/><path style="--g:url(#qp5)" d="M2523 1863l-10-2l42-49z"/><path style="--g:url(#qp6)" d="M2600 1863l32 3l10 2z"/><path style="--g:url(#qp7)" d="M2600 1863l-9 14l41-11z"/><path style="--g:url(#qp8)" d="M2610 1880l-10-17l42 5z"/><path style="--g:url(#qp9)" d="M2559 1889l32-12l9-14z"/><path style="--g:url(#qpa)" d="M2379 1876l32 3l9 2z"/><path style="--g:url(#qpb)" d="M2568 1891l32-28l10 17z"/><path style="--g:url(#qpc)" d="M2389 1878l31 3l10 2z"/><path style="--g:url(#qpd)" d="M2379 1876l-10 14l42-11z"/><path style="--g:url(#qpe)" d="M2488 1879l32 3l10 2z"/><path style="--g:url(#qpf)" d="M2568 1891l-9-2l41-26z"/><path style="--g:url(#qpg)" d="M2389 1878l-10-2l41 5z"/><path style="--g:url(#qph)" d="M2678 1856l32 25l9 2z"/><path style="--g:url(#qpi)" d="M2318 1883l32 3l10 2z"/><path style="--g:url(#qpj)" d="M2488 1879l-9 13l41-10z"/><path style="--g:url(#qpk)" d="M2398 1896l-9-18l41 5z"/><path style="--g:url(#qpl)" d="M2597 1882l32 2l10 2z"/><path style="--g:url(#qpm)" d="M2687 1881l32 2l10 2z"/><path style="--g:url(#qpn)" d="M2508 1860l31 25l10 2z"/><path style="--g:url(#qpo)" d="M2318 1883l-10 14l42-11z"/><path style="--g:url(#qpp)" d="M2678 1856l-10 36l42-11z"/><path style="--g:url(#qpq)" d="M2498 1896l-10-17l42 5z"/><path style="--g:url(#qpr)" d="M2697 1883l32 2l10 2z"/><path style="--g:url(#qps)" d="M2607 1884l32 2l10 2z"/><path style="--g:url(#qpt)" d="M2337 1903l32-13l10-14z"/><path style="--g:url(#qpu)" d="M2517 1885l32 2l10 2z"/><path style="--g:url(#qpv)" d="M2597 1882l-9 13l41-11z"/><path style="--g:url(#qpw)" d="M2687 1881l-9-25l41 27z"/><path style="--g:url(#qpx)" d="M2328 1901l-10-18l42 5z"/><path style="--g:url(#qpy)" d="M2508 1860l-10 36l41-11z"/><path style="--g:url(#qpz)" d="M2707 1885l32 2l9 2z"/><path style="--g:url(#qq0)" d="M2347 1866l32 10l10 2z"/><path style="--g:url(#qq1)" d="M2617 1844l32 44l9 2z"/><path style="--g:url(#qq2)" d="M2527 1887l32 2l9 2z"/><path style="--g:url(#qq3)" d="M2607 1884l-10-2l42 4z"/><path style="--g:url(#qq4)" d="M2697 1883l-10-2l42 4z"/><path style="--g:url(#qq5)" d="M2517 1885l-9-25l41 27z"/><path style="--g:url(#qq6)" d="M2716 1887l32 2l10-13z"/><path style="--g:url(#qq7)" d="M2357 1891l32-13l9 18z"/><path style="--g:url(#qq8)" d="M2626 1865l32 25l10 2z"/><path style="--g:url(#qq9)" d="M2447 1867l32 25l9-13z"/><path style="--g:url(#qqa)" d="M2537 1866l31 25l10 2z"/><path style="--g:url(#qqb)" d="M2617 1844l-10 40l42 4z"/><path style="--g:url(#qqc)" d="M2347 1866l-10 37l42-27z"/><path style="--g:url(#qqd)" d="M2707 1885l-10-2l42 4z"/><path style="--g:url(#qqe)" d="M2527 1887l-10-2l42 4z"/><path style="--g:url(#qqf)" d="M2726 1904l32-28l10 17z"/><path style="--g:url(#qqg)" d="M2636 1867l32 25l10-36z"/><path style="--g:url(#qqh)" d="M2366 1893l32 3l10 2z"/><path style="--g:url(#qqi)" d="M2277 1910l31-13l10-14z"/><path style="--g:url(#qqj)" d="M2456 1869l32 10l10 17z"/><path style="--g:url(#qqk)" d="M2626 1865l-9-21l41 46z"/><path style="--g:url(#qql)" d="M2716 1887l-9-2l41 4z"/><path style="--g:url(#qqm)" d="M2357 1891l-10-25l42 12z"/><path style="--g:url(#qqn)" d="M2537 1866l-10 21l41 4z"/><path style="--g:url(#qqo)" d="M2447 1867l-10 36l42-11z"/><path style="--g:url(#qqp)" d="M2376 1895l32 3l10 1z"/><path style="--g:url(#qqq)" d="M2286 1912l32-29l10 18z"/><path style="--g:url(#qqr)" d="M2736 1868l32 25l9-13z"/><path style="--g:url(#qqs)" d="M2646 1907l32-51l9 25z"/><path style="--g:url(#qqt)" d="M2466 1852l32 44l10-36z"/><path style="--g:url(#qqu)" d="M2556 1851l32 44l9-13z"/><path style="--g:url(#qqv)" d="M2636 1867l-10-2l42 27z"/><path style="--g:url(#qqw)" d="M2366 1893l-9-2l41 5z"/><path style="--g:url(#qqx)" d="M2726 1904l-10-17l42-11z"/><path style="--g:url(#qqy)" d="M2546 1906l-9-40l41 27z"/><path style="--g:url(#qqz)" d="M2456 1869l-9-2l41 12z"/><path style="--g:url(#qr0)" d="M2745 1870l32 10l10 17z"/><path style="--g:url(#qr1)" d="M2656 1799l31 82l10 2z"/><path style="--g:url(#qr2)" d="M2386 1874l32 25l9 2z"/><path style="--g:url(#qr3)" d="M2476 1854l32 6l9 25z"/><path style="--g:url(#qr4)" d="M2566 1758l31 124l10 2z"/><path style="--g:url(#qr5)" d="M2646 1907l-10-40l42-11z"/><path style="--g:url(#qr6)" d="M2736 1868l-10 36l42-11z"/><path style="--g:url(#qr7)" d="M2376 1895l-10-2l42 5z"/><path style="--g:url(#qr8)" d="M2286 1912l-9-2l41-27z"/><path style="--g:url(#qr9)" d="M2556 1851l-10 55l42-11z"/><path style="--g:url(#qra)" d="M2466 1852l-10 17l42 27z"/><path style="--g:url(#qrb)" d="M2755 1872l32 25l10 2z"/><path style="--g:url(#qrc)" d="M2395 1857l32 44l10 2z"/><path style="--g:url(#qrd)" d="M2665 1854l32 29l10 2z"/><path style="--g:url(#qre)" d="M2306 1915l31-12l10-37z"/><path style="--g:url(#qrf)" d="M2485 1913l32-28l10 2z"/><path style="--g:url(#qrg)" d="M2575 1802l32 82l10-40z"/><path style="--g:url(#qrh)" d="M2656 1799l-10 108l41-26z"/><path style="--g:url(#qri)" d="M2745 1870l-9-2l41 12z"/><path style="--g:url(#qrj)" d="M2386 1874l-10 21l42 4z"/><path style="--g:url(#qrk)" d="M2566 1758l-10 93l41 31z"/><path class="k5" d="M2476 1854l-10-2l42 8z"/><path style="--g:url(#qrl)" d="M2405 1916l32-13l10-36z"/><path style="--g:url(#qrm)" d="M2675 1802l32 83l9 2z"/><path style="--g:url(#qrn)" d="M2315 1917l32-51l10 25z"/><path style="--g:url(#qro)" d="M2495 1858l32 29l10-21z"/><path style="--g:url(#qrp)" d="M2585 1714l32 130l9 21z"/><path style="--g:url(#qrq)" d="M2665 1854l-9-55l41 84z"/><path style="--g:url(#qrr)" d="M2395 1857l-9 17l41 27z"/><path style="--g:url(#qrs)" d="M2755 1872l-10-2l42 27z"/><path style="--g:url(#qrt)" d="M2575 1802l-9-44l41 126z"/><path style="--g:url(#qru)" d="M2485 1913l-9-59l41 31z"/><path style="--g:url(#qrv)" d="M2774 1914l32-13l10-13z"/><path style="--g:url(#qrw)" d="M2685 1900l31-13l10 17z"/><path style="--g:url(#qrx)" d="M2415 1838l32 29l9 2z"/><path style="--g:url(#qry)" d="M2325 1919l32-28l9 2z"/><path style="--g:url(#qrz)" d="M2505 1807l32 59l9 40z"/><path class="k5" d="M2595 1859l31 6l10 2z"/><path style="--g:url(#qs0)" d="M2675 1802l-10 52l42 31z"/><path style="--g:url(#qs1)" d="M2765 1912l-10-40l42 27z"/><path style="--g:url(#qs2)" d="M2405 1916l-10-59l42 46z"/><path style="--g:url(#qs3)" d="M2585 1714l-10 88l42 42z"/><path style="--g:url(#qs4)" d="M2315 1917l-9-2l41-49z"/><path style="--g:url(#qs5)" d="M2495 1858l-10 55l42-26z"/><path style="--g:url(#qs6)" d="M2425 1840l31 29l10-17z"/><path class="k3" d="M2335 1906l31-13l10 2z"/><path style="--g:url(#qs7)" d="M2784 1916l32-28l10 2z"/><path style="--g:url(#qs8)" d="M2694 1917l32-13l10-36z"/><path style="--g:url(#qs9)" d="M2514 1672l32 234l10-55z"/><path style="--g:url(#qsa)" d="M2604 1808l32 59l10 40z"/><path style="--g:url(#qsb)" d="M2685 1900l-10-98l41 85z"/><path style="--g:url(#qsc)" d="M2415 1838l-10 78l42-49z"/><path style="--g:url(#qsd)" d="M2325 1919l-10-2l42-26z"/><path style="--g:url(#qse)" d="M2505 1807l-10 51l42 8z"/><path style="--g:url(#qsf)" d="M2595 1859l-10-145l41 151z"/><path style="--g:url(#qsg)" d="M2794 1918l32-28l9-21z"/><path style="--g:url(#qsh)" d="M2704 1808l32 60l9 2z"/><path style="--g:url(#qsi)" d="M2434 1842l32 10l10 2z"/><path style="--g:url(#qsj)" d="M2344 1885l32 10l10-21z"/><path style="--g:url(#qsk)" d="M2524 1721l32 130l10-93z"/><path style="--g:url(#qsl)" d="M2614 1720l32 187l10-108z"/><path style="--g:url(#qsm)" d="M2694 1917l-9-17l41 4z"/><path style="--g:url(#qsn)" d="M2784 1916l-10-2l42-26z"/><path style="--g:url(#qso)" d="M2425 1840l-10-2l41 31z"/><path style="--g:url(#qsp)" d="M2335 1906l-10 13l41-26z"/><path style="--g:url(#qsq)" d="M2604 1808l-9 51l41 8z"/><path style="--g:url(#qsr)" d="M2514 1672l-9 135l41 99z"/><path style="--g:url(#qss)" d="M2803 1882l32-13l10 40z"/><path style="--g:url(#qst)" d="M2444 1724l32 130l9 59z"/><path class="k0" d="M2714 1883l31-13l10 2z"/><path style="--g:url(#qsu)" d="M2354 1910l32-36l9-17z"/><path style="--g:url(#qsv)" d="M2534 1546l32 212l9 44z"/><path style="--g:url(#qsw)" d="M2624 1842l32-43l9 55z"/><path style="--g:url(#qsx)" d="M2704 1808l-10 109l42-49z"/><path style="--g:url(#qsy)" d="M2794 1918l-10-2l42-26z"/><path style="--g:url(#qsz)" d="M2434 1842l-9-2l41 12z"/><path style="--g:url(#qt0)" d="M2614 1720l-10 88l42 99z"/><path style="--g:url(#qt1)" d="M2344 1885l-9 21l41-11z"/><path style="--g:url(#qt2)" d="M2524 1721l-10-49l42 179z"/><path style="--g:url(#qt3)" d="M2813 1922l32-13l10-14z"/><path style="--g:url(#qt4)" d="M2454 1726l31 187l10-55z"/><path style="--g:url(#qt5)" d="M2723 1907l32-35l10 40z"/><path style="--g:url(#qt6)" d="M2364 1889l31-32l10 59z"/><path style="--g:url(#qt7)" d="M2543 1677l32 125l10-88z"/><path style="--g:url(#qt8)" d="M2633 1772l32 82l10-52z"/><path style="--g:url(#qt9)" d="M2714 1883l-10-75l41 62z"/><path style="--g:url(#qta)" d="M2803 1882l-9 36l41-49z"/><path style="--g:url(#qtb)" d="M2444 1724l-10 118l42 12z"/><path style="--g:url(#qtc)" d="M2354 1910l-10-25l42-11z"/><path style="--g:url(#qtd)" d="M2624 1842l-10-122l42 79z"/><path style="--g:url(#qte)" d="M2534 1546l-10 175l42 37z"/><path style="--g:url(#qtf)" d="M2823 1924l32-29l9 18z"/><path style="--g:url(#qtg)" d="M2463 1551l32 307l10-51z"/><path style="--g:url(#qth)" d="M2373 1872l32 44l10-78z"/><path style="--g:url(#qti)" d="M2553 1727l32-13l10 145z"/><path style="--g:url(#qtj)" d="M2643 1869l32-67l10 98z"/><path style="--g:url(#qtk)" d="M2723 1907l-9-24l41-11z"/><path style="--g:url(#qtl)" d="M2813 1922l-10-40l42 27z"/><path style="--g:url(#qtm)" d="M2454 1726l-10-2l41 189z"/><path style="--g:url(#qtn)" d="M2364 1889l-10 21l41-53z"/><path style="--g:url(#qto)" d="M2633 1772l-9 70l41 12z"/><path style="--g:url(#qtp)" d="M2543 1677l-9-131l41 256z"/><path style="--g:url(#qtq)" d="M2473 1473l32 334l9-135z"/><path style="--g:url(#qtr)" d="M2383 1893l32-55l10 2z"/><path style="--g:url(#qts)" d="M2743 1889l31 25l10 2z"/><path style="--g:url(#qtt)" d="M2293 1932l32-13l10-13z"/><path style="--g:url(#qtu)" d="M2563 1520l32 339l9-51z"/><path style="--g:url(#qtv)" d="M2653 1848l32 52l9 17z"/><path style="--g:url(#qtw)" d="M2733 1925l-10-18l42 5z"/><path style="--g:url(#qtx)" d="M2463 1551l-9 175l41 132z"/><path style="--g:url(#qty)" d="M2823 1924l-10-2l42-27z"/><path style="--g:url(#qtz)" d="M2373 1872l-9 17l41 27z"/><path style="--g:url(#qu0)" d="M2643 1869l-10-97l42 30z"/><path style="--g:url(#qu1)" d="M2553 1727l-10-50l42 37z"/><path style="--g:url(#qu2)" d="M2483 1555l31 117l10 49z"/><path style="--g:url(#qu3)" d="M2393 1876l32-36l9 2z"/><path style="--g:url(#qu4)" d="M2303 1934l32-28l9-21z"/><path style="--g:url(#qu5)" d="M2572 1683l32 125l10-88z"/><path style="--g:url(#qu6)" d="M2662 1819l32 98l10-109z"/><path style="--g:url(#qu7)" d="M2743 1889l-10 36l41-11z"/><path style="--g:url(#qu8)" d="M2473 1473l-10 78l42 256z"/><path style="--g:url(#qu9)" d="M2383 1893l-10-21l42-34z"/><path style="--g:url(#qua)" d="M2653 1848l-10 21l42 31z"/><path style="--g:url(#qub)" d="M2563 1520l-10 207l42 132z"/><path style="--g:url(#quc)" d="M2762 1915l32 3l9-36z"/><path style="--g:url(#qud)" d="M2492 1525l32 196l10-175z"/><path style="--g:url(#que)" d="M2402 1825l32 17l10-118z"/><path style="--g:url(#quf)" d="M2312 1936l32-51l10 25z"/><path style="--g:url(#qug)" d="M2582 1685l32 35l10 122z"/><path style="--g:url(#quh)" d="M2672 1821l32-13l10 75z"/><path style="--g:url(#qui)" d="M2752 1929l-9-40l41 27z"/><path style="--g:url(#quj)" d="M2303 1934l-10-2l42-26z"/><path style="--g:url(#quk)" d="M2483 1555l-10-82l41 199z"/><path style="--g:url(#qul)" d="M2662 1819l-9 29l41 69z"/><path style="--g:url(#qum)" d="M2572 1683l-9-163l41 288z"/><path style="--g:url(#qun)" d="M2393 1876l-10 17l42-53z"/><path style="--g:url(#quo)" d="M2772 1933l31-51l10 40z"/><path style="--g:url(#qup)" d="M2502 1641l32-95l9 131z"/><path style="--g:url(#quq)" d="M2412 1880l32-156l10 2z"/><path style="--g:url(#qur)" d="M2322 1938l32-28l10-21z"/><path style="--g:url(#qus)" d="M2592 1735l32 107l9-70z"/><path style="--g:url(#qut)" d="M2682 1896l32-13l9 24z"/><path style="--g:url(#quu)" d="M2762 1915l-10 14l42-11z"/><path style="--g:url(#quv)" d="M2312 1936l-9-2l41-49z"/><path style="--g:url(#quw)" d="M2492 1525l-9 30l41 166z"/><path style="--g:url(#qux)" d="M2402 1825l-9 51l41-34z"/><path class="k9" d="M2672 1821l-10-2l42-11z"/><path style="--g:url(#quy)" d="M2582 1685l-10-2l42 37z"/><path style="--g:url(#quz)" d="M2512 1738l31-61l10 50z"/><path style="--g:url(#qv0)" d="M2422 1739l32-13l9-175z"/><path style="--g:url(#qv1)" d="M2332 1940l32-51l9-17z"/><path style="--g:url(#qv2)" d="M2601 1737l32 35l10 97z"/><path style="--g:url(#qv3)" d="M2691 1825l32 82l10 18z"/><path style="--g:url(#qv4)" d="M2772 1933l-10-18l41-33z"/><path style="--g:url(#qv5)" d="M2322 1938l-10-2l42-26z"/><path style="--g:url(#qv6)" d="M2502 1641l-10-116l42 21z"/><path style="--g:url(#qv7)" d="M2412 1880l-10-55l42-101z"/><path style="--g:url(#qv8)" d="M2682 1896l-10-75l42 62z"/><path style="--g:url(#qv9)" d="M2592 1735l-10-50l42 157z"/><path style="--g:url(#qva)" d="M2431 1741l32-190l10-78z"/><path style="--g:url(#qvb)" d="M2521 1692l32 35l10-207z"/><path style="--g:url(#qvc)" d="M2341 1942l32-70l10 21z"/><path style="--g:url(#qvd)" d="M2611 1739l32 130l10-21z"/><path style="--g:url(#qve)" d="M2701 1880l32 45l10-36z"/><path style="--g:url(#qvf)" d="M2332 1940l-10-2l42-49z"/><path style="--g:url(#qvg)" d="M2512 1738l-10-97l41 36z"/><path style="--g:url(#qvh)" d="M2422 1739l-10 141l42-154z"/><path style="--g:url(#qvi)" d="M2691 1825l-9 71l41 11z"/><path style="--g:url(#qvj)" d="M2601 1737l-9-2l41 37z"/><path style="--g:url(#qvk)" d="M2531 1831l32-311l9 163z"/><path style="--g:url(#qvl)" d="M2441 1905l32-432l10 82z"/><path style="--g:url(#qvm)" d="M2351 1944l32-51l10-17z"/><path style="--g:url(#qvn)" d="M2621 1741l32 107l9-29z"/><path style="--g:url(#qvo)" d="M2711 1901l32-12l9 40z"/><path style="--g:url(#qvp)" d="M2341 1942l-9-2l41-68z"/><path style="--g:url(#qvq)" d="M2521 1692l-9 46l41-11z"/><path style="--g:url(#qvr)" d="M2431 1741l-9-2l41-188z"/><path style="--g:url(#qvs)" d="M2701 1880l-10-55l42 100z"/><path style="--g:url(#qvt)" d="M2611 1739l-10-2l42 132z"/><path style="--g:url(#qvu)" d="M2541 1791l31-108l10 2z"/><path style="--g:url(#qvv)" d="M2451 1865l32-310l9-30z"/><path style="--g:url(#qvw)" d="M2361 1931l32-55l9-51z"/><path style="--g:url(#qvx)" d="M2630 1790l32 29l10 2z"/><path style="--g:url(#qvy)" d="M2720 1941l32-12l10-14z"/><path style="--g:url(#qvz)" d="M2531 1831l-10-139l42-172z"/><path style="--g:url(#qw0)" d="M2351 1944l-10-2l42-49z"/><path style="--g:url(#qw1)" d="M2711 1901l-10-21l42 9z"/><path style="--g:url(#qw2)" d="M2621 1741l-10-2l42 109z"/><path style="--g:url(#qw3)" d="M2441 1905l-10-164l42-268z"/><path style="--g:url(#qw4)" d="M2550 1793l32-108l10 50z"/><path style="--g:url(#qw5)" d="M2460 1836l32-311l10 116z"/><path style="--g:url(#qw6)" d="M2370 1910l32-85l10 55z"/><path style="--g:url(#qw7)" d="M2640 1792l32 29l10 75z"/><path style="--g:url(#qw8)" d="M2730 1943l32-28l10 18z"/><path style="--g:url(#qw9)" d="M2361 1931l-10 13l42-68z"/><path style="--g:url(#qwa)" d="M2541 1791l-10 40l41-148z"/><path style="--g:url(#qwb)" d="M2720 1941l-9-40l41 28z"/><path style="--g:url(#qwc)" d="M2451 1865l-10 40l42-350z"/><path style="--g:url(#qwd)" d="M2630 1790l-9-49l41 78z"/><path class="k7" d="M2560 1748l32-13l9 2z"/><path style="--g:url(#qwe)" d="M2470 1892l32-251l10 97z"/><path style="--g:url(#qwf)" d="M2380 1950l32-70l10-141z"/><path style="--g:url(#qwg)" d="M2650 1836l32 60l9-71z"/><path style="--g:url(#qwh)" d="M2740 1930l32 3l9 1z"/><path style="--g:url(#qwi)" d="M2370 1910l-9 21l41-106z"/><path style="--g:url(#qwj)" d="M2550 1793l-9-2l41-106z"/><path style="--g:url(#qwk)" d="M2730 1943l-10-2l42-26z"/><path style="--g:url(#qwl)" d="M2460 1836l-9 29l41-340z"/><path style="--g:url(#qwm)" d="M2640 1792l-10-2l42 31z"/><path style="--g:url(#qwn)" d="M2570 1893l31-156l10 2z"/><path class="k2" d="M2480 1894l32-156l9-46z"/><path style="--g:url(#qwo)" d="M2390 1952l32-213l9 2z"/><path style="--g:url(#qwp)" d="M2660 1869l31-44l10 55z"/><path style="--g:url(#qwq)" d="M2380 1950l-10-40l42-30z"/><path style="--g:url(#qwr)" d="M2560 1748l-10 45l42-58z"/><path style="--g:url(#qws)" d="M2740 1930l-10 13l42-10z"/><path style="--g:url(#qwt)" d="M2470 1892l-10-56l42-195z"/><path style="--g:url(#qwu)" d="M2650 1836l-10-44l42 104z"/><path style="--g:url(#qwv)" d="M2579 1841l32-102l10 2z"/><path style="--g:url(#qww)" d="M2489 1915l32-223l10 139z"/><path style="--g:url(#qwx)" d="M2400 1954l31-213l10 164z"/><path style="--g:url(#qwy)" d="M2669 1912l32-32l10 21z"/><path style="--g:url(#qwz)" d="M2390 1952l-10-2l42-211z"/><path style="--g:url(#qx0)" d="M2570 1893l-10-145l41-11z"/><path style="--g:url(#qx1)" d="M2480 1894l-10-2l42-154z"/><path style="--g:url(#qx2)" d="M2749 1947l-9-17l41 4z"/><path style="--g:url(#qx3)" d="M2660 1869l-10-33l41-11z"/><path style="--g:url(#qx4)" d="M2589 1843l32-102l9 49z"/><path style="--g:url(#qx5)" d="M2499 1917l32-86l10-40z"/><path style="--g:url(#qx6)" d="M2679 1895l32 6l9 40z"/><path style="--g:url(#qx7)" d="M2409 1956l32-51l10-40z"/><path style="--g:url(#qx8)" d="M2319 1957l32-13l10-13z"/><path style="--g:url(#qx9)" d="M2579 1841l-9 52l41-154z"/><path style="--g:url(#qxa)" d="M2400 1954l-10-2l41-211z"/><path style="--g:url(#qxb)" d="M2489 1915l-9-21l41-202z"/><path style="--g:url(#qxc)" d="M2669 1912l-9-43l41 11z"/><path style="--g:url(#qxd)" d="M2599 1845l31-55l10 2z"/><path style="--g:url(#qxe)" d="M2509 1900l32-109l9 2z"/><path style="--g:url(#qxf)" d="M2689 1939l31 2l10 2z"/><path style="--g:url(#qxg)" d="M2419 1943l32-78l9-29z"/><path style="--g:url(#qxh)" d="M2329 1959l32-28l9-21z"/><path style="--g:url(#qxi)" d="M2409 1956l-9-2l41-49z"/><path style="--g:url(#qxj)" d="M2589 1843l-10-2l42-100z"/><path style="--g:url(#qxk)" d="M2499 1917l-10-2l42-84z"/><path style="--g:url(#qxl)" d="M2679 1895l-10 17l42-11z"/><path style="--g:url(#qxm)" d="M2608 1900l32-108l10 44z"/><path style="--g:url(#qxn)" d="M2518 1901l32-108l10-45z"/><path style="--g:url(#qxo)" d="M2698 1918l32 25l10-13z"/><path style="--g:url(#qxp)" d="M2429 1960l31-124l10 56z"/><path style="--g:url(#qxq)" d="M2339 1961l31-51l10 40z"/><path style="--g:url(#qxr)" d="M2419 1943l-10 13l42-91z"/><path style="--g:url(#qxs)" d="M2599 1845l-10-2l41-53z"/><path style="--g:url(#qxt)" d="M2509 1900l-10 17l42-126z"/><path style="--g:url(#qxu)" d="M2689 1939l-10-44l41 46z"/><path style="--g:url(#qxv)" d="M2329 1959l-10-2l42-26z"/><path style="--g:url(#qxw)" d="M2618 1921l32-85l10 33z"/><path style="--g:url(#qxx)" d="M2528 1945l32-197l10 145z"/><path style="--g:url(#qxy)" d="M2438 1962l32-70l10 2z"/><path style="--g:url(#qxz)" d="M2708 1943l32-13l9 17z"/><path style="--g:url(#qy0)" d="M2429 1960l-10-17l41-107z"/><path style="--g:url(#qy1)" d="M2608 1900l-9-55l41-53z"/><path style="--g:url(#qy2)" d="M2518 1901l-9-1l41-107z"/><path style="--g:url(#qy3)" d="M2339 1961l-10-2l41-49z"/><path style="--g:url(#qy4)" d="M2698 1918l-9 21l41 4z"/><path style="--g:url(#qy5)" d="M2628 1923l32-54l9 43z"/><path style="--g:url(#qy6)" d="M2538 1947l32-54l9-52z"/><path style="--g:url(#qy7)" d="M2448 1964l32-70l9 21z"/><path style="--g:url(#qy8)" d="M2438 1962l-9-2l41-68z"/><path style="--g:url(#qy9)" d="M2618 1921l-10-21l42-64z"/><path style="--g:url(#qya)" d="M2528 1945l-10-44l42-153z"/><path style="--g:url(#qyb)" d="M2708 1943l-10-25l42 12z"/><path style="--g:url(#qyc)" d="M2637 1925l32-13l10-17z"/><path style="--g:url(#qyd)" d="M2547 1926l32-85l10 2z"/><path style="--g:url(#qye)" d="M2458 1966l31-51l10 2z"/><path style="--g:url(#qyf)" d="M2448 1964l-10-2l42-68z"/><path style="--g:url(#qyg)" d="M2628 1923l-10-2l42-52z"/><path style="--g:url(#qyh)" d="M2538 1947l-10-2l42-52z"/><path style="--g:url(#qyi)" d="M2647 1950l32-55l10 44z"/><path style="--g:url(#qyj)" d="M2557 1951l32-108l10 2z"/><path style="--g:url(#qyk)" d="M2467 1968l32-51l10-17z"/><path style="--g:url(#qyl)" d="M2377 1969l32-13l10-13z"/><path style="--g:url(#qym)" d="M2458 1966l-10-2l41-49z"/><path class="k0" d="M2637 1925l-9-2l41-11z"/><path style="--g:url(#qyn)" d="M2547 1926l-9 21l41-106z"/><path style="--g:url(#qyo)" d="M2657 1929l32 10l9-21z"/><path style="--g:url(#qyp)" d="M2567 1930l32-85l9 55z"/><path style="--g:url(#qyq)" d="M2477 1970l32-70l9 1z"/><path style="--g:url(#qyr)" d="M2387 1971l32-28l10 17z"/><path style="--g:url(#qys)" d="M2467 1968l-9-2l41-49z"/><path style="--g:url(#qyt)" d="M2647 1950l-10-25l42-30z"/><path style="--g:url(#qyu)" d="M2557 1951l-10-25l42-83z"/><path style="--g:url(#qyv)" d="M2666 1954l32-36l10 25z"/><path style="--g:url(#qyw)" d="M2576 1890l32 10l10 21z"/><path style="--g:url(#qyx)" d="M2487 1971l31-70l10 44z"/><path style="--g:url(#qyy)" d="M2477 1970l-10-2l42-68z"/><path style="--g:url(#qyz)" d="M2657 1929l-10 21l42-11z"/><path style="--g:url(#qz0)" d="M2567 1930l-10 21l42-106z"/><path style="--g:url(#qz1)" d="M2387 1971l-10-2l42-26z"/><path class="k0" d="M2586 1934l32-13l10 2z"/><path style="--g:url(#qz2)" d="M2496 1973l32-28l10 2z"/><path style="--g:url(#qz3)" d="M2487 1971l-10-1l41-69z"/><path style="--g:url(#qz4)" d="M2666 1954l-9-25l41-11z"/><path style="--g:url(#qz5)" d="M2576 1890l-9 40l41-30z"/><path style="--g:url(#qz6)" d="M2596 1974l32-51l9 2z"/><path style="--g:url(#qz7)" d="M2506 1975l32-28l9-21z"/><path style="--g:url(#qz8)" d="M2496 1973l-9-2l41-26z"/><path style="--g:url(#qz9)" d="M2586 1934l-10-44l42 31z"/><path style="--g:url(#qza)" d="M2606 1961l31-36l10 25z"/><path style="--g:url(#qzb)" d="M2516 1977l31-51l10 25z"/><path style="--g:url(#qzc)" d="M2506 1975l-10-2l42-26z"/><path style="--g:url(#qzd)" d="M2596 1974l-10-40l42-11z"/><path style="--g:url(#qze)" d="M2615 1963l32-13l10-21z"/><path style="--g:url(#qzf)" d="M2525 1979l32-28l10-21z"/><path style="--g:url(#qzg)" d="M2516 1977l-10-2l41-49z"/><path style="--g:url(#qzh)" d="M2606 1961l-10 13l41-49z"/><path style="--g:url(#qzi)" d="M2625 1965l32-36l9 25z"/><path style="--g:url(#qzj)" d="M2535 1981l32-51l9-40z"/><path style="--g:url(#qzk)" d="M2525 1979l-9-2l41-26z"/><path class="k3" d="M2615 1963l-9-2l41-11z"/><path style="--g:url(#qzl)" d="M2545 1983l31-93l10 44z"/><path style="--g:url(#qzm)" d="M2535 1981l-10-2l42-49z"/><path style="--g:url(#qzn)" d="M2625 1965l-10-2l42-34z"/><path style="--g:url(#qzo)" d="M2554 1985l32-51l10 40z"/><path style="--g:url(#qzp)" d="M2545 1983l-10-2l41-91z"/><path style="--g:url(#qzq)" d="M2564 1987l32-13l10-13z"/><path style="--g:url(#qzr)" d="M2554 1985l-9-2l41-49z"/><path style="--g:url(#qzs)" d="M2574 1989l32-28l9 2z"/><path style="--g:url(#qzt)" d="M2583 1991l32-28l10 2z"/><path style="--g:url(#qzu)" d="M2574 1989l-10-2l42-26z"/><path style="--g:url(#qzv)" d="M2583 1991l-9-2l41-26z"/></g>
<line x1="1077.4" y1="723.8" x2="1243.5" y2="680.1" stroke="#000" stroke-width="2.2"/>
<line x1="1243.5" y1="680.1" x2="1437.0" y2="719.3" stroke="#000" stroke-width="2.2"/>
<line x1="1437.0" y1="719.3" x2="1270.9" y2="763.0" stroke="#000" stroke-width="2.2"/>
<line x1="1270.9" y1="763.0" x2="1077.4" y2="723.8" stroke="#000" stroke-width="2.2"/>
<line x1="1077.4" y1="961.8" x2="1077.4" y2="723.8" stroke="#000" stroke-width="2.2"/>
<line x1="1437.0" y1="957.3" x2="1437.0" y2="719.3" stroke="#000" stroke-width="2.2"/>
<line x1="1270.9" y1="1001.0" x2="1270.9" y2="763.0" stroke="#000" stroke-width="2.2"/>
<line x1="1077.4" y1="961.8" x2="1270.9" y2="1001.0" stroke="#000" stroke-width="2.2"/>
<line x1="1270.9" y1="1001.0" x2="1437.0" y2="957.3" stroke="#000" stroke-width="2.2"/>
<line x1="1073.4" y1="961.8" x2="1077.4" y2="961.8" stroke="#000" stroke-width="1.8"/>
<text x="1064.4" y="969.4" font-size="27" text-anchor="end">0.00</text>
<line x1="1073.4" y1="866.6" x2="1077.4" y2="866.6" stroke="#000" stroke-width="1.8"/>
<text x="1064.4" y="874.2" font-size="27" text-anchor="end">0.01</text>
<line x1="1073.4" y1="771.4" x2="1077.4" y2="771.4" stroke="#000" stroke-width="1.8"/>
<text x="1064.4" y="779.0" font-size="27" text-anchor="end">0.02</text>
<text transform="translate(1000.1,1017.9) rotate(-90)" font-size="33">Multiplicity per Si atom</text>
<line x1="1101.6" y1="966.7" x2="1101.6" y2="976.7" stroke="#000" stroke-width="1.8"/>
<text x="1093.6" y="1008.2" font-size="27" text-anchor="middle">7</text>
<line x1="1150.0" y1="976.5" x2="1150.0" y2="986.5" stroke="#000" stroke-width="1.8"/>
<text x="1142.0" y="1018.0" font-size="27" text-anchor="middle">6</text>
<line x1="1198.3" y1="986.3" x2="1198.3" y2="996.3" stroke="#000" stroke-width="1.8"/>
<text x="1190.3" y="1027.8" font-size="27" text-anchor="middle">5</text>
<line x1="1246.7" y1="996.1" x2="1246.7" y2="1006.1" stroke="#000" stroke-width="1.8"/>
<text x="1238.7" y="1037.6" font-size="27" text-anchor="middle">4</text>
<line x1="1291.7" y1="995.5" x2="1291.7" y2="1005.5" stroke="#000" stroke-width="1.8"/>
<text x="1291.7" y="1036.5" font-size="27" text-anchor="middle">2.2</text>
<line x1="1333.2" y1="984.6" x2="1333.2" y2="994.6" stroke="#000" stroke-width="1.8"/>
<text x="1333.2" y="1025.6" font-size="27" text-anchor="middle">2.4</text>
<line x1="1374.7" y1="973.7" x2="1374.7" y2="983.7" stroke="#000" stroke-width="1.8"/>
<text x="1374.7" y="1014.7" font-size="27" text-anchor="middle">2.6</text>
<line x1="1416.2" y1="962.8" x2="1416.2" y2="972.8" stroke="#000" stroke-width="1.8"/>
<text x="1416.2" y="1003.8" font-size="27" text-anchor="middle">2.8</text>
<text transform="translate(1075.7,1045.9) rotate(11.45)" font-size="32.5">Death <tspan font-style="italic">d</tspan><tspan font-style="italic" font-size="22" dy="7">j</tspan><tspan dy="-7" font-style="italic"> (Å</tspan><tspan font-size="22" dy="-12">2</tspan><tspan dy="12">)</tspan></text>
<text transform="translate(1298.2,1083.2) rotate(-14.74)" font-size="33">Birth b<tspan font-size="22" dy="7">i</tspan><tspan dy="-7"> (Å</tspan><tspan font-size="22" dy="-12">2</tspan><tspan dy="12">)</tspan></text>
<text x="1470.9" y="649.7" font-size="45.5" font-weight="bold">H</text>
<line x1="1732.2" y1="919.8" x2="1732.2" y2="681.8" stroke="#000" stroke-width="2.2"/>
<line x1="1566.2" y1="964.0" x2="1732.2" y2="919.8" stroke="#000" stroke-width="2.2"/>
<line x1="1732.2" y1="919.8" x2="1925.2" y2="958.2" stroke="#000" stroke-width="2.2"/>
<g class="srf" transform="scale(.5)"><path fill="#fff" d="M3518 2005l-386-77l332-88l386 76z"/><path style="--g:url(#qzw)" d="M3398 1869l32 2l9 2z"/><path style="--g:url(#qzx)" d="M3398 1869l-10 13l42-11z"/><path style="--g:url(#qzy)" d="M3597 1847l31 25l10 2z"/><path style="--g:url(#qzz)" d="M3507 1871l32 3l9 2z"/><path style="--g:url(#q100)" d="M3407 1886l-9-17l41 4z"/><path style="--g:url(#q101)" d="M3606 1872l32 2l10 2z"/><path style="--g:url(#q102)" d="M3507 1871l-10 14l42-11z"/><path style="--g:url(#q103)" d="M3597 1847l-10 36l41-11z"/><path style="--g:url(#q104)" d="M3526 1875l32 3l10 1z"/><path style="--g:url(#q105)" d="M3436 1877l32 2l10 2z"/><path style="--g:url(#q106)" d="M3516 1889l-9-18l41 5z"/><path style="--g:url(#q107)" d="M3606 1872l-9-25l41 27z"/><path style="--g:url(#q108)" d="M3626 1853l31 25l10 2z"/><path style="--g:url(#q109)" d="M3536 1877l32 2l9 2z"/><path style="--g:url(#q10a)" d="M3356 1895l32-13l10-13z"/><path style="--g:url(#q10b)" d="M3526 1875l-10 14l42-11z"/><path style="--g:url(#q10c)" d="M3616 1889l-10-17l42 4z"/><path style="--g:url(#q10d)" d="M3436 1877l-9 13l41-11z"/><path style="--g:url(#q10e)" d="M3276 1883l32 3l10 2z"/><path style="--g:url(#q10f)" d="M3545 1879l32 2l10 2z"/><path style="--g:url(#q10g)" d="M3366 1897l32-28l9 17z"/><path style="--g:url(#q10h)" d="M3536 1877l-10-2l42 4z"/><path style="--g:url(#q10i)" d="M3626 1853l-10 36l41-11z"/><path style="--g:url(#q10j)" d="M3446 1894l-10-17l42 4z"/><path style="--g:url(#q10k)" d="M3286 1885l32 3l9 2z"/><path style="--g:url(#q10l)" d="M3555 1896l32-13l10-36z"/><path style="--g:url(#q10m)" d="M3465 1898l32-13l10-14z"/><path style="--g:url(#q10n)" d="M3545 1879l-9-2l41 4z"/><path style="--g:url(#q10o)" d="M3276 1883l-9 14l41-11z"/><path style="--g:url(#q10p)" d="M3635 1893l-9-40l41 27z"/><path style="--g:url(#q10q)" d="M3366 1897l-10-2l42-26z"/><path style="--g:url(#q10r)" d="M3654 1881l32 3l10 2z"/><path style="--g:url(#q10s)" d="M3565 1883l32-36l9 25z"/><path style="--g:url(#q10t)" d="M3475 1900l32-29l9 18z"/><path style="--g:url(#q10u)" d="M3555 1896l-10-17l42 4z"/><path style="--g:url(#q10v)" d="M3286 1885l-10-2l42 5z"/><path style="--g:url(#q10w)" d="M3305 1889l32 2l10 2z"/><path style="--g:url(#q10x)" d="M3574 1862l32 10l10 17z"/><path style="--g:url(#q10y)" d="M3395 1888l32 2l9-13z"/><path style="--g:url(#q10z)" d="M3485 1902l31-13l10-14z"/><path style="--g:url(#q110)" d="M3565 1883l-10 13l42-49z"/><path style="--g:url(#q111)" d="M3296 1903l-10-18l41 5z"/><path style="--g:url(#q112)" d="M3654 1881l-9 14l41-11z"/><path style="--g:url(#q113)" d="M3475 1900l-10-2l42-27z"/><path style="--g:url(#q114)" d="M3584 1864l32 25l10-36z"/><path style="--g:url(#q115)" d="M3405 1890l31-13l10 17z"/><path style="--g:url(#q116)" d="M3494 1903l32-28l10 2z"/><path style="--g:url(#q117)" d="M3574 1862l-9 21l41-11z"/><path style="--g:url(#q118)" d="M3664 1899l-10-18l42 5z"/><path style="--g:url(#q119)" d="M3305 1889l-9 14l41-12z"/><path style="--g:url(#q11a)" d="M3395 1888l-10 13l42-11z"/><path style="--g:url(#q11b)" d="M3683 1887l32 3l10 1z"/><path style="--g:url(#q11c)" d="M3594 1866l32-13l9 40z"/><path style="--g:url(#q11d)" d="M3235 1910l32-13l9-14z"/><path style="--g:url(#q11e)" d="M3414 1892l32 2l10 2z"/><path style="--g:url(#q11f)" d="M3504 1867l32 10l9 2z"/><path style="--g:url(#q11g)" d="M3584 1864l-10-2l42 27z"/><path style="--g:url(#q11h)" d="M3315 1906l-10-17l42 4z"/><path style="--g:url(#q11i)" d="M3494 1903l-9-1l41-27z"/><path style="--g:url(#q11j)" d="M3225 1908l-10-17l42 4z"/><path class="k3" d="M3405 1890l-10-2l41-11z"/><path style="--g:url(#q11k)" d="M3693 1904l32-13l10-13z"/><path style="--g:url(#q11l)" d="M3244 1912l32-29l10 2z"/><path style="--g:url(#q11m)" d="M3424 1871l32 25l9 2z"/><path style="--g:url(#q11n)" d="M3514 1869l31 10l10 17z"/><path class="k0" d="M3594 1866l-10-2l42-11z"/><path style="--g:url(#q11o)" d="M3683 1887l-9 14l41-11z"/><path style="--g:url(#q11p)" d="M3504 1867l-10 36l42-26z"/><path style="--g:url(#q11q)" d="M3414 1892l-9-2l41 4z"/><path style="--g:url(#q11r)" d="M3703 1891l32-13l9 17z"/><path style="--g:url(#q11s)" d="M3613 1908l32-13l9-14z"/><path style="--g:url(#q11t)" d="M3344 1897l32 2l9 2z"/><path style="--g:url(#q11u)" d="M3254 1914l32-29l10 18z"/><path style="--g:url(#q11v)" d="M3434 1854l31 44l10 2z"/><path style="--g:url(#q11w)" d="M3523 1871l32 25l10-13z"/><path style="--g:url(#q11x)" d="M3603 1906l-9-40l41 27z"/><path style="--g:url(#q11y)" d="M3693 1904l-10-17l42 4z"/><path style="--g:url(#q11z)" d="M3514 1869l-10-2l41 12z"/><path style="--g:url(#q120)" d="M3244 1912l-9-2l41-27z"/><path style="--g:url(#q121)" d="M3424 1871l-10 21l42 4z"/><path style="--g:url(#q122)" d="M3353 1876l32 25l10-13z"/><path style="--g:url(#q123)" d="M3264 1916l32-13l9-14z"/><path style="--g:url(#q124)" d="M3623 1910l31-29l10 18z"/><path style="--g:url(#q125)" d="M3443 1875l32 25l10 2z"/><path style="--g:url(#q126)" d="M3533 1801l32 82l9-21z"/><path style="--g:url(#q127)" d="M3344 1897l-10 13l42-11z"/><path style="--g:url(#q128)" d="M3703 1891l-10 13l42-26z"/><path style="--g:url(#q129)" d="M3523 1871l-9-2l41 27z"/><path style="--g:url(#q12a)" d="M3254 1914l-10-2l42-27z"/><path style="--g:url(#q12b)" d="M3434 1854l-10 17l41 27z"/><path style="--g:url(#q12c)" d="M3363 1916l32-28l10 2z"/><path style="--g:url(#q12d)" d="M3273 1917l32-28l10 17z"/><path style="--g:url(#q12e)" d="M3184 1919l31-28l10 17z"/><path style="--g:url(#q12f)" d="M3453 1876l32 26l9 1z"/><path style="--g:url(#q12g)" d="M3543 1761l31 101l10 2z"/><path style="--g:url(#q12h)" d="M3623 1910l-10-2l41-27z"/><path style="--g:url(#q12i)" d="M3712 1908l-9-17l41 4z"/><path style="--g:url(#q12j)" d="M3353 1876l-9 21l41 4z"/><path style="--g:url(#q12k)" d="M3533 1801l-10 70l42 12z"/><path style="--g:url(#q12l)" d="M3443 1875l-9-21l41 46z"/><path style="--g:url(#q12m)" d="M3373 1880l32 10l9 2z"/><path style="--g:url(#q12n)" d="M3642 1898l32 3l9-14z"/><path style="--g:url(#q12o)" d="M3283 1862l32 44l9 2z"/><path style="--g:url(#q12p)" d="M3462 1878l32 25l10-36z"/><path style="--g:url(#q12q)" d="M3552 1805l32 59l10 2z"/><path style="--g:url(#q12r)" d="M3184 1919l-10-2l41-26z"/><path style="--g:url(#q12s)" d="M3363 1916l-10-40l42 12z"/><path style="--g:url(#q12t)" d="M3543 1761l-10 40l41 61z"/><path style="--g:url(#q12u)" d="M3273 1917l-9-1l41-27z"/><path style="--g:url(#q12v)" d="M3453 1876l-10-1l42 27z"/><path style="--g:url(#q12w)" d="M3741 1914l32-13l10-13z"/><path style="--g:url(#q12x)" d="M3382 1905l32-13l10-21z"/><path style="--g:url(#q12y)" d="M3652 1877l31 10l10 17z"/><path style="--g:url(#q12z)" d="M3472 1808l32 59l10 2z"/><path style="--g:url(#q130)" d="M3562 1837l32 29l9 40z"/><path style="--g:url(#q131)" d="M3642 1898l-10 14l42-11z"/><path style="--g:url(#q132)" d="M3373 1880l-10 36l42-26z"/><path style="--g:url(#q133)" d="M3283 1862l-10 55l42-11z"/><path style="--g:url(#q134)" d="M3552 1805l-9-44l41 103z"/><path style="--g:url(#q135)" d="M3462 1878l-9-2l41 27z"/><path style="--g:url(#q136)" d="M3751 1916l32-28l9 17z"/><path style="--g:url(#q137)" d="M3661 1917l32-13l10-13z"/><path style="--g:url(#q138)" d="M3392 1842l32 29l10-17z"/><path style="--g:url(#q139)" d="M3302 1908l32 2l10-13z"/><path style="--g:url(#q13a)" d="M3482 1840l32 29l9 2z"/><path style="--g:url(#q13b)" d="M3572 1881l31 25l10 2z"/><path style="--g:url(#q13c)" d="M3652 1877l-10 21l41-11z"/><path style="--g:url(#q13d)" d="M3382 1905l-9-25l41 12z"/><path style="--g:url(#q13e)" d="M3562 1837l-10-32l42 61z"/><path style="--g:url(#q13f)" d="M3293 1921l-10-59l41 46z"/><path style="--g:url(#q13g)" d="M3472 1808l-10 70l42-11z"/><path style="--g:url(#q13h)" d="M3402 1813l32 41l9 21z"/><path style="--g:url(#q13i)" d="M3312 1910l32-13l9-21z"/><path style="--g:url(#q13j)" d="M3761 1918l31-13l10-13z"/><path style="--g:url(#q13k)" d="M3671 1904l32-13l9 17z"/><path style="--g:url(#q13l)" d="M3491 1812l32 59l10-70z"/><path style="--g:url(#q13m)" d="M3581 1883l32 25l10 2z"/><path style="--g:url(#q13n)" d="M3661 1917l-9-40l41 27z"/><path style="--g:url(#q13o)" d="M3392 1842l-10 63l42-34z"/><path style="--g:url(#q13p)" d="M3751 1916l-10-2l42-26z"/><path style="--g:url(#q13q)" d="M3302 1908l-9 13l41-11z"/><path style="--g:url(#q13r)" d="M3482 1840l-10-32l42 61z"/><path style="--g:url(#q13s)" d="M3572 1881l-10-44l41 69z"/><path style="--g:url(#q13t)" d="M3770 1882l32 10l10 1z"/><path style="--g:url(#q13u)" d="M3411 1846l32 29l10 1z"/><path style="--g:url(#q13v)" d="M3322 1912l31-36l10 40z"/><path style="--g:url(#q13w)" d="M3501 1867l32-66l10-40z"/><path style="--g:url(#q13x)" d="M3591 1843l32 67l9 2z"/><path style="--g:url(#q13y)" d="M3671 1904l-10 13l42-26z"/><path style="--g:url(#q13z)" d="M3402 1813l-10 29l42 12z"/><path class="k3" d="M3312 1910l-10-2l42-11z"/><path style="--g:url(#q140)" d="M3581 1883l-9-2l41 27z"/><path style="--g:url(#q141)" d="M3491 1812l-9 28l41 31z"/><path style="--g:url(#q142)" d="M3780 1884l32 9l9 2z"/><path style="--g:url(#q143)" d="M3421 1912l32-36l9 2z"/><path style="--g:url(#q144)" d="M3690 1885l32 25l10 2z"/><path style="--g:url(#q145)" d="M3331 1914l32 2l10-36z"/><path style="--g:url(#q146)" d="M3511 1726l32 35l9 44z"/><path style="--g:url(#q147)" d="M3241 1930l32-13l10-55z"/><path style="--g:url(#q148)" d="M3600 1845l32 67l10-14z"/><path style="--g:url(#q149)" d="M3681 1921l-10-17l41 4z"/><path style="--g:url(#q14a)" d="M3770 1882l-9 36l41-26z"/><path style="--g:url(#q14b)" d="M3411 1846l-9-33l41 62z"/><path style="--g:url(#q14c)" d="M3591 1843l-10 40l42 27z"/><path style="--g:url(#q14d)" d="M3322 1912l-10-2l41-34z"/><path style="--g:url(#q14e)" d="M3501 1867l-10-55l42-11z"/><path style="--g:url(#q14f)" d="M3790 1886l31 9l10 18z"/><path style="--g:url(#q14g)" d="M3431 1777l31 101l10-70z"/><path style="--g:url(#q14h)" d="M3700 1910l32 2l9 2z"/><path style="--g:url(#q14i)" d="M3341 1731l32 149l9 25z"/><path style="--g:url(#q14j)" d="M3520 1776l32 29l10 32z"/><path style="--g:url(#q14k)" d="M3251 1917l32-55l10 59z"/><path style="--g:url(#q14l)" d="M3610 1847l32 51l10-21z"/><path style="--g:url(#q14m)" d="M3690 1885l-9 36l41-11z"/><path style="--g:url(#q14n)" d="M3780 1884l-10-2l42 11z"/><path style="--g:url(#q14o)" d="M3421 1912l-10-66l42 30z"/><path style="--g:url(#q14p)" d="M3331 1914l-9-2l41 4z"/><path style="--g:url(#q14q)" d="M3600 1845l-9-2l41 69z"/><path style="--g:url(#q14r)" d="M3511 1726l-10 141l42-106z"/><path style="--g:url(#q14s)" d="M3440 1731l32 77l10 32z"/><path style="--g:url(#q14t)" d="M3350 1822l32 83l10-63z"/><path style="--g:url(#q14u)" d="M3261 1934l32-13l9-13z"/><path style="--g:url(#q14v)" d="M3530 1730l32 107l10 44z"/><path style="--g:url(#q14w)" d="M3620 1890l32-13l9 40z"/><path style="--g:url(#q14x)" d="M3700 1910l-10-25l42 27z"/><path style="--g:url(#q14y)" d="M3251 1917l-10 13l42-68z"/><path style="--g:url(#q14z)" d="M3790 1886l-10-2l41 11z"/><path style="--g:url(#q150)" d="M3431 1777l-10 135l41-34z"/><path style="--g:url(#q151)" d="M3341 1731l-10 183l42-34z"/><path style="--g:url(#q152)" d="M3610 1847l-10-2l42 53z"/><path style="--g:url(#q153)" d="M3520 1776l-9-50l41 79z"/><path style="--g:url(#q154)" d="M3450 1638l32 202l9-28z"/><path style="--g:url(#q155)" d="M3360 1824l32 18l10-29z"/><path style="--g:url(#q156)" d="M3809 1889l32 25l9-36z"/><path style="--g:url(#q157)" d="M3270 1898l32 10l10 2z"/><path style="--g:url(#q158)" d="M3540 1779l32 102l9 2z"/><path style="--g:url(#q159)" d="M3629 1892l32 25l10-13z"/><path style="--g:url(#q15a)" d="M3710 1927l-10-17l41 4z"/><path style="--g:url(#q15b)" d="M3261 1934l-10-17l42 4z"/><path style="--g:url(#q15c)" d="M3440 1731l-9 46l41 31z"/><path style="--g:url(#q15d)" d="M3799 1926l-9-40l41 27z"/><path style="--g:url(#q15e)" d="M3350 1822l-9-91l41 174z"/><path style="--g:url(#q15f)" d="M3620 1890l-10-43l42 30z"/><path style="--g:url(#q15g)" d="M3530 1730l-10 46l42 61z"/><path style="--g:url(#q15h)" d="M3460 1592l31 220l10 55z"/><path style="--g:url(#q15i)" d="M3729 1916l32 2l9-36z"/><path style="--g:url(#q15j)" d="M3370 1784l32 29l9 33z"/><path style="--g:url(#q15k)" d="M3280 1900l32 10l10 2z"/><path style="--g:url(#q15l)" d="M3549 1734l32 149l10-40z"/><path style="--g:url(#q15m)" d="M3639 1875l32 29l10 17z"/><path style="--g:url(#q15n)" d="M3270 1898l-9 36l41-26z"/><path style="--g:url(#q15o)" d="M3809 1889l-10 37l42-12z"/><path style="--g:url(#q15p)" d="M3450 1638l-10 93l42 109z"/><path style="--g:url(#q15q)" d="M3360 1824l-10-2l42 20z"/><path style="--g:url(#q15r)" d="M3629 1892l-9-2l41 27z"/><path style="--g:url(#q15s)" d="M3540 1779l-10-49l42 151z"/><path style="--g:url(#q15t)" d="M3738 1933l32-51l10 2z"/><path style="--g:url(#q15u)" d="M3469 1690l32 177l10-141z"/><path style="--g:url(#q15v)" d="M3379 1691l32 155l10 66z"/><path class="k3" d="M3290 1925l32-13l9 2z"/><path style="--g:url(#q15w)" d="M3559 1688l32 155l9 2z"/><path style="--g:url(#q15x)" d="M3649 1854l32 67l9-36z"/><path style="--g:url(#q15y)" d="M3729 1916l-10 13l42-11z"/><path style="--g:url(#q15z)" d="M3280 1900l-10-2l42 12z"/><path style="--g:url(#q160)" d="M3460 1592l-10 46l41 174z"/><path style="--g:url(#q161)" d="M3639 1875l-10 17l42 12z"/><path style="--g:url(#q162)" d="M3549 1734l-9 45l41 104z"/><path style="--g:url(#q163)" d="M3370 1784l-10 40l42-11z"/><path style="--g:url(#q164)" d="M3748 1935l32-51l10 2z"/><path style="--g:url(#q165)" d="M3479 1596l32 130l9 50z"/><path style="--g:url(#q166)" d="M3389 1693l32 219l10-135z"/><path style="--g:url(#q167)" d="M3299 1885l32 29l10-183z"/><path style="--g:url(#q168)" d="M3569 1785l31 60l10 2z"/><path style="--g:url(#q169)" d="M3658 1898l32-13l10 25z"/><path style="--g:url(#q16a)" d="M3210 1943l31-13l10-13z"/><path style="--g:url(#q16b)" d="M3738 1933l-9-17l41-34z"/><path style="--g:url(#q16c)" d="M3290 1925l-10-25l42 12z"/><path style="--g:url(#q16d)" d="M3469 1690l-9-98l41 275z"/><path style="--g:url(#q16e)" d="M3379 1691l-9 93l41 62z"/><path style="--g:url(#q16f)" d="M3649 1854l-10 21l42 46z"/><path style="--g:url(#q16g)" d="M3559 1688l-10 46l42 109z"/><path style="--g:url(#q16h)" d="M3758 1898l32-12l9 40z"/><path style="--g:url(#q16i)" d="M3488 1646l32 130l10-46z"/><path style="--g:url(#q16j)" d="M3399 1742l32 35l9-46z"/><path style="--g:url(#q16k)" d="M3309 1929l32-198l9 91z"/><path style="--g:url(#q16l)" d="M3578 1829l32 18l10 43z"/><path style="--g:url(#q16m)" d="M3668 1738l32 172l10 17z"/><path style="--g:url(#q16n)" d="M3219 1945l32-28l10 17z"/><path style="--g:url(#q16o)" d="M3748 1935l-10-2l42-49z"/><path style="--g:url(#q16p)" d="M3299 1885l-9 40l41-11z"/><path style="--g:url(#q16q)" d="M3479 1596l-10 94l42 36z"/><path style="--g:url(#q16r)" d="M3389 1693l-10-2l42 221z"/><path style="--g:url(#q16s)" d="M3658 1898l-9-44l41 31z"/><path style="--g:url(#q16t)" d="M3569 1785l-10-97l41 157z"/><path style="--g:url(#q16u)" d="M3408 1792l32-61l10-93z"/><path style="--g:url(#q16v)" d="M3498 1600l32 130l10 49z"/><path style="--g:url(#q16w)" d="M3767 1923l32 3l10-37z"/><path style="--g:url(#q16x)" d="M3319 1931l31-109l10 2z"/><path style="--g:url(#q16y)" d="M3588 1741l32 149l9 2z"/><path style="--g:url(#q16z)" d="M3229 1947l32-13l9-36z"/><path style="--g:url(#q170)" d="M3678 1902l32 25l9 2z"/><path style="--g:url(#q171)" d="M3758 1898l-10 37l42-49z"/><path style="--g:url(#q172)" d="M3309 1929l-10-44l42-154z"/><path style="--g:url(#q173)" d="M3488 1646l-9-50l41 180z"/><path style="--g:url(#q174)" d="M3399 1742l-10-49l42 84z"/><path style="--g:url(#q175)" d="M3219 1945l-9-2l41-26z"/><path style="--g:url(#q176)" d="M3668 1738l-10 160l42 12z"/><path style="--g:url(#q177)" d="M3578 1829l-9-44l41 62z"/><path style="--g:url(#q178)" d="M3508 1697l32 82l9-45z"/><path class="k10" d="M3418 1794l32-156l10-46z"/><path style="--g:url(#q179)" d="M3328 1948l32-124l10-40z"/><path style="--g:url(#q17a)" d="M3598 1833l31 59l10-17z"/><path style="--g:url(#q17b)" d="M3687 1904l32 25l10-13z"/><path style="--g:url(#q17c)" d="M3239 1949l31-51l10 2z"/><path style="--g:url(#q17d)" d="M3767 1923l-9-25l41 28z"/><path style="--g:url(#q17e)" d="M3319 1931l-10-2l41-107z"/><path style="--g:url(#q17f)" d="M3498 1600l-10 46l42 84z"/><path style="--g:url(#q17g)" d="M3408 1792l-9-50l41-11z"/><path style="--g:url(#q17h)" d="M3678 1902l-10-164l42 189z"/><path style="--g:url(#q17i)" d="M3588 1741l-10 88l42 61z"/><path style="--g:url(#q17j)" d="M3517 1747l32-13l10-46z"/><path style="--g:url(#q17k)" d="M3428 1796l32-204l9 98z"/><path style="--g:url(#q17l)" d="M3338 1950l32-166l9-93z"/><path style="--g:url(#q17m)" d="M3607 1888l32-13l10-21z"/><path style="--g:url(#q17n)" d="M3697 1929l32-13l9 17z"/><path style="--g:url(#q17o)" d="M3248 1951l32-51l10 25z"/><path style="--g:url(#q17p)" d="M3508 1697l-10-97l42 179z"/><path style="--g:url(#q17q)" d="M3328 1948l-9-17l41-107z"/><path style="--g:url(#q17r)" d="M3687 1904l-9-2l41 27z"/><path style="--g:url(#q17s)" d="M3598 1833l-10-92l41 151z"/><path style="--g:url(#q17t)" d="M3418 1794l-10-2l42-154z"/><path style="--g:url(#q17u)" d="M3239 1949l-10-2l41-49z"/><path style="--g:url(#q17v)" d="M3527 1838l32-150l10 97z"/><path style="--g:url(#q17w)" d="M3437 1840l32-150l10-94z"/><path style="--g:url(#q17x)" d="M3348 1913l31-222l10 2z"/><path style="--g:url(#q17y)" d="M3617 1867l32-13l9 44z"/><path style="--g:url(#q17z)" d="M3707 1908l31 25l10 2z"/><path style="--g:url(#q180)" d="M3258 1953l32-28l9-40z"/><path style="--g:url(#q181)" d="M3338 1950l-10-2l42-164z"/><path style="--g:url(#q182)" d="M3517 1747l-9-50l41 37z"/><path style="--g:url(#q183)" d="M3697 1929l-10-25l42 12z"/><path style="--g:url(#q184)" d="M3428 1796l-10-2l42-202z"/><path style="--g:url(#q185)" d="M3248 1951l-9-2l41-49z"/><path style="--g:url(#q186)" d="M3607 1888l-9-55l41 42z"/><path style="--g:url(#q187)" d="M3537 1798l32-13l9 44z"/><path style="--g:url(#q188)" d="M3447 1914l32-318l9 50z"/><path style="--g:url(#q189)" d="M3357 1953l32-260l10 49z"/><path style="--g:url(#q18a)" d="M3626 1839l32 59l10-160z"/><path style="--g:url(#q18b)" d="M3716 1948l32-13l10-37z"/><path style="--g:url(#q18c)" d="M3268 1955l31-70l10 44z"/><path style="--g:url(#q18d)" d="M3348 1913l-10 37l41-259z"/><path style="--g:url(#q18e)" d="M3527 1838l-10-91l42-59z"/><path style="--g:url(#q18f)" d="M3707 1908l-10 21l41 4z"/><path style="--g:url(#q18g)" d="M3437 1840l-9-44l41-106z"/><path style="--g:url(#q18h)" d="M3617 1867l-10 21l42-34z"/><path style="--g:url(#q18i)" d="M3258 1953l-10-2l42-26z"/><path style="--g:url(#q18j)" d="M3546 1705l32 124l10-88z"/><path class="k10" d="M3457 1802l31-156l10-46z"/><path style="--g:url(#q18k)" d="M3367 1917l32-175l9 50z"/><path style="--g:url(#q18l)" d="M3636 1894l32-156l10 164z"/><path style="--g:url(#q18m)" d="M3277 1957l32-28l10 2z"/><path style="--g:url(#q18n)" d="M3726 1950l32-52l9 25z"/><path style="--g:url(#q18o)" d="M3357 1953l-9-40l41-220z"/><path style="--g:url(#q18p)" d="M3537 1798l-10 40l42-53z"/><path style="--g:url(#q18q)" d="M3716 1948l-9-40l41 27z"/><path style="--g:url(#q18r)" d="M3447 1914l-10-74l42-244z"/><path style="--g:url(#q18s)" d="M3268 1955l-10-2l41-68z"/><path style="--g:url(#q18t)" d="M3626 1839l-9 28l41 31z"/><path style="--g:url(#q18u)" d="M3556 1874l32-133l10 92z"/><path style="--g:url(#q18v)" d="M3466 1845l32-245l10 97z"/><path style="--g:url(#q18w)" d="M3377 1942l31-150l10 2z"/><path class="k5" d="M3646 1896l32 6l9 2z"/><path style="--g:url(#q18x)" d="M3287 1959l32-28l9 17z"/><path style="--g:url(#q18y)" d="M3367 1917l-10 36l42-211z"/><path style="--g:url(#q18z)" d="M3546 1705l-9 93l41 31z"/><path style="--g:url(#q190)" d="M3457 1802l-10 112l41-268z"/><path style="--g:url(#q191)" d="M3726 1950l-10-2l42-50z"/><path style="--g:url(#q192)" d="M3636 1894l-10-55l42-101z"/><path style="--g:url(#q193)" d="M3277 1957l-9-2l41-26z"/><path style="--g:url(#q194)" d="M3566 1804l32 29l9 55z"/><path style="--g:url(#q195)" d="M3476 1847l32-150l9 50z"/><path style="--g:url(#q196)" d="M3655 1917l32-13l10 25z"/><path style="--g:url(#q197)" d="M3386 1944l32-150l10 2z"/><path style="--g:url(#q198)" d="M3556 1874l-10-169l42 36z"/><path style="--g:url(#q199)" d="M3377 1942l-10-25l41-125z"/><path style="--g:url(#q19a)" d="M3466 1845l-9-43l41-202z"/><path class="k5" d="M3646 1896l-10-2l42 8z"/><path style="--g:url(#q19b)" d="M3287 1959l-10-2l42-26z"/><path style="--g:url(#q19c)" d="M3575 1848l32 40l10-21z"/><path style="--g:url(#q19d)" d="M3486 1807l31-60l10 91z"/><path style="--g:url(#q19e)" d="M3665 1942l32-13l10-21z"/><path style="--g:url(#q19f)" d="M3396 1923l32-127l9 44z"/><path style="--g:url(#q19g)" d="M3306 1963l32-13l10-37z"/><path style="--g:url(#q19h)" d="M3386 1944l-9-2l41-148z"/><path style="--g:url(#q19i)" d="M3566 1804l-10 70l42-41z"/><path style="--g:url(#q19j)" d="M3476 1847l-10-2l42-148z"/><path style="--g:url(#q19k)" d="M3655 1917l-9-21l41 8z"/><path style="--g:url(#q19l)" d="M3585 1903l32-36l9-28z"/><path style="--g:url(#q19m)" d="M3495 1904l32-66l10-40z"/><path style="--g:url(#q19n)" d="M3675 1921l32-13l9 40z"/><path style="--g:url(#q19o)" d="M3406 1925l31-85l10 74z"/><path style="--g:url(#q19p)" d="M3316 1964l32-51l9 40z"/><path style="--g:url(#q19q)" d="M3396 1923l-10 21l42-148z"/><path style="--g:url(#q19r)" d="M3575 1848l-9-44l41 84z"/><path style="--g:url(#q19s)" d="M3486 1807l-10 40l41-100z"/><path style="--g:url(#q19t)" d="M3665 1942l-10-25l42 12z"/><path style="--g:url(#q19u)" d="M3595 1924l31-85l10 55z"/><path style="--g:url(#q19v)" d="M3505 1925l32-127l9-93z"/><path style="--g:url(#q19w)" d="M3415 1965l32-51l10-112z"/><path style="--g:url(#q19x)" d="M3684 1945l32 3l10 2z"/><path style="--g:url(#q19y)" d="M3325 1966l32-13l10-36z"/><path style="--g:url(#q19z)" d="M3406 1925l-10-2l41-83z"/><path style="--g:url(#q1a0)" d="M3585 1903l-10-55l42 19z"/><path style="--g:url(#q1a1)" d="M3495 1904l-9-97l41 31z"/><path style="--g:url(#q1a2)" d="M3316 1964l-10-1l42-50z"/><path style="--g:url(#q1a3)" d="M3675 1921l-10 21l42-34z"/><path style="--g:url(#q1a4)" d="M3604 1854l32 40l10 2z"/><path style="--g:url(#q1a5)" d="M3515 1927l31-222l10 169z"/><path style="--g:url(#q1a6)" d="M3425 1929l32-127l9 43z"/><path style="--g:url(#q1a7)" d="M3335 1968l32-51l10 25z"/><path style="--g:url(#q1a8)" d="M3415 1965l-9-40l41-11z"/><path style="--g:url(#q1a9)" d="M3595 1924l-10-21l41-64z"/><path style="--g:url(#q1aa)" d="M3505 1925l-10-21l42-106z"/><path style="--g:url(#q1ab)" d="M3684 1945l-9-24l41 27z"/><path style="--g:url(#q1ac)" d="M3614 1909l32-13l9 21z"/><path style="--g:url(#q1ad)" d="M3524 1910l32-36l10-70z"/><path style="--g:url(#q1ae)" d="M3434 1954l32-109l10 2z"/><path class="k3" d="M3345 1955l32-13l9 2z"/><path style="--g:url(#q1af)" d="M3425 1929l-10 36l42-163z"/><path style="--g:url(#q1ag)" d="M3604 1854l-9 70l41-30z"/><path style="--g:url(#q1ah)" d="M3515 1927l-10-2l41-220z"/><path style="--g:url(#q1ai)" d="M3335 1968l-10-2l42-49z"/><path style="--g:url(#q1aj)" d="M3624 1930l31-13l10 25z"/><path style="--g:url(#q1ak)" d="M3534 1931l32-127l9 44z"/><path style="--g:url(#q1al)" d="M3444 1955l32-108l10-40z"/><path style="--g:url(#q1am)" d="M3354 1972l32-28l10-21z"/><path style="--g:url(#q1an)" d="M3434 1954l-9-25l41-84z"/><path style="--g:url(#q1ao)" d="M3614 1909l-10-55l42 42z"/><path style="--g:url(#q1ap)" d="M3524 1910l-9 17l41-53z"/><path style="--g:url(#q1aq)" d="M3345 1955l-10 13l42-26z"/><path style="--g:url(#q1ar)" d="M3633 1932l32 10l10-21z"/><path style="--g:url(#q1as)" d="M3544 1891l31-43l10 55z"/><path style="--g:url(#q1at)" d="M3454 1957l32-150l9 97z"/><path style="--g:url(#q1au)" d="M3364 1974l32-51l10 2z"/><path style="--g:url(#q1av)" d="M3444 1955l-10-1l42-107z"/><path style="--g:url(#q1aw)" d="M3624 1930l-10-21l41 8z"/><path style="--g:url(#q1ax)" d="M3534 1931l-10-21l42-106z"/><path style="--g:url(#q1ay)" d="M3354 1972l-9-17l41-11z"/><path style="--g:url(#q1az)" d="M3643 1934l32-13l9 24z"/><path style="--g:url(#q1b0)" d="M3553 1916l32-13l10 21z"/><path style="--g:url(#q1b1)" d="M3463 1936l32-32l10 21z"/><path style="--g:url(#q1b2)" d="M3374 1976l32-51l9 40z"/><path style="--g:url(#q1b3)" d="M3454 1957l-10-2l42-148z"/><path style="--g:url(#q1b4)" d="M3633 1932l-9-2l41 12z"/><path style="--g:url(#q1b5)" d="M3544 1891l-10 40l41-83z"/><path style="--g:url(#q1b6)" d="M3364 1974l-10-2l42-49z"/><path style="--g:url(#q1b7)" d="M3563 1895l32 29l9-70z"/><path style="--g:url(#q1b8)" d="M3473 1976l32-51l10 2z"/><path style="--g:url(#q1b9)" d="M3383 1963l32 2l10-36z"/><path style="--g:url(#q1ba)" d="M3463 1936l-9 21l41-53z"/><path class="k0" d="M3643 1934l-10-2l42-11z"/><path style="--g:url(#q1bb)" d="M3553 1916l-9-25l41 12z"/><path style="--g:url(#q1bc)" d="M3374 1976l-10-2l42-49z"/><path style="--g:url(#q1bd)" d="M3572 1897l32-43l10 55z"/><path style="--g:url(#q1be)" d="M3483 1940l32-13l9-17z"/><path style="--g:url(#q1bf)" d="M3393 1965l32-36l9 25z"/><path style="--g:url(#q1bg)" d="M3473 1976l-10-40l42-11z"/><path style="--g:url(#q1bh)" d="M3563 1895l-10 21l42 8z"/><path style="--g:url(#q1bi)" d="M3383 1963l-9 13l41-11z"/><path style="--g:url(#q1bj)" d="M3582 1979l32-70l10 21z"/><path style="--g:url(#q1bk)" d="M3492 1965l32-55l10 21z"/><path style="--g:url(#q1bl)" d="M3403 1982l31-28l10 1z"/><path style="--g:url(#q1bm)" d="M3483 1940l-10 36l42-49z"/><path style="--g:url(#q1bn)" d="M3572 1897l-9-2l41-41z"/><path style="--g:url(#q1bo)" d="M3393 1965l-10-2l42-34z"/><path class="k0" d="M3592 1943l32-13l9 2z"/><path style="--g:url(#q1bp)" d="M3502 1982l32-51l10-40z"/><path style="--g:url(#q1bq)" d="M3412 1984l32-29l10 2z"/><path style="--g:url(#q1br)" d="M3492 1965l-9-25l41-30z"/><path style="--g:url(#q1bs)" d="M3582 1979l-10-82l42 12z"/><path style="--g:url(#q1bt)" d="M3403 1982l-10-17l41-11z"/><path style="--g:url(#q1bu)" d="M3601 1983l32-51l10 2z"/><path style="--g:url(#q1bv)" d="M3512 1984l32-93l9 25z"/><path style="--g:url(#q1bw)" d="M3422 1986l32-29l9-21z"/><path style="--g:url(#q1bx)" d="M3502 1982l-10-17l42-34z"/><path style="--g:url(#q1by)" d="M3592 1943l-10 36l42-49z"/><path style="--g:url(#q1bz)" d="M3412 1984l-9-2l41-27z"/><path style="--g:url(#q1c0)" d="M3521 1971l32-55l10-21z"/><path style="--g:url(#q1c1)" d="M3432 1988l31-52l10 40z"/><path style="--g:url(#q1c2)" d="M3512 1984l-10-2l42-91z"/><path style="--g:url(#q1c3)" d="M3601 1983l-9-40l41-11z"/><path style="--g:url(#q1c4)" d="M3422 1986l-10-2l42-27z"/><path style="--g:url(#q1c5)" d="M3531 1988l32-93l9 2z"/><path style="--g:url(#q1c6)" d="M3441 1989l32-13l10-36z"/><path style="--g:url(#q1c7)" d="M3521 1971l-9 13l41-68z"/><path style="--g:url(#q1c8)" d="M3432 1988l-10-2l41-50z"/><path style="--g:url(#q1c9)" d="M3541 1990l31-93l10 82z"/><path style="--g:url(#q1ca)" d="M3451 1991l32-51l9 25z"/><path style="--g:url(#q1cb)" d="M3531 1988l-10-17l42-76z"/><path style="--g:url(#q1cc)" d="M3550 1992l32-13l10-36z"/><path style="--g:url(#q1cd)" d="M3460 1993l32-28l10 17z"/><path style="--g:url(#q1ce)" d="M3541 1990l-10-2l41-91z"/><path style="--g:url(#q1cf)" d="M3451 1991l-10-2l42-49z"/><path style="--g:url(#q1cg)" d="M3560 1956l32-13l9 40z"/><path style="--g:url(#q1ch)" d="M3460 1993l-9-2l41-26z"/><path style="--g:url(#q1ci)" d="M3480 1997l32-13l9-13z"/><path style="--g:url(#q1cj)" d="M3560 1956l-10 36l42-49z"/><path style="--g:url(#q1ck)" d="M3489 1999l32-28l10 17z"/><path style="--g:url(#q1cl)" d="M3489 1999l-9-2l41-26z"/><path style="--g:url(#q1cm)" d="M3509 1988l32 2l9 2z"/><path style="--g:url(#q1cn)" d="M3518 1990l32 2l10-36z"/><path style="--g:url(#q1co)" d="M3509 1988l-10 13l42-11z"/><path style="--g:url(#q1cp)" d="M3518 1990l-9-2l41 4z"/></g>
<line x1="1566.2" y1="726.0" x2="1732.2" y2="681.8" stroke="#000" stroke-width="2.2"/>
<line x1="1732.2" y1="681.8" x2="1925.2" y2="720.2" stroke="#000" stroke-width="2.2"/>
<line x1="1925.2" y1="720.2" x2="1759.2" y2="764.4" stroke="#000" stroke-width="2.2"/>
<line x1="1759.2" y1="764.4" x2="1566.2" y2="726.0" stroke="#000" stroke-width="2.2"/>
<line x1="1566.2" y1="964.0" x2="1566.2" y2="726.0" stroke="#000" stroke-width="2.2"/>
<line x1="1925.2" y1="958.2" x2="1925.2" y2="720.2" stroke="#000" stroke-width="2.2"/>
<line x1="1759.2" y1="1002.4" x2="1759.2" y2="764.4" stroke="#000" stroke-width="2.2"/>
<line x1="1566.2" y1="964.0" x2="1759.2" y2="1002.4" stroke="#000" stroke-width="2.2"/>
<line x1="1759.2" y1="1002.4" x2="1925.2" y2="958.2" stroke="#000" stroke-width="2.2"/>
<line x1="1562.2" y1="964.0" x2="1566.2" y2="964.0" stroke="#000" stroke-width="1.8"/>
<text x="1553.2" y="971.6" font-size="27" text-anchor="end">0.00</text>
<line x1="1562.2" y1="868.8" x2="1566.2" y2="868.8" stroke="#000" stroke-width="1.8"/>
<text x="1553.2" y="876.4" font-size="27" text-anchor="end">0.01</text>
<line x1="1562.2" y1="773.6" x2="1566.2" y2="773.6" stroke="#000" stroke-width="1.8"/>
<text x="1553.2" y="781.2" font-size="27" text-anchor="end">0.02</text>
<text transform="translate(1490.9,1019.1) rotate(-90)" font-size="33">Multiplicity per Si atom</text>
<line x1="1590.3" y1="968.8" x2="1590.3" y2="978.8" stroke="#000" stroke-width="1.8"/>
<text x="1582.3" y="1010.3" font-size="27" text-anchor="middle">7</text>
<line x1="1638.6" y1="978.4" x2="1638.6" y2="988.4" stroke="#000" stroke-width="1.8"/>
<text x="1630.6" y="1019.9" font-size="27" text-anchor="middle">6</text>
<line x1="1686.8" y1="988.0" x2="1686.8" y2="998.0" stroke="#000" stroke-width="1.8"/>
<text x="1678.8" y="1029.5" font-size="27" text-anchor="middle">5</text>
<line x1="1735.1" y1="997.6" x2="1735.1" y2="1007.6" stroke="#000" stroke-width="1.8"/>
<text x="1727.1" y="1039.1" font-size="27" text-anchor="middle">4</text>
<line x1="1780.0" y1="996.9" x2="1780.0" y2="1006.9" stroke="#000" stroke-width="1.8"/>
<text x="1780.0" y="1037.9" font-size="27" text-anchor="middle">2.2</text>
<line x1="1821.5" y1="985.8" x2="1821.5" y2="995.8" stroke="#000" stroke-width="1.8"/>
<text x="1821.5" y="1026.8" font-size="27" text-anchor="middle">2.4</text>
<line x1="1863.0" y1="974.8" x2="1863.0" y2="984.8" stroke="#000" stroke-width="1.8"/>
<text x="1863.0" y="1015.8" font-size="27" text-anchor="middle">2.6</text>
<line x1="1904.5" y1="963.7" x2="1904.5" y2="973.7" stroke="#000" stroke-width="1.8"/>
<text x="1904.5" y="1004.7" font-size="27" text-anchor="middle">2.8</text>
<text transform="translate(1562.7,1045.9) rotate(11.25)" font-size="32.5">Death <tspan font-style="italic">d</tspan><tspan font-style="italic" font-size="22" dy="7">j</tspan><tspan dy="-7" font-style="italic"> (Å</tspan><tspan font-size="22" dy="-12">2</tspan><tspan dy="12">)</tspan></text>
<text transform="translate(1789.4,1083.2) rotate(-14.91)" font-size="33">Birth b<tspan font-size="22" dy="7">i</tspan><tspan dy="-7"> (Å</tspan><tspan font-size="22" dy="-12">2</tspan><tspan dy="12">)</tspan></text>
</svg>
</body></html>
